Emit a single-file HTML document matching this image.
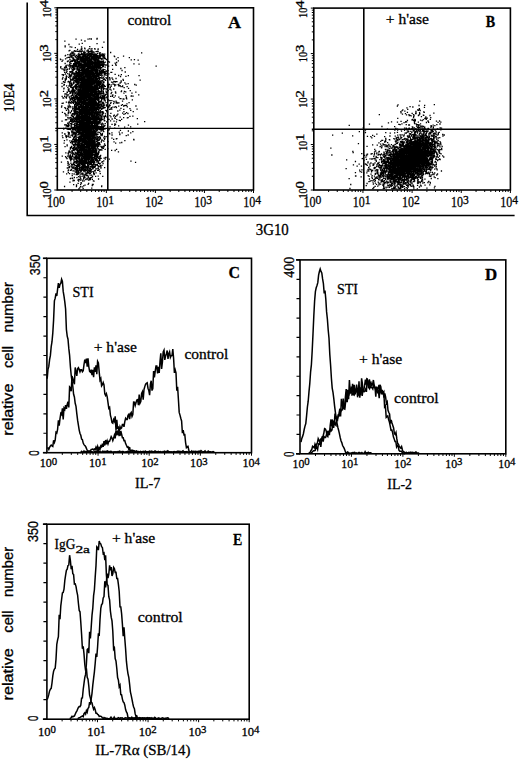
<!DOCTYPE html>
<html><head><meta charset="utf-8"><style>html,body{margin:0;padding:0;background:#fff;}svg{display:block;}</style></head>
<body><svg width="520" height="759" viewBox="0 0 520 759">
<rect width="520" height="759" fill="#fff"/>
<path d="M27.2 2.5V215.5H514.6" fill="none" stroke="#000" stroke-width="1.6"/>
<text transform="translate(13.80,112.20) rotate(-90)" font-size="15" font-family='"Liberation Serif", serif' textLength="28.7" lengthAdjust="spacingAndGlyphs" stroke="#000" stroke-width="0.3">10E4</text>
<text x="255.80" y="235.20" font-size="16" font-family='"Liberation Serif", serif' textLength="33.0" lengthAdjust="spacingAndGlyphs" stroke="#000" stroke-width="0.3">3G10</text>
<rect x="57.30" y="7.80" width="196.20" height="182.20" fill="none" stroke="#000" stroke-width="1.6"/>
<line x1="107.80" y1="7.80" x2="107.80" y2="190.00" stroke="#000" stroke-width="1.6"/>
<line x1="55.30" y1="128.40" x2="253.50" y2="128.40" stroke="#000" stroke-width="1.4"/>
<path d="M72.07 190.00v2.0M80.70 190.00v2.0M86.83 190.00v2.0M91.58 190.00v2.0M95.47 190.00v2.0M98.75 190.00v2.0M101.60 190.00v2.0M104.11 190.00v2.0M106.35 190.00v3.0M121.12 190.00v2.0M129.75 190.00v2.0M135.88 190.00v2.0M140.63 190.00v2.0M144.52 190.00v2.0M147.80 190.00v2.0M150.65 190.00v2.0M153.16 190.00v2.0M155.40 190.00v3.0M170.17 190.00v2.0M178.80 190.00v2.0M184.93 190.00v2.0M189.68 190.00v2.0M193.57 190.00v2.0M196.85 190.00v2.0M199.70 190.00v2.0M202.21 190.00v2.0M204.45 190.00v3.0M219.22 190.00v2.0M227.85 190.00v2.0M233.98 190.00v2.0M238.73 190.00v2.0M242.62 190.00v2.0M245.90 190.00v2.0M248.75 190.00v2.0M251.26 190.00v2.0M253.50 190.00v3.0" stroke="#000" stroke-width="1.0" fill="none"/>
<path d="M57.30 190.00h-3.0M57.30 176.29h-2.0M57.30 168.27h-2.0M57.30 162.58h-2.0M57.30 158.16h-2.0M57.30 154.56h-2.0M57.30 151.51h-2.0M57.30 148.86h-2.0M57.30 146.53h-2.0M57.30 144.45h-3.0M57.30 130.74h-2.0M57.30 122.72h-2.0M57.30 117.03h-2.0M57.30 112.61h-2.0M57.30 109.01h-2.0M57.30 105.96h-2.0M57.30 103.31h-2.0M57.30 100.98h-2.0M57.30 98.90h-3.0M57.30 85.19h-2.0M57.30 77.17h-2.0M57.30 71.48h-2.0M57.30 67.06h-2.0M57.30 63.46h-2.0M57.30 60.41h-2.0M57.30 57.76h-2.0M57.30 55.43h-2.0M57.30 53.35h-3.0M57.30 39.64h-2.0M57.30 31.62h-2.0M57.30 25.93h-2.0M57.30 21.51h-2.0M57.30 17.91h-2.0M57.30 14.86h-2.0M57.30 12.21h-2.0M57.30 9.88h-2.0M57.30 7.80h-3.0" stroke="#000" stroke-width="1.0" fill="none"/>
<text x="47.10" y="206.70" font-size="14.6" font-family='"Liberation Serif", serif' textLength="12.0" lengthAdjust="spacingAndGlyphs" stroke="#000" stroke-width="0.3">10</text>
<text x="59.10" y="203.50" font-size="12.0" font-family='"Liberation Serif", serif' textLength="5.8" lengthAdjust="spacingAndGlyphs" stroke="#000" stroke-width="0.3">0</text>
<text x="96.15" y="206.70" font-size="14.6" font-family='"Liberation Serif", serif' textLength="12.0" lengthAdjust="spacingAndGlyphs" stroke="#000" stroke-width="0.3">10</text>
<text x="108.15" y="203.50" font-size="12.0" font-family='"Liberation Serif", serif' textLength="5.8" lengthAdjust="spacingAndGlyphs" stroke="#000" stroke-width="0.3">1</text>
<text x="145.20" y="206.70" font-size="14.6" font-family='"Liberation Serif", serif' textLength="12.0" lengthAdjust="spacingAndGlyphs" stroke="#000" stroke-width="0.3">10</text>
<text x="157.20" y="203.50" font-size="12.0" font-family='"Liberation Serif", serif' textLength="5.8" lengthAdjust="spacingAndGlyphs" stroke="#000" stroke-width="0.3">2</text>
<text x="194.25" y="206.70" font-size="14.6" font-family='"Liberation Serif", serif' textLength="12.0" lengthAdjust="spacingAndGlyphs" stroke="#000" stroke-width="0.3">10</text>
<text x="206.25" y="203.50" font-size="12.0" font-family='"Liberation Serif", serif' textLength="5.8" lengthAdjust="spacingAndGlyphs" stroke="#000" stroke-width="0.3">3</text>
<text x="243.30" y="206.70" font-size="14.6" font-family='"Liberation Serif", serif' textLength="12.0" lengthAdjust="spacingAndGlyphs" stroke="#000" stroke-width="0.3">10</text>
<text x="255.30" y="203.50" font-size="12.0" font-family='"Liberation Serif", serif' textLength="5.8" lengthAdjust="spacingAndGlyphs" stroke="#000" stroke-width="0.3">4</text>
<text transform="translate(51.20,198.60) rotate(-90)" font-size="13.5" font-family='"Liberation Serif", serif' textLength="10.2" lengthAdjust="spacingAndGlyphs" stroke="#000" stroke-width="0.3">10</text>
<text transform="translate(48.20,188.40) rotate(-90)" font-size="11.5" font-family='"Liberation Serif", serif' textLength="7.4" lengthAdjust="spacingAndGlyphs" stroke="#000" stroke-width="0.3">0</text>
<text transform="translate(51.20,153.05) rotate(-90)" font-size="13.5" font-family='"Liberation Serif", serif' textLength="10.2" lengthAdjust="spacingAndGlyphs" stroke="#000" stroke-width="0.3">10</text>
<text transform="translate(48.20,142.85) rotate(-90)" font-size="11.5" font-family='"Liberation Serif", serif' textLength="7.4" lengthAdjust="spacingAndGlyphs" stroke="#000" stroke-width="0.3">1</text>
<text transform="translate(51.20,107.50) rotate(-90)" font-size="13.5" font-family='"Liberation Serif", serif' textLength="10.2" lengthAdjust="spacingAndGlyphs" stroke="#000" stroke-width="0.3">10</text>
<text transform="translate(48.20,97.30) rotate(-90)" font-size="11.5" font-family='"Liberation Serif", serif' textLength="7.4" lengthAdjust="spacingAndGlyphs" stroke="#000" stroke-width="0.3">2</text>
<text transform="translate(51.20,61.95) rotate(-90)" font-size="13.5" font-family='"Liberation Serif", serif' textLength="10.2" lengthAdjust="spacingAndGlyphs" stroke="#000" stroke-width="0.3">10</text>
<text transform="translate(48.20,51.75) rotate(-90)" font-size="11.5" font-family='"Liberation Serif", serif' textLength="7.4" lengthAdjust="spacingAndGlyphs" stroke="#000" stroke-width="0.3">3</text>
<text transform="translate(51.20,17.40) rotate(-90)" font-size="13.5" font-family='"Liberation Serif", serif' textLength="10.2" lengthAdjust="spacingAndGlyphs" stroke="#000" stroke-width="0.3">10</text>
<text transform="translate(48.20,7.20) rotate(-90)" font-size="11.5" font-family='"Liberation Serif", serif' textLength="7.4" lengthAdjust="spacingAndGlyphs" stroke="#000" stroke-width="0.3">4</text>
<text x="127.50" y="24.80" font-size="15" font-family='"Liberation Serif", serif' textLength="43.8" lengthAdjust="spacingAndGlyphs" stroke="#000" stroke-width="0.3">control</text>
<text x="228.10" y="27.60" font-size="17.5" font-family='"Liberation Serif", serif' font-weight="bold" textLength="13.0" lengthAdjust="spacingAndGlyphs" stroke="#000" stroke-width="0.3">A</text>
<rect x="313.80" y="8.10" width="196.60" height="181.90" fill="none" stroke="#000" stroke-width="1.6"/>
<line x1="363.80" y1="8.10" x2="363.80" y2="190.00" stroke="#000" stroke-width="1.6"/>
<line x1="311.80" y1="129.20" x2="510.40" y2="129.20" stroke="#000" stroke-width="1.4"/>
<path d="M328.60 190.00v2.0M337.25 190.00v2.0M343.39 190.00v2.0M348.15 190.00v2.0M352.05 190.00v2.0M355.34 190.00v2.0M358.19 190.00v2.0M360.70 190.00v2.0M362.95 190.00v3.0M377.75 190.00v2.0M386.40 190.00v2.0M392.54 190.00v2.0M397.30 190.00v2.0M401.20 190.00v2.0M404.49 190.00v2.0M407.34 190.00v2.0M409.85 190.00v2.0M412.10 190.00v3.0M426.90 190.00v2.0M435.55 190.00v2.0M441.69 190.00v2.0M446.45 190.00v2.0M450.35 190.00v2.0M453.64 190.00v2.0M456.49 190.00v2.0M459.00 190.00v2.0M461.25 190.00v3.0M476.05 190.00v2.0M484.70 190.00v2.0M490.84 190.00v2.0M495.60 190.00v2.0M499.50 190.00v2.0M502.79 190.00v2.0M505.64 190.00v2.0M508.15 190.00v2.0M510.40 190.00v3.0" stroke="#000" stroke-width="1.0" fill="none"/>
<path d="M313.80 190.00h-3.0M313.80 176.31h-2.0M313.80 168.30h-2.0M313.80 162.62h-2.0M313.80 158.21h-2.0M313.80 154.61h-2.0M313.80 151.57h-2.0M313.80 148.93h-2.0M313.80 146.61h-2.0M313.80 144.53h-3.0M313.80 130.84h-2.0M313.80 122.83h-2.0M313.80 117.15h-2.0M313.80 112.74h-2.0M313.80 109.14h-2.0M313.80 106.09h-2.0M313.80 103.46h-2.0M313.80 101.13h-2.0M313.80 99.05h-3.0M313.80 85.36h-2.0M313.80 77.35h-2.0M313.80 71.67h-2.0M313.80 67.26h-2.0M313.80 63.66h-2.0M313.80 60.62h-2.0M313.80 57.98h-2.0M313.80 55.66h-2.0M313.80 53.57h-3.0M313.80 39.89h-2.0M313.80 31.88h-2.0M313.80 26.20h-2.0M313.80 21.79h-2.0M313.80 18.19h-2.0M313.80 15.14h-2.0M313.80 12.51h-2.0M313.80 10.18h-2.0M313.80 8.10h-3.0" stroke="#000" stroke-width="1.0" fill="none"/>
<text x="303.60" y="206.70" font-size="14.6" font-family='"Liberation Serif", serif' textLength="12.0" lengthAdjust="spacingAndGlyphs" stroke="#000" stroke-width="0.3">10</text>
<text x="315.60" y="203.50" font-size="12.0" font-family='"Liberation Serif", serif' textLength="5.8" lengthAdjust="spacingAndGlyphs" stroke="#000" stroke-width="0.3">0</text>
<text x="352.75" y="206.70" font-size="14.6" font-family='"Liberation Serif", serif' textLength="12.0" lengthAdjust="spacingAndGlyphs" stroke="#000" stroke-width="0.3">10</text>
<text x="364.75" y="203.50" font-size="12.0" font-family='"Liberation Serif", serif' textLength="5.8" lengthAdjust="spacingAndGlyphs" stroke="#000" stroke-width="0.3">1</text>
<text x="401.90" y="206.70" font-size="14.6" font-family='"Liberation Serif", serif' textLength="12.0" lengthAdjust="spacingAndGlyphs" stroke="#000" stroke-width="0.3">10</text>
<text x="413.90" y="203.50" font-size="12.0" font-family='"Liberation Serif", serif' textLength="5.8" lengthAdjust="spacingAndGlyphs" stroke="#000" stroke-width="0.3">2</text>
<text x="451.05" y="206.70" font-size="14.6" font-family='"Liberation Serif", serif' textLength="12.0" lengthAdjust="spacingAndGlyphs" stroke="#000" stroke-width="0.3">10</text>
<text x="463.05" y="203.50" font-size="12.0" font-family='"Liberation Serif", serif' textLength="5.8" lengthAdjust="spacingAndGlyphs" stroke="#000" stroke-width="0.3">3</text>
<text x="500.20" y="206.70" font-size="14.6" font-family='"Liberation Serif", serif' textLength="12.0" lengthAdjust="spacingAndGlyphs" stroke="#000" stroke-width="0.3">10</text>
<text x="512.20" y="203.50" font-size="12.0" font-family='"Liberation Serif", serif' textLength="5.8" lengthAdjust="spacingAndGlyphs" stroke="#000" stroke-width="0.3">4</text>
<text transform="translate(306.60,198.60) rotate(-90)" font-size="13.5" font-family='"Liberation Serif", serif' textLength="10.2" lengthAdjust="spacingAndGlyphs" stroke="#000" stroke-width="0.3">10</text>
<text transform="translate(303.60,188.40) rotate(-90)" font-size="11.5" font-family='"Liberation Serif", serif' textLength="7.4" lengthAdjust="spacingAndGlyphs" stroke="#000" stroke-width="0.3">0</text>
<text transform="translate(306.60,151.12) rotate(-90)" font-size="13.5" font-family='"Liberation Serif", serif' textLength="10.2" lengthAdjust="spacingAndGlyphs" stroke="#000" stroke-width="0.3">10</text>
<text transform="translate(303.60,140.93) rotate(-90)" font-size="11.5" font-family='"Liberation Serif", serif' textLength="7.4" lengthAdjust="spacingAndGlyphs" stroke="#000" stroke-width="0.3">1</text>
<text transform="translate(306.60,107.65) rotate(-90)" font-size="13.5" font-family='"Liberation Serif", serif' textLength="10.2" lengthAdjust="spacingAndGlyphs" stroke="#000" stroke-width="0.3">10</text>
<text transform="translate(303.60,97.45) rotate(-90)" font-size="11.5" font-family='"Liberation Serif", serif' textLength="7.4" lengthAdjust="spacingAndGlyphs" stroke="#000" stroke-width="0.3">2</text>
<text transform="translate(306.60,62.17) rotate(-90)" font-size="13.5" font-family='"Liberation Serif", serif' textLength="10.2" lengthAdjust="spacingAndGlyphs" stroke="#000" stroke-width="0.3">10</text>
<text transform="translate(303.60,51.97) rotate(-90)" font-size="11.5" font-family='"Liberation Serif", serif' textLength="7.4" lengthAdjust="spacingAndGlyphs" stroke="#000" stroke-width="0.3">3</text>
<text transform="translate(306.60,17.90) rotate(-90)" font-size="13.5" font-family='"Liberation Serif", serif' textLength="10.2" lengthAdjust="spacingAndGlyphs" stroke="#000" stroke-width="0.3">10</text>
<text transform="translate(303.60,7.70) rotate(-90)" font-size="11.5" font-family='"Liberation Serif", serif' textLength="7.4" lengthAdjust="spacingAndGlyphs" stroke="#000" stroke-width="0.3">4</text>
<text x="385.80" y="23.60" font-size="15" font-family='"Liberation Serif", serif' textLength="43.2" lengthAdjust="spacingAndGlyphs" stroke="#000" stroke-width="0.3">+ h'ase</text>
<text x="485.80" y="27.00" font-size="16.5" font-family='"Liberation Serif", serif' font-weight="bold" textLength="9.4" lengthAdjust="spacingAndGlyphs" stroke="#000" stroke-width="0.3">B</text>
<path d="M69.6 100.2h1.3M81.2 84.1h1.3M87.8 96.9h1.3M83.4 53.4h1.3M78.0 74.3h1.3M78.1 70.5h1.3M91.8 94.1h1.3M72.4 52.2h1.3M88.3 137.8h1.3M89.7 86.6h1.3M78.6 56.7h1.3M97.3 99.8h1.3M78.7 159.4h1.3M81.3 169.8h1.3M85.8 103.2h1.3M84.1 156.6h1.3M78.1 159.2h1.3M82.7 99.5h1.3M81.8 160.3h1.3M97.0 53.4h1.3M90.1 134.1h1.3M89.4 150.4h1.3M89.1 170.4h1.3M69.6 149.2h1.3M99.5 121.0h1.3M98.1 66.3h1.3M94.1 97.9h1.3M75.0 168.9h1.3M91.2 87.9h1.3M96.4 123.8h1.3M98.4 78.8h1.3M85.8 117.6h1.3M83.4 148.7h1.3M82.6 159.0h1.3M69.7 93.0h1.3M93.4 135.1h1.3M86.4 144.8h1.3M91.0 51.8h1.3M88.5 57.7h1.3M100.7 111.8h1.3M94.4 158.7h1.3M90.0 75.7h1.3M77.0 134.8h1.3M82.2 97.7h1.3M84.9 115.4h1.3M86.9 112.0h1.3M88.7 61.0h1.3M96.5 98.5h1.3M92.0 73.4h1.3M80.6 105.0h1.3M95.4 59.9h1.3M88.6 136.0h1.3M89.2 72.4h1.3M84.0 58.6h1.3M96.8 63.4h1.3M83.1 146.1h1.3M85.9 110.3h1.3M91.2 128.9h1.3M80.5 60.9h1.3M80.2 67.3h1.3M88.9 62.8h1.3M73.9 132.8h1.3M90.2 62.1h1.3M102.3 112.0h1.3M79.7 153.1h1.3M87.6 99.2h1.3M73.0 68.1h1.3M91.3 73.8h1.3M103.9 71.7h1.3M90.3 57.1h1.3M100.7 80.8h1.3M69.5 83.5h1.3M75.8 155.5h1.3M80.0 184.4h1.3M103.3 86.4h1.3M84.7 86.0h1.3M80.9 160.7h1.3M91.8 156.9h1.3M88.2 54.1h1.3M87.4 131.4h1.3M97.3 111.6h1.3M93.0 138.2h1.3M86.6 69.0h1.3M83.9 113.0h1.3M81.0 98.2h1.3M81.1 93.1h1.3M96.7 81.6h1.3M84.5 158.1h1.3M81.7 131.9h1.3M85.5 101.8h1.3M89.8 141.8h1.3M96.6 66.6h1.3M79.4 55.7h1.3M84.2 69.8h1.3M83.8 135.7h1.3M84.3 90.6h1.3M95.2 81.4h1.3M96.5 56.7h1.3M88.2 148.9h1.3M79.4 110.3h1.3M98.9 54.2h1.3M87.0 118.1h1.3M80.4 133.6h1.3M100.8 78.0h1.3M80.8 91.7h1.3M89.8 158.0h1.3M100.0 56.7h1.3M84.7 82.0h1.3M91.9 134.2h1.3M88.2 133.6h1.3M95.7 113.8h1.3M92.0 146.6h1.3M94.6 107.3h1.3M96.7 115.5h1.3M92.3 77.9h1.3M87.3 145.9h1.3M78.3 58.6h1.3M100.0 126.7h1.3M86.4 131.3h1.3M83.8 123.6h1.3M84.8 155.6h1.3M94.4 98.9h1.3M84.9 93.5h1.3M82.4 60.0h1.3M98.3 100.2h1.3M89.6 139.6h1.3M74.3 68.6h1.3M88.3 63.8h1.3M76.1 171.4h1.3M101.6 80.6h1.3M77.7 99.3h1.3M96.0 129.5h1.3M80.2 66.8h1.3M102.8 69.5h1.3M88.9 59.4h1.3M91.2 100.8h1.3M80.5 127.1h1.3M91.9 125.1h1.3M92.7 158.0h1.3M93.8 112.9h1.3M88.1 108.0h1.3M80.5 49.1h1.3M80.7 140.6h1.3M87.9 102.4h1.3M82.9 94.1h1.3M84.9 156.8h1.3M73.7 164.4h1.3M99.5 69.4h1.3M88.4 138.0h1.3M82.5 161.6h1.3M73.1 90.3h1.3M70.8 68.2h1.3M84.3 63.5h1.3M72.6 144.5h1.3M83.0 78.2h1.3M82.3 123.5h1.3M96.7 64.8h1.3M81.0 144.2h1.3M95.6 121.7h1.3M87.2 104.0h1.3M82.4 84.2h1.3M90.9 70.8h1.3M83.3 85.5h1.3M79.8 82.8h1.3M82.4 109.8h1.3M99.8 68.7h1.3M92.7 69.4h1.3M90.2 55.3h1.3M90.3 122.2h1.3M66.4 158.5h1.3M88.5 127.6h1.3M82.9 78.2h1.3M81.1 54.8h1.3M88.1 158.7h1.3M75.8 174.6h1.3M85.2 130.0h1.3M76.8 174.6h1.3M76.2 137.3h1.3M72.9 134.0h1.3M89.8 81.3h1.3M78.0 121.8h1.3M79.5 149.2h1.3M81.7 67.4h1.3M74.2 144.1h1.3M70.0 87.2h1.3M91.7 56.4h1.3M101.5 127.4h1.3M62.2 97.8h1.3M82.0 99.1h1.3M81.1 66.3h1.3M73.1 147.4h1.3M77.8 152.4h1.3M84.7 58.9h1.3M91.2 52.4h1.3M73.9 148.1h1.3M84.9 101.1h1.3M78.6 91.0h1.3M76.7 144.0h1.3M83.5 118.8h1.3M101.5 126.5h1.3M93.5 113.7h1.3M89.4 74.6h1.3M100.5 55.0h1.3M93.6 68.6h1.3M93.8 134.1h1.3M96.2 123.2h1.3M86.7 55.7h1.3M100.4 82.0h1.3M92.0 133.1h1.3M77.2 160.6h1.3M94.6 69.3h1.3M103.6 116.5h1.3M91.0 159.9h1.3M74.7 93.7h1.3M91.3 66.6h1.3M96.4 119.5h1.3M85.5 63.0h1.3M80.2 102.3h1.3M98.2 93.0h1.3M95.5 136.9h1.3M105.1 94.4h1.3M106.8 99.3h1.3M76.6 125.3h1.3M83.9 126.5h1.3M86.4 115.4h1.3M80.3 111.6h1.3M84.0 154.5h1.3M92.3 72.2h1.3M72.8 59.2h1.3M81.1 49.3h1.3M78.7 144.5h1.3M90.9 166.8h1.3M85.2 56.8h1.3M83.6 60.3h1.3M85.4 143.4h1.3M92.1 96.2h1.3M103.0 125.9h1.3M84.0 118.8h1.3M71.4 120.3h1.3M92.8 147.8h1.3M94.2 106.4h1.3M79.0 57.1h1.3M67.6 129.3h1.3M94.8 94.8h1.3M96.2 161.1h1.3M92.2 106.2h1.3M87.6 81.0h1.3M86.9 138.6h1.3M101.1 126.1h1.3M90.6 91.0h1.3M79.0 160.5h1.3M96.6 66.0h1.3M81.3 69.3h1.3M92.2 71.7h1.3M76.9 116.6h1.3M87.8 146.6h1.3M93.8 166.5h1.3M89.5 70.6h1.3M79.6 124.1h1.3M87.4 113.4h1.3M91.6 129.0h1.3M76.5 62.1h1.3M90.6 117.2h1.3M87.7 170.2h1.3M88.5 97.6h1.3M85.6 83.0h1.3M85.4 134.3h1.3M90.0 146.2h1.3M87.9 166.2h1.3M81.3 83.4h1.3M81.1 116.1h1.3M75.9 171.9h1.3M93.8 56.2h1.3M77.7 108.5h1.3M75.6 60.1h1.3M81.8 107.7h1.3M74.7 47.6h1.3M90.2 54.9h1.3M83.1 52.4h1.3M75.6 140.7h1.3M100.0 93.6h1.3M91.9 117.2h1.3M79.6 154.8h1.3M102.4 63.4h1.3M79.5 121.3h1.3M94.9 88.9h1.3M87.2 138.9h1.3M93.8 96.8h1.3M85.0 160.3h1.3M78.0 103.4h1.3M86.5 130.3h1.3M93.9 96.1h1.3M95.8 83.7h1.3M103.7 98.3h1.3M89.7 51.4h1.3M79.9 79.4h1.3M97.6 94.9h1.3M83.9 145.6h1.3M87.0 151.6h1.3M102.1 84.0h1.3M86.6 76.6h1.3M91.7 58.6h1.3M94.3 84.8h1.3M75.6 160.0h1.3M78.4 116.8h1.3M100.9 85.7h1.3M80.7 143.4h1.3M88.2 67.5h1.3M97.4 98.2h1.3M70.6 101.3h1.3M94.5 77.9h1.3M96.0 66.6h1.3M80.8 94.2h1.3M81.0 117.9h1.3M80.0 97.7h1.3M87.7 103.0h1.3M83.1 94.6h1.3M83.5 168.3h1.3M78.3 62.7h1.3M98.6 142.7h1.3M75.3 165.6h1.3M82.9 113.5h1.3M96.0 108.4h1.3M70.8 127.1h1.3M86.3 141.9h1.3M78.5 76.9h1.3M70.9 159.3h1.3M90.9 162.0h1.3M102.5 88.3h1.3M96.7 145.1h1.3M94.4 118.7h1.3M72.7 127.4h1.3M85.6 131.0h1.3M71.7 143.8h1.3M78.6 122.7h1.3M80.9 129.3h1.3M94.9 78.0h1.3M89.6 63.8h1.3M84.1 76.1h1.3M90.5 72.5h1.3M85.8 154.2h1.3M86.6 54.8h1.3M75.8 103.3h1.3M101.2 67.7h1.3M89.3 54.7h1.3M84.4 66.3h1.3M96.7 124.8h1.3M95.6 60.2h1.3M94.7 113.9h1.3M100.9 89.9h1.3M88.6 152.2h1.3M83.5 62.5h1.3M65.3 115.9h1.3M97.5 118.8h1.3M92.7 133.7h1.3M85.6 91.3h1.3M76.2 129.1h1.3M86.7 109.3h1.3M72.3 168.5h1.3M83.4 113.5h1.3M93.2 102.8h1.3M75.7 80.8h1.3M91.7 165.6h1.3M82.5 160.6h1.3M75.4 71.9h1.3M93.4 52.9h1.3M79.9 122.8h1.3M74.8 87.7h1.3M95.0 127.5h1.3M83.3 96.1h1.3M69.1 106.1h1.3M86.4 129.4h1.3M89.2 83.8h1.3M85.8 58.3h1.3M87.9 134.5h1.3M85.5 69.2h1.3M80.3 153.5h1.3M88.8 94.4h1.3M83.4 91.5h1.3M102.0 66.7h1.3M81.2 85.3h1.3M78.6 164.1h1.3M97.0 112.1h1.3M106.2 73.4h1.3M81.1 50.9h1.3M97.3 157.0h1.3M94.0 96.8h1.3M84.7 113.2h1.3M85.4 152.5h1.3M82.6 130.6h1.3M97.0 96.5h1.3M92.2 80.4h1.3M82.0 133.1h1.3M103.4 76.1h1.3M74.4 78.5h1.3M76.8 103.6h1.3M81.1 109.0h1.3M82.4 69.8h1.3M80.6 128.8h1.3M85.3 146.7h1.3M81.6 130.9h1.3M82.8 127.6h1.3M93.4 53.0h1.3M79.3 73.7h1.3M92.2 154.0h1.3M78.6 69.7h1.3M91.6 135.8h1.3M87.7 83.2h1.3M96.0 82.6h1.3M85.3 66.7h1.3M92.0 91.6h1.3M88.3 94.0h1.3M87.7 136.0h1.3M80.3 126.1h1.3M88.9 72.8h1.3M69.3 98.2h1.3M96.9 72.7h1.3M85.4 75.8h1.3M95.0 134.3h1.3M90.2 87.3h1.3M92.7 98.6h1.3M90.8 111.9h1.3M76.2 93.9h1.3M83.6 64.9h1.3M92.5 58.6h1.3M95.8 97.9h1.3M88.9 90.0h1.3M71.1 101.9h1.3M69.4 59.5h1.3M70.9 91.6h1.3M102.1 102.5h1.3M90.6 110.2h1.3M83.5 130.3h1.3M75.7 57.8h1.3M97.5 176.2h1.3M70.2 156.4h1.3M94.3 153.9h1.3M76.6 86.5h1.3M75.8 133.1h1.3M94.0 135.1h1.3M80.8 79.7h1.3M73.1 59.7h1.3M83.3 154.5h1.3M67.0 123.1h1.3M103.9 58.4h1.3M99.5 137.1h1.3M86.7 84.9h1.3M78.3 63.5h1.3M94.6 105.8h1.3M78.7 139.0h1.3M100.2 105.2h1.3M79.8 97.9h1.3M92.0 89.1h1.3M95.7 151.6h1.3M81.8 64.2h1.3M87.1 154.2h1.3M90.3 98.8h1.3M81.7 119.7h1.3M79.4 152.9h1.3M90.2 97.3h1.3M84.6 109.6h1.3M91.2 151.9h1.3M84.4 97.3h1.3M83.3 137.9h1.3M84.0 60.8h1.3M93.9 74.7h1.3M92.8 140.4h1.3M86.4 147.7h1.3M70.5 135.4h1.3M91.5 147.6h1.3M90.2 77.8h1.3M87.9 142.4h1.3M87.5 68.5h1.3M92.0 109.0h1.3M79.9 95.8h1.3M85.2 133.0h1.3M88.6 153.5h1.3M71.2 98.4h1.3M85.5 158.5h1.3M79.7 139.4h1.3M84.4 140.0h1.3M92.3 139.1h1.3M76.8 62.3h1.3M100.0 65.7h1.3M86.9 125.8h1.3M65.6 135.8h1.3M81.1 160.9h1.3M97.3 94.0h1.3M84.8 134.5h1.3M100.5 106.7h1.3M92.5 113.2h1.3M80.1 99.5h1.3M82.0 56.2h1.3M87.7 78.2h1.3M101.0 186.7h1.3M80.5 64.3h1.3M91.4 107.7h1.3M86.5 124.4h1.3M84.8 81.7h1.3M77.1 77.8h1.3M84.6 158.9h1.3M88.3 62.1h1.3M95.5 155.8h1.3M87.8 180.1h1.3M83.3 80.5h1.3M64.4 146.7h1.3M86.8 67.8h1.3M83.8 119.6h1.3M89.2 71.8h1.3M98.3 64.3h1.3M85.7 94.5h1.3M86.1 64.0h1.3M74.8 108.7h1.3M71.7 151.2h1.3M65.5 119.6h1.3M74.6 113.4h1.3M84.8 61.8h1.3M79.8 113.8h1.3M84.4 94.6h1.3M103.2 71.7h1.3M87.9 129.9h1.3M85.4 70.2h1.3M89.8 171.8h1.3M95.5 61.4h1.3M74.8 119.4h1.3M89.6 86.5h1.3M83.6 97.3h1.3M76.9 146.0h1.3M71.0 74.9h1.3M87.6 69.1h1.3M90.8 64.0h1.3M76.4 128.6h1.3M81.0 122.5h1.3M80.7 79.8h1.3M80.1 127.0h1.3M95.9 136.8h1.3M89.0 82.4h1.3M95.2 83.1h1.3M87.8 158.1h1.3M76.3 108.5h1.3M106.1 106.0h1.3M92.0 62.2h1.3M71.8 95.3h1.3M98.5 169.6h1.3M89.7 123.5h1.3M100.3 146.3h1.3M87.6 137.9h1.3M90.0 51.1h1.3M81.8 107.3h1.3M90.8 98.9h1.3M97.1 146.8h1.3M84.1 114.4h1.3M69.6 61.1h1.3M92.3 126.8h1.3M100.3 105.0h1.3M97.8 98.8h1.3M88.5 58.9h1.3M82.6 67.4h1.3M89.7 73.8h1.3M102.0 98.2h1.3M87.8 90.8h1.3M95.4 152.6h1.3M85.3 108.2h1.3M91.1 88.3h1.3M68.1 102.5h1.3M98.8 74.5h1.3M105.0 80.1h1.3M94.5 122.7h1.3M84.3 120.3h1.3M94.5 144.0h1.3M105.0 116.4h1.3M87.9 154.0h1.3M88.2 65.9h1.3M80.5 87.8h1.3M72.0 71.7h1.3M67.8 109.9h1.3M79.7 155.0h1.3M102.9 129.0h1.3M93.1 54.6h1.3M93.7 131.3h1.3M95.1 57.2h1.3M86.8 88.9h1.3M78.9 72.5h1.3M75.7 106.1h1.3M88.3 58.3h1.3M75.8 150.2h1.3M95.7 87.5h1.3M97.7 93.9h1.3M84.2 77.6h1.3M97.9 83.3h1.3M75.6 71.9h1.3M86.6 54.0h1.3M82.3 86.5h1.3M71.6 70.1h1.3M82.7 113.9h1.3M80.2 101.7h1.3M81.2 63.9h1.3M102.0 147.9h1.3M96.0 125.3h1.3M89.2 150.6h1.3M73.1 117.4h1.3M88.6 155.3h1.3M80.1 163.2h1.3M94.4 73.5h1.3M86.3 82.3h1.3M98.6 121.1h1.3M98.4 136.9h1.3M82.2 165.5h1.3M83.7 91.4h1.3M76.6 75.1h1.3M77.2 154.5h1.3M95.4 89.3h1.3M82.3 140.0h1.3M69.2 55.0h1.3M88.8 56.7h1.3M76.8 101.8h1.3M99.0 108.5h1.3M93.4 67.2h1.3M78.6 114.9h1.3M85.0 113.2h1.3M96.5 115.2h1.3M74.8 97.3h1.3M79.4 119.0h1.3M97.8 97.4h1.3M90.2 96.8h1.3M70.9 84.8h1.3M92.2 164.7h1.3M64.8 119.9h1.3M91.6 85.1h1.3M86.9 120.0h1.3M79.1 129.1h1.3M76.5 126.4h1.3M104.1 57.1h1.3M92.1 103.5h1.3M85.8 152.0h1.3M84.6 87.7h1.3M94.3 73.8h1.3M90.8 84.2h1.3M74.4 101.2h1.3M80.3 134.3h1.3M74.5 119.7h1.3M79.3 147.1h1.3M93.1 134.2h1.3M92.5 82.3h1.3M71.9 128.7h1.3M91.8 139.8h1.3M79.4 162.6h1.3M73.8 112.4h1.3M90.0 152.8h1.3M88.7 148.5h1.3M90.2 160.1h1.3M73.7 66.9h1.3M94.0 112.6h1.3M90.7 102.0h1.3M84.8 86.9h1.3M76.8 56.4h1.3M86.9 102.6h1.3M81.2 166.6h1.3M86.7 142.3h1.3M92.6 66.0h1.3M104.2 69.7h1.3M94.0 120.7h1.3M80.4 146.4h1.3M105.4 157.5h1.3M98.4 117.0h1.3M92.8 119.8h1.3M79.6 65.2h1.3M80.6 99.0h1.3M96.5 120.8h1.3M93.3 79.1h1.3M93.0 126.8h1.3M83.0 101.2h1.3M89.4 111.9h1.3M71.7 99.5h1.3M91.7 179.4h1.3M84.2 128.7h1.3M85.3 139.4h1.3M94.6 70.0h1.3M79.6 76.5h1.3M79.7 141.8h1.3M90.7 64.0h1.3M102.8 92.7h1.3M99.0 118.1h1.3M79.9 100.4h1.3M84.0 96.1h1.3M79.5 56.2h1.3M88.5 149.0h1.3M88.8 155.8h1.3M93.6 152.3h1.3M83.2 100.3h1.3M101.9 71.2h1.3M89.1 119.2h1.3M85.1 60.0h1.3M88.5 79.6h1.3M83.3 131.8h1.3M80.6 87.3h1.3M86.5 137.3h1.3M78.2 98.5h1.3M79.5 158.8h1.3M82.1 138.5h1.3M86.6 88.4h1.3M101.2 74.8h1.3M81.5 107.7h1.3M84.3 174.8h1.3M84.3 91.6h1.3M80.9 110.6h1.3M83.8 157.7h1.3M87.6 102.8h1.3M79.9 98.7h1.3M85.1 143.5h1.3M76.6 152.9h1.3M91.8 100.2h1.3M72.4 117.1h1.3M66.2 96.3h1.3M99.6 173.7h1.3M95.3 93.5h1.3M65.7 78.0h1.3M84.9 93.0h1.3M86.8 69.2h1.3M71.0 153.2h1.3M97.5 157.4h1.3M66.5 145.8h1.3M86.3 92.3h1.3M82.9 133.8h1.3M82.0 150.1h1.3M81.7 98.1h1.3M94.9 63.0h1.3M82.0 164.4h1.3M90.0 91.3h1.3M81.4 81.1h1.3M96.2 63.9h1.3M70.5 61.7h1.3M90.0 120.9h1.3M94.3 92.2h1.3M75.3 136.7h1.3M71.6 175.7h1.3M73.8 114.5h1.3M78.6 169.2h1.3M81.7 83.3h1.3M81.6 109.6h1.3M78.8 156.7h1.3M65.5 93.8h1.3M84.6 98.8h1.3M97.4 108.1h1.3M80.1 111.8h1.3M87.6 141.6h1.3M86.4 158.5h1.3M92.1 131.1h1.3M77.9 151.6h1.3M72.0 79.1h1.3M80.3 95.9h1.3M98.8 136.7h1.3M94.4 86.8h1.3M87.1 91.1h1.3M86.6 125.0h1.3M82.0 141.5h1.3M96.5 57.1h1.3M79.0 117.2h1.3M80.4 96.0h1.3M89.4 56.5h1.3M82.6 166.9h1.3M92.1 162.6h1.3M84.7 78.8h1.3M91.6 185.7h1.3M100.9 70.7h1.3M78.8 157.5h1.3M87.8 148.6h1.3M80.3 122.5h1.3M79.1 140.2h1.3M82.3 62.0h1.3M81.8 94.2h1.3M83.7 91.3h1.3M95.8 124.5h1.3M87.2 63.6h1.3M80.8 168.1h1.3M86.3 135.6h1.3M94.3 139.3h1.3M76.3 126.1h1.3M76.8 97.1h1.3M99.3 58.9h1.3M87.6 73.0h1.3M83.3 70.3h1.3M67.7 172.7h1.3M102.8 61.0h1.3M76.2 74.5h1.3M70.0 91.9h1.3M82.6 141.7h1.3M89.3 86.3h1.3M71.8 57.8h1.3M91.4 56.6h1.3M89.1 163.2h1.3M75.3 57.3h1.3M73.7 91.4h1.3M86.4 137.1h1.3M94.4 136.9h1.3M86.4 87.6h1.3M80.2 75.7h1.3M92.6 78.5h1.3M67.8 106.9h1.3M83.1 165.4h1.3M85.6 90.3h1.3M85.3 173.1h1.3M89.4 145.7h1.3M84.3 115.9h1.3M77.7 164.5h1.3M94.6 151.2h1.3M88.9 142.7h1.3M76.2 161.2h1.3M74.6 134.8h1.3M92.4 118.8h1.3M80.1 99.8h1.3M86.8 115.0h1.3M88.2 114.3h1.3M91.4 95.7h1.3M86.3 178.9h1.3M88.8 161.4h1.3M76.4 156.5h1.3M82.7 80.8h1.3M83.6 167.1h1.3M77.5 93.1h1.3M84.5 112.0h1.3M96.2 73.3h1.3M76.1 88.2h1.3M92.0 118.8h1.3M91.0 68.2h1.3M99.5 97.4h1.3M86.2 115.4h1.3M87.2 121.6h1.3M94.3 123.6h1.3M85.9 66.8h1.3M78.7 95.2h1.3M96.5 98.5h1.3M95.9 57.9h1.3M91.2 99.0h1.3M82.9 109.4h1.3M73.0 83.8h1.3M86.1 112.9h1.3M86.6 135.6h1.3M85.3 107.3h1.3M81.9 88.1h1.3M82.1 98.7h1.3M70.0 157.1h1.3M93.2 90.7h1.3M81.8 51.0h1.3M94.1 124.2h1.3M78.9 108.3h1.3M91.5 91.0h1.3M83.1 127.6h1.3M66.1 136.2h1.3M98.1 95.3h1.3M94.1 75.2h1.3M73.8 147.9h1.3M99.5 122.6h1.3M87.2 73.8h1.3M69.3 151.5h1.3M91.4 70.6h1.3M97.9 94.0h1.3M88.8 173.7h1.3M93.1 91.2h1.3M84.6 154.5h1.3M84.0 72.8h1.3M72.6 76.4h1.3M101.0 86.3h1.3M70.8 141.9h1.3M76.0 117.5h1.3M80.1 178.4h1.3M80.2 80.6h1.3M72.7 77.9h1.3M74.6 156.4h1.3M97.4 113.1h1.3M83.0 130.5h1.3M76.3 60.8h1.3M88.7 100.7h1.3M99.7 81.3h1.3M83.7 98.0h1.3M95.4 92.3h1.3M75.8 141.9h1.3M83.9 138.7h1.3M82.3 153.2h1.3M84.0 72.9h1.3M100.9 65.3h1.3M83.0 86.2h1.3M72.1 139.5h1.3M87.5 128.6h1.3M83.1 146.4h1.3M84.0 152.1h1.3M96.2 146.0h1.3M88.5 107.5h1.3M77.5 61.5h1.3M91.4 71.0h1.3M84.5 163.2h1.3M90.3 69.9h1.3M74.3 133.3h1.3M74.7 167.6h1.3M85.9 146.1h1.3M98.9 118.7h1.3M75.1 96.2h1.3M88.2 101.9h1.3M97.6 154.3h1.3M96.0 133.8h1.3M98.6 91.3h1.3M82.3 120.0h1.3M99.5 115.2h1.3M80.9 111.3h1.3M93.0 79.6h1.3M92.8 108.1h1.3M78.7 64.7h1.3M89.7 120.9h1.3M83.5 146.6h1.3M84.6 139.5h1.3M95.9 62.3h1.3M78.2 133.3h1.3M95.6 150.8h1.3M87.7 177.2h1.3M83.9 107.4h1.3M83.6 169.5h1.3M90.6 111.2h1.3M73.8 124.1h1.3M82.6 147.1h1.3M97.8 90.9h1.3M80.9 157.4h1.3M79.1 152.2h1.3M90.0 100.6h1.3M79.1 130.6h1.3M91.0 166.7h1.3M95.5 115.8h1.3M80.3 104.7h1.3M89.9 108.0h1.3M84.7 138.2h1.3M102.2 56.4h1.3M100.0 113.1h1.3M82.2 131.3h1.3M100.2 92.8h1.3M86.7 123.6h1.3M77.3 127.9h1.3M84.5 82.3h1.3M79.5 67.6h1.3M93.0 79.8h1.3M83.0 179.0h1.3M83.2 71.6h1.3M95.4 54.0h1.3M68.1 103.2h1.3M85.8 129.7h1.3M80.0 148.1h1.3M82.2 129.5h1.3M85.8 75.4h1.3M85.1 112.9h1.3M77.5 147.9h1.3M96.9 117.5h1.3M93.9 152.3h1.3M86.9 63.5h1.3M79.7 85.6h1.3M78.3 163.4h1.3M95.5 73.8h1.3M72.6 92.1h1.3M96.2 124.6h1.3M84.8 120.5h1.3M97.8 168.1h1.3M74.9 76.5h1.3M86.0 117.7h1.3M76.5 94.6h1.3M77.9 127.0h1.3M96.7 89.5h1.3M87.6 116.5h1.3M78.0 102.3h1.3M92.9 81.7h1.3M94.2 155.1h1.3M100.6 124.3h1.3M84.7 87.8h1.3M94.2 131.9h1.3M77.9 109.7h1.3M83.1 54.8h1.3M87.9 123.0h1.3M79.2 85.2h1.3M82.6 132.4h1.3M95.4 134.4h1.3M77.8 131.6h1.3M74.6 92.9h1.3M88.6 54.2h1.3M86.7 72.3h1.3M88.3 93.4h1.3M97.4 123.4h1.3M78.5 116.8h1.3M85.4 134.2h1.3M95.9 159.5h1.3M102.8 84.5h1.3M99.6 83.3h1.3M95.3 96.4h1.3M90.2 163.9h1.3M81.6 82.1h1.3M82.8 127.3h1.3M95.8 139.1h1.3M72.4 124.6h1.3M86.8 73.8h1.3M87.9 58.1h1.3M89.7 148.3h1.3M82.2 99.4h1.3M88.0 150.2h1.3M91.2 101.6h1.3M87.2 140.5h1.3M85.1 63.8h1.3M101.5 75.5h1.3M93.5 80.2h1.3M93.8 170.9h1.3M79.8 65.4h1.3M77.2 102.8h1.3M83.4 160.7h1.3M84.4 86.7h1.3M90.6 154.8h1.3M85.4 89.6h1.3M70.0 121.4h1.3M70.9 71.7h1.3M82.7 147.0h1.3M78.4 147.4h1.3M79.7 129.1h1.3M95.3 98.5h1.3M76.0 87.9h1.3M76.2 115.2h1.3M84.7 86.1h1.3M104.1 120.6h1.3M84.0 111.7h1.3M97.3 146.1h1.3M90.0 76.6h1.3M97.8 62.9h1.3M86.9 106.7h1.3M81.2 106.0h1.3M83.4 73.4h1.3M89.6 117.9h1.3M91.7 145.0h1.3M96.0 103.7h1.3M102.2 104.0h1.3M74.6 152.5h1.3M93.8 99.3h1.3M93.0 87.3h1.3M67.6 162.9h1.3M83.7 143.3h1.3M80.3 112.8h1.3M89.3 59.7h1.3M88.2 133.6h1.3M72.6 90.4h1.3M82.4 65.9h1.3M91.8 82.2h1.3M87.9 92.3h1.3M89.4 113.4h1.3M90.3 93.2h1.3M98.5 101.6h1.3M89.0 118.3h1.3M88.8 138.8h1.3M103.7 96.5h1.3M85.4 132.8h1.3M85.8 112.5h1.3M98.8 88.3h1.3M93.1 87.3h1.3M101.1 162.2h1.3M97.3 86.5h1.3M77.6 165.5h1.3M92.8 59.5h1.3M79.8 51.7h1.3M84.4 91.4h1.3M91.0 158.4h1.3M81.7 115.5h1.3M79.2 163.7h1.3M84.6 58.5h1.3M77.8 102.1h1.3M102.3 84.0h1.3M78.3 66.5h1.3M97.4 56.9h1.3M96.1 62.5h1.3M85.8 73.9h1.3M98.4 79.0h1.3M79.6 80.7h1.3M78.8 126.6h1.3M87.5 87.3h1.3M90.6 132.2h1.3M88.3 83.5h1.3M84.2 126.6h1.3M73.5 120.1h1.3M93.6 134.9h1.3M78.1 73.6h1.3M66.7 69.4h1.3M90.1 132.1h1.3M99.8 158.5h1.3M102.6 127.9h1.3M91.8 92.8h1.3M70.0 117.6h1.3M96.3 124.8h1.3M77.0 111.3h1.3M88.9 84.0h1.3M83.7 144.8h1.3M93.8 157.1h1.3M84.5 58.2h1.3M78.6 141.4h1.3M93.5 64.9h1.3M81.6 133.3h1.3M73.2 98.8h1.3M83.9 131.2h1.3M100.3 94.7h1.3M100.2 135.2h1.3M91.9 128.7h1.3M71.9 178.7h1.3M91.6 84.3h1.3M81.6 163.8h1.3M87.2 165.9h1.3M93.6 152.7h1.3M88.8 113.5h1.3M93.1 159.6h1.3M86.2 148.0h1.3M84.2 93.1h1.3M79.6 63.3h1.3M92.9 79.7h1.3M88.4 141.8h1.3M90.3 103.6h1.3M80.0 143.9h1.3M98.6 158.4h1.3M60.2 66.7h1.3M71.5 134.0h1.3M101.0 127.0h1.3M95.3 93.6h1.3M92.5 59.5h1.3M74.5 101.8h1.3M75.2 149.3h1.3M98.3 82.0h1.3M78.5 137.8h1.3M84.7 74.2h1.3M74.3 64.1h1.3M93.2 63.9h1.3M83.2 71.2h1.3M101.2 106.9h1.3M97.9 96.4h1.3M79.7 133.5h1.3M93.5 86.7h1.3M90.3 133.9h1.3M64.8 80.2h1.3M74.6 135.8h1.3M79.0 114.0h1.3M87.2 136.1h1.3M81.0 85.8h1.3M77.5 68.7h1.3M89.3 130.1h1.3M102.6 66.1h1.3M75.2 71.6h1.3M76.7 83.2h1.3M93.7 161.4h1.3M95.7 96.7h1.3M76.3 168.1h1.3M73.8 140.5h1.3M81.5 69.5h1.3M79.8 132.9h1.3M84.6 131.1h1.3M89.7 95.9h1.3M80.1 83.0h1.3M69.2 71.7h1.3M88.6 179.3h1.3M95.9 144.2h1.3M89.2 114.5h1.3M90.6 105.4h1.3M66.3 57.9h1.3M99.0 61.0h1.3M81.0 136.3h1.3M101.6 71.5h1.3M74.9 82.0h1.3M83.2 123.0h1.3M82.7 96.8h1.3M80.7 127.3h1.3M78.7 81.0h1.3M99.1 91.5h1.3M83.4 143.9h1.3M85.9 128.5h1.3M97.6 56.0h1.3M88.6 51.7h1.3M68.6 102.8h1.3M91.2 115.7h1.3M89.5 99.1h1.3M80.5 97.8h1.3M100.7 105.3h1.3M72.8 101.0h1.3M81.2 162.9h1.3M86.9 55.7h1.3M83.1 125.8h1.3M91.3 73.2h1.3M95.0 134.0h1.3M70.1 121.3h1.3M79.3 124.7h1.3M77.8 117.3h1.3M75.3 161.6h1.3M75.1 113.9h1.3M75.1 87.6h1.3M91.4 81.2h1.3M82.5 133.6h1.3M91.5 149.8h1.3M89.5 145.9h1.3M85.1 92.8h1.3M78.1 140.9h1.3M100.7 127.8h1.3M85.5 170.4h1.3M95.3 151.9h1.3M93.2 166.6h1.3M81.5 66.2h1.3M85.3 154.4h1.3M76.4 166.4h1.3M70.4 99.2h1.3M81.9 86.5h1.3M89.0 140.7h1.3M84.4 107.0h1.3M90.7 77.6h1.3M89.7 136.2h1.3M96.2 107.6h1.3M67.4 106.1h1.3M86.5 123.3h1.3M88.3 103.8h1.3M102.8 66.7h1.3M86.0 69.5h1.3M92.6 63.6h1.3M79.3 72.9h1.3M89.3 164.3h1.3M82.4 169.1h1.3M86.1 63.7h1.3M74.9 88.4h1.3M93.0 115.0h1.3M89.7 123.8h1.3M93.1 69.0h1.3M91.0 106.6h1.3M84.7 69.9h1.3M100.6 134.4h1.3M81.1 82.0h1.3M90.5 127.0h1.3M99.2 160.3h1.3M80.7 115.2h1.3M78.0 132.5h1.3M74.1 86.0h1.3M83.0 158.3h1.3M83.9 154.7h1.3M95.1 61.1h1.3M85.2 113.8h1.3M93.4 181.2h1.3M91.5 137.2h1.3M75.8 117.2h1.3M88.4 79.0h1.3M61.8 79.0h1.3M80.3 88.7h1.3M78.2 112.6h1.3M73.2 64.2h1.3M95.3 59.2h1.3M77.3 98.6h1.3M95.9 110.3h1.3M82.2 140.2h1.3M82.3 139.2h1.3M83.4 130.0h1.3M76.0 126.4h1.3M89.9 127.8h1.3M91.3 165.0h1.3M81.5 148.5h1.3M68.4 122.9h1.3M83.3 85.5h1.3M89.3 144.4h1.3M84.7 158.1h1.3M88.5 85.6h1.3M91.0 53.7h1.3M79.8 141.4h1.3M74.9 140.2h1.3M79.3 99.3h1.3M82.1 154.6h1.3M88.0 83.8h1.3M83.9 139.1h1.3M85.4 146.7h1.3M88.8 58.5h1.3M92.1 94.7h1.3M82.4 127.8h1.3M81.6 173.2h1.3M83.1 177.5h1.3M87.1 99.3h1.3M79.4 84.7h1.3M91.5 98.0h1.3M71.5 121.7h1.3M94.5 170.4h1.3M81.0 86.0h1.3M86.2 124.5h1.3M97.4 57.5h1.3M96.7 155.9h1.3M99.1 121.8h1.3M93.1 81.2h1.3M95.7 145.7h1.3M80.3 63.7h1.3M90.3 74.1h1.3M86.5 84.5h1.3M79.8 120.9h1.3M82.5 126.6h1.3M90.5 105.5h1.3M87.9 101.6h1.3M93.0 130.3h1.3M87.8 51.1h1.3M84.0 124.6h1.3M92.1 100.4h1.3M84.5 70.0h1.3M90.9 92.0h1.3M89.6 75.4h1.3M74.8 149.7h1.3M85.0 98.2h1.3M94.9 57.4h1.3M88.3 66.7h1.3M84.2 67.6h1.3M75.3 74.1h1.3M90.0 121.9h1.3M76.3 84.4h1.3M102.3 146.6h1.3M92.9 107.0h1.3M71.2 56.2h1.3M71.4 69.9h1.3M75.9 148.1h1.3M79.0 162.1h1.3M89.8 54.9h1.3M93.1 75.2h1.3M86.6 62.1h1.3M87.2 57.6h1.3M77.7 65.3h1.3M93.3 125.6h1.3M75.8 84.8h1.3M71.9 148.7h1.3M73.7 136.7h1.3M95.4 72.8h1.3M70.6 125.3h1.3M82.0 59.2h1.3M92.3 150.5h1.3M101.1 140.6h1.3M82.5 126.6h1.3M80.8 78.4h1.3M101.3 62.2h1.3M96.0 128.5h1.3M96.7 73.3h1.3M90.5 60.1h1.3M84.1 72.5h1.3M90.8 106.7h1.3M98.1 61.0h1.3M97.2 78.6h1.3M91.0 85.4h1.3M85.2 95.8h1.3M96.5 87.7h1.3M85.9 161.8h1.3M77.1 90.8h1.3M93.5 116.8h1.3M98.0 103.9h1.3M83.7 114.0h1.3M75.5 134.3h1.3M76.1 144.3h1.3M83.2 115.3h1.3M94.6 117.5h1.3M90.6 117.1h1.3M84.7 147.3h1.3M95.7 80.8h1.3M84.6 142.7h1.3M84.0 114.2h1.3M68.8 137.2h1.3M86.4 80.4h1.3M85.4 99.6h1.3M82.4 112.5h1.3M90.5 76.9h1.3M78.3 65.9h1.3M86.9 73.1h1.3M83.6 63.8h1.3M77.8 164.3h1.3M97.3 153.9h1.3M87.9 52.7h1.3M82.1 103.8h1.3M90.9 136.4h1.3M72.3 72.3h1.3M90.9 124.6h1.3M98.5 116.5h1.3M82.6 103.1h1.3M68.5 150.9h1.3M84.9 106.2h1.3M88.7 153.7h1.3M85.0 132.4h1.3M75.7 127.0h1.3M96.0 88.3h1.3M82.0 100.8h1.3M104.5 107.6h1.3M84.5 91.8h1.3M78.9 167.6h1.3M87.6 58.4h1.3M93.4 86.0h1.3M84.5 104.7h1.3M83.6 54.2h1.3M94.5 165.5h1.3M90.5 93.8h1.3M83.4 124.2h1.3M82.6 72.6h1.3M87.1 82.4h1.3M81.5 160.3h1.3M83.4 59.4h1.3M101.7 78.1h1.3M73.7 111.9h1.3M85.1 73.4h1.3M97.3 58.7h1.3M92.8 58.9h1.3M69.9 142.6h1.3M68.5 166.6h1.3M89.5 95.3h1.3M103.8 98.1h1.3M86.7 99.3h1.3M83.5 98.8h1.3M91.1 132.8h1.3M78.7 134.1h1.3M98.0 64.5h1.3M87.2 140.9h1.3M81.8 60.9h1.3M95.0 119.7h1.3M101.7 119.3h1.3M91.5 62.0h1.3M79.4 50.4h1.3M91.5 118.6h1.3M90.4 160.2h1.3M82.9 168.7h1.3M86.5 113.3h1.3M67.5 163.4h1.3M82.6 144.7h1.3M77.8 158.5h1.3M82.8 104.5h1.3M87.8 157.1h1.3M93.7 74.5h1.3M86.1 143.7h1.3M76.7 100.1h1.3M98.9 57.4h1.3M86.6 148.0h1.3M92.1 82.5h1.3M87.8 158.9h1.3M91.9 80.0h1.3M93.4 60.9h1.3M83.2 110.7h1.3M84.2 116.3h1.3M75.7 88.8h1.3M79.0 149.7h1.3M89.6 168.9h1.3M67.5 153.1h1.3M90.6 116.6h1.3M92.1 147.9h1.3M96.3 57.8h1.3M92.0 52.0h1.3M83.1 147.6h1.3M72.3 131.3h1.3M96.0 85.3h1.3M87.2 141.6h1.3M92.1 112.8h1.3M94.8 103.2h1.3M85.8 122.9h1.3M81.6 164.8h1.3M82.0 167.4h1.3M82.7 127.8h1.3M100.3 103.9h1.3M82.3 161.1h1.3M84.8 65.5h1.3M84.0 81.9h1.3M102.7 89.4h1.3M81.1 148.6h1.3M92.5 184.5h1.3M87.6 71.0h1.3M76.4 103.9h1.3M97.9 113.0h1.3M89.8 149.0h1.3M88.1 113.8h1.3M82.4 140.1h1.3M83.8 125.6h1.3M88.9 96.9h1.3M89.7 130.4h1.3M96.0 65.1h1.3M83.1 162.7h1.3M84.2 161.3h1.3M82.7 117.9h1.3M93.0 68.5h1.3M94.8 126.8h1.3M84.2 86.0h1.3M77.4 109.5h1.3M100.1 104.8h1.3M83.0 166.6h1.3M75.1 84.4h1.3M88.6 83.2h1.3M89.3 170.3h1.3M88.0 183.3h1.3M84.5 90.5h1.3M76.8 174.0h1.3M99.1 67.2h1.3M91.8 113.5h1.3M70.3 71.8h1.3M72.9 57.9h1.3M81.4 70.0h1.3M94.7 69.1h1.3M88.6 99.7h1.3M87.9 167.8h1.3M78.3 119.1h1.3M84.9 136.6h1.3M89.1 154.2h1.3M98.5 68.2h1.3M71.9 116.4h1.3M92.7 101.7h1.3M79.1 96.0h1.3M88.2 53.7h1.3M90.2 76.2h1.3M93.3 120.0h1.3M95.9 64.3h1.3M86.3 123.9h1.3M91.5 81.0h1.3M92.5 99.4h1.3M80.7 63.9h1.3M98.4 140.3h1.3M87.9 136.4h1.3M75.3 126.0h1.3M84.0 106.9h1.3M95.7 82.3h1.3M79.0 136.9h1.3M96.3 56.9h1.3M66.3 158.7h1.3M76.3 82.3h1.3M91.7 100.5h1.3M86.8 57.8h1.3M86.3 60.8h1.3M95.2 73.1h1.3M100.1 81.2h1.3M76.0 105.3h1.3M82.4 115.3h1.3M106.2 111.8h1.3M84.7 126.4h1.3M94.7 166.8h1.3M94.1 145.9h1.3M91.2 158.7h1.3M96.6 55.6h1.3M87.2 59.3h1.3M95.5 71.3h1.3M89.5 109.2h1.3M82.3 128.3h1.3M93.2 86.3h1.3M78.4 165.1h1.3M89.5 161.7h1.3M99.4 54.5h1.3M81.3 90.9h1.3M84.7 128.3h1.3M84.7 122.2h1.3M77.1 166.5h1.3M101.6 93.4h1.3M75.7 120.1h1.3M74.2 127.8h1.3M93.7 152.2h1.3M90.4 133.3h1.3M78.3 86.2h1.3M75.6 88.8h1.3M93.4 88.1h1.3M79.0 154.3h1.3M78.4 129.1h1.3M69.2 75.2h1.3M83.5 73.5h1.3M95.3 81.9h1.3M81.2 73.1h1.3M79.0 90.5h1.3M92.3 74.0h1.3M80.9 96.9h1.3M83.4 177.8h1.3M83.9 139.1h1.3M90.4 119.4h1.3M94.8 73.6h1.3M80.2 66.2h1.3M89.0 168.9h1.3M87.6 97.2h1.3M86.1 154.3h1.3M64.5 63.5h1.3M66.0 85.9h1.3M71.9 80.0h1.3M95.3 105.1h1.3M93.0 148.9h1.3M71.7 84.9h1.3M100.5 158.3h1.3M78.5 127.3h1.3M79.9 76.7h1.3M98.7 80.1h1.3M89.8 142.6h1.3M85.5 99.9h1.3M95.0 109.5h1.3M83.4 122.3h1.3M80.2 171.7h1.3M86.6 105.8h1.3M84.4 157.1h1.3M90.8 92.4h1.3M93.8 150.3h1.3M91.5 159.3h1.3M87.1 60.5h1.3M97.0 78.8h1.3M76.5 123.5h1.3M82.4 158.6h1.3M84.9 118.5h1.3M103.1 62.5h1.3M83.1 148.9h1.3M65.3 114.6h1.3M88.7 62.4h1.3M103.5 95.6h1.3M82.2 124.8h1.3M90.3 100.3h1.3M101.5 140.2h1.3M87.9 137.0h1.3M79.5 137.8h1.3M89.0 143.6h1.3M87.3 111.3h1.3M90.7 163.7h1.3M88.8 135.4h1.3M98.8 101.8h1.3M75.1 104.7h1.3M89.2 97.6h1.3M93.8 65.6h1.3M82.6 126.4h1.3M103.2 93.3h1.3M79.2 161.4h1.3M89.6 109.4h1.3M73.0 132.4h1.3M73.8 134.2h1.3M100.6 67.6h1.3M89.9 121.0h1.3M89.3 163.6h1.3M76.5 63.9h1.3M100.6 74.1h1.3M98.6 91.2h1.3M80.9 94.7h1.3M102.2 66.2h1.3M92.4 128.5h1.3M83.3 103.1h1.3M91.0 72.8h1.3M103.0 58.9h1.3M98.4 62.0h1.3M79.9 99.4h1.3M85.8 152.2h1.3M82.7 67.2h1.3M88.0 68.3h1.3M84.2 83.0h1.3M76.6 165.4h1.3M93.2 161.1h1.3M83.0 121.3h1.3M89.0 86.6h1.3M69.4 112.7h1.3M94.6 55.5h1.3M78.0 102.5h1.3M73.5 91.9h1.3M84.1 157.9h1.3M90.9 118.8h1.3M78.1 51.3h1.3M84.7 69.4h1.3M83.5 135.7h1.3M83.0 133.8h1.3M92.3 125.8h1.3M71.9 109.0h1.3M92.9 59.3h1.3M83.8 107.3h1.3M92.8 163.5h1.3M89.9 55.4h1.3M62.9 91.3h1.3M80.5 146.5h1.3M78.1 82.8h1.3M83.6 147.0h1.3M95.1 130.2h1.3M88.3 77.1h1.3M75.7 123.1h1.3M86.3 105.1h1.3M75.5 63.4h1.3M98.9 58.2h1.3M86.1 122.8h1.3M89.4 89.6h1.3M83.6 79.9h1.3M99.7 56.0h1.3M93.3 62.1h1.3M79.0 56.5h1.3M80.3 90.9h1.3M84.6 82.2h1.3M80.6 64.0h1.3M70.9 83.2h1.3M88.7 110.6h1.3M76.0 108.8h1.3M75.1 142.7h1.3M74.8 51.3h1.3M101.1 126.2h1.3M95.8 153.3h1.3M78.8 89.7h1.3M83.7 167.0h1.3M106.9 136.3h1.3M87.0 70.6h1.3M96.1 72.9h1.3M82.1 135.2h1.3M90.0 96.0h1.3M92.3 75.9h1.3M99.2 139.3h1.3M90.3 101.4h1.3M81.1 59.4h1.3M98.7 97.4h1.3M83.8 140.6h1.3M77.6 137.2h1.3M77.0 132.2h1.3M95.4 72.3h1.3M90.5 103.9h1.3M88.0 54.4h1.3M71.7 99.8h1.3M83.0 61.6h1.3M95.9 92.5h1.3M80.0 116.3h1.3M90.2 83.6h1.3M84.1 77.8h1.3M76.1 95.2h1.3M86.0 88.0h1.3M76.6 139.8h1.3M99.5 97.1h1.3M74.1 98.8h1.3M85.8 141.1h1.3M88.8 159.5h1.3M87.1 163.8h1.3M96.0 86.5h1.3M82.5 90.6h1.3M82.6 150.3h1.3M77.5 67.9h1.3M71.1 98.1h1.3M98.1 73.2h1.3M76.9 67.1h1.3M83.3 74.5h1.3M82.3 136.2h1.3M78.1 163.0h1.3M95.9 61.9h1.3M102.7 148.4h1.3M92.9 135.2h1.3M85.8 98.7h1.3M88.7 114.1h1.3M102.1 176.4h1.3M101.1 118.4h1.3M84.6 64.2h1.3M64.9 156.7h1.3M93.7 97.8h1.3M89.1 138.5h1.3M91.0 70.0h1.3M76.8 72.5h1.3M90.2 111.9h1.3M96.1 154.9h1.3M81.9 117.9h1.3M84.1 72.2h1.3M92.0 96.0h1.3M82.1 161.6h1.3M93.8 97.0h1.3M71.4 91.5h1.3M84.8 102.5h1.3M81.2 136.1h1.3M82.6 81.0h1.3M86.5 91.4h1.3M97.4 106.9h1.3M70.8 80.0h1.3M97.5 58.2h1.3M81.6 64.5h1.3M103.3 82.7h1.3M88.5 141.5h1.3M80.0 116.9h1.3M77.8 71.4h1.3M87.5 151.3h1.3M71.1 119.9h1.3M95.3 132.3h1.3M85.4 70.6h1.3M93.3 128.7h1.3M88.4 99.5h1.3M67.6 113.3h1.3M76.9 100.1h1.3M76.7 151.5h1.3M88.2 141.1h1.3M79.4 101.4h1.3M60.0 67.9h1.3M93.4 154.8h1.3M92.3 166.6h1.3M93.7 120.8h1.3M89.4 110.1h1.3M86.6 95.4h1.3M88.3 146.9h1.3M101.4 61.5h1.3M103.8 136.3h1.3M90.8 79.9h1.3M78.7 129.9h1.3M100.3 102.3h1.3M79.7 74.4h1.3M81.8 57.1h1.3M82.7 103.8h1.3M92.9 69.1h1.3M87.0 74.6h1.3M88.4 68.5h1.3M88.9 159.6h1.3M92.2 116.3h1.3M75.7 97.5h1.3M73.7 64.7h1.3M82.3 91.8h1.3M86.7 58.3h1.3M84.6 165.5h1.3M62.2 60.2h1.3M83.2 164.9h1.3M79.4 60.2h1.3M93.0 100.7h1.3M89.6 91.1h1.3M75.3 153.5h1.3M84.3 78.2h1.3M90.3 72.3h1.3M87.4 149.8h1.3M84.3 135.3h1.3M89.5 56.9h1.3M80.8 111.4h1.3M76.6 113.0h1.3M98.9 132.3h1.3M94.8 59.9h1.3M89.3 78.7h1.3M84.2 106.7h1.3M80.0 57.9h1.3M89.5 104.2h1.3M72.2 58.0h1.3M68.6 156.9h1.3M81.9 155.0h1.3M83.5 86.0h1.3M92.4 68.9h1.3M83.2 156.4h1.3M85.9 147.7h1.3M76.9 109.6h1.3M81.8 88.6h1.3M88.4 115.3h1.3M75.7 170.4h1.3M81.8 75.4h1.3M84.0 159.4h1.3M79.2 130.1h1.3M76.6 166.2h1.3M95.7 104.7h1.3M95.0 82.5h1.3M76.0 87.9h1.3M88.0 91.8h1.3M87.8 120.8h1.3M78.8 113.3h1.3M83.9 118.7h1.3M81.2 117.7h1.3M83.6 102.8h1.3M68.4 50.8h1.3M95.7 116.1h1.3M77.4 111.7h1.3M94.3 89.7h1.3M76.3 153.1h1.3M86.7 65.0h1.3M78.0 99.8h1.3M82.9 127.1h1.3M92.5 82.6h1.3M90.8 74.0h1.3M83.3 161.5h1.3M86.8 65.8h1.3M90.0 143.9h1.3M90.4 82.2h1.3M77.6 95.6h1.3M83.8 152.1h1.3M82.8 149.3h1.3M86.5 82.8h1.3M90.0 87.5h1.3M87.4 129.5h1.3M84.6 157.4h1.3M92.5 88.6h1.3M95.1 107.4h1.3M87.8 113.7h1.3M83.7 91.0h1.3M87.4 61.6h1.3M88.7 87.0h1.3M86.6 95.7h1.3M92.8 149.9h1.3M83.1 161.3h1.3M88.6 63.9h1.3M88.6 113.3h1.3M81.8 111.1h1.3M97.3 65.0h1.3M89.2 152.3h1.3M84.8 89.8h1.3M82.6 90.8h1.3M82.2 129.2h1.3M81.5 103.6h1.3M76.7 82.9h1.3M89.6 60.2h1.3M97.9 101.5h1.3M89.7 113.1h1.3M96.9 76.7h1.3M88.4 161.6h1.3M90.6 115.6h1.3M83.9 112.6h1.3M87.4 59.8h1.3M87.9 93.0h1.3M83.9 161.2h1.3M76.6 104.9h1.3M73.5 97.1h1.3M93.0 131.3h1.3M98.6 163.3h1.3M80.0 99.0h1.3M84.3 80.8h1.3M80.8 155.6h1.3M77.2 58.4h1.3M81.5 143.1h1.3M80.2 138.8h1.3M101.4 124.5h1.3M93.0 172.0h1.3M77.3 119.4h1.3M80.5 95.8h1.3M100.4 87.7h1.3M81.0 111.1h1.3M80.0 138.8h1.3M81.6 116.9h1.3M98.2 97.1h1.3M82.0 167.9h1.3M76.8 128.1h1.3M72.7 87.8h1.3M92.6 90.2h1.3M93.9 139.6h1.3M74.2 123.4h1.3M99.7 165.4h1.3M91.6 152.7h1.3M77.9 94.5h1.3M86.6 74.0h1.3M100.2 116.2h1.3M83.8 96.1h1.3M78.1 86.8h1.3M91.7 139.5h1.3M89.5 98.4h1.3M82.0 139.5h1.3M90.8 147.4h1.3M89.8 60.0h1.3M73.7 77.3h1.3M88.9 102.4h1.3M87.2 84.7h1.3M89.4 90.5h1.3M89.2 91.9h1.3M82.5 110.1h1.3M74.2 108.5h1.3M87.1 130.0h1.3M72.4 119.0h1.3M70.8 115.2h1.3M81.0 65.9h1.3M91.4 102.2h1.3M76.4 122.0h1.3M79.5 177.3h1.3M81.3 87.0h1.3M73.5 65.4h1.3M82.6 56.3h1.3M75.7 115.8h1.3M71.0 61.4h1.3M73.4 157.5h1.3M84.0 61.3h1.3M89.5 83.7h1.3M103.3 64.5h1.3M91.0 108.1h1.3M76.0 157.6h1.3M73.6 162.1h1.3M84.2 155.3h1.3M92.6 74.9h1.3M79.9 162.6h1.3M86.9 56.7h1.3M96.6 136.3h1.3M80.6 171.1h1.3M83.9 144.1h1.3M81.2 147.2h1.3M101.1 119.8h1.3M74.1 76.0h1.3M94.2 156.6h1.3M89.4 73.3h1.3M87.8 110.8h1.3M91.6 56.5h1.3M89.3 131.0h1.3M87.2 72.4h1.3M95.1 87.5h1.3M85.3 111.7h1.3M95.4 111.5h1.3M101.8 70.4h1.3M91.8 74.4h1.3M75.8 79.1h1.3M84.7 55.4h1.3M74.7 95.3h1.3M77.3 130.7h1.3M87.3 104.6h1.3M71.7 67.2h1.3M94.7 137.2h1.3M82.8 102.2h1.3M84.2 145.2h1.3M89.5 149.4h1.3M80.0 82.4h1.3M85.2 143.8h1.3M85.4 109.8h1.3M89.6 97.6h1.3M82.8 129.0h1.3M101.4 127.2h1.3M83.4 141.7h1.3M82.2 84.9h1.3M96.5 145.8h1.3M71.8 129.1h1.3M81.7 86.8h1.3M88.1 95.7h1.3M79.9 186.5h1.3M96.8 140.7h1.3M84.7 154.0h1.3M88.3 83.4h1.3M73.6 69.7h1.3M82.1 53.9h1.3M99.7 75.3h1.3M96.0 136.9h1.3M75.0 86.3h1.3M96.7 122.3h1.3M77.9 137.5h1.3M84.3 157.3h1.3M100.8 90.5h1.3M73.3 86.7h1.3M82.2 109.4h1.3M81.4 100.8h1.3M86.2 81.1h1.3M83.2 124.6h1.3M83.7 130.6h1.3M69.4 66.6h1.3M89.7 143.2h1.3M64.1 96.3h1.3M97.0 98.6h1.3M82.8 157.7h1.3M89.8 122.5h1.3M68.7 157.2h1.3M93.1 89.3h1.3M88.8 86.5h1.3M81.2 114.5h1.3M87.9 154.9h1.3M97.5 94.8h1.3M101.1 185.8h1.3M83.9 101.0h1.3M92.0 107.5h1.3M77.8 93.6h1.3M93.9 82.8h1.3M91.4 155.2h1.3M91.7 144.3h1.3M84.9 152.2h1.3M77.5 153.4h1.3M85.3 130.2h1.3M83.7 124.7h1.3M92.8 90.9h1.3M85.5 90.8h1.3M81.1 125.0h1.3M86.8 163.0h1.3M89.1 57.2h1.3M74.0 120.3h1.3M85.8 98.8h1.3M73.0 163.1h1.3M87.2 116.8h1.3M81.1 157.2h1.3M90.5 76.7h1.3M75.5 112.6h1.3M74.8 141.6h1.3M101.0 87.6h1.3M81.3 97.3h1.3M89.2 88.4h1.3M79.3 148.8h1.3M96.4 153.5h1.3M85.9 110.7h1.3M83.9 161.5h1.3M91.8 116.8h1.3M98.1 104.6h1.3M92.7 106.5h1.3M86.7 129.2h1.3M97.2 66.1h1.3M73.8 107.9h1.3M90.2 93.7h1.3M70.8 115.6h1.3M72.8 153.5h1.3M82.9 51.8h1.3M74.7 104.2h1.3M82.8 122.4h1.3M96.6 59.4h1.3M83.7 157.8h1.3M88.2 71.6h1.3M102.7 79.5h1.3M86.5 73.5h1.3M94.7 89.4h1.3M72.9 164.0h1.3M72.0 92.6h1.3M86.3 75.0h1.3M80.1 68.1h1.3M86.7 109.2h1.3M98.2 99.2h1.3M79.0 97.1h1.3M81.8 102.6h1.3M75.4 106.1h1.3M88.1 55.7h1.3M73.4 154.7h1.3M98.0 137.4h1.3M82.6 74.1h1.3M90.6 59.9h1.3M89.6 106.9h1.3M64.5 134.2h1.3M78.4 82.6h1.3M87.1 130.8h1.3M84.9 95.4h1.3M91.7 121.4h1.3M87.9 92.4h1.3M85.3 93.4h1.3M83.9 130.6h1.3M93.0 105.8h1.3M100.8 62.5h1.3M93.7 94.9h1.3M91.9 168.0h1.3M90.1 121.8h1.3M84.7 97.1h1.3M94.2 140.4h1.3M90.8 125.3h1.3M91.1 108.5h1.3M81.5 160.0h1.3M73.1 110.8h1.3M99.0 129.5h1.3M82.7 129.3h1.3M79.8 136.8h1.3M91.7 159.3h1.3M85.0 138.4h1.3M77.6 150.3h1.3M83.0 88.9h1.3M75.2 127.6h1.3M84.8 124.0h1.3M96.1 76.5h1.3M97.2 104.1h1.3M87.0 103.3h1.3M76.1 108.2h1.3M100.4 108.9h1.3M86.5 155.7h1.3M98.4 88.1h1.3M97.1 93.6h1.3M93.7 87.9h1.3M88.6 82.2h1.3M97.0 146.8h1.3M70.3 66.1h1.3M69.5 92.9h1.3M97.8 153.8h1.3M79.3 101.5h1.3M91.1 142.1h1.3M81.8 139.8h1.3M69.8 123.6h1.3M83.2 133.1h1.3M85.2 150.5h1.3M68.2 129.4h1.3M73.1 159.8h1.3M96.3 129.2h1.3M84.3 115.1h1.3M78.9 132.2h1.3M81.8 149.5h1.3M69.3 78.1h1.3M93.2 68.1h1.3M82.4 93.8h1.3M74.8 106.4h1.3M82.9 59.1h1.3M90.8 67.2h1.3M90.1 86.6h1.3M94.6 78.0h1.3M74.3 159.1h1.3M91.3 72.5h1.3M79.9 58.9h1.3M86.4 63.2h1.3M69.9 148.7h1.3M78.3 90.2h1.3M75.5 117.5h1.3M71.9 129.9h1.3M68.7 117.8h1.3M81.1 129.3h1.3M87.1 139.9h1.3M70.2 160.8h1.3M98.0 105.5h1.3M80.9 64.7h1.3M87.0 133.4h1.3M74.6 78.6h1.3M77.1 99.2h1.3M81.1 58.6h1.3M86.8 79.1h1.3M81.1 86.7h1.3M97.7 137.3h1.3M86.8 151.9h1.3M96.2 106.1h1.3M102.4 87.6h1.3M76.6 154.4h1.3M83.3 148.3h1.3M95.2 116.9h1.3M92.4 142.5h1.3M93.5 102.7h1.3M97.6 63.1h1.3M93.4 92.3h1.3M92.5 90.6h1.3M82.7 120.8h1.3M96.6 148.2h1.3M96.8 129.5h1.3M95.6 55.2h1.3M80.0 119.0h1.3M90.5 125.9h1.3M95.7 80.6h1.3M96.1 103.3h1.3M74.7 112.6h1.3M86.3 51.0h1.3M86.3 130.1h1.3M83.8 128.7h1.3M87.0 133.1h1.3M88.7 146.6h1.3M91.6 97.7h1.3M84.4 95.5h1.3M85.2 98.6h1.3M75.3 140.8h1.3M93.5 151.7h1.3M74.0 141.5h1.3M90.0 97.7h1.3M87.8 126.5h1.3M85.9 84.2h1.3M96.5 106.4h1.3M86.4 86.4h1.3M77.0 158.3h1.3M83.9 95.2h1.3M81.8 150.6h1.3M92.9 80.5h1.3M82.1 131.1h1.3M77.6 82.2h1.3M91.9 176.5h1.3M67.9 125.1h1.3M93.8 93.7h1.3M85.5 99.2h1.3M83.3 120.1h1.3M98.4 113.9h1.3M69.4 75.5h1.3M80.4 161.4h1.3M72.1 135.3h1.3M74.6 61.1h1.3M90.2 115.1h1.3M82.1 122.9h1.3M87.8 167.7h1.3M86.0 142.6h1.3M86.6 150.7h1.3M83.3 68.2h1.3M72.5 150.4h1.3M99.8 67.7h1.3M84.3 76.2h1.3M69.4 156.6h1.3M67.2 117.3h1.3M71.8 60.6h1.3M86.0 99.0h1.3M85.4 138.1h1.3M91.4 108.2h1.3M88.2 74.1h1.3M90.2 82.9h1.3M74.7 97.9h1.3M78.9 54.6h1.3M84.9 71.4h1.3M95.3 145.1h1.3M75.3 63.4h1.3M86.4 156.8h1.3M84.4 85.6h1.3M83.2 62.8h1.3M91.7 113.8h1.3M66.7 92.5h1.3M67.6 135.2h1.3M101.2 55.5h1.3M91.6 72.6h1.3M86.8 113.2h1.3M77.6 103.0h1.3M93.2 123.4h1.3M74.0 125.7h1.3M75.0 157.8h1.3M98.9 65.6h1.3M85.7 68.6h1.3M82.7 107.8h1.3M78.8 129.2h1.3M82.7 112.2h1.3M82.0 78.5h1.3M91.2 99.5h1.3M99.3 81.9h1.3M93.5 91.7h1.3M87.9 88.5h1.3M91.7 80.7h1.3M80.9 99.6h1.3M95.2 85.2h1.3M87.4 117.5h1.3M89.0 157.1h1.3M85.1 107.7h1.3M87.2 136.8h1.3M68.3 86.0h1.3M95.8 66.5h1.3M90.6 150.6h1.3M97.0 106.5h1.3M76.1 75.6h1.3M94.0 97.4h1.3M73.5 147.5h1.3M75.7 85.7h1.3M73.1 60.6h1.3M86.4 128.3h1.3M80.6 117.8h1.3M97.5 108.3h1.3M86.1 166.4h1.3M95.8 145.1h1.3M82.9 77.7h1.3M85.3 81.8h1.3M88.5 121.5h1.3M97.8 170.4h1.3M84.8 95.9h1.3M91.7 61.6h1.3M72.9 97.3h1.3M88.3 119.8h1.3M85.8 56.1h1.3M81.5 85.6h1.3M88.1 114.1h1.3M85.6 152.9h1.3M71.6 107.0h1.3M85.7 63.0h1.3M98.1 58.2h1.3M102.0 58.9h1.3M97.2 67.7h1.3M84.3 110.2h1.3M93.7 63.3h1.3M95.4 87.9h1.3M89.1 150.1h1.3M96.8 67.3h1.3M79.6 95.6h1.3M73.4 106.8h1.3M84.8 160.7h1.3M87.4 114.4h1.3M93.5 94.5h1.3M84.1 128.6h1.3M96.8 97.6h1.3M84.0 100.0h1.3M85.0 151.0h1.3M87.9 142.7h1.3M94.7 150.0h1.3M91.0 67.9h1.3M83.4 109.3h1.3M69.5 72.4h1.3M98.4 94.5h1.3M87.3 104.3h1.3M93.8 66.9h1.3M85.5 174.3h1.3M100.7 93.4h1.3M76.1 139.3h1.3M96.9 118.6h1.3M98.0 140.0h1.3M94.0 116.2h1.3M98.9 86.4h1.3M100.5 101.1h1.3M84.4 113.0h1.3M83.9 85.9h1.3M89.4 82.9h1.3M88.1 158.9h1.3M82.0 118.2h1.3M92.3 58.8h1.3M88.7 108.2h1.3M70.7 124.0h1.3M88.4 123.5h1.3M90.5 76.4h1.3M100.0 98.0h1.3M87.0 99.7h1.3M94.0 68.2h1.3M81.4 97.2h1.3M96.4 139.5h1.3M95.0 66.3h1.3M93.3 154.7h1.3M99.8 101.4h1.3M72.2 156.7h1.3M72.0 94.2h1.3M99.1 97.3h1.3M82.6 94.3h1.3M103.2 71.8h1.3M83.4 85.6h1.3M97.9 127.3h1.3M74.9 62.7h1.3M86.9 143.7h1.3M88.9 98.8h1.3M63.2 88.9h1.3M92.5 119.0h1.3M90.3 61.3h1.3M93.1 159.9h1.3M71.1 85.4h1.3M73.6 100.2h1.3M77.7 73.3h1.3M79.3 155.1h1.3M83.5 163.2h1.3M82.5 133.1h1.3M89.8 59.9h1.3M95.3 95.2h1.3M84.8 139.7h1.3M74.5 145.0h1.3M86.1 93.7h1.3M85.4 93.2h1.3M86.9 86.4h1.3M84.9 130.0h1.3M89.3 109.9h1.3M88.9 61.7h1.3M71.6 67.6h1.3M91.7 96.0h1.3M85.4 79.2h1.3M87.8 101.4h1.3M87.7 169.8h1.3M80.7 73.0h1.3M87.1 75.1h1.3M72.9 63.6h1.3M82.7 145.2h1.3M88.4 112.1h1.3M98.2 95.0h1.3M88.7 88.8h1.3M91.8 92.1h1.3M91.1 143.9h1.3M83.4 153.0h1.3M72.4 70.3h1.3M65.7 102.1h1.3M93.3 83.2h1.3M95.9 129.0h1.3M78.3 69.9h1.3M99.0 74.4h1.3M87.1 68.3h1.3M90.2 125.8h1.3M84.9 167.0h1.3M85.0 101.0h1.3M82.5 108.7h1.3M87.2 101.1h1.3M86.9 153.2h1.3M87.4 71.9h1.3M73.4 97.5h1.3M79.1 68.7h1.3M91.8 100.1h1.3M90.4 91.4h1.3M79.4 92.6h1.3M79.7 57.9h1.3M74.5 118.7h1.3M88.8 84.6h1.3M71.4 87.6h1.3M94.5 164.4h1.3M76.3 69.6h1.3M94.3 124.9h1.3M83.9 77.5h1.3M100.2 94.1h1.3M73.4 170.8h1.3M77.0 146.9h1.3M87.8 119.7h1.3M93.3 70.5h1.3M87.4 120.6h1.3M91.4 147.3h1.3M75.7 141.1h1.3M101.9 70.0h1.3M86.0 81.2h1.3M97.6 67.4h1.3M82.9 68.9h1.3M68.3 111.2h1.3M88.2 151.9h1.3M83.0 145.2h1.3M92.3 116.7h1.3M75.9 109.6h1.3M81.8 126.0h1.3M65.2 128.1h1.3M91.9 125.7h1.3M70.0 159.9h1.3M100.8 146.9h1.3M85.0 122.8h1.3M84.2 159.0h1.3M89.0 119.1h1.3M84.3 115.2h1.3M85.2 117.3h1.3M80.9 157.8h1.3M84.0 48.2h1.3M74.8 139.0h1.3M91.7 107.8h1.3M97.5 161.2h1.3M86.4 86.5h1.3M72.2 139.7h1.3M96.6 123.4h1.3M77.3 93.9h1.3M89.9 65.7h1.3M94.4 111.8h1.3M79.5 102.8h1.3M96.9 82.0h1.3M83.7 65.5h1.3M77.9 151.7h1.3M92.6 96.6h1.3M105.4 91.2h1.3M88.3 103.2h1.3M95.4 123.0h1.3M98.1 107.6h1.3M86.7 120.0h1.3M92.1 137.2h1.3M94.1 126.1h1.3M79.5 70.8h1.3M84.4 117.7h1.3M99.2 119.6h1.3M84.7 66.6h1.3M86.0 130.6h1.3M85.3 119.8h1.3M103.4 99.5h1.3M82.9 137.3h1.3M98.3 112.1h1.3M93.7 117.0h1.3M91.1 141.3h1.3M71.8 102.6h1.3M81.7 73.2h1.3M81.9 81.0h1.3M90.5 162.1h1.3M69.0 82.4h1.3M91.0 70.3h1.3M86.9 65.9h1.3M98.9 119.9h1.3M99.4 112.3h1.3M84.1 175.9h1.3M69.9 65.5h1.3M88.5 129.9h1.3M97.9 62.8h1.3M79.4 57.3h1.3M81.7 169.9h1.3M80.7 121.9h1.3M85.8 145.3h1.3M78.0 69.3h1.3M88.0 122.1h1.3M66.8 108.8h1.3M87.6 69.9h1.3M87.2 103.5h1.3M79.0 154.9h1.3M89.3 136.8h1.3M80.5 144.1h1.3M90.2 58.9h1.3M86.5 132.7h1.3M80.5 98.4h1.3M90.9 57.9h1.3M99.7 104.7h1.3M80.1 82.2h1.3M93.8 137.5h1.3M91.8 167.5h1.3M78.7 55.2h1.3M74.7 102.5h1.3M92.9 101.9h1.3M88.6 76.7h1.3M97.9 121.6h1.3M71.2 66.0h1.3M81.8 142.1h1.3M85.0 57.7h1.3M79.7 123.1h1.3M75.7 123.8h1.3M91.9 114.9h1.3M66.2 94.9h1.3M94.2 70.4h1.3M82.8 152.8h1.3M81.6 149.2h1.3M69.4 67.7h1.3M89.6 66.9h1.3M90.7 54.1h1.3M95.2 62.8h1.3M85.6 91.6h1.3M75.0 101.1h1.3M78.6 131.9h1.3M86.1 130.5h1.3M93.8 167.3h1.3M78.2 86.0h1.3M71.1 95.5h1.3M96.4 130.2h1.3M92.3 109.7h1.3M103.9 139.3h1.3M89.4 127.1h1.3M95.8 151.0h1.3M87.0 59.9h1.3M67.5 136.7h1.3M83.1 57.9h1.3M89.8 129.0h1.3M93.2 62.8h1.3M87.5 155.1h1.3M82.6 95.1h1.3M93.3 133.9h1.3M71.7 129.1h1.3M64.0 72.4h1.3M88.2 116.4h1.3M91.3 104.4h1.3M82.1 84.6h1.3M81.8 94.9h1.3M90.8 132.1h1.3M97.5 106.7h1.3M82.7 111.3h1.3M78.1 74.5h1.3M88.8 113.5h1.3M76.6 61.7h1.3M81.5 130.7h1.3M82.6 88.3h1.3M87.3 154.0h1.3M93.6 112.1h1.3M82.8 85.3h1.3M76.8 76.3h1.3M87.8 72.8h1.3M93.4 55.2h1.3M82.4 121.6h1.3M85.7 127.2h1.3M72.5 139.8h1.3M89.2 137.2h1.3M104.7 58.7h1.3M83.2 151.3h1.3M69.8 155.0h1.3M75.3 163.0h1.3M83.3 57.4h1.3M78.7 98.9h1.3M73.0 66.4h1.3M92.4 119.2h1.3M95.0 81.9h1.3M81.1 159.0h1.3M97.5 62.0h1.3M88.4 74.2h1.3M100.8 116.7h1.3M84.7 118.7h1.3M81.8 87.9h1.3M83.6 139.7h1.3M91.2 127.0h1.3M87.1 90.7h1.3M65.6 157.7h1.3M82.9 97.5h1.3M83.5 148.4h1.3M80.7 77.8h1.3M86.8 120.2h1.3M91.2 95.2h1.3M87.8 164.8h1.3M81.8 164.2h1.3M93.9 157.2h1.3M94.1 161.9h1.3M94.0 75.1h1.3M74.7 109.6h1.3M85.1 116.4h1.3M86.2 130.7h1.3M84.9 92.8h1.3M92.2 135.9h1.3M95.3 78.7h1.3M92.2 152.2h1.3M95.0 67.1h1.3M74.9 133.6h1.3M73.1 148.8h1.3M83.8 71.3h1.3M81.8 159.9h1.3M93.4 67.0h1.3M91.0 127.7h1.3M77.3 113.4h1.3M87.5 50.8h1.3M74.1 50.7h1.3M78.5 70.1h1.3M67.5 170.8h1.3M85.4 81.3h1.3M96.9 112.8h1.3M71.6 114.3h1.3M81.1 166.3h1.3M77.7 157.7h1.3M87.7 111.6h1.3M95.8 69.5h1.3M71.8 142.3h1.3M93.0 99.4h1.3M90.6 127.8h1.3M85.5 121.1h1.3M92.9 162.6h1.3M96.1 113.4h1.3M92.6 56.9h1.3M99.3 81.7h1.3M95.4 96.3h1.3M99.6 127.9h1.3M96.2 79.3h1.3M71.4 167.7h1.3M94.1 141.5h1.3M95.0 93.6h1.3M79.5 109.8h1.3M86.7 162.5h1.3M97.3 70.1h1.3M82.0 61.6h1.3M90.7 112.6h1.3M68.0 77.4h1.3M96.2 98.5h1.3M94.2 92.5h1.3M100.1 70.1h1.3M82.1 59.5h1.3M86.6 155.3h1.3M88.3 142.8h1.3M88.5 144.6h1.3M88.6 56.8h1.3M85.7 94.9h1.3M90.2 82.0h1.3M85.5 128.1h1.3M70.2 121.3h1.3M91.3 54.6h1.3M97.2 106.0h1.3M90.3 136.5h1.3M78.9 123.0h1.3M87.9 143.2h1.3M78.0 97.3h1.3M93.2 67.0h1.3M80.8 90.1h1.3M94.1 108.8h1.3M78.5 75.3h1.3M92.7 90.5h1.3M97.8 93.3h1.3M94.2 69.2h1.3M77.5 157.6h1.3M88.2 133.4h1.3M97.0 119.5h1.3M98.7 64.1h1.3M94.0 145.5h1.3M79.2 162.2h1.3M79.5 163.5h1.3M79.5 141.6h1.3M82.5 147.4h1.3M100.3 120.9h1.3M72.1 158.9h1.3M84.1 66.6h1.3M94.7 94.1h1.3M77.9 139.7h1.3M94.9 145.5h1.3M96.2 119.3h1.3M83.9 76.2h1.3M94.5 90.9h1.3M83.4 158.1h1.3M65.2 66.0h1.3M83.7 162.0h1.3M75.3 136.0h1.3M92.1 132.2h1.3M94.5 126.4h1.3M91.7 105.4h1.3M80.1 94.9h1.3M80.3 115.2h1.3M86.7 93.1h1.3M92.2 67.9h1.3M98.1 60.9h1.3M75.1 81.8h1.3M81.3 150.8h1.3M84.4 149.0h1.3M85.2 137.1h1.3M92.1 157.7h1.3M104.1 72.5h1.3M95.3 105.3h1.3M79.0 148.0h1.3M84.4 148.5h1.3M93.2 55.4h1.3M91.7 64.1h1.3M73.6 112.7h1.3M74.0 113.8h1.3M92.5 103.4h1.3M87.6 155.7h1.3M85.6 134.4h1.3M94.4 60.4h1.3M95.6 102.3h1.3M86.6 112.4h1.3M88.1 81.3h1.3M80.3 167.3h1.3M102.7 55.6h1.3M81.5 82.1h1.3M96.1 92.9h1.3M91.8 117.7h1.3M69.8 154.8h1.3M93.0 137.1h1.3M77.5 121.8h1.3M82.9 94.1h1.3M85.9 117.7h1.3M96.5 160.5h1.3M86.7 59.4h1.3M81.3 154.3h1.3M76.2 59.4h1.3M87.6 61.1h1.3M82.7 139.6h1.3M95.4 111.4h1.3M91.1 84.1h1.3M93.1 142.9h1.3M99.4 58.5h1.3M98.1 93.3h1.3M82.6 75.4h1.3M81.1 59.7h1.3M96.5 159.7h1.3M88.6 64.2h1.3M88.5 163.1h1.3M75.5 89.9h1.3M78.6 172.9h1.3M99.8 110.7h1.3M97.3 72.2h1.3M84.4 185.1h1.3M84.6 152.2h1.3M98.8 72.8h1.3M84.7 59.7h1.3M92.2 161.4h1.3M94.7 96.6h1.3M77.2 59.2h1.3M74.4 56.1h1.3M96.1 120.7h1.3M98.6 160.7h1.3M85.9 102.6h1.3M80.8 109.3h1.3M94.6 63.3h1.3M86.8 89.4h1.3M82.6 96.2h1.3M102.7 65.5h1.3M82.5 54.6h1.3M84.0 56.3h1.3M89.2 158.2h1.3M78.3 158.1h1.3M90.1 83.7h1.3M94.4 157.5h1.3M98.8 156.3h1.3M89.7 105.0h1.3M84.1 148.8h1.3M91.6 128.2h1.3M71.0 146.4h1.3M70.1 147.7h1.3M92.8 116.8h1.3M82.1 67.0h1.3M97.0 96.6h1.3M95.1 54.2h1.3M80.1 97.2h1.3M97.3 134.3h1.3M75.2 87.4h1.3M104.3 138.1h1.3M87.5 57.5h1.3M83.6 90.8h1.3M91.0 55.1h1.3M84.8 150.9h1.3M88.1 95.5h1.3M92.8 94.7h1.3M78.1 119.7h1.3M73.0 113.7h1.3M90.7 132.0h1.3M61.4 121.2h1.3M85.5 154.1h1.3M76.6 97.3h1.3M85.0 71.0h1.3M84.0 95.3h1.3M91.2 151.7h1.3M88.5 140.5h1.3M95.7 97.8h1.3M80.9 127.7h1.3M90.5 110.3h1.3M92.0 76.2h1.3M80.2 88.4h1.3M76.8 132.7h1.3M84.9 110.2h1.3M71.9 136.0h1.3M87.2 71.4h1.3M95.2 56.2h1.3M91.8 140.7h1.3M73.5 147.1h1.3M82.1 61.9h1.3M97.3 153.4h1.3M78.2 53.3h1.3M78.1 154.5h1.3M93.8 60.3h1.3M83.7 141.9h1.3M96.4 95.9h1.3M101.0 71.5h1.3M80.0 105.8h1.3M82.1 173.9h1.3M73.5 150.5h1.3M82.3 131.0h1.3M93.3 105.9h1.3M73.3 144.7h1.3M80.1 92.5h1.3M79.6 123.3h1.3M87.6 105.6h1.3M83.5 65.7h1.3M82.3 173.2h1.3M78.4 121.0h1.3M104.0 73.6h1.3M98.6 102.4h1.3M85.5 101.2h1.3M84.9 60.5h1.3M79.1 124.1h1.3M75.5 116.3h1.3M87.3 134.4h1.3M92.5 120.6h1.3M85.7 56.9h1.3M85.7 118.6h1.3M95.8 67.4h1.3M96.4 91.6h1.3M69.3 158.8h1.3M78.5 66.3h1.3M84.6 152.5h1.3M100.6 73.6h1.3M86.9 57.0h1.3M78.5 128.1h1.3M93.6 55.1h1.3M90.4 107.9h1.3M74.8 117.9h1.3M90.1 130.7h1.3M84.2 114.9h1.3M104.5 95.5h1.3M96.7 75.6h1.3M90.0 143.5h1.3M75.8 76.5h1.3M92.6 88.2h1.3M70.7 86.1h1.3M91.7 94.8h1.3M101.0 129.6h1.3M92.4 133.0h1.3M95.8 67.7h1.3M91.1 157.0h1.3M101.2 150.0h1.3M61.4 83.3h1.3M94.5 156.5h1.3M89.3 142.4h1.3M102.9 57.0h1.3M79.7 141.0h1.3M87.8 101.7h1.3M89.5 102.4h1.3M64.6 67.1h1.3M89.5 93.8h1.3M93.1 110.4h1.3M74.1 154.2h1.3M83.6 160.9h1.3M97.8 65.8h1.3M96.5 59.4h1.3M89.9 153.6h1.3M86.8 59.9h1.3M97.2 94.5h1.3M85.0 115.7h1.3M82.3 119.5h1.3M76.3 113.2h1.3M84.3 114.0h1.3M99.6 150.2h1.3M89.9 63.3h1.3M82.6 163.8h1.3M84.6 138.8h1.3M81.1 71.0h1.3M82.2 56.8h1.3M90.0 63.5h1.3M64.0 96.1h1.3M76.8 152.8h1.3M84.4 75.6h1.3M79.3 167.4h1.3M85.9 86.3h1.3M83.6 146.3h1.3M82.9 71.8h1.3M83.5 98.6h1.3M85.3 163.4h1.3M85.7 148.2h1.3M92.3 57.6h1.3M95.4 85.2h1.3M88.7 134.3h1.3M78.8 106.4h1.3M90.1 85.8h1.3M84.9 158.8h1.3M87.6 150.2h1.3M69.8 56.8h1.3M76.5 69.5h1.3M95.7 105.3h1.3M87.6 74.7h1.3M97.7 83.6h1.3M81.2 162.1h1.3M69.5 71.7h1.3M90.0 70.9h1.3M78.3 158.2h1.3M92.0 81.5h1.3M86.9 93.5h1.3M78.3 80.6h1.3M89.0 133.5h1.3M82.1 133.9h1.3M83.5 64.3h1.3M93.0 92.4h1.3M95.7 153.7h1.3M84.1 150.2h1.3M90.2 99.5h1.3M84.7 87.1h1.3M86.9 66.9h1.3M91.9 155.3h1.3M84.6 137.7h1.3M99.0 157.9h1.3M79.2 120.4h1.3M94.5 128.1h1.3M84.3 123.5h1.3M87.3 109.6h1.3M85.9 57.7h1.3M73.6 168.1h1.3M96.6 109.0h1.3M83.0 66.8h1.3M92.6 121.6h1.3M88.2 105.5h1.3M84.6 139.8h1.3M84.1 86.6h1.3M84.8 88.0h1.3M84.1 163.6h1.3M81.1 76.3h1.3M91.6 69.7h1.3M88.2 65.2h1.3M83.2 108.7h1.3M100.0 96.5h1.3M92.8 84.1h1.3M89.5 170.9h1.3M96.8 94.0h1.3M81.6 92.2h1.3M88.1 54.8h1.3M87.2 86.2h1.3M80.4 128.4h1.3M88.6 158.6h1.3M83.1 176.9h1.3M86.6 145.0h1.3M74.3 121.5h1.3M93.1 127.3h1.3M76.3 152.8h1.3M72.6 59.4h1.3M80.9 102.7h1.3M96.3 105.2h1.3M85.3 63.5h1.3M97.0 144.6h1.3M88.7 60.3h1.3M88.4 152.8h1.3M86.7 116.9h1.3M80.6 152.7h1.3M75.2 60.1h1.3M76.9 153.8h1.3M79.1 90.0h1.3M102.1 55.1h1.3M85.9 76.9h1.3M91.9 113.8h1.3M76.9 81.9h1.3M103.1 160.8h1.3M95.9 102.7h1.3M97.2 87.0h1.3M103.8 55.6h1.3M81.3 155.5h1.3M98.5 58.0h1.3M83.8 85.3h1.3M84.7 140.9h1.3M82.3 124.6h1.3M92.6 110.2h1.3M86.0 126.8h1.3M101.0 88.2h1.3M68.8 76.4h1.3M80.9 119.1h1.3M74.8 78.3h1.3M99.3 111.6h1.3M93.3 55.4h1.3M86.3 78.5h1.3M89.6 152.0h1.3M88.0 156.1h1.3M103.0 113.1h1.3M83.1 91.3h1.3M67.7 129.2h1.3M80.7 93.5h1.3M88.7 113.3h1.3M83.5 135.6h1.3M79.5 160.9h1.3M103.7 85.9h1.3M83.5 121.7h1.3M82.4 126.4h1.3M76.8 62.5h1.3M76.0 86.8h1.3M77.1 126.5h1.3M95.7 168.8h1.3M88.9 90.4h1.3M65.2 152.9h1.3M88.2 167.5h1.3M91.2 78.4h1.3M85.4 113.4h1.3M97.7 96.3h1.3M102.5 62.6h1.3M64.9 74.0h1.3M76.1 125.9h1.3M75.2 148.7h1.3M84.7 76.6h1.3M70.9 131.2h1.3M90.6 115.0h1.3M87.5 69.7h1.3M80.0 75.1h1.3M86.3 159.0h1.3M89.2 135.0h1.3M88.4 132.0h1.3M61.5 96.4h1.3M85.6 57.9h1.3M86.6 158.1h1.3M80.8 85.1h1.3M91.3 130.9h1.3M93.2 77.9h1.3M76.4 126.0h1.3M91.1 70.9h1.3M84.3 109.2h1.3M78.8 61.5h1.3M94.4 124.4h1.3M75.8 51.2h1.3M95.4 51.6h1.3M89.9 132.7h1.3M97.8 162.4h1.3M82.3 69.4h1.3M82.6 78.9h1.3M92.4 147.6h1.3M91.6 137.6h1.3M69.9 178.4h1.3M87.2 152.7h1.3M95.2 158.6h1.3M72.4 102.6h1.3M90.6 84.3h1.3M82.4 131.1h1.3M84.8 63.0h1.3M103.8 99.0h1.3M76.5 153.1h1.3M102.4 130.7h1.3M86.8 146.8h1.3M75.6 144.5h1.3M81.7 102.2h1.3M87.1 75.0h1.3M94.0 104.6h1.3M92.7 146.1h1.3M77.2 89.2h1.3M72.7 98.6h1.3M70.3 119.6h1.3M79.3 64.7h1.3M84.2 125.3h1.3M87.9 69.7h1.3M92.9 72.6h1.3M92.8 144.9h1.3M90.7 126.8h1.3M71.5 151.5h1.3M85.1 75.1h1.3M97.3 122.7h1.3M65.8 76.0h1.3M85.1 144.0h1.3M82.2 140.8h1.3M98.5 113.7h1.3M87.3 123.4h1.3M97.1 155.0h1.3M80.8 74.9h1.3M91.5 111.2h1.3M92.1 124.0h1.3M91.7 102.7h1.3M88.5 117.8h1.3M87.8 153.8h1.3M98.5 105.0h1.3M88.7 133.1h1.3M83.8 70.2h1.3M73.5 149.7h1.3M83.0 88.9h1.3M87.0 73.2h1.3M93.9 95.6h1.3M88.0 124.4h1.3M87.1 83.9h1.3M84.2 150.3h1.3M82.4 151.5h1.3M97.9 74.2h1.3M97.5 168.3h1.3M100.3 115.3h1.3M93.3 104.2h1.3M75.7 109.4h1.3M93.4 62.6h1.3M88.3 66.7h1.3M82.1 127.0h1.3M97.5 139.8h1.3M97.1 103.1h1.3M80.1 59.9h1.3M77.4 122.8h1.3M73.5 161.2h1.3M81.0 167.8h1.3M89.7 150.0h1.3M90.0 90.6h1.3M91.3 106.7h1.3M80.8 134.8h1.3M96.1 126.9h1.3M94.2 128.2h1.3M96.1 141.5h1.3M87.9 109.9h1.3M93.7 111.9h1.3M82.2 96.1h1.3M99.8 107.1h1.3M94.1 63.6h1.3M88.1 91.1h1.3M87.6 81.1h1.3M86.6 121.7h1.3M78.0 172.9h1.3M83.2 118.7h1.3M94.8 133.5h1.3M74.2 132.2h1.3M83.7 103.4h1.3M93.0 74.1h1.3M96.5 75.6h1.3M80.2 103.1h1.3M84.2 148.3h1.3M90.1 140.4h1.3M77.7 148.9h1.3M91.5 135.9h1.3M77.4 104.8h1.3M81.6 57.8h1.3M76.2 86.9h1.3M95.6 90.6h1.3M82.9 130.0h1.3M88.1 133.6h1.3M80.1 123.0h1.3M82.0 77.8h1.3M71.6 90.0h1.3M79.4 146.2h1.3M92.7 94.4h1.3M69.9 137.2h1.3M84.0 52.6h1.3M90.7 82.0h1.3M83.7 117.8h1.3M94.4 123.9h1.3M91.0 107.7h1.3M81.2 127.5h1.3M83.3 155.8h1.3M74.1 128.8h1.3M84.5 165.6h1.3M88.9 121.9h1.3M77.6 78.0h1.3M79.7 132.2h1.3M88.0 77.0h1.3M80.5 168.0h1.3M90.0 67.4h1.3M82.1 147.5h1.3M83.9 110.0h1.3M94.5 110.4h1.3M93.4 56.0h1.3M83.4 140.6h1.3M74.7 110.8h1.3M91.3 119.0h1.3M85.1 102.8h1.3M92.1 159.5h1.3M84.2 69.6h1.3M102.7 70.8h1.3M81.3 111.9h1.3M76.3 116.1h1.3M80.7 84.6h1.3M87.4 92.6h1.3M75.3 155.8h1.3M82.4 92.5h1.3M85.1 114.1h1.3M72.6 90.8h1.3M92.5 57.2h1.3M79.2 155.5h1.3M83.3 86.2h1.3M66.3 139.8h1.3M82.2 147.8h1.3M91.1 155.6h1.3M91.7 72.0h1.3M85.5 117.4h1.3M67.3 163.5h1.3M84.8 126.0h1.3M91.6 121.2h1.3M92.3 72.5h1.3M69.6 152.9h1.3M91.5 105.4h1.3M66.8 69.1h1.3M75.3 117.6h1.3M84.0 69.5h1.3M92.8 57.5h1.3M84.3 156.4h1.3M71.7 141.9h1.3M82.7 170.6h1.3M101.4 64.0h1.3M84.1 90.7h1.3M94.8 79.3h1.3M67.9 81.5h1.3M85.0 70.2h1.3M88.5 112.5h1.3M83.3 147.1h1.3M99.6 81.3h1.3M96.0 93.5h1.3M81.7 150.1h1.3M88.9 145.0h1.3M86.4 79.5h1.3M68.9 57.7h1.3M80.8 140.3h1.3M103.3 103.8h1.3M63.6 82.3h1.3M75.9 98.5h1.3M70.1 76.8h1.3M98.6 85.1h1.3M79.5 150.7h1.3M80.0 87.2h1.3M78.0 82.6h1.3M76.1 118.3h1.3M82.0 103.8h1.3M94.7 75.3h1.3M78.9 72.1h1.3M71.9 79.4h1.3M76.0 79.3h1.3M75.8 92.0h1.3M84.5 143.5h1.3M77.9 74.6h1.3M87.8 89.7h1.3M79.3 100.9h1.3M70.8 170.2h1.3M91.8 150.9h1.3M92.6 87.3h1.3M92.2 92.4h1.3M82.4 88.8h1.3M75.7 107.0h1.3M97.8 67.2h1.3M83.8 110.0h1.3M87.2 154.2h1.3M77.7 94.3h1.3M77.2 66.3h1.3M71.7 132.1h1.3M78.6 117.9h1.3M80.4 102.7h1.3M82.0 132.5h1.3M88.0 119.6h1.3M76.3 154.8h1.3M84.2 157.3h1.3M88.6 63.2h1.3M65.9 70.2h1.3M92.6 63.6h1.3M96.5 59.9h1.3M90.2 121.0h1.3M68.5 74.9h1.3M69.9 129.6h1.3M75.7 170.1h1.3M80.3 112.3h1.3M87.5 138.3h1.3M91.5 154.6h1.3M95.0 146.0h1.3M74.1 107.0h1.3M75.5 65.9h1.3M93.0 138.1h1.3M84.9 150.0h1.3M93.6 114.7h1.3M86.2 54.9h1.3M89.2 115.0h1.3M86.8 86.1h1.3M91.2 139.8h1.3M76.8 60.5h1.3M79.4 114.4h1.3M90.0 104.0h1.3M75.6 153.7h1.3M91.9 93.8h1.3M86.1 66.1h1.3M94.8 75.9h1.3M73.2 78.0h1.3M82.3 92.5h1.3M90.1 54.8h1.3M82.0 92.8h1.3M87.5 95.5h1.3M95.9 158.8h1.3M84.9 106.5h1.3M79.4 114.0h1.3M65.8 98.0h1.3M86.7 82.8h1.3M90.7 59.0h1.3M72.4 100.6h1.3M79.4 145.6h1.3M88.0 156.4h1.3M78.9 156.1h1.3M82.4 119.4h1.3M84.7 83.7h1.3M76.1 116.4h1.3M79.7 78.8h1.3M85.1 167.3h1.3M99.0 57.1h1.3M82.2 81.2h1.3M87.1 155.0h1.3M86.6 168.0h1.3M88.5 65.5h1.3M86.8 58.6h1.3M83.5 124.5h1.3M85.2 102.4h1.3M100.5 72.5h1.3M83.9 95.8h1.3M83.2 111.8h1.3M78.3 81.5h1.3M90.4 119.2h1.3M86.6 171.5h1.3M88.4 63.6h1.3M83.2 167.0h1.3M89.8 72.4h1.3M79.9 154.6h1.3M89.1 102.2h1.3M67.8 57.3h1.3M98.8 121.4h1.3M81.3 174.0h1.3M77.7 102.2h1.3M62.3 77.5h1.3M93.6 119.1h1.3M87.9 103.9h1.3M83.3 150.7h1.3M90.6 91.9h1.3M88.2 121.9h1.3M93.2 90.6h1.3M98.5 116.2h1.3M86.3 112.0h1.3M91.8 94.4h1.3M87.8 172.6h1.3M100.3 88.9h1.3M99.8 107.3h1.3M77.6 115.5h1.3M74.5 108.6h1.3M91.4 57.2h1.3M86.8 71.7h1.3M85.5 63.1h1.3M88.8 144.2h1.3M81.4 129.4h1.3M91.8 65.6h1.3M81.7 71.2h1.3M62.8 81.6h1.3M96.4 126.2h1.3M91.1 78.2h1.3M78.5 130.2h1.3M83.3 137.3h1.3M79.0 147.8h1.3M92.2 96.8h1.3M86.1 92.8h1.3M83.4 156.0h1.3M91.0 155.1h1.3M92.3 150.3h1.3M79.0 67.1h1.3M85.5 59.4h1.3M87.6 99.3h1.3M94.9 61.1h1.3M81.5 157.9h1.3M86.0 131.6h1.3M77.0 69.9h1.3M82.0 149.5h1.3M75.1 85.4h1.3M86.6 71.5h1.3M95.1 93.5h1.3M78.2 81.5h1.3M91.2 105.3h1.3M85.6 83.8h1.3M83.1 161.2h1.3M85.3 80.1h1.3M98.9 112.8h1.3M86.2 89.5h1.3M83.9 155.7h1.3M83.8 118.1h1.3M83.5 116.4h1.3M81.1 125.9h1.3M93.1 69.8h1.3M78.6 78.5h1.3M101.1 97.6h1.3M89.0 128.0h1.3M94.3 99.7h1.3M87.7 52.1h1.3M75.7 158.0h1.3M87.5 140.5h1.3M88.6 156.1h1.3M74.0 61.5h1.3M88.8 132.5h1.3M74.2 91.2h1.3M88.4 134.4h1.3M89.5 175.2h1.3M92.9 109.9h1.3M86.5 95.7h1.3M87.4 168.3h1.3M89.1 86.3h1.3M85.9 97.1h1.3M86.9 72.7h1.3M86.8 162.0h1.3M88.2 107.6h1.3M61.5 103.4h1.3M94.6 120.1h1.3M91.3 70.0h1.3M83.3 116.4h1.3M79.3 99.6h1.3M93.5 122.2h1.3M88.5 110.1h1.3M84.3 104.7h1.3M85.0 156.4h1.3M90.8 64.8h1.3M79.7 180.0h1.3M77.0 130.9h1.3M102.9 124.1h1.3M69.7 106.3h1.3M77.4 59.5h1.3M105.0 97.8h1.3M88.6 136.1h1.3M86.7 55.3h1.3M80.7 138.8h1.3M70.8 75.0h1.3M91.3 111.8h1.3M89.7 95.8h1.3M94.1 56.6h1.3M89.8 161.0h1.3M92.9 159.8h1.3M93.1 100.8h1.3M88.9 147.6h1.3M85.9 124.3h1.3M84.7 132.1h1.3M84.6 112.3h1.3M80.4 98.8h1.3M89.8 135.3h1.3M85.1 100.8h1.3M93.0 62.4h1.3M81.2 96.8h1.3M96.1 145.6h1.3M92.9 71.2h1.3M84.1 79.8h1.3M80.4 169.2h1.3M77.1 93.2h1.3M86.0 121.7h1.3M85.2 94.7h1.3M85.0 82.9h1.3M87.1 175.3h1.3M86.0 121.3h1.3M84.6 117.4h1.3M97.6 95.2h1.3M87.2 79.2h1.3M95.0 79.5h1.3M96.5 85.3h1.3M89.5 92.0h1.3M78.9 109.6h1.3M90.3 79.0h1.3M91.6 78.5h1.3M82.2 121.6h1.3M79.4 79.1h1.3M98.1 84.5h1.3M85.3 91.8h1.3M80.2 173.9h1.3M85.4 140.6h1.3M68.2 135.2h1.3M82.6 164.4h1.3M86.6 73.2h1.3M78.8 164.2h1.3M94.1 164.3h1.3M98.2 113.5h1.3M76.6 74.7h1.3M81.2 78.5h1.3M72.0 116.1h1.3M84.0 65.4h1.3M68.7 121.9h1.3M83.1 152.1h1.3M92.9 116.3h1.3M81.0 148.0h1.3M77.5 72.3h1.3M77.7 121.2h1.3M73.5 108.0h1.3M78.5 74.7h1.3M86.2 87.7h1.3M89.2 113.6h1.3M73.4 137.3h1.3M82.6 68.9h1.3M74.3 118.2h1.3M88.1 69.0h1.3M74.9 125.5h1.3M82.3 91.7h1.3M71.2 83.5h1.3M78.4 122.5h1.3M76.3 120.4h1.3M71.4 93.0h1.3M82.7 90.7h1.3M83.0 158.4h1.3M85.8 167.9h1.3M73.9 60.8h1.3M84.9 103.6h1.3M82.0 145.7h1.3M81.5 141.5h1.3M82.2 122.9h1.3M95.5 99.5h1.3M91.0 71.3h1.3M86.9 67.3h1.3M91.1 177.5h1.3M95.6 68.6h1.3M69.4 152.4h1.3M67.6 153.4h1.3M92.0 87.4h1.3M97.5 85.1h1.3M93.8 66.9h1.3M76.9 169.8h1.3M76.2 153.9h1.3M93.4 122.4h1.3M83.2 70.4h1.3M91.3 61.0h1.3M92.7 78.7h1.3M90.5 69.8h1.3M71.6 55.8h1.3M81.4 163.9h1.3M90.4 170.9h1.3M84.8 69.6h1.3M88.8 136.7h1.3M87.1 138.3h1.3M84.7 141.2h1.3M95.1 75.5h1.3M83.2 130.8h1.3M91.4 143.3h1.3M86.1 75.4h1.3M94.1 124.9h1.3M81.4 94.4h1.3M89.4 56.1h1.3M94.5 94.7h1.3M63.1 74.6h1.3M81.8 59.8h1.3M101.5 54.0h1.3M78.6 91.8h1.3M98.8 57.4h1.3M78.9 103.7h1.3M91.4 51.7h1.3M85.7 96.7h1.3M83.1 136.3h1.3M87.8 97.2h1.3M66.8 61.5h1.3M80.4 146.8h1.3M95.1 58.5h1.3M93.7 113.2h1.3M78.6 119.2h1.3M89.1 141.1h1.3M90.0 67.8h1.3M93.0 79.9h1.3M91.4 119.0h1.3M89.3 109.0h1.3M102.3 113.9h1.3M97.4 84.9h1.3M92.9 78.8h1.3M75.7 125.2h1.3M90.1 168.1h1.3M92.7 128.6h1.3M77.2 76.4h1.3M97.3 76.3h1.3M90.7 147.1h1.3M84.1 135.1h1.3M71.9 87.4h1.3M82.3 123.9h1.3M102.2 127.9h1.3M82.8 86.5h1.3M87.8 148.8h1.3M79.6 75.2h1.3M93.4 145.0h1.3M82.8 154.7h1.3M87.8 135.8h1.3M74.3 87.1h1.3M85.0 155.7h1.3M97.5 68.8h1.3M82.7 125.2h1.3M84.2 128.1h1.3M85.9 144.5h1.3M83.5 153.1h1.3M99.2 66.5h1.3M99.8 115.0h1.3M86.2 73.4h1.3M89.5 125.6h1.3M91.0 150.4h1.3M96.1 150.6h1.3M82.0 75.4h1.3M86.5 81.5h1.3M85.3 77.0h1.3M75.8 102.4h1.3M89.4 53.1h1.3M97.4 119.4h1.3M81.6 94.9h1.3M85.4 147.0h1.3M85.4 160.2h1.3M77.8 64.5h1.3M93.1 119.3h1.3M78.0 181.2h1.3M82.4 70.6h1.3M84.9 108.3h1.3M70.8 126.8h1.3M86.4 110.4h1.3M85.3 56.4h1.3M85.2 122.2h1.3M88.9 120.8h1.3M102.2 61.5h1.3M91.4 75.3h1.3M86.7 129.1h1.3M79.8 150.2h1.3M81.4 163.4h1.3M85.0 131.5h1.3M75.3 155.9h1.3M99.1 118.7h1.3M85.6 73.5h1.3M90.8 86.3h1.3M87.9 162.0h1.3M88.4 61.9h1.3M79.8 89.2h1.3M82.1 96.2h1.3M83.4 163.8h1.3M89.9 114.0h1.3M88.6 84.8h1.3M84.3 154.3h1.3M78.1 156.4h1.3M75.0 66.8h1.3M78.3 150.4h1.3M84.1 51.2h1.3M78.2 109.2h1.3M92.7 142.7h1.3M91.3 59.1h1.3M91.7 64.9h1.3M80.5 112.1h1.3M90.5 112.7h1.3M78.9 111.9h1.3M90.4 49.0h1.3M69.8 157.7h1.3M82.8 64.5h1.3M75.3 132.8h1.3M80.6 164.3h1.3M101.7 98.8h1.3M94.3 125.9h1.3M93.1 58.7h1.3M96.9 118.9h1.3M91.8 113.6h1.3M82.8 124.8h1.3M84.1 90.9h1.3M84.8 138.0h1.3M84.1 120.6h1.3M95.0 109.7h1.3M95.4 98.5h1.3M84.1 163.0h1.3M84.9 54.3h1.3M89.9 132.8h1.3M79.9 147.2h1.3M96.0 83.8h1.3M91.7 133.3h1.3M95.7 101.8h1.3M79.0 104.9h1.3M85.4 151.8h1.3M90.1 144.0h1.3M83.5 136.0h1.3M91.2 81.7h1.3M82.3 121.1h1.3M91.8 58.4h1.3M93.2 173.5h1.3M84.4 74.2h1.3M76.9 124.4h1.3M79.1 72.0h1.3M77.0 144.8h1.3M79.8 54.3h1.3M71.5 90.1h1.3M72.7 167.8h1.3M88.0 139.4h1.3M83.6 151.1h1.3M68.9 74.8h1.3M99.4 68.6h1.3M68.7 69.0h1.3M89.9 59.3h1.3M81.2 179.9h1.3M84.0 157.6h1.3M87.9 111.0h1.3M92.2 109.9h1.3M61.8 112.4h1.3M101.4 135.6h1.3M91.3 116.6h1.3M66.0 128.4h1.3M98.2 109.7h1.3M75.7 111.4h1.3M80.1 147.6h1.3M81.0 109.7h1.3M84.9 75.8h1.3M90.4 80.7h1.3M78.0 99.9h1.3M69.4 107.6h1.3M80.6 80.3h1.3M100.0 55.7h1.3M84.2 167.6h1.3M92.3 62.8h1.3M85.3 136.9h1.3M94.3 77.0h1.3M93.0 81.5h1.3M92.2 108.0h1.3M86.5 178.3h1.3M84.6 115.4h1.3M77.4 179.8h1.3M86.7 133.6h1.3M83.7 108.8h1.3M75.4 62.5h1.3M68.6 133.9h1.3M69.9 79.2h1.3M95.9 86.2h1.3M82.3 66.7h1.3M86.2 150.8h1.3M76.7 57.8h1.3M86.6 99.7h1.3M89.3 94.5h1.3M83.9 89.1h1.3M79.6 140.0h1.3M79.2 157.0h1.3M77.1 64.0h1.3M80.7 111.0h1.3M95.6 107.2h1.3M81.7 108.3h1.3M85.2 105.6h1.3M88.5 110.2h1.3M81.4 176.3h1.3M91.0 96.0h1.3M99.1 62.7h1.3M90.6 58.9h1.3M102.4 146.5h1.3M90.9 114.3h1.3M95.3 122.4h1.3M86.3 108.3h1.3M71.7 132.1h1.3M78.4 173.1h1.3M80.7 103.0h1.3M81.0 147.9h1.3M70.9 85.5h1.3M86.7 94.4h1.3M92.3 76.6h1.3M72.6 79.5h1.3M77.2 115.0h1.3M90.4 67.4h1.3M88.4 172.0h1.3M79.9 90.7h1.3M104.5 149.3h1.3M87.2 66.8h1.3M98.5 82.8h1.3M92.7 141.0h1.3M90.5 105.0h1.3M85.6 87.9h1.3M105.6 59.3h1.3M79.1 187.8h1.3M92.1 112.2h1.3M91.3 136.0h1.3M79.7 128.5h1.3M72.8 116.9h1.3M81.3 155.9h1.3M78.5 157.3h1.3M82.0 64.6h1.3M73.6 139.1h1.3M86.6 138.4h1.3M91.5 139.2h1.3M82.6 168.9h1.3M86.1 117.0h1.3M81.2 56.8h1.3M93.1 118.1h1.3M95.7 141.1h1.3M83.8 83.4h1.3M76.6 58.3h1.3M98.0 106.4h1.3M94.7 103.6h1.3M75.4 77.3h1.3M86.1 120.8h1.3M83.9 55.5h1.3M90.2 143.9h1.3M93.8 126.8h1.3M85.0 154.0h1.3M66.5 65.2h1.3M71.9 122.2h1.3M85.9 131.4h1.3M85.2 142.2h1.3M96.3 106.4h1.3M63.9 67.3h1.3M88.3 62.3h1.3M73.8 140.3h1.3M83.3 53.4h1.3M90.6 153.0h1.3M104.7 74.9h1.3M89.0 113.4h1.3M84.4 128.6h1.3M73.5 142.3h1.3M94.1 106.2h1.3M80.8 151.4h1.3M83.5 84.1h1.3M92.6 127.0h1.3M65.5 125.2h1.3M88.8 130.4h1.3M92.0 102.1h1.3M78.2 107.9h1.3M68.0 94.9h1.3M92.6 78.1h1.3M85.0 70.9h1.3M82.6 152.9h1.3M91.8 184.3h1.3M80.2 139.4h1.3M78.6 86.7h1.3M94.7 159.7h1.3M78.3 161.4h1.3M90.7 104.0h1.3M79.4 148.1h1.3M90.3 69.7h1.3M82.5 75.6h1.3M79.4 160.3h1.3M90.4 68.1h1.3M90.7 83.8h1.3M82.5 74.0h1.3M73.2 102.2h1.3M77.2 104.8h1.3M83.7 90.8h1.3M81.9 74.8h1.3M97.6 74.8h1.3M76.5 159.2h1.3M65.5 77.2h1.3M86.0 86.0h1.3M85.9 81.4h1.3M94.3 116.6h1.3M97.4 49.4h1.3M92.6 131.0h1.3M84.1 61.0h1.3M79.5 80.6h1.3M98.9 159.4h1.3M95.3 67.1h1.3M97.6 119.3h1.3M80.5 159.8h1.3M82.6 80.9h1.3M82.3 102.5h1.3M92.7 180.9h1.3M91.9 113.9h1.3M99.0 163.9h1.3M77.3 168.9h1.3M74.3 69.1h1.3M98.3 84.4h1.3M92.4 94.5h1.3M87.5 154.1h1.3M95.5 137.0h1.3M94.2 75.6h1.3M81.0 60.9h1.3M93.6 58.9h1.3M81.9 144.9h1.3M78.7 103.5h1.3M77.1 166.3h1.3M83.6 145.2h1.3M67.4 81.8h1.3M87.7 124.2h1.3M67.7 124.3h1.3M86.0 136.9h1.3M83.5 80.4h1.3M97.3 132.5h1.3M89.3 143.8h1.3M82.6 103.0h1.3M85.8 123.7h1.3M99.1 112.5h1.3M93.6 73.4h1.3M80.8 82.4h1.3M75.1 73.1h1.3M89.0 126.0h1.3M94.2 75.0h1.3M67.1 108.7h1.3M96.0 135.0h1.3M87.2 119.5h1.3M93.7 99.9h1.3M83.0 87.7h1.3M77.6 143.2h1.3M78.7 106.3h1.3M77.6 56.9h1.3M100.0 58.3h1.3M93.0 120.9h1.3M88.2 104.7h1.3M77.3 128.6h1.3M61.4 61.3h1.3M88.9 128.6h1.3M95.5 117.2h1.3M98.2 151.7h1.3M73.5 110.8h1.3M91.5 161.2h1.3M89.9 54.3h1.3M94.5 164.4h1.3M93.1 97.8h1.3M84.5 113.8h1.3M84.6 106.6h1.3M99.2 132.4h1.3M80.8 100.7h1.3M81.1 108.7h1.3M101.2 82.8h1.3M86.2 154.0h1.3M89.2 127.9h1.3M93.6 82.2h1.3M98.8 79.7h1.3M91.2 80.8h1.3M93.7 109.3h1.3M88.3 112.7h1.3M90.1 120.0h1.3M81.4 146.7h1.3M94.5 142.2h1.3M96.1 123.3h1.3M89.8 120.4h1.3M79.3 132.6h1.3M70.4 103.4h1.3M61.4 86.5h1.3M94.6 84.8h1.3M73.2 91.0h1.3M83.3 88.9h1.3M95.4 94.1h1.3M78.7 86.6h1.3M100.3 64.2h1.3M68.2 90.1h1.3M84.8 123.5h1.3M103.7 85.5h1.3M82.2 108.6h1.3M84.5 101.2h1.3M70.3 126.1h1.3M88.3 122.4h1.3M80.3 95.2h1.3M74.5 80.6h1.3M83.6 125.5h1.3M76.5 74.6h1.3M78.7 108.4h1.3M95.3 156.9h1.3M80.3 76.9h1.3M98.9 53.0h1.3M84.3 77.8h1.3M85.9 98.8h1.3M95.9 111.9h1.3M85.7 144.6h1.3M91.9 59.1h1.3M82.8 76.8h1.3M90.3 118.0h1.3M86.6 134.3h1.3M98.4 57.8h1.3M85.4 60.6h1.3M106.4 117.2h1.3M96.2 141.7h1.3M79.7 125.1h1.3M74.3 64.2h1.3M89.8 97.2h1.3M85.8 63.5h1.3M87.3 69.1h1.3M102.2 84.6h1.3M94.8 121.9h1.3M74.2 125.1h1.3M78.4 133.8h1.3M89.3 171.1h1.3M100.3 94.1h1.3M76.6 79.5h1.3M95.4 113.2h1.3M100.4 135.2h1.3M92.8 94.5h1.3M88.7 179.9h1.3M103.5 96.5h1.3M72.4 150.1h1.3M97.6 127.8h1.3M89.0 145.9h1.3M76.6 117.6h1.3M84.7 79.5h1.3M83.8 129.8h1.3M94.3 63.1h1.3M100.8 126.6h1.3M86.3 74.8h1.3M87.8 122.4h1.3M83.9 150.8h1.3M80.2 105.5h1.3M84.1 113.7h1.3M77.4 114.6h1.3M84.9 91.2h1.3M91.6 153.0h1.3M91.9 89.9h1.3M81.0 69.7h1.3M86.0 125.4h1.3M78.7 61.5h1.3M85.6 104.7h1.3M84.5 127.6h1.3M84.5 82.8h1.3M90.8 160.8h1.3M81.2 48.4h1.3M84.8 133.5h1.3M92.3 128.5h1.3M98.9 127.2h1.3M86.6 121.1h1.3M86.7 67.8h1.3M98.8 84.7h1.3M91.6 68.4h1.3M73.4 118.5h1.3M98.4 74.2h1.3M97.8 148.9h1.3M82.7 83.2h1.3M76.6 119.6h1.3M71.2 73.6h1.3M76.6 70.0h1.3M85.1 58.5h1.3M71.3 72.7h1.3M80.8 183.2h1.3M85.6 170.3h1.3M104.5 65.0h1.3M76.2 117.0h1.3M88.8 119.0h1.3M82.6 99.4h1.3M96.8 106.7h1.3M90.7 125.7h1.3M94.9 63.1h1.3M70.7 123.1h1.3M88.2 90.3h1.3M84.9 57.1h1.3M86.6 70.4h1.3M91.2 134.9h1.3M87.3 155.3h1.3M98.9 80.2h1.3M95.0 164.5h1.3M74.1 100.5h1.3M67.5 124.1h1.3M89.3 162.8h1.3M96.8 156.3h1.3M66.2 76.6h1.3M87.2 107.2h1.3M85.2 95.7h1.3M88.4 73.5h1.3M74.1 133.5h1.3M99.2 171.5h1.3M81.9 99.3h1.3M88.5 103.0h1.3M86.8 105.0h1.3M86.2 97.4h1.3M93.7 113.6h1.3M76.7 119.6h1.3M82.6 160.6h1.3M78.9 74.5h1.3M95.2 120.9h1.3M88.1 95.8h1.3M83.8 139.0h1.3M70.7 111.5h1.3M94.5 70.9h1.3M84.1 116.4h1.3M92.9 93.9h1.3M89.5 136.3h1.3M98.6 138.9h1.3M97.5 51.7h1.3M89.4 98.9h1.3M94.5 113.1h1.3M93.0 172.9h1.3M81.9 161.4h1.3M79.8 141.3h1.3M83.1 66.6h1.3M74.5 65.6h1.3M86.2 126.4h1.3M87.9 92.1h1.3M80.2 140.4h1.3M86.3 115.2h1.3M81.3 81.2h1.3M89.1 107.3h1.3M85.2 168.9h1.3M92.0 151.4h1.3M98.8 97.7h1.3M79.2 150.4h1.3M84.1 165.4h1.3M96.9 73.8h1.3M74.8 76.6h1.3M74.7 62.0h1.3M74.1 129.5h1.3M67.8 167.8h1.3M87.1 125.8h1.3M99.4 77.6h1.3M89.6 113.8h1.3M85.1 129.0h1.3M76.8 78.2h1.3M88.4 159.0h1.3M95.3 71.2h1.3M77.6 95.1h1.3M84.7 113.5h1.3M89.3 152.7h1.3M75.7 128.5h1.3M81.6 125.7h1.3M86.5 122.0h1.3M93.5 136.5h1.3M78.0 159.1h1.3M92.1 115.1h1.3M79.9 133.7h1.3M83.5 127.4h1.3M98.4 121.6h1.3M96.4 114.5h1.3M71.7 178.2h1.3M92.9 77.3h1.3M82.2 123.3h1.3M98.7 55.6h1.3M75.4 107.0h1.3M88.7 102.7h1.3M91.7 106.8h1.3M72.2 73.6h1.3M86.9 100.8h1.3M83.9 70.7h1.3M87.5 77.7h1.3M79.3 108.0h1.3M91.3 110.3h1.3M94.4 56.6h1.3M90.5 59.1h1.3M107.9 61.7h1.3M92.0 78.0h1.3M82.2 83.3h1.3M89.7 91.2h1.3M68.5 101.5h1.3M77.4 164.7h1.3M88.7 74.7h1.3M99.8 133.6h1.3M83.6 170.8h1.3M89.8 99.3h1.3M98.4 76.3h1.3M101.1 76.1h1.3M90.2 177.7h1.3M84.4 107.1h1.3M87.6 127.8h1.3M92.9 161.5h1.3M93.1 138.5h1.3M78.4 98.7h1.3M97.7 80.7h1.3M82.2 70.8h1.3M90.6 84.4h1.3M95.6 138.8h1.3M91.8 102.0h1.3M70.5 55.5h1.3M78.4 144.8h1.3M84.3 84.2h1.3M79.6 72.6h1.3M84.2 167.5h1.3M91.3 138.7h1.3M90.0 79.1h1.3M78.4 120.9h1.3M82.1 97.9h1.3M78.9 168.6h1.3M92.2 161.1h1.3M82.6 60.7h1.3M83.6 138.3h1.3M82.8 156.7h1.3M83.1 111.6h1.3M74.7 103.6h1.3M92.8 115.5h1.3M72.1 69.8h1.3M83.1 113.0h1.3M78.5 83.0h1.3M96.0 128.9h1.3M92.4 133.1h1.3M71.5 93.0h1.3M82.1 140.2h1.3M74.4 79.0h1.3M80.7 92.0h1.3M79.4 165.4h1.3M91.8 83.3h1.3M80.6 161.0h1.3M99.6 71.7h1.3M88.3 129.9h1.3M97.4 66.4h1.3M88.3 69.1h1.3M91.8 103.2h1.3M78.4 108.7h1.3M82.7 106.8h1.3M75.8 84.3h1.3M84.9 170.7h1.3M71.8 52.2h1.3M86.3 139.8h1.3M96.1 149.7h1.3M100.3 168.1h1.3M80.8 132.6h1.3M77.0 122.5h1.3M93.4 174.6h1.3M86.9 114.9h1.3M92.4 78.5h1.3M79.7 92.7h1.3M91.6 166.9h1.3M94.4 88.4h1.3M96.4 55.2h1.3M93.3 107.3h1.3M86.5 155.2h1.3M87.3 70.0h1.3M65.8 110.4h1.3M73.9 104.6h1.3M79.7 80.6h1.3M91.0 85.6h1.3M90.5 72.5h1.3M71.7 73.7h1.3M93.0 112.4h1.3M79.5 74.9h1.3M85.4 80.0h1.3M86.7 106.2h1.3M77.5 144.2h1.3M86.8 56.7h1.3M82.4 67.9h1.3M100.1 149.6h1.3M98.0 83.3h1.3M90.6 79.3h1.3M93.6 143.2h1.3M90.2 59.4h1.3M84.7 90.8h1.3M88.8 96.6h1.3M87.6 106.5h1.3M75.8 55.5h1.3M83.4 144.0h1.3M89.8 135.2h1.3M88.4 151.8h1.3M71.5 164.9h1.3M89.0 124.5h1.3M76.7 73.5h1.3M79.4 132.0h1.3M103.7 62.8h1.3M77.2 51.4h1.3M82.8 111.6h1.3M75.5 73.5h1.3M94.9 64.4h1.3M95.1 73.0h1.3M84.5 89.0h1.3M99.9 68.3h1.3M95.2 132.7h1.3M78.9 98.8h1.3M102.1 81.1h1.3M79.5 99.1h1.3M74.9 66.7h1.3M89.5 66.6h1.3M79.2 75.9h1.3M82.6 117.4h1.3M78.4 139.6h1.3M92.6 147.6h1.3M72.1 139.5h1.3M81.5 86.0h1.3M96.6 139.6h1.3M87.8 85.6h1.3M73.1 96.0h1.3M96.4 69.8h1.3M83.8 111.0h1.3M81.3 60.6h1.3M81.1 169.2h1.3M78.9 122.0h1.3M80.8 93.7h1.3M92.6 89.4h1.3M96.5 72.4h1.3M100.4 61.9h1.3M68.6 157.7h1.3M87.2 126.2h1.3M98.6 126.5h1.3M86.2 113.9h1.3M86.9 166.6h1.3M101.2 139.8h1.3M77.4 171.0h1.3M81.1 106.9h1.3M85.2 162.1h1.3M78.7 136.6h1.3M96.9 55.5h1.3M82.7 145.9h1.3M89.5 87.2h1.3M88.2 149.2h1.3M74.7 137.1h1.3M84.2 74.1h1.3M78.2 125.8h1.3M79.7 126.8h1.3M81.5 150.0h1.3M99.6 82.4h1.3M78.1 55.6h1.3M76.2 92.0h1.3M70.0 81.8h1.3M77.5 116.2h1.3M91.6 83.5h1.3M84.4 61.5h1.3M77.9 94.4h1.3M100.0 155.5h1.3M84.6 88.8h1.3M80.5 149.5h1.3M76.9 51.1h1.3M83.9 68.7h1.3M97.8 107.9h1.3M71.1 166.5h1.3M90.3 66.0h1.3M89.8 151.9h1.3M100.1 115.6h1.3M89.7 157.0h1.3M90.1 161.1h1.3M84.4 83.6h1.3M99.3 63.4h1.3M99.0 106.9h1.3M88.0 96.1h1.3M84.5 92.6h1.3M86.2 142.0h1.3M74.8 96.0h1.3M91.0 112.5h1.3M86.2 95.2h1.3M97.0 124.0h1.3M95.0 176.4h1.3M71.1 151.0h1.3M82.0 96.1h1.3M93.1 110.2h1.3M89.9 78.2h1.3M86.3 53.3h1.3M87.7 86.8h1.3M86.6 99.4h1.3M87.7 166.2h1.3M91.9 132.8h1.3M89.5 119.2h1.3M88.1 172.6h1.3M87.6 71.5h1.3M85.1 140.4h1.3M83.4 120.0h1.3M93.0 167.5h1.3M78.7 118.9h1.3M87.6 68.4h1.3M82.5 104.9h1.3M82.1 132.8h1.3M81.6 75.3h1.3M76.8 150.1h1.3M89.1 146.7h1.3M94.1 152.5h1.3M81.9 146.8h1.3M77.0 127.8h1.3M89.8 128.4h1.3M97.4 127.8h1.3M80.3 150.3h1.3M96.1 153.1h1.3M86.6 155.7h1.3M80.6 113.1h1.3M98.5 150.7h1.3M86.2 159.4h1.3M87.0 155.0h1.3M72.1 65.3h1.3M101.3 165.4h1.3M104.9 71.9h1.3M79.8 159.9h1.3M69.6 119.1h1.3M80.2 155.3h1.3M75.0 110.6h1.3M95.2 160.2h1.3M83.8 54.0h1.3M75.7 64.5h1.3M97.0 71.9h1.3M89.8 92.3h1.3M91.0 99.9h1.3M92.1 137.8h1.3M76.6 157.0h1.3M84.3 144.5h1.3M97.4 117.6h1.3M81.0 106.1h1.3M91.0 150.7h1.3M88.8 84.2h1.3M89.8 102.5h1.3M99.3 68.3h1.3M85.5 103.5h1.3M92.6 151.1h1.3M101.7 112.9h1.3M90.6 140.7h1.3M72.3 98.4h1.3M95.5 107.5h1.3M75.6 87.7h1.3M94.8 75.4h1.3M85.8 149.7h1.3M95.6 154.2h1.3M96.9 81.3h1.3M80.3 91.0h1.3M87.5 118.7h1.3M79.0 129.8h1.3M92.5 87.1h1.3M93.4 162.6h1.3M97.6 75.0h1.3M82.6 175.1h1.3M72.9 137.8h1.3M84.8 159.2h1.3M77.3 172.8h1.3M94.3 76.3h1.3M88.6 153.6h1.3M79.6 122.8h1.3M92.2 138.4h1.3M91.0 137.0h1.3M87.1 83.4h1.3M78.9 111.4h1.3M84.6 147.0h1.3M98.8 143.4h1.3M96.6 121.8h1.3M87.3 122.7h1.3M76.8 100.6h1.3M82.2 112.0h1.3M90.8 114.4h1.3M94.8 129.4h1.3M90.7 172.2h1.3M89.5 79.9h1.3M87.4 131.0h1.3M86.2 61.2h1.3M74.4 90.5h1.3M78.6 142.8h1.3M84.4 125.2h1.3M88.2 137.2h1.3M88.8 80.5h1.3M85.7 137.9h1.3M97.7 67.3h1.3M89.7 72.4h1.3M91.8 123.9h1.3M86.1 131.9h1.3M82.3 61.2h1.3M82.0 114.6h1.3M78.0 91.3h1.3M81.6 66.9h1.3M98.1 83.1h1.3M86.9 128.1h1.3M96.3 80.2h1.3M98.8 64.0h1.3M85.1 82.8h1.3M82.5 128.4h1.3M72.9 64.9h1.3M83.3 100.4h1.3M82.4 144.9h1.3M97.1 83.8h1.3M92.1 152.6h1.3M90.8 77.8h1.3M70.6 127.9h1.3M81.9 144.8h1.3M78.2 93.0h1.3M90.7 132.6h1.3M77.9 91.3h1.3M81.9 75.1h1.3M79.6 156.1h1.3M87.6 70.7h1.3M83.2 167.3h1.3M81.2 142.1h1.3M85.5 148.2h1.3M75.3 168.0h1.3M87.2 103.7h1.3M89.6 59.5h1.3M89.7 72.9h1.3M82.2 144.3h1.3M69.8 170.3h1.3M92.4 135.3h1.3M75.6 153.1h1.3M101.0 109.3h1.3M95.6 92.1h1.3M82.2 71.3h1.3M86.8 131.3h1.3M78.6 106.8h1.3M97.4 88.0h1.3M89.4 119.0h1.3M74.9 96.3h1.3M68.9 173.7h1.3M98.5 149.7h1.3M83.2 74.5h1.3M98.0 152.0h1.3M96.9 160.4h1.3M86.0 91.5h1.3M96.1 88.3h1.3M79.7 93.9h1.3M86.6 172.5h1.3M93.5 85.7h1.3M87.3 125.4h1.3M91.2 68.9h1.3M76.4 170.0h1.3M80.3 148.6h1.3M91.0 129.7h1.3M81.3 94.8h1.3M84.1 126.9h1.3M91.8 103.0h1.3M87.7 95.3h1.3M86.1 72.6h1.3M92.1 101.4h1.3M80.4 82.7h1.3M87.7 85.5h1.3M85.0 110.5h1.3M94.6 134.7h1.3M84.1 97.8h1.3M94.9 81.6h1.3M78.7 144.4h1.3M89.6 138.1h1.3M76.9 140.7h1.3M96.9 62.5h1.3M98.9 61.3h1.3M81.0 123.6h1.3M69.2 63.0h1.3M90.6 115.7h1.3M94.1 140.4h1.3M76.5 96.6h1.3M91.4 88.3h1.3M82.8 164.4h1.3M90.1 108.2h1.3M71.2 57.3h1.3M94.8 160.3h1.3M96.4 96.0h1.3M91.5 127.2h1.3M87.8 90.9h1.3M102.0 105.8h1.3M75.1 118.5h1.3M83.1 62.9h1.3M89.7 162.8h1.3M64.0 124.8h1.3M84.0 159.9h1.3M82.6 133.9h1.3M83.1 64.7h1.3M90.4 111.0h1.3M86.0 133.2h1.3M75.9 172.3h1.3M86.2 163.1h1.3M88.2 127.1h1.3M98.2 124.1h1.3M84.4 48.8h1.3M81.9 60.5h1.3M96.5 128.0h1.3M89.9 118.2h1.3M72.9 63.8h1.3M91.0 73.2h1.3M97.4 119.6h1.3M88.0 116.7h1.3M97.3 106.9h1.3M91.7 142.7h1.3M74.1 128.5h1.3M85.8 79.3h1.3M83.3 165.1h1.3M102.1 108.4h1.3M83.9 86.8h1.3M81.5 156.3h1.3M82.7 73.4h1.3M80.6 139.0h1.3M88.3 62.6h1.3M95.9 88.5h1.3M71.2 123.5h1.3M86.7 104.3h1.3M81.9 127.6h1.3M84.5 144.3h1.3M92.8 126.7h1.3M82.7 152.9h1.3M95.2 134.3h1.3M90.3 160.4h1.3M82.5 62.0h1.3M82.1 94.5h1.3M91.3 107.8h1.3M91.1 161.2h1.3M74.4 59.9h1.3M94.9 101.1h1.3M84.4 135.6h1.3M74.2 129.8h1.3M95.1 73.2h1.3M94.3 66.6h1.3M72.0 61.3h1.3M75.4 168.8h1.3M99.0 112.1h1.3M101.7 133.8h1.3M90.1 113.3h1.3M80.9 124.0h1.3M79.5 93.6h1.3M102.4 71.6h1.3M67.2 95.0h1.3M71.3 97.5h1.3M83.4 146.1h1.3M81.9 131.7h1.3M69.4 155.4h1.3M88.7 149.0h1.3M81.2 79.4h1.3M85.5 85.4h1.3M81.3 57.9h1.3M71.5 61.2h1.3M93.2 111.9h1.3M102.9 97.6h1.3M97.7 106.2h1.3M92.1 103.4h1.3M101.5 73.0h1.3M99.4 107.0h1.3M82.2 162.4h1.3M77.5 130.6h1.3M80.1 60.1h1.3M94.3 146.0h1.3M74.1 133.1h1.3M92.2 171.6h1.3M94.4 126.9h1.3M92.7 152.7h1.3M91.5 158.5h1.3M72.9 82.5h1.3M75.5 138.6h1.3M78.0 58.0h1.3M93.0 120.7h1.3M87.5 123.1h1.3M76.4 119.6h1.3M83.7 135.0h1.3M91.1 148.3h1.3M82.2 130.0h1.3M89.6 166.5h1.3M69.7 112.8h1.3M90.0 80.1h1.3M74.9 93.0h1.3M97.3 157.6h1.3M76.5 74.1h1.3M85.3 143.2h1.3M97.6 105.5h1.3M79.3 175.2h1.3M104.1 79.4h1.3M103.0 97.6h1.3M100.0 67.2h1.3M85.6 128.7h1.3M89.0 131.1h1.3M88.8 75.2h1.3M83.1 111.8h1.3M90.0 99.7h1.3M102.2 65.0h1.3M86.1 146.9h1.3M88.5 75.7h1.3M93.7 109.3h1.3M93.0 173.6h1.3M98.3 152.6h1.3M89.0 120.1h1.3M96.0 57.0h1.3M95.7 54.6h1.3M80.9 104.3h1.3M92.4 151.6h1.3M77.8 82.5h1.3M73.2 114.5h1.3M83.7 63.3h1.3M96.4 75.0h1.3M86.6 97.7h1.3M89.3 86.1h1.3M80.6 51.9h1.3M78.5 94.0h1.3M74.3 123.1h1.3M82.9 70.9h1.3M94.8 154.6h1.3M79.7 76.3h1.3M78.5 71.3h1.3M89.7 91.3h1.3M73.5 82.8h1.3M86.7 76.1h1.3M90.9 85.1h1.3M90.6 121.6h1.3M69.5 98.8h1.3M98.2 90.7h1.3M88.7 70.6h1.3M91.9 73.7h1.3M79.9 122.1h1.3M86.3 94.2h1.3M91.8 106.6h1.3M77.1 98.1h1.3M89.7 74.6h1.3M88.8 116.2h1.3M77.7 59.0h1.3M71.1 52.2h1.3M69.2 50.4h1.3M88.8 119.8h1.3M83.0 105.2h1.3M99.9 58.2h1.3M81.4 64.3h1.3M83.5 95.5h1.3M80.8 94.2h1.3M102.1 61.5h1.3M81.4 112.8h1.3M83.9 161.4h1.3M79.9 91.1h1.3M95.7 114.8h1.3M92.0 90.0h1.3M90.0 117.1h1.3M87.0 154.2h1.3M93.3 83.0h1.3M85.2 160.6h1.3M81.4 170.1h1.3M97.5 90.0h1.3M81.1 130.9h1.3M83.1 111.3h1.3M88.0 107.8h1.3M90.5 94.5h1.3M100.6 98.6h1.3M86.7 75.1h1.3M91.4 73.5h1.3M69.1 57.1h1.3M98.4 103.9h1.3M92.4 66.5h1.3M104.1 57.8h1.3M85.2 71.4h1.3M83.9 161.3h1.3M85.7 159.3h1.3M78.4 168.3h1.3M77.0 116.1h1.3M90.7 132.9h1.3M79.4 145.7h1.3M89.5 114.1h1.3M97.1 94.6h1.3M81.7 134.1h1.3M83.2 123.1h1.3M85.9 121.6h1.3M80.5 144.9h1.3M78.6 121.0h1.3M85.0 89.2h1.3M77.6 55.3h1.3M94.9 147.0h1.3M69.9 120.8h1.3M76.9 105.8h1.3M98.7 93.9h1.3M83.6 135.7h1.3M96.7 79.7h1.3M90.2 117.8h1.3M85.3 141.3h1.3M81.5 114.8h1.3M87.3 165.1h1.3M75.7 162.6h1.3M81.6 90.9h1.3M79.7 107.7h1.3M86.6 159.2h1.3M83.6 170.3h1.3M67.4 165.3h1.3M87.8 128.7h1.3M91.8 132.0h1.3M76.3 126.9h1.3M71.2 147.5h1.3M94.4 119.4h1.3M92.5 81.0h1.3M93.7 155.7h1.3M86.9 99.9h1.3M94.9 82.1h1.3M80.8 150.3h1.3M69.9 81.5h1.3M105.4 136.7h1.3M90.8 92.1h1.3M100.8 82.8h1.3M71.7 113.7h1.3M77.6 79.4h1.3M93.3 121.8h1.3M88.0 75.2h1.3M84.7 52.8h1.3M85.3 158.4h1.3M85.5 126.2h1.3M92.6 157.5h1.3M78.9 169.0h1.3M82.0 145.9h1.3M87.0 171.2h1.3M79.4 67.0h1.3M81.8 97.6h1.3M83.2 70.1h1.3M68.6 125.2h1.3M81.1 122.8h1.3M81.4 77.0h1.3M69.3 59.3h1.3M86.7 144.4h1.3M87.7 121.7h1.3M83.5 104.1h1.3M86.5 86.8h1.3M99.5 98.0h1.3M84.5 89.6h1.3M79.5 151.2h1.3M83.4 106.7h1.3M97.9 88.6h1.3M87.3 165.8h1.3M77.2 100.2h1.3M82.4 174.4h1.3M84.0 96.1h1.3M72.1 87.5h1.3M87.8 161.0h1.3M91.2 139.2h1.3M92.8 106.4h1.3M90.7 162.6h1.3M79.3 77.9h1.3M90.4 104.0h1.3M87.5 167.3h1.3M88.4 112.1h1.3M90.8 144.8h1.3M96.0 88.7h1.3M87.1 65.0h1.3M91.8 116.0h1.3M80.8 75.2h1.3M96.2 158.1h1.3M85.9 133.4h1.3M74.3 157.3h1.3M78.3 145.5h1.3M66.5 144.8h1.3M84.5 139.1h1.3M92.4 74.9h1.3M99.9 71.8h1.3M81.0 118.6h1.3M102.5 130.8h1.3M87.0 57.6h1.3M103.3 81.9h1.3M80.5 63.7h1.3M81.3 98.5h1.3M91.5 161.3h1.3M72.4 92.6h1.3M67.2 161.6h1.3M84.7 123.2h1.3M75.6 119.0h1.3M69.2 65.0h1.3M86.4 123.5h1.3M89.2 74.2h1.3M87.7 91.1h1.3M87.0 150.9h1.3M81.0 104.3h1.3M86.8 171.6h1.3M109.3 79.0h1.3M96.3 106.4h1.3M88.7 158.1h1.3M91.1 70.2h1.3M72.2 89.2h1.3M77.8 166.4h1.3M83.2 72.7h1.3M79.6 92.8h1.3M84.4 93.0h1.3M96.7 164.7h1.3M80.4 129.7h1.3M82.1 158.1h1.3M90.7 81.4h1.3M85.9 65.3h1.3M84.5 82.2h1.3M91.5 157.9h1.3M81.6 139.5h1.3M95.6 94.3h1.3M88.2 162.0h1.3M79.5 125.8h1.3M84.5 64.2h1.3M88.4 121.3h1.3M91.6 103.1h1.3M83.8 176.4h1.3M71.2 60.4h1.3M86.6 96.1h1.3M95.1 57.9h1.3M74.8 56.3h1.3M86.6 86.6h1.3M78.7 108.2h1.3M89.0 124.2h1.3M85.3 84.5h1.3M88.2 125.4h1.3M83.6 166.5h1.3M103.0 87.9h1.3M94.1 80.7h1.3M90.0 88.8h1.3M80.9 129.3h1.3M91.1 112.4h1.3M72.6 73.9h1.3M81.0 148.9h1.3M86.7 151.7h1.3M71.9 98.1h1.3M90.2 109.1h1.3M87.3 128.4h1.3M93.7 132.5h1.3M97.1 127.8h1.3M89.8 173.3h1.3M71.9 66.0h1.3M84.5 130.7h1.3M86.0 115.7h1.3M90.4 142.3h1.3M84.3 97.3h1.3M77.9 100.7h1.3M81.7 71.7h1.3M91.9 79.9h1.3M87.5 184.4h1.3M93.7 112.4h1.3M93.0 106.9h1.3M96.1 78.2h1.3M102.1 96.7h1.3M91.6 68.0h1.3M68.2 89.7h1.3M84.7 94.7h1.3M94.6 71.0h1.3M96.6 51.4h1.3M75.3 121.5h1.3M83.9 70.1h1.3M91.3 119.3h1.3M92.5 105.9h1.3M77.5 54.4h1.3M94.2 102.9h1.3M91.5 129.3h1.3M82.5 188.3h1.3M93.2 86.3h1.3M77.6 122.1h1.3M85.4 141.9h1.3M85.7 111.6h1.3M80.1 160.7h1.3M84.3 55.8h1.3M76.4 66.0h1.3M90.8 82.6h1.3M82.2 105.7h1.3M78.0 70.6h1.3M87.2 94.8h1.3M84.6 58.2h1.3M79.3 129.4h1.3M77.3 162.5h1.3M93.9 148.3h1.3M78.1 150.9h1.3M100.8 104.2h1.3M94.2 156.3h1.3M71.4 115.2h1.3M83.3 55.5h1.3M92.6 107.0h1.3M91.6 94.5h1.3M96.0 75.0h1.3M89.8 107.4h1.3M82.0 78.0h1.3M84.0 90.0h1.3M87.0 82.9h1.3M79.3 62.2h1.3M78.4 88.0h1.3M88.8 114.8h1.3M72.4 152.9h1.3M92.7 76.4h1.3M86.4 120.1h1.3M85.6 111.5h1.3M83.6 113.8h1.3M89.2 151.8h1.3M102.8 55.0h1.3M83.1 134.4h1.3M90.9 147.3h1.3M68.7 64.6h1.3M91.6 156.8h1.3M87.3 65.9h1.3M91.2 103.1h1.3M75.4 62.2h1.3M80.3 140.7h1.3M78.5 152.6h1.3M73.3 77.5h1.3M78.0 109.7h1.3M86.7 126.1h1.3M91.0 57.7h1.3M85.3 73.8h1.3M91.0 70.0h1.3M97.1 112.7h1.3M71.1 140.8h1.3M97.9 166.4h1.3M84.6 140.4h1.3M64.1 113.3h1.3M77.3 142.7h1.3M87.2 95.2h1.3M84.6 154.9h1.3M84.5 141.0h1.3M80.3 136.3h1.3M69.8 85.9h1.3M91.2 127.4h1.3M87.0 138.2h1.3M94.3 59.6h1.3M93.2 142.0h1.3M78.2 121.1h1.3M94.9 150.7h1.3M95.7 119.1h1.3M101.9 129.8h1.3M96.4 69.2h1.3M82.2 101.6h1.3M94.3 54.1h1.3M78.5 59.2h1.3M73.0 145.3h1.3M89.8 107.0h1.3M95.4 137.8h1.3M91.6 76.3h1.3M75.0 157.6h1.3M81.4 77.2h1.3M74.9 77.3h1.3M82.8 122.8h1.3M60.9 107.2h1.3M89.6 117.5h1.3M83.2 82.9h1.3M88.3 157.5h1.3M84.0 94.3h1.3M92.9 144.9h1.3M84.3 78.3h1.3M92.7 104.1h1.3M89.6 53.5h1.3M78.9 111.5h1.3M86.3 55.3h1.3M88.7 150.6h1.3M89.6 152.1h1.3M89.7 88.0h1.3M89.1 104.4h1.3M76.7 73.6h1.3M90.4 66.4h1.3M79.7 117.6h1.3M75.4 157.2h1.3M68.1 65.9h1.3M95.6 98.8h1.3M86.9 57.5h1.3M79.7 87.5h1.3M79.5 97.5h1.3M74.6 62.4h1.3M82.4 102.5h1.3M82.5 167.2h1.3M78.9 98.7h1.3M102.8 94.8h1.3M82.1 122.2h1.3M97.3 165.6h1.3M75.9 78.0h1.3M84.4 141.8h1.3M90.3 131.9h1.3M82.6 97.4h1.3M82.9 58.2h1.3M79.1 145.7h1.3M68.8 82.0h1.3M93.4 126.9h1.3M99.2 85.3h1.3M87.7 145.0h1.3M96.0 154.9h1.3M90.7 145.2h1.3M87.3 71.5h1.3M80.5 152.8h1.3M64.9 55.4h1.3M73.0 73.8h1.3M79.0 86.0h1.3M75.7 109.1h1.3M94.9 66.7h1.3M97.9 81.6h1.3M85.1 105.5h1.3M77.3 148.7h1.3M83.7 152.5h1.3M68.9 97.0h1.3M77.7 157.1h1.3M90.6 51.8h1.3M87.6 79.9h1.3M81.8 154.2h1.3M93.1 131.7h1.3M88.4 150.2h1.3M88.7 143.6h1.3M96.3 157.0h1.3M80.0 160.1h1.3M95.4 129.1h1.3M93.1 100.5h1.3M99.5 128.5h1.3M76.9 49.3h1.3M102.5 97.7h1.3M62.7 75.3h1.3M95.7 77.0h1.3M96.5 141.9h1.3M85.4 73.2h1.3M94.7 85.8h1.3M84.8 156.5h1.3M90.6 118.6h1.3M88.4 120.7h1.3M85.6 132.8h1.3M66.4 92.1h1.3M85.9 148.0h1.3M93.1 59.2h1.3M69.7 99.9h1.3M94.6 81.0h1.3M85.3 155.4h1.3M74.6 161.8h1.3M100.4 91.4h1.3M82.3 60.1h1.3M84.1 158.4h1.3M83.6 63.9h1.3M71.9 152.6h1.3M86.3 122.4h1.3M96.7 98.6h1.3M85.3 137.5h1.3M84.1 118.0h1.3M91.5 146.4h1.3M83.2 112.1h1.3M76.1 142.1h1.3M87.6 151.4h1.3M79.4 109.7h1.3M90.1 144.0h1.3M72.6 60.6h1.3M98.7 70.6h1.3M98.1 114.9h1.3M90.5 91.2h1.3M95.7 64.2h1.3M97.0 65.8h1.3M97.6 59.7h1.3M83.1 161.7h1.3M75.3 125.5h1.3M82.6 113.1h1.3M80.7 148.7h1.3M82.5 105.2h1.3M83.4 139.2h1.3M85.4 126.2h1.3M89.9 150.7h1.3M87.3 110.6h1.3M100.9 147.5h1.3M78.9 119.6h1.3M83.0 99.2h1.3M102.4 57.3h1.3M89.3 101.6h1.3M83.5 109.6h1.3M96.8 76.3h1.3M75.6 130.9h1.3M89.1 152.0h1.3M87.1 139.0h1.3M101.9 65.0h1.3M62.6 103.2h1.3M76.1 158.9h1.3M92.1 54.0h1.3M71.6 65.7h1.3M87.7 55.1h1.3M86.5 110.3h1.3M92.5 68.4h1.3M86.1 163.4h1.3M95.2 127.5h1.3M78.8 71.2h1.3M72.6 116.7h1.3M84.2 86.8h1.3M89.9 92.0h1.3M86.0 83.7h1.3M96.8 112.0h1.3M85.1 125.3h1.3M83.4 129.2h1.3M91.6 141.6h1.3M95.9 77.0h1.3M81.9 116.0h1.3M86.1 83.6h1.3M88.7 56.3h1.3M100.8 64.4h1.3M82.5 82.5h1.3M95.2 148.6h1.3M90.7 145.3h1.3M89.0 105.1h1.3M96.9 165.6h1.3M87.4 107.8h1.3M94.8 87.9h1.3M89.6 133.3h1.3M76.2 169.7h1.3M85.6 81.6h1.3M86.9 60.2h1.3M67.1 73.7h1.3M87.9 99.2h1.3M94.9 127.8h1.3M92.7 55.5h1.3M102.2 95.2h1.3M73.6 165.2h1.3M91.4 158.0h1.3M91.1 69.8h1.3M98.5 66.7h1.3M78.0 77.6h1.3M89.1 63.4h1.3M77.5 157.4h1.3M93.7 141.9h1.3M94.4 49.2h1.3M94.2 81.1h1.3M85.8 106.1h1.3M96.3 79.0h1.3M88.7 86.6h1.3M89.4 77.0h1.3M86.2 150.8h1.3M78.6 132.3h1.3M73.5 118.4h1.3M88.3 147.0h1.3M80.6 61.5h1.3M85.5 137.8h1.3M82.2 91.7h1.3M97.1 73.1h1.3M92.4 72.9h1.3M95.8 115.1h1.3M96.4 155.6h1.3M77.4 78.7h1.3M94.3 71.4h1.3M80.2 86.5h1.3M99.1 86.2h1.3M89.6 157.1h1.3M85.9 126.2h1.3M92.0 131.1h1.3M93.9 127.2h1.3M72.1 127.4h1.3M94.7 121.8h1.3M86.5 108.9h1.3M83.6 83.4h1.3M80.2 161.1h1.3M74.0 73.8h1.3M73.0 67.5h1.3M76.3 177.6h1.3M92.4 70.4h1.3M89.6 93.2h1.3M77.0 116.1h1.3M83.0 65.8h1.3M92.7 59.9h1.3M86.2 126.5h1.3M85.2 101.1h1.3M96.4 71.8h1.3M92.4 136.8h1.3M75.3 97.4h1.3M103.5 99.3h1.3M79.8 67.9h1.3M97.9 179.0h1.3M93.2 131.2h1.3M72.3 60.5h1.3M78.0 138.6h1.3M77.1 147.1h1.3M81.6 106.0h1.3M96.0 77.2h1.3M70.7 158.2h1.3M87.5 126.0h1.3M75.4 80.1h1.3M95.1 156.5h1.3M85.2 109.9h1.3M93.8 117.9h1.3M79.0 179.4h1.3M93.1 78.5h1.3M84.4 132.2h1.3M98.1 57.9h1.3M81.8 150.1h1.3M81.6 149.4h1.3M90.8 122.1h1.3M88.1 151.4h1.3M76.3 132.1h1.3M82.5 131.8h1.3M93.6 143.5h1.3M93.0 90.1h1.3M78.6 76.6h1.3M80.2 83.4h1.3M74.7 56.5h1.3M94.8 136.9h1.3M85.3 73.5h1.3M90.2 65.5h1.3M99.8 52.9h1.3M89.5 179.5h1.3M69.5 54.5h1.3M80.2 118.0h1.3M85.6 72.4h1.3M94.4 147.4h1.3M86.2 158.9h1.3M89.1 132.5h1.3M86.8 136.0h1.3M93.2 82.0h1.3M82.3 91.0h1.3M80.2 127.8h1.3M86.5 85.6h1.3M81.6 87.1h1.3M93.7 101.3h1.3M96.4 127.3h1.3M76.1 166.2h1.3M91.9 86.8h1.3M76.1 124.4h1.3M76.5 109.2h1.3M87.1 87.0h1.3M84.5 130.2h1.3M101.0 99.8h1.3M90.2 69.2h1.3M96.9 130.2h1.3M95.5 111.3h1.3M89.6 82.4h1.3M74.4 154.7h1.3M94.7 112.3h1.3M89.3 68.2h1.3M94.0 69.2h1.3M89.0 136.4h1.3M88.8 123.5h1.3M76.0 131.4h1.3M78.1 124.6h1.3M91.7 74.5h1.3M81.1 133.7h1.3M85.9 163.1h1.3M78.3 138.9h1.3M77.3 90.4h1.3M96.3 93.9h1.3M89.8 80.1h1.3M77.7 106.2h1.3M81.7 110.8h1.3M100.4 166.9h1.3M88.9 107.7h1.3M80.0 170.4h1.3M86.5 88.2h1.3M90.3 55.1h1.3M81.6 93.0h1.3M91.5 158.4h1.3M79.5 176.6h1.3M86.6 160.1h1.3M88.9 94.6h1.3M91.7 111.0h1.3M86.4 60.8h1.3M86.1 100.3h1.3M95.5 130.7h1.3M95.6 91.2h1.3M88.5 66.2h1.3M101.6 64.5h1.3M83.3 88.7h1.3M97.3 126.5h1.3M88.2 173.1h1.3M76.3 163.5h1.3M81.1 60.5h1.3M74.8 143.8h1.3M84.1 151.5h1.3M82.7 74.4h1.3M79.7 132.6h1.3M82.9 111.0h1.3M103.1 116.1h1.3M73.9 126.9h1.3M72.5 67.0h1.3M75.9 98.9h1.3M83.1 92.4h1.3M83.2 77.2h1.3M87.1 58.4h1.3M78.1 134.3h1.3M81.2 145.0h1.3M78.8 136.2h1.3M85.1 62.4h1.3M93.8 94.7h1.3M81.2 62.3h1.3M97.4 112.6h1.3M85.4 91.4h1.3M69.2 140.9h1.3M103.6 105.4h1.3M83.8 61.1h1.3M85.5 154.8h1.3M83.3 136.1h1.3M85.4 162.8h1.3M84.7 129.3h1.3M81.0 84.6h1.3M95.9 108.3h1.3M89.7 95.6h1.3M93.5 128.1h1.3M90.7 68.6h1.3M77.2 112.4h1.3M92.2 67.3h1.3M95.2 54.2h1.3M73.4 91.7h1.3M88.2 77.5h1.3M88.9 150.4h1.3M93.6 55.3h1.3M92.9 67.7h1.3M72.0 71.7h1.3M103.5 146.0h1.3M99.7 137.6h1.3M84.7 106.0h1.3M84.1 102.3h1.3M77.8 63.2h1.3M83.2 79.8h1.3M84.4 171.9h1.3M71.9 88.9h1.3M70.4 76.4h1.3M80.1 87.8h1.3M87.9 108.2h1.3M77.0 165.4h1.3M102.1 70.5h1.3M88.4 111.9h1.3M75.6 71.4h1.3M85.8 116.9h1.3M69.8 75.2h1.3M84.4 112.7h1.3M101.4 70.1h1.3M80.3 111.1h1.3M63.1 128.4h1.3M90.1 68.5h1.3M84.6 73.4h1.3M90.9 123.4h1.3M91.4 139.2h1.3M95.7 144.9h1.3M79.0 100.3h1.3M71.5 143.3h1.3M92.2 95.8h1.3M78.1 62.0h1.3M90.4 114.4h1.3M91.1 89.3h1.3M93.8 69.7h1.3M93.4 104.6h1.3M74.4 135.6h1.3M85.5 118.5h1.3M81.2 61.0h1.3M81.8 162.8h1.3M79.5 79.0h1.3M81.0 136.5h1.3M85.6 120.9h1.3M83.8 101.6h1.3M104.8 157.5h1.3M82.2 57.8h1.3M93.6 144.9h1.3M81.9 130.8h1.3M73.7 99.1h1.3M79.4 60.7h1.3M80.7 128.3h1.3M89.4 82.3h1.3M92.5 148.9h1.3M89.1 76.5h1.3M85.6 155.8h1.3M89.8 154.2h1.3M79.2 143.4h1.3M83.2 99.8h1.3M84.5 71.8h1.3M89.0 178.1h1.3M100.7 88.7h1.3M73.1 121.3h1.3M94.0 103.3h1.3M95.1 132.0h1.3M88.4 170.6h1.3M89.6 170.3h1.3M78.5 79.9h1.3M90.8 50.8h1.3M93.5 152.2h1.3M80.6 56.8h1.3M79.6 132.9h1.3M81.6 141.5h1.3M83.1 85.4h1.3M94.6 73.0h1.3M76.8 93.0h1.3M92.6 102.9h1.3M72.8 55.3h1.3M70.4 63.7h1.3M80.8 158.1h1.3M97.9 140.6h1.3M77.6 166.4h1.3M87.9 119.1h1.3M84.4 135.9h1.3M91.5 89.0h1.3M82.9 77.1h1.3M72.8 132.9h1.3M71.5 152.6h1.3M82.1 74.4h1.3M79.9 122.1h1.3M74.1 78.7h1.3M86.6 53.3h1.3M82.0 95.6h1.3M82.4 116.8h1.3M75.7 72.0h1.3M100.9 86.4h1.3M69.8 147.5h1.3M81.4 131.6h1.3M94.2 145.0h1.3M90.9 111.1h1.3M77.2 162.3h1.3M78.4 79.5h1.3M87.2 143.2h1.3M84.2 151.5h1.3M96.0 97.0h1.3M83.2 160.7h1.3M87.2 107.2h1.3M87.0 141.6h1.3M76.8 66.8h1.3M86.4 62.9h1.3M86.7 113.2h1.3M86.8 77.2h1.3M92.7 122.9h1.3M98.8 88.1h1.3M94.6 54.6h1.3M87.8 73.5h1.3M78.0 92.2h1.3M93.8 96.0h1.3M96.3 85.2h1.3M98.7 106.8h1.3M95.5 57.6h1.3M97.9 158.3h1.3M84.9 128.5h1.3M89.0 147.5h1.3M104.0 96.0h1.3M94.1 152.2h1.3M76.9 169.7h1.3M80.7 107.9h1.3M83.0 171.2h1.3M86.9 138.1h1.3M82.3 108.8h1.3M96.3 57.1h1.3M88.3 178.1h1.3M81.8 67.8h1.3M72.7 122.2h1.3M87.1 169.5h1.3M92.8 83.8h1.3M79.3 153.3h1.3M75.7 140.3h1.3M86.4 116.1h1.3M74.1 63.1h1.3M73.0 147.9h1.3M82.0 133.4h1.3M94.7 64.0h1.3M76.4 172.1h1.3M103.0 93.4h1.3M90.2 72.0h1.3M84.0 139.1h1.3M94.4 66.6h1.3M83.8 69.2h1.3M93.7 122.5h1.3M88.9 120.6h1.3M63.4 84.4h1.3M72.6 129.0h1.3M81.5 166.5h1.3M87.2 65.1h1.3M73.8 107.9h1.3M84.9 129.6h1.3M77.5 130.0h1.3M84.9 119.2h1.3M85.9 88.0h1.3M82.5 86.3h1.3M78.5 129.8h1.3M76.1 88.6h1.3M82.9 91.1h1.3M87.5 129.6h1.3M101.8 86.9h1.3M98.0 91.6h1.3M84.4 132.4h1.3M97.2 62.5h1.3M95.2 76.7h1.3M81.9 126.5h1.3M82.9 119.1h1.3M91.2 102.2h1.3M99.3 70.0h1.3M80.4 129.2h1.3M70.0 119.6h1.3M78.5 129.6h1.3M88.3 143.9h1.3M73.7 97.2h1.3M85.4 83.7h1.3M93.2 51.8h1.3M76.5 156.3h1.3M95.2 93.9h1.3M84.7 60.5h1.3M87.4 102.9h1.3M101.2 125.4h1.3M68.7 85.8h1.3M68.9 167.5h1.3M82.9 95.9h1.3M97.5 48.9h1.3M76.1 118.7h1.3M83.3 57.9h1.3M102.9 103.0h1.3M85.0 111.8h1.3M80.3 125.0h1.3M84.5 139.4h1.3M87.8 147.6h1.3M84.8 158.0h1.3M80.9 134.0h1.3M84.6 84.2h1.3M76.6 83.6h1.3M87.3 58.5h1.3M91.8 117.9h1.3M80.3 85.0h1.3M92.7 82.8h1.3M89.0 109.2h1.3M86.0 170.1h1.3M80.0 106.4h1.3M103.6 100.2h1.3M77.6 81.2h1.3M106.2 94.0h1.3M84.4 151.6h1.3M94.5 135.3h1.3M85.8 83.6h1.3M94.8 76.1h1.3M91.5 162.3h1.3M73.9 144.5h1.3M86.8 158.7h1.3M92.5 120.1h1.3M75.0 107.8h1.3M69.4 62.4h1.3M90.6 151.5h1.3M99.5 65.5h1.3M81.5 72.2h1.3M72.0 141.7h1.3M76.7 157.3h1.3M86.2 57.7h1.3M96.7 70.3h1.3M90.4 95.1h1.3M80.8 139.9h1.3M82.1 85.5h1.3M68.6 132.7h1.3M89.2 77.5h1.3M74.9 149.4h1.3M86.2 89.4h1.3M79.7 141.3h1.3M84.8 169.4h1.3M75.4 111.1h1.3M85.6 120.3h1.3M94.8 82.6h1.3M73.2 162.9h1.3M78.5 109.7h1.3M84.4 164.3h1.3M97.9 146.3h1.3M91.9 107.4h1.3M97.0 56.1h1.3M68.6 129.4h1.3M98.9 83.7h1.3M90.5 90.2h1.3M89.6 150.1h1.3M83.1 134.5h1.3M95.4 108.8h1.3M83.6 55.4h1.3M95.0 67.6h1.3M86.2 145.4h1.3M79.8 130.7h1.3M93.0 59.8h1.3M69.3 84.5h1.3M86.8 63.2h1.3M85.9 154.9h1.3M83.6 180.8h1.3M93.7 166.6h1.3M70.0 119.7h1.3M84.8 59.6h1.3M97.2 100.6h1.3M88.3 111.0h1.3M97.8 61.4h1.3M68.0 126.7h1.3M94.6 58.7h1.3M102.4 163.5h1.3M89.6 55.9h1.3M86.8 172.0h1.3M92.2 68.8h1.3M94.5 97.7h1.3M90.4 139.4h1.3M73.7 137.4h1.3M90.0 83.2h1.3M72.7 127.7h1.3M98.2 146.1h1.3M78.8 94.6h1.3M91.6 86.1h1.3M90.4 154.9h1.3M78.9 94.1h1.3M78.0 179.5h1.3M104.8 62.2h1.3M78.8 115.9h1.3M99.2 72.4h1.3M80.4 110.5h1.3M83.0 151.4h1.3M97.4 127.7h1.3M90.3 136.8h1.3M94.2 86.3h1.3M93.5 107.4h1.3M96.0 110.1h1.3M106.1 110.7h1.3M91.0 115.9h1.3M97.4 114.7h1.3M89.3 171.2h1.3M75.2 114.2h1.3M82.9 106.2h1.3M81.4 136.6h1.3M83.0 99.0h1.3M82.8 124.1h1.3M86.9 88.3h1.3M86.4 89.7h1.3M92.8 108.2h1.3M90.9 80.1h1.3M85.9 126.9h1.3M70.3 163.2h1.3M101.8 95.9h1.3M83.6 71.0h1.3M81.5 66.4h1.3M74.8 147.2h1.3M95.9 60.2h1.3M97.6 167.9h1.3M86.6 179.2h1.3M85.7 158.5h1.3M84.4 86.1h1.3M83.8 66.9h1.3M96.4 67.5h1.3M83.6 73.9h1.3M87.6 86.5h1.3M90.7 148.8h1.3M70.8 53.9h1.3M84.7 98.3h1.3M87.1 156.6h1.3M85.6 80.2h1.3M81.8 110.4h1.3M64.6 113.8h1.3M94.6 57.7h1.3M77.1 161.6h1.3M91.7 76.2h1.3M85.9 91.4h1.3M91.5 67.9h1.3M82.0 112.9h1.3M83.7 78.9h1.3M82.3 78.1h1.3M81.0 53.7h1.3M87.3 64.9h1.3M100.2 77.6h1.3M93.2 148.6h1.3M83.3 153.5h1.3M72.7 144.7h1.3M70.3 96.1h1.3M82.3 136.5h1.3M75.5 96.2h1.3M93.3 98.6h1.3M82.4 60.7h1.3M80.6 132.4h1.3M92.6 144.8h1.3M88.8 58.5h1.3M84.6 156.6h1.3M83.3 126.5h1.3M91.2 130.7h1.3M96.9 87.5h1.3M103.3 119.5h1.3M91.2 161.6h1.3M96.7 70.8h1.3M79.3 110.4h1.3M70.2 53.4h1.3M98.2 77.5h1.3M90.6 129.0h1.3M68.9 83.9h1.3M63.7 84.3h1.3M69.3 93.3h1.3M92.8 55.3h1.3M91.7 104.8h1.3M83.9 91.9h1.3M97.1 116.6h1.3M94.1 158.9h1.3M90.5 118.7h1.3M92.4 142.9h1.3M83.7 87.2h1.3M92.4 58.1h1.3M90.7 94.2h1.3M83.0 92.3h1.3M86.2 104.7h1.3M92.4 69.4h1.3M69.9 98.8h1.3M65.7 137.5h1.3M93.2 114.9h1.3M85.0 80.5h1.3M90.2 157.5h1.3M69.5 93.1h1.3M77.4 103.0h1.3M73.3 67.4h1.3M77.4 84.1h1.3M81.2 68.0h1.3M90.9 55.6h1.3M96.6 142.2h1.3M96.5 87.6h1.3M95.9 127.9h1.3M85.1 167.8h1.3M92.5 168.1h1.3M74.5 133.1h1.3M84.3 116.9h1.3M90.0 82.9h1.3M86.0 81.6h1.3M103.1 131.7h1.3M83.5 168.6h1.3M67.7 154.1h1.3M102.1 71.4h1.3M82.8 151.9h1.3M96.3 152.3h1.3M85.8 143.6h1.3M95.2 102.2h1.3M84.0 101.4h1.3M87.8 76.1h1.3M74.4 157.9h1.3M83.6 74.1h1.3M92.6 100.1h1.3M80.6 153.5h1.3M97.5 132.2h1.3M101.9 161.6h1.3M93.0 88.8h1.3M97.6 126.2h1.3M86.3 113.5h1.3M91.0 107.5h1.3M96.5 64.7h1.3M97.6 143.7h1.3M86.7 129.0h1.3M82.6 164.0h1.3M79.4 136.2h1.3M83.7 157.1h1.3M91.4 53.2h1.3M85.6 155.0h1.3M77.8 98.9h1.3M97.5 90.3h1.3M79.7 144.2h1.3M81.2 65.5h1.3M76.9 63.4h1.3M93.3 102.8h1.3M64.3 68.5h1.3M89.1 59.9h1.3M85.4 77.2h1.3M76.6 149.4h1.3M89.6 178.8h1.3M88.2 139.4h1.3M82.0 66.0h1.3M87.9 119.1h1.3M75.4 66.4h1.3M92.8 54.8h1.3M85.3 107.8h1.3M91.1 188.1h1.3M77.7 97.3h1.3M103.9 144.0h1.3M93.9 79.8h1.3M73.9 109.7h1.3M79.0 170.1h1.3M87.6 64.3h1.3M79.4 99.1h1.3M88.7 143.1h1.3M83.8 67.8h1.3M80.1 153.6h1.3M72.4 69.6h1.3M97.2 66.2h1.3M95.3 67.7h1.3M81.8 126.7h1.3M76.6 62.8h1.3M88.3 170.1h1.3M77.1 98.2h1.3M85.0 107.7h1.3M96.7 138.9h1.3M105.4 102.6h1.3M95.9 99.8h1.3M79.1 99.0h1.3M83.5 126.9h1.3M95.5 131.2h1.3M95.7 70.9h1.3M99.0 87.0h1.3M96.7 114.2h1.3M92.0 64.5h1.3M71.1 110.7h1.3M90.0 119.0h1.3M78.0 107.4h1.3M75.3 141.4h1.3M93.3 85.4h1.3M75.3 129.7h1.3M99.9 62.6h1.3M102.6 96.8h1.3M82.2 134.6h1.3M78.4 142.6h1.3M79.6 122.7h1.3M72.7 73.8h1.3M88.2 161.9h1.3M89.6 127.8h1.3M81.8 127.8h1.3M67.3 115.1h1.3M68.9 91.4h1.3M97.7 94.2h1.3M90.9 123.4h1.3M75.7 64.0h1.3M87.3 123.3h1.3M87.5 89.1h1.3M91.7 107.2h1.3M92.4 76.7h1.3M92.4 95.9h1.3M74.1 125.6h1.3M78.3 144.4h1.3M86.8 135.1h1.3M101.2 58.7h1.3M98.8 105.4h1.3M102.7 127.0h1.3M84.8 61.1h1.3M86.3 111.8h1.3M96.6 123.1h1.3M90.3 135.4h1.3M101.8 85.3h1.3M90.5 93.1h1.3M88.9 118.4h1.3M88.3 60.3h1.3M78.3 98.8h1.3M89.9 53.9h1.3M87.7 90.8h1.3M74.2 92.7h1.3M77.6 59.4h1.3M79.3 77.1h1.3M65.4 124.7h1.3M85.6 141.3h1.3M89.3 58.9h1.3M68.5 96.9h1.3M91.7 84.1h1.3M83.0 105.0h1.3M80.1 152.9h1.3M76.9 164.3h1.3M86.5 136.3h1.3M86.1 112.1h1.3M75.6 158.3h1.3M86.3 85.3h1.3M98.0 117.1h1.3M90.9 115.2h1.3M87.7 75.7h1.3M87.9 73.5h1.3M95.8 155.1h1.3M94.9 104.6h1.3M102.6 129.6h1.3M85.6 118.3h1.3M80.5 86.8h1.3M82.7 103.9h1.3M95.2 125.5h1.3M74.0 106.0h1.3M97.3 142.3h1.3M84.8 153.9h1.3M73.4 80.6h1.3M95.2 71.5h1.3M87.7 91.6h1.3M90.6 76.1h1.3M85.1 54.3h1.3M93.3 93.9h1.3M96.8 109.5h1.3M63.5 70.5h1.3M82.8 164.1h1.3M85.3 63.3h1.3M103.0 72.9h1.3M93.9 127.7h1.3M105.7 105.3h1.3M97.5 65.5h1.3M76.1 81.2h1.3M81.6 186.8h1.3M91.0 54.3h1.3M77.0 87.0h1.3M84.2 174.3h1.3M87.7 130.3h1.3M84.3 156.0h1.3M87.6 87.6h1.3M93.8 70.8h1.3M95.4 109.5h1.3M80.2 110.6h1.3M104.3 129.1h1.3M74.4 132.1h1.3M84.3 134.6h1.3M65.7 72.3h1.3M90.2 132.4h1.3M70.7 90.9h1.3M77.8 69.5h1.3M81.2 68.5h1.3M89.8 73.0h1.3M97.1 61.6h1.3M90.3 102.7h1.3M88.4 113.0h1.3M82.0 89.5h1.3M89.9 106.7h1.3M76.7 144.4h1.3M93.9 124.6h1.3M93.3 116.4h1.3M90.6 55.0h1.3M64.2 70.0h1.3M83.1 150.1h1.3M83.4 92.7h1.3M88.4 61.2h1.3M73.1 150.0h1.3M85.8 89.1h1.3M95.3 60.8h1.3M78.1 103.5h1.3M92.4 118.0h1.3M93.4 114.0h1.3M83.2 125.9h1.3M80.8 100.9h1.3M82.8 98.0h1.3M86.2 77.8h1.3M92.6 111.5h1.3M89.1 98.9h1.3M78.8 79.1h1.3M83.6 54.0h1.3M93.0 151.6h1.3M89.5 145.1h1.3M72.4 129.8h1.3M83.7 107.6h1.3M93.6 57.7h1.3M96.4 72.4h1.3M97.2 64.7h1.3M76.0 76.4h1.3M86.7 61.3h1.3M86.3 125.2h1.3M78.4 87.6h1.3M85.1 153.9h1.3M83.5 95.2h1.3M83.6 126.5h1.3M75.8 82.0h1.3M79.5 64.5h1.3M84.7 101.4h1.3M80.6 95.4h1.3M72.4 54.7h1.3M79.2 100.5h1.3M76.8 127.4h1.3M85.3 137.2h1.3M85.7 151.7h1.3M96.1 60.1h1.3M89.8 107.0h1.3M70.9 83.8h1.3M77.8 97.7h1.3M92.2 166.0h1.3M102.6 90.8h1.3M100.3 84.0h1.3M86.0 131.2h1.3M89.5 61.3h1.3M76.8 80.9h1.3M80.5 57.4h1.3M76.2 79.9h1.3M94.1 147.2h1.3M84.9 89.7h1.3M89.4 82.8h1.3M80.1 72.6h1.3M87.5 176.5h1.3M82.2 129.5h1.3M87.4 71.1h1.3M86.7 76.8h1.3M95.6 131.0h1.3M75.2 144.2h1.3M77.6 153.5h1.3M79.8 74.4h1.3M102.8 54.2h1.3M97.3 51.1h1.3M81.1 120.2h1.3M81.0 159.4h1.3M67.6 60.8h1.3M88.1 134.1h1.3M76.1 77.9h1.3M84.3 126.9h1.3M83.8 71.1h1.3M76.4 121.0h1.3M104.1 54.1h1.3M70.1 80.0h1.3M85.0 103.2h1.3M70.9 164.6h1.3M74.8 165.4h1.3M96.2 162.0h1.3M92.0 80.5h1.3M80.4 89.6h1.3M95.7 59.2h1.3M76.1 65.9h1.3M85.2 117.5h1.3M83.0 118.7h1.3M87.8 111.4h1.3M82.7 138.5h1.3M103.6 117.8h1.3M85.4 57.4h1.3M74.8 56.3h1.3M77.7 117.8h1.3M69.6 61.5h1.3M89.0 80.2h1.3M75.8 140.2h1.3M87.3 62.7h1.3M78.8 161.0h1.3M85.9 124.4h1.3M87.6 142.0h1.3M99.1 57.0h1.3M101.0 127.0h1.3M88.3 69.3h1.3M90.7 133.2h1.3M73.5 109.9h1.3M104.6 159.1h1.3M97.3 89.8h1.3M98.0 140.1h1.3M90.7 111.5h1.3M77.1 92.8h1.3M86.1 113.3h1.3M81.3 54.6h1.3M91.5 150.4h1.3M81.8 86.9h1.3M87.2 61.0h1.3M96.4 120.3h1.3M76.3 61.5h1.3M92.2 119.7h1.3M84.5 134.2h1.3M98.1 110.6h1.3M88.4 60.7h1.3M84.1 56.6h1.3M80.3 90.6h1.3M68.1 152.1h1.3M85.9 89.8h1.3M102.7 127.4h1.3M76.9 121.3h1.3M87.3 150.0h1.3M80.4 148.6h1.3M91.0 102.2h1.3M92.3 153.7h1.3M89.7 152.2h1.3M86.1 147.9h1.3M72.0 156.3h1.3M95.6 94.5h1.3M94.5 89.5h1.3M86.9 132.3h1.3M85.8 107.4h1.3M100.3 61.5h1.3M90.6 122.4h1.3M82.3 62.2h1.3M98.9 123.0h1.3M80.1 154.7h1.3M91.0 63.2h1.3M90.6 64.7h1.3M94.5 101.0h1.3M85.5 100.4h1.3M80.1 124.2h1.3M95.8 83.5h1.3M82.6 115.9h1.3M82.3 111.4h1.3M85.7 110.3h1.3M92.4 144.8h1.3M90.4 145.0h1.3M84.1 68.1h1.3M86.5 173.5h1.3M79.8 120.6h1.3M96.1 139.4h1.3M86.2 97.5h1.3M86.3 148.9h1.3M81.8 87.4h1.3M98.5 122.8h1.3M72.2 164.7h1.3M84.9 75.4h1.3M77.2 128.0h1.3M100.2 86.7h1.3M80.9 99.7h1.3M77.7 75.6h1.3M70.8 87.7h1.3M93.5 62.6h1.3M93.1 120.2h1.3M84.7 159.8h1.3M90.9 69.1h1.3M74.7 65.0h1.3M65.8 76.7h1.3M93.0 95.0h1.3M84.2 56.1h1.3M98.0 102.8h1.3M90.3 123.6h1.3M85.0 124.2h1.3M85.6 80.0h1.3M91.1 56.9h1.3M94.3 96.7h1.3M92.5 130.8h1.3M88.8 144.5h1.3M102.8 82.3h1.3M87.6 98.3h1.3M72.8 68.8h1.3M89.0 98.2h1.3M81.0 53.5h1.3M90.1 164.4h1.3M98.3 99.4h1.3M87.5 105.9h1.3M92.7 121.8h1.3M88.3 89.9h1.3M86.4 163.7h1.3M77.7 147.2h1.3M77.1 57.9h1.3M84.5 154.0h1.3M77.3 118.2h1.3M72.7 70.2h1.3M93.0 74.8h1.3M85.6 76.2h1.3M73.7 162.3h1.3M90.8 161.7h1.3M76.5 121.3h1.3M95.7 117.8h1.3M99.0 73.1h1.3M80.6 154.1h1.3M78.5 156.9h1.3M91.9 122.6h1.3M89.1 58.6h1.3M88.1 99.8h1.3M97.4 78.3h1.3M77.7 98.3h1.3M69.5 106.3h1.3M79.3 128.0h1.3M84.7 143.2h1.3M95.0 54.8h1.3M72.0 120.5h1.3M90.7 157.3h1.3M98.8 73.4h1.3M97.2 168.5h1.3M88.3 79.2h1.3M90.2 114.5h1.3M90.8 90.2h1.3M99.2 108.4h1.3M80.3 146.2h1.3M97.7 98.4h1.3M96.4 91.9h1.3M77.4 78.8h1.3M73.6 115.1h1.3M90.9 57.6h1.3M67.7 112.4h1.3M89.7 119.9h1.3M83.7 150.8h1.3M83.8 106.8h1.3M73.6 68.3h1.3M76.8 167.8h1.3M92.9 78.9h1.3M87.0 77.4h1.3M77.7 155.3h1.3M91.6 87.9h1.3M81.8 165.8h1.3M92.8 108.1h1.3M72.6 88.8h1.3M78.2 89.3h1.3M95.1 118.0h1.3M86.3 92.9h1.3M87.7 141.7h1.3M87.1 160.0h1.3M83.9 136.9h1.3M86.9 152.8h1.3M86.8 131.7h1.3M90.1 139.1h1.3M97.1 60.3h1.3M80.6 105.1h1.3M89.1 84.6h1.3M81.7 164.6h1.3M77.6 85.2h1.3M77.0 130.1h1.3M72.4 97.7h1.3M95.1 103.1h1.3M88.6 82.6h1.3M73.9 146.4h1.3M90.4 139.2h1.3M92.7 90.8h1.3M85.8 66.7h1.3M86.4 78.5h1.3M96.6 92.2h1.3M81.8 79.8h1.3M96.0 112.7h1.3M91.7 79.3h1.3M79.4 128.5h1.3M76.3 173.3h1.3M96.8 122.4h1.3M84.7 127.3h1.3M82.4 123.8h1.3M82.8 159.2h1.3M82.4 137.1h1.3M94.4 131.6h1.3M98.4 119.8h1.3M68.4 88.8h1.3M82.0 166.3h1.3M72.6 68.3h1.3M91.0 175.2h1.3M75.8 162.2h1.3M81.6 85.5h1.3M90.2 87.0h1.3M95.7 63.9h1.3M86.1 145.2h1.3M83.6 128.2h1.3M80.9 129.9h1.3M88.7 97.7h1.3M68.5 164.3h1.3M102.0 108.7h1.3M88.4 63.3h1.3M67.2 87.7h1.3M87.9 136.3h1.3M99.3 67.6h1.3M86.6 122.6h1.3M91.4 50.6h1.3M130.9 96.0h1.3M112.2 95.0h1.3M108.7 84.5h1.3M123.3 114.3h1.3M107.1 148.7h1.3M103.5 126.4h1.3M118.1 106.1h1.3M111.3 132.9h1.3M121.8 104.6h1.3M109.4 89.0h1.3M107.0 101.2h1.3M107.9 99.8h1.3M117.8 151.8h1.3M124.1 105.7h1.3M114.0 85.8h1.3M119.2 134.6h1.3M109.9 103.4h1.3M110.9 82.2h1.3M109.0 104.8h1.3M114.8 91.9h1.3M112.3 82.3h1.3M121.1 142.5h1.3M110.0 96.4h1.3M107.8 86.0h1.3M112.2 79.3h1.3M107.5 70.7h1.3M125.3 76.4h1.3M102.5 112.2h1.3M105.5 71.0h1.3M114.9 116.3h1.3M103.1 57.0h1.3M116.4 115.1h1.3M127.7 75.7h1.3M100.5 131.0h1.3M104.0 167.7h1.3M109.9 120.9h1.3M118.0 125.8h1.3M125.9 112.7h1.3M127.5 83.7h1.3M109.0 77.7h1.3M123.5 87.6h1.3M103.8 118.2h1.3M138.1 94.8h1.3M111.1 92.4h1.3M103.1 107.1h1.3M120.7 74.7h1.3M117.2 111.0h1.3M114.5 74.3h1.3M119.7 120.7h1.3M110.3 116.9h1.3M111.7 96.4h1.3M102.4 128.7h1.3M127.7 131.0h1.3M130.0 126.8h1.3M100.2 116.8h1.3M105.9 88.9h1.3M115.5 65.3h1.3M120.9 90.8h1.3M124.2 67.6h1.3M114.2 124.0h1.3M123.0 117.7h1.3M105.7 104.9h1.3M107.0 161.0h1.3M100.6 118.1h1.3M108.5 106.1h1.3M124.2 82.8h1.3M113.0 103.7h1.3M110.4 102.7h1.3M109.3 115.7h1.3M111.8 95.7h1.3M114.5 82.1h1.3M125.8 97.2h1.3M116.1 102.4h1.3M109.6 100.6h1.3M123.8 91.4h1.3M115.1 64.5h1.3M103.9 116.9h1.3M109.3 79.8h1.3M101.6 123.1h1.3M101.1 91.8h1.3M115.8 107.7h1.3M110.5 93.5h1.3M105.4 77.7h1.3M125.6 135.7h1.3M120.2 68.5h1.3M102.9 140.9h1.3M107.8 106.5h1.3M105.2 110.4h1.3M121.5 132.9h1.3M133.3 139.8h1.3M132.2 116.1h1.3M127.5 135.0h1.3M124.6 72.0h1.3M119.2 110.2h1.3M114.9 124.3h1.3M134.9 162.3h1.3M119.5 83.0h1.3M104.7 86.3h1.3M107.3 83.2h1.3M111.4 124.4h1.3M104.8 73.3h1.3M107.8 119.3h1.3M103.3 88.5h1.3M109.1 133.8h1.3M114.5 81.7h1.3M123.0 106.0h1.3M141.0 52.9h1.3M109.3 89.4h1.3M117.7 60.8h1.3M119.1 134.0h1.3M122.5 99.1h1.3M123.3 111.7h1.3M132.6 111.7h1.3M129.3 116.4h1.3M111.4 135.0h1.3M102.0 64.5h1.3M125.7 98.4h1.3M100.3 119.5h1.3M100.4 83.1h1.3M101.6 116.8h1.3M127.5 117.7h1.3M115.7 138.9h1.3M135.3 106.0h1.3M139.5 80.1h1.3M122.0 113.2h1.3M101.8 133.5h1.3M115.4 101.2h1.3M104.5 88.8h1.3M102.3 85.1h1.3M106.8 85.0h1.3M113.9 107.2h1.3M118.1 84.5h1.3M129.6 90.6h1.3M118.2 97.2h1.3M137.5 60.1h1.3M122.9 56.2h1.3M114.9 91.9h1.3M128.4 102.6h1.3M110.5 90.2h1.3M110.5 84.9h1.3M109.2 100.6h1.3M135.2 92.2h1.3M107.0 87.4h1.3M126.3 103.8h1.3M102.9 105.6h1.3M105.0 113.8h1.3M119.8 130.3h1.3M107.5 90.7h1.3M104.3 125.6h1.3M101.5 114.3h1.3M111.1 72.3h1.3M138.4 75.6h1.3M127.3 113.5h1.3M111.2 109.1h1.3M121.0 119.3h1.3M117.5 84.6h1.3M110.7 107.7h1.3M106.2 78.4h1.3M126.5 86.7h1.3M113.4 121.2h1.3M102.1 85.9h1.3M103.4 78.5h1.3M110.0 52.5h1.3M110.3 109.0h1.3M108.0 87.0h1.3M118.3 102.8h1.3M104.5 100.2h1.3M111.5 119.0h1.3M120.3 108.3h1.3M119.3 142.9h1.3M104.2 94.8h1.3M116.3 81.7h1.3M119.1 85.9h1.3M105.9 121.9h1.3M113.3 97.3h1.3M132.4 96.1h1.3M104.9 80.3h1.3M102.3 90.9h1.3M112.0 69.4h1.3M101.5 108.5h1.3M112.2 107.1h1.3M122.7 80.3h1.3M111.3 138.2h1.3M106.5 71.5h1.3M120.4 86.7h1.3M119.9 76.5h1.3M111.0 150.4h1.3M115.1 93.0h1.3M113.5 102.0h1.3M108.8 62.1h1.3M124.7 113.6h1.3M121.9 86.6h1.3M130.5 96.1h1.3M115.8 121.8h1.3M122.0 86.0h1.3M114.1 125.4h1.3M133.3 63.8h1.3M115.9 149.3h1.3M108.6 159.2h1.3M120.5 80.9h1.3M118.7 120.3h1.3M124.6 105.3h1.3M111.8 65.3h1.3M126.7 117.9h1.3M102.6 92.8h1.3M125.9 105.7h1.3M100.1 62.5h1.3M114.1 117.9h1.3M133.1 139.5h1.3M108.1 107.3h1.3M123.1 109.3h1.3M113.8 84.4h1.3M124.2 140.7h1.3M118.6 132.2h1.3M121.9 101.2h1.3M116.1 119.7h1.3M111.4 78.0h1.3M108.0 66.2h1.3M127.8 125.2h1.3M103.2 108.0h1.3M113.0 116.0h1.3M113.0 139.3h1.3M114.3 85.2h1.3M135.6 85.2h1.3M112.4 84.0h1.3M108.6 133.5h1.3M133.8 59.6h1.3M114.5 150.5h1.3M115.1 81.7h1.3M125.2 95.6h1.3M107.9 84.7h1.3M119.5 85.7h1.3M101.1 126.2h1.3M136.4 109.2h1.3M114.5 118.3h1.3M155.5 66.2h1.3M113.7 115.2h1.3M137.1 124.1h1.3M101.5 97.2h1.3M117.4 57.6h1.3M125.1 91.9h1.3M113.2 101.4h1.3M114.5 63.1h1.3M116.0 62.5h1.3M108.4 119.3h1.3M115.0 143.2h1.3M127.9 88.3h1.3M117.0 103.0h1.3M129.3 108.7h1.3M103.3 146.9h1.3M100.4 95.2h1.3M102.3 102.1h1.3M116.2 138.6h1.3M107.3 141.6h1.3M125.3 84.1h1.3M130.3 161.2h1.3M128.7 57.6h1.3M126.7 106.8h1.3M109.0 109.3h1.3M102.7 91.5h1.3M103.7 120.9h1.3M134.1 84.5h1.3M110.2 113.4h1.3M109.7 87.4h1.3M131.3 93.2h1.3M126.1 98.9h1.3M123.3 99.1h1.3M120.5 82.0h1.3M109.4 105.7h1.3M120.8 105.3h1.3M122.4 79.4h1.3M113.1 89.0h1.3M121.4 70.5h1.3M110.5 86.4h1.3M103.7 74.5h1.3M101.9 102.8h1.3M117.2 114.2h1.3M113.4 141.8h1.3M114.7 95.9h1.3M115.4 78.5h1.3M118.1 85.9h1.3M124.0 127.1h1.3M100.5 118.1h1.3M104.9 115.7h1.3M123.3 93.1h1.3M132.2 131.6h1.3M115.1 84.9h1.3M106.5 64.8h1.3M130.6 59.9h1.3M131.7 99.8h1.3M120.6 91.7h1.3M104.6 101.1h1.3M106.4 59.9h1.3M130.1 132.8h1.3M111.2 100.7h1.3M136.7 118.7h1.3M130.1 110.4h1.3M110.3 72.3h1.3M102.2 61.7h1.3M126.8 128.4h1.3M113.2 81.3h1.3M120.3 98.7h1.3M109.4 126.8h1.3M138.4 64.2h1.3M102.3 72.4h1.3M118.0 75.5h1.3M100.7 101.0h1.3M108.0 130.1h1.3M119.5 117.2h1.3M108.5 129.5h1.3M101.8 111.7h1.3M107.1 96.2h1.3M106.4 96.3h1.3M122.6 99.0h1.3M116.2 115.7h1.3M114.1 128.1h1.3M103.6 96.9h1.3M119.4 98.6h1.3M108.2 73.8h1.3M114.0 56.6h1.3M144.0 121.7h1.3M113.6 56.2h1.3M115.7 59.2h1.3M115.2 106.6h1.3M105.9 89.0h1.3M115.6 103.1h1.3M106.7 96.5h1.3M115.5 102.1h1.3M105.6 75.1h1.3M106.3 97.7h1.3M86.8 104.1h1.3M88.9 96.6h1.3M92.1 147.4h1.3M90.2 95.6h1.3M87.8 134.0h1.3M88.3 90.7h1.3M99.1 107.4h1.3M89.5 78.8h1.3M87.8 89.7h1.3M90.1 56.6h1.3M96.3 117.7h1.3M100.4 124.1h1.3M94.1 80.2h1.3M89.4 154.8h1.3M93.6 130.2h1.3M82.5 87.2h1.3M97.6 57.8h1.3M87.0 79.4h1.3M85.8 154.6h1.3M84.0 120.2h1.3M86.8 169.2h1.3M88.0 130.5h1.3M88.9 126.1h1.3M97.6 103.9h1.3M89.9 148.9h1.3M86.1 126.4h1.3M100.7 80.9h1.3M80.9 91.7h1.3M89.6 153.7h1.3M98.3 66.3h1.3M94.0 83.7h1.3M74.6 113.3h1.3M91.4 93.5h1.3M83.0 78.0h1.3M86.4 120.9h1.3M96.4 106.1h1.3M95.9 120.8h1.3M84.0 141.7h1.3M94.7 170.8h1.3M101.1 59.7h1.3M90.8 78.0h1.3M98.6 71.0h1.3M97.6 59.3h1.3M79.2 107.0h1.3M87.0 135.3h1.3M82.3 130.7h1.3M90.9 89.9h1.3M89.2 105.0h1.3M89.1 135.5h1.3M95.5 58.4h1.3M95.6 86.0h1.3M95.7 123.3h1.3M83.9 149.2h1.3M88.5 64.0h1.3M90.2 71.6h1.3M83.7 158.2h1.3M99.1 72.1h1.3M94.3 91.5h1.3M95.6 62.7h1.3M89.9 168.2h1.3M88.7 113.5h1.3M86.5 70.4h1.3M79.2 95.3h1.3M94.9 86.6h1.3M85.4 148.1h1.3M88.4 76.9h1.3M84.6 95.0h1.3M81.5 112.5h1.3M82.3 134.3h1.3M90.8 154.2h1.3M94.1 76.3h1.3M96.3 143.7h1.3M97.8 91.8h1.3M76.4 66.4h1.3M88.2 123.9h1.3M71.8 155.0h1.3M91.3 58.5h1.3M93.8 143.8h1.3M89.8 141.2h1.3M91.9 161.0h1.3M85.9 57.4h1.3M85.0 97.5h1.3M82.2 113.2h1.3M87.4 117.9h1.3M80.4 104.8h1.3M70.4 79.4h1.3M96.1 146.2h1.3M92.3 71.1h1.3M81.5 97.7h1.3M84.9 158.9h1.3M86.5 150.2h1.3M85.0 135.5h1.3M85.4 84.9h1.3M78.4 102.0h1.3M79.7 129.1h1.3M97.5 163.4h1.3M89.3 61.6h1.3M91.4 111.7h1.3M96.7 147.1h1.3M90.1 156.0h1.3M90.5 63.6h1.3M89.3 103.1h1.3M85.4 65.4h1.3M83.0 91.4h1.3M82.9 149.4h1.3M86.0 88.8h1.3M97.0 67.7h1.3M89.1 88.6h1.3M96.4 67.0h1.3M93.6 138.7h1.3M87.8 67.3h1.3M87.0 81.7h1.3M85.1 179.5h1.3M89.4 70.5h1.3M104.2 107.3h1.3M94.2 149.8h1.3M91.6 162.1h1.3M84.2 142.6h1.3M85.7 109.5h1.3M85.4 106.0h1.3M97.0 155.8h1.3M85.7 66.9h1.3M90.1 123.6h1.3M101.2 108.6h1.3M80.9 129.1h1.3M91.8 110.5h1.3M82.6 137.7h1.3M95.7 67.3h1.3M82.2 118.9h1.3M86.2 71.6h1.3M94.1 127.3h1.3M91.3 116.0h1.3M93.6 97.4h1.3M87.3 132.1h1.3M92.0 149.0h1.3M91.7 83.4h1.3M83.3 100.3h1.3M84.1 110.3h1.3M86.6 61.3h1.3M90.6 162.4h1.3M105.4 65.1h1.3M94.4 109.5h1.3M93.8 131.6h1.3M88.4 126.2h1.3M86.2 127.6h1.3M86.6 76.7h1.3M89.3 72.0h1.3M77.9 77.0h1.3M85.8 175.6h1.3M79.1 146.7h1.3M104.5 67.1h1.3M95.9 122.3h1.3M92.6 117.9h1.3M82.9 88.7h1.3M91.6 71.0h1.3M83.4 143.4h1.3M91.1 86.7h1.3M87.2 148.0h1.3M87.3 111.8h1.3M90.9 169.6h1.3M90.7 87.6h1.3M99.4 144.5h1.3M96.3 138.8h1.3M86.8 99.4h1.3M87.9 66.4h1.3M103.4 158.1h1.3M95.8 125.1h1.3M90.6 128.0h1.3M82.2 71.4h1.3M88.9 110.7h1.3M101.7 134.7h1.3M104.6 123.7h1.3M90.2 136.7h1.3M91.6 63.0h1.3M89.0 100.3h1.3M79.4 163.5h1.3M87.3 63.4h1.3M101.7 115.1h1.3M86.9 127.4h1.3M90.1 130.7h1.3M90.1 137.9h1.3M83.8 131.0h1.3M83.6 76.7h1.3M92.0 161.5h1.3M89.3 100.4h1.3M92.4 143.8h1.3M91.9 149.0h1.3M94.3 134.4h1.3M83.8 111.9h1.3M82.8 98.2h1.3M90.4 158.8h1.3M94.2 151.2h1.3M84.2 123.9h1.3M95.2 69.8h1.3M86.6 125.0h1.3M95.0 72.3h1.3M77.0 142.1h1.3M95.1 138.5h1.3M103.1 137.9h1.3M102.6 77.7h1.3M80.9 146.5h1.3M83.7 136.0h1.3M88.6 146.5h1.3M92.3 73.2h1.3M86.1 123.2h1.3M102.5 62.2h1.3M88.4 120.8h1.3M94.8 148.7h1.3M82.4 148.0h1.3M94.5 154.3h1.3M78.1 102.5h1.3M89.4 137.1h1.3M87.9 70.0h1.3M86.1 79.8h1.3M87.4 116.1h1.3M83.1 109.1h1.3M89.0 79.4h1.3M88.1 67.2h1.3M88.1 169.9h1.3M96.9 170.4h1.3M94.7 80.8h1.3M94.1 157.0h1.3M82.1 115.7h1.3M91.4 126.3h1.3M88.3 67.7h1.3M86.3 157.7h1.3M90.3 124.1h1.3M80.9 101.1h1.3M83.9 116.7h1.3M85.2 149.6h1.3M89.5 109.3h1.3M86.0 121.0h1.3M99.3 104.2h1.3M95.5 126.4h1.3M87.8 78.8h1.3M91.7 125.9h1.3M96.1 88.2h1.3M79.9 98.7h1.3M83.8 122.2h1.3M83.3 57.7h1.3M88.9 90.7h1.3M83.9 64.3h1.3M98.8 119.3h1.3M89.3 83.6h1.3M84.4 136.0h1.3M89.3 119.7h1.3M87.1 123.5h1.3M89.2 73.2h1.3M90.6 113.0h1.3M92.4 129.0h1.3M84.9 101.2h1.3M92.7 89.3h1.3M91.8 158.4h1.3M77.7 104.3h1.3M99.0 72.6h1.3M88.5 80.7h1.3M90.1 161.6h1.3M82.7 115.7h1.3M87.0 164.9h1.3M84.9 138.1h1.3M83.4 81.9h1.3M89.0 105.6h1.3M93.4 81.1h1.3M92.3 77.4h1.3M89.4 119.3h1.3M88.7 125.4h1.3M91.5 149.0h1.3M83.6 152.9h1.3M84.7 61.5h1.3M87.3 137.6h1.3M99.3 166.6h1.3M81.3 129.4h1.3M92.3 112.8h1.3M92.3 168.9h1.3M88.8 94.9h1.3M96.6 65.7h1.3M88.0 128.8h1.3M84.5 144.7h1.3M91.7 82.2h1.3M89.7 179.5h1.3M77.7 141.1h1.3M95.1 151.3h1.3M81.1 146.9h1.3M91.2 122.2h1.3M90.8 146.1h1.3M91.0 109.6h1.3M83.5 90.4h1.3M97.4 157.3h1.3M83.8 128.7h1.3M90.8 124.9h1.3M101.1 67.9h1.3M94.4 117.1h1.3M83.1 150.5h1.3M86.2 153.8h1.3M77.3 79.0h1.3M78.0 83.7h1.3M89.8 118.4h1.3M86.7 84.1h1.3M82.1 121.1h1.3M81.7 95.7h1.3M89.0 126.7h1.3M89.7 65.4h1.3M94.6 76.4h1.3M97.2 140.2h1.3M98.4 85.3h1.3M88.6 96.4h1.3M88.5 82.3h1.3M84.1 148.8h1.3M85.5 100.0h1.3M75.3 144.5h1.3M80.8 167.9h1.3M91.1 162.2h1.3M96.0 104.1h1.3M93.4 137.8h1.3M90.0 84.3h1.3M86.0 153.7h1.3M84.6 69.4h1.3M84.9 75.3h1.3M87.8 156.8h1.3M88.3 138.1h1.3M93.0 73.3h1.3M87.7 133.3h1.3M79.2 140.0h1.3M80.5 70.6h1.3M97.7 107.5h1.3M94.2 120.2h1.3M103.4 104.6h1.3M88.4 81.8h1.3M72.5 91.4h1.3M91.7 124.4h1.3M83.5 79.7h1.3M85.6 167.3h1.3M89.4 117.7h1.3M87.5 72.0h1.3M90.1 152.5h1.3M91.1 136.5h1.3M94.3 128.6h1.3M88.1 143.7h1.3M81.9 121.9h1.3M78.9 121.3h1.3M82.8 65.0h1.3M90.4 73.2h1.3M87.7 89.5h1.3M94.5 91.6h1.3M89.4 100.9h1.3M100.1 84.7h1.3M79.2 134.0h1.3M80.4 129.0h1.3M89.0 122.9h1.3M83.3 56.5h1.3M91.0 74.0h1.3M80.9 73.5h1.3M87.7 75.9h1.3M87.8 122.7h1.3M101.5 123.3h1.3M92.9 79.8h1.3M76.9 96.6h1.3M100.6 142.0h1.3M96.3 134.4h1.3M93.9 67.3h1.3M91.3 166.3h1.3M94.5 62.0h1.3M95.6 98.1h1.3M86.2 148.8h1.3M96.7 103.7h1.3M101.5 148.2h1.3M83.5 144.1h1.3M93.2 147.9h1.3M93.1 154.9h1.3M82.1 129.0h1.3M99.5 163.3h1.3M80.6 121.3h1.3M87.3 143.3h1.3M88.3 119.8h1.3M90.9 122.3h1.3M86.1 99.2h1.3M88.5 111.7h1.3M88.1 80.1h1.3M96.1 157.4h1.3M99.6 156.8h1.3M83.3 111.3h1.3M90.4 98.3h1.3M80.9 79.8h1.3M99.7 64.4h1.3M85.0 158.1h1.3M88.4 104.1h1.3M71.5 91.5h1.3M82.7 100.2h1.3M88.6 68.3h1.3M98.5 105.4h1.3M95.0 126.3h1.3M82.5 85.8h1.3M76.1 82.5h1.3M85.9 97.7h1.3M89.1 81.5h1.3M80.7 138.0h1.3M96.0 134.1h1.3M77.9 176.6h1.3M93.4 158.0h1.3M81.7 106.3h1.3M89.1 68.7h1.3M78.7 132.2h1.3M94.4 110.9h1.3M80.2 140.8h1.3M81.6 71.0h1.3M84.7 67.2h1.3M79.3 69.8h1.3M95.8 128.1h1.3M72.4 167.8h1.3M89.4 117.4h1.3M84.1 78.1h1.3M89.9 81.4h1.3M86.0 90.3h1.3M85.1 69.6h1.3M89.6 80.4h1.3M86.1 124.8h1.3M80.9 114.1h1.3M88.9 161.6h1.3M95.0 87.0h1.3M89.2 147.8h1.3M77.5 126.6h1.3M73.9 59.4h1.3M86.3 147.8h1.3M86.9 139.4h1.3M77.7 75.5h1.3M95.1 64.7h1.3M92.4 115.6h1.3M94.4 81.6h1.3M90.2 131.3h1.3M79.7 95.4h1.3M84.9 141.6h1.3M87.2 155.0h1.3M88.0 84.2h1.3M103.3 141.2h1.3M96.3 85.3h1.3M95.6 91.4h1.3M85.1 117.3h1.3M86.1 64.6h1.3M92.5 141.2h1.3M90.2 123.1h1.3M75.8 159.8h1.3M85.5 134.3h1.3M101.7 84.9h1.3M90.4 74.3h1.3M88.6 139.3h1.3M101.3 73.3h1.3M91.8 112.6h1.3M80.5 89.7h1.3M80.3 167.8h1.3M91.7 102.8h1.3M103.8 79.6h1.3M91.1 79.8h1.3M97.0 138.0h1.3M79.9 126.6h1.3M85.1 133.7h1.3M103.5 99.7h1.3M91.6 79.9h1.3M73.4 64.0h1.3M84.1 147.5h1.3M105.7 92.4h1.3M89.6 81.4h1.3M89.0 103.3h1.3M89.6 77.9h1.3M93.6 103.6h1.3M88.2 72.7h1.3M91.8 70.7h1.3M97.0 157.3h1.3M94.2 114.9h1.3M88.2 159.9h1.3M81.6 125.2h1.3M77.5 69.8h1.3M74.9 111.9h1.3M87.5 79.2h1.3M84.8 127.9h1.3M88.9 91.6h1.3M89.3 83.0h1.3M97.0 98.0h1.3M97.2 115.1h1.3M78.1 134.6h1.3M83.2 170.4h1.3M73.0 138.3h1.3M96.0 72.4h1.3M91.9 94.1h1.3M85.0 142.4h1.3M85.3 141.6h1.3M85.8 160.3h1.3M95.1 168.9h1.3M86.7 118.5h1.3M87.1 74.7h1.3M102.3 103.7h1.3M90.9 166.3h1.3M90.7 88.0h1.3M95.0 97.7h1.3M87.5 137.2h1.3M82.4 120.6h1.3M80.4 140.6h1.3M85.9 107.6h1.3M87.4 140.6h1.3M87.3 154.7h1.3M93.0 147.5h1.3M87.8 147.9h1.3M93.8 95.6h1.3M91.7 95.5h1.3M99.0 79.0h1.3M86.4 103.9h1.3M95.3 164.5h1.3M92.5 110.5h1.3M87.7 85.9h1.3M88.0 154.3h1.3M85.6 86.7h1.3M88.1 119.8h1.3M89.5 119.5h1.3M72.3 108.6h1.3M90.9 100.3h1.3M91.0 162.2h1.3M87.3 129.3h1.3M79.3 86.8h1.3M98.7 120.4h1.3M93.5 95.7h1.3M88.4 118.9h1.3M89.1 95.6h1.3M86.8 103.2h1.3M97.6 73.4h1.3M94.6 103.1h1.3M86.6 122.5h1.3M89.8 64.8h1.3M95.9 127.7h1.3M93.3 146.2h1.3M89.4 137.9h1.3M97.1 85.5h1.3M89.9 114.2h1.3M81.5 77.1h1.3M80.3 92.1h1.3M80.4 144.1h1.3M83.3 120.1h1.3M94.1 108.6h1.3M89.2 67.2h1.3M81.1 69.7h1.3M93.5 91.9h1.3M97.5 103.5h1.3M83.7 65.2h1.3M91.1 106.2h1.3M89.6 168.3h1.3M83.7 146.0h1.3M82.0 71.5h1.3M91.9 58.9h1.3M76.6 82.2h1.3M84.4 85.2h1.3M102.4 98.6h1.3M84.9 57.4h1.3M79.6 112.8h1.3M98.8 144.5h1.3M80.9 119.6h1.3M80.7 77.4h1.3M89.4 156.9h1.3M94.4 164.5h1.3M91.2 89.2h1.3M81.0 66.9h1.3M98.2 145.0h1.3M85.5 143.0h1.3M83.9 101.8h1.3M83.1 93.0h1.3M89.0 79.2h1.3M90.3 169.7h1.3M87.6 87.9h1.3M95.4 172.8h1.3M95.9 113.3h1.3M90.4 101.9h1.3M92.8 129.0h1.3M88.8 157.0h1.3M76.6 104.0h1.3M97.3 115.1h1.3M94.0 131.9h1.3M99.8 129.5h1.3M94.2 72.9h1.3M84.4 113.9h1.3M85.2 143.5h1.3M87.6 118.8h1.3M94.3 101.8h1.3M76.5 97.9h1.3M91.2 89.4h1.3M80.3 86.1h1.3M99.3 92.6h1.3M80.6 170.0h1.3M82.2 137.4h1.3M91.7 93.0h1.3M82.9 79.4h1.3M95.5 117.3h1.3M94.0 166.9h1.3M87.3 93.8h1.3M80.1 147.1h1.3M72.0 73.2h1.3M96.3 130.7h1.3M98.3 129.4h1.3M76.6 114.1h1.3M89.5 84.9h1.3M88.5 117.0h1.3M96.5 88.0h1.3M104.7 145.4h1.3M82.9 89.8h1.3M81.6 143.7h1.3M90.9 92.9h1.3M85.2 87.4h1.3M86.4 116.1h1.3M97.9 60.2h1.3M91.4 113.2h1.3M98.2 75.9h1.3M97.1 109.0h1.3M99.5 73.5h1.3M77.3 113.9h1.3M82.4 82.4h1.3M96.6 99.6h1.3M98.8 65.8h1.3M77.5 116.9h1.3M89.9 151.2h1.3M95.8 79.2h1.3M85.8 143.2h1.3M88.2 108.5h1.3M88.3 87.4h1.3M88.6 130.2h1.3M87.3 86.7h1.3M75.0 99.3h1.3M89.5 105.7h1.3M92.4 89.8h1.3M97.7 109.7h1.3M93.7 174.0h1.3M89.2 70.6h1.3M90.6 112.5h1.3M89.5 122.9h1.3M84.8 102.2h1.3M90.7 134.1h1.3M94.8 65.3h1.3M95.7 86.4h1.3M85.1 109.2h1.3M102.4 106.8h1.3M94.2 87.6h1.3M83.1 142.3h1.3M75.6 126.5h1.3M83.1 87.6h1.3M86.9 67.5h1.3M94.1 143.8h1.3M79.2 68.2h1.3M97.7 118.1h1.3M82.8 149.7h1.3M81.4 64.7h1.3M90.7 122.5h1.3M94.6 142.8h1.3M85.7 98.6h1.3M98.5 140.1h1.3M85.3 157.1h1.3M98.9 149.7h1.3M89.2 142.0h1.3M94.0 76.4h1.3M92.7 121.2h1.3M97.9 137.9h1.3M86.9 82.0h1.3M94.1 162.4h1.3M82.2 130.9h1.3M87.4 97.2h1.3M85.9 95.3h1.3M72.7 119.0h1.3M91.4 99.1h1.3M88.6 127.1h1.3M95.6 122.8h1.3M93.2 116.4h1.3M94.4 64.0h1.3M93.8 130.2h1.3M86.2 134.5h1.3M92.5 133.8h1.3M85.6 141.7h1.3M74.0 121.3h1.3M83.8 127.6h1.3M82.5 161.2h1.3M81.9 120.8h1.3M87.4 101.8h1.3M80.1 89.5h1.3M86.9 84.7h1.3M99.9 138.4h1.3M92.1 140.7h1.3M96.0 74.0h1.3M82.7 122.1h1.3M87.9 146.2h1.3M88.9 107.1h1.3M94.7 116.4h1.3M89.6 143.4h1.3M77.0 81.3h1.3M82.3 122.9h1.3M91.9 91.0h1.3M98.5 114.9h1.3M97.4 99.2h1.3M87.4 145.1h1.3M86.9 88.3h1.3M81.7 119.6h1.3M84.7 139.3h1.3M83.4 69.4h1.3M92.8 108.3h1.3M96.9 82.9h1.3M88.6 126.3h1.3M91.0 86.6h1.3M93.2 151.2h1.3M81.5 149.1h1.3M90.2 86.2h1.3M67.5 132.1h1.3M91.8 128.3h1.3M65.9 119.9h1.3M64.3 82.4h1.3M65.9 67.5h1.3M71.8 167.5h1.3M63.9 186.5h1.3M84.4 170.0h1.3M77.4 111.9h1.3M83.5 81.6h1.3M69.7 178.7h1.3M65.6 126.2h1.3M66.8 125.6h1.3M78.0 92.5h1.3M67.9 155.9h1.3M74.9 169.9h1.3M61.6 74.7h1.3M87.7 71.9h1.3M76.6 116.7h1.3M88.9 151.4h1.3M73.2 53.1h1.3M76.0 172.6h1.3M66.5 129.0h1.3M65.3 97.4h1.3M75.2 153.7h1.3M73.2 78.8h1.3M73.7 127.4h1.3M75.5 125.1h1.3M70.3 163.3h1.3M74.4 75.2h1.3M90.0 101.0h1.3M73.4 74.7h1.3M67.8 91.0h1.3M65.6 77.5h1.3M80.0 152.6h1.3M77.7 145.9h1.3M85.6 160.9h1.3M78.0 171.9h1.3M85.9 147.4h1.3M90.3 154.0h1.3M77.4 142.3h1.3M64.2 69.7h1.3M92.1 139.7h1.3M65.2 135.7h1.3M62.8 171.9h1.3M75.5 133.2h1.3M83.9 141.3h1.3M74.1 54.1h1.3M79.3 113.1h1.3M75.9 96.2h1.3M79.8 155.4h1.3M90.6 163.2h1.3M77.6 131.6h1.3M82.0 116.8h1.3M78.5 110.3h1.3M70.5 56.5h1.3M69.1 62.5h1.3M74.3 169.0h1.3M64.9 108.5h1.3M80.7 101.8h1.3M78.2 189.0h1.3M94.2 133.7h1.3M84.0 144.9h1.3M67.2 54.6h1.3M67.6 57.4h1.3M83.3 133.5h1.3M86.6 127.4h1.3M63.3 85.4h1.3M78.8 51.7h1.3M66.9 156.2h1.3M71.1 97.3h1.3M77.2 97.9h1.3M65.7 97.6h1.3M69.5 158.8h1.3M84.6 135.8h1.3M64.9 58.8h1.3M67.8 170.0h1.3M76.0 116.9h1.3M72.6 163.3h1.3M80.4 182.6h1.3M95.5 165.1h1.3M80.4 168.9h1.3M70.7 169.3h1.3M87.8 163.3h1.3M68.2 88.9h1.3M82.6 142.5h1.3M72.3 153.5h1.3M73.2 180.2h1.3M80.4 94.5h1.3M67.1 126.6h1.3M82.2 113.5h1.3M79.3 64.2h1.3M82.8 167.5h1.3M85.2 132.6h1.3M73.9 74.9h1.3M81.7 156.2h1.3M80.9 122.4h1.3M78.4 90.7h1.3M74.7 172.0h1.3M75.1 75.9h1.3M76.9 119.7h1.3M63.8 140.6h1.3M80.4 171.6h1.3M88.7 124.7h1.3M77.4 103.4h1.3M74.6 168.7h1.3M67.8 102.3h1.3M64.5 78.9h1.3M64.6 55.9h1.3M83.3 74.0h1.3M80.4 121.6h1.3M81.6 96.1h1.3M86.3 148.5h1.3M75.8 186.5h1.3M64.5 80.8h1.3M82.4 79.4h1.3M77.7 174.2h1.3M80.6 146.2h1.3M81.5 128.0h1.3M78.3 62.5h1.3M81.2 88.2h1.3M66.7 168.0h1.3M79.3 69.4h1.3M84.2 87.5h1.3M63.1 98.0h1.3M86.4 152.2h1.3M73.3 81.9h1.3M77.4 153.2h1.3M67.6 61.1h1.3M73.7 73.1h1.3M78.5 170.6h1.3M72.2 77.9h1.3M61.6 156.1h1.3M61.8 135.8h1.3M71.2 141.2h1.3M70.4 117.4h1.3M89.4 110.4h1.3M68.5 104.9h1.3M77.2 94.0h1.3M66.9 126.0h1.3M88.7 150.5h1.3M77.5 180.4h1.3M64.0 133.9h1.3M77.4 79.5h1.3M77.5 107.6h1.3M80.2 135.7h1.3M77.4 104.4h1.3M67.9 133.5h1.3M72.3 180.9h1.3M64.3 107.6h1.3M79.0 169.8h1.3M79.2 124.9h1.3M64.3 94.0h1.3M88.6 74.8h1.3M89.9 139.7h1.3M79.9 172.2h1.3M85.1 136.8h1.3M66.0 173.9h1.3M76.4 67.9h1.3M78.3 104.0h1.3M81.7 78.4h1.3M96.1 121.0h1.3M71.6 173.8h1.3M74.5 109.6h1.3M88.4 144.9h1.3M98.0 93.7h1.3M68.6 132.8h1.3M87.3 130.9h1.3M63.5 143.1h1.3M85.6 138.3h1.3M61.3 68.8h1.3M65.4 65.9h1.3M76.3 75.1h1.3M71.6 178.2h1.3M81.0 152.8h1.3M75.6 174.5h1.3M81.3 138.6h1.3M61.2 105.9h1.3M74.0 133.6h1.3M88.8 164.7h1.3M75.4 135.1h1.3M75.7 166.5h1.3M66.3 69.8h1.3M79.7 170.1h1.3M74.6 152.4h1.3M71.9 69.7h1.3M71.1 118.7h1.3M82.6 93.4h1.3M76.0 153.5h1.3M80.2 74.5h1.3M76.8 81.6h1.3M71.3 166.1h1.3M87.9 112.3h1.3M69.3 182.2h1.3M82.1 181.0h1.3M63.1 129.2h1.3M72.2 93.2h1.3M92.4 69.4h1.3M83.0 185.8h1.3M76.2 147.1h1.3M60.8 162.2h1.3M67.4 118.8h1.3M72.8 103.3h1.3M65.3 136.3h1.3M79.1 117.1h1.3M67.7 89.7h1.3M60.2 59.6h1.3M78.1 131.5h1.3M82.7 156.4h1.3M79.0 141.1h1.3M73.5 55.2h1.3M68.9 74.0h1.3M92.2 104.6h1.3M76.9 96.9h1.3M73.7 177.5h1.3M72.9 64.4h1.3M88.0 135.0h1.3M75.6 145.2h1.3M71.0 157.0h1.3M75.6 155.7h1.3M73.6 180.7h1.3M62.2 137.7h1.3M92.7 164.9h1.3M79.1 166.2h1.3M72.4 87.4h1.3M79.8 78.9h1.3M73.0 141.6h1.3M75.6 93.9h1.3M65.6 66.0h1.3M67.6 107.6h1.3M65.7 79.2h1.3M80.9 149.0h1.3M63.4 88.1h1.3M78.8 71.8h1.3M75.9 185.0h1.3M78.4 65.6h1.3M75.1 130.1h1.3M77.5 183.4h1.3M69.8 102.7h1.3M87.6 77.0h1.3M73.4 157.8h1.3M85.9 133.0h1.3M78.0 72.4h1.3M66.3 71.6h1.3M78.7 165.2h1.3M73.5 51.2h1.3M76.2 68.3h1.3M72.4 170.9h1.3M87.2 73.8h1.3M59.8 59.2h1.3M89.2 153.7h1.3M92.7 72.7h1.3M73.5 174.0h1.3M74.0 114.4h1.3M80.5 116.3h1.3M86.4 124.4h1.3M89.9 87.8h1.3M75.5 135.8h1.3M73.2 129.9h1.3M73.4 90.0h1.3M73.5 94.1h1.3M81.1 117.3h1.3M78.6 74.4h1.3M64.2 107.7h1.3M61.6 132.8h1.3M72.9 55.6h1.3M75.1 130.4h1.3M76.2 140.6h1.3M89.7 178.8h1.3M76.4 97.7h1.3M75.0 161.7h1.3M73.9 141.7h1.3M84.3 177.7h1.3M83.8 130.0h1.3M71.7 102.3h1.3M87.2 113.5h1.3M75.8 130.9h1.3M85.0 118.8h1.3M73.0 184.6h1.3M88.6 179.4h1.3M69.9 128.9h1.3M77.6 142.5h1.3M73.3 166.7h1.3M69.3 166.2h1.3M67.8 125.9h1.3M83.0 133.8h1.3M72.1 53.4h1.3M71.2 132.4h1.3M82.4 64.5h1.3M76.1 168.3h1.3M62.6 69.2h1.3M69.3 129.4h1.3M82.7 117.3h1.3M81.1 115.7h1.3M75.3 87.3h1.3M84.3 54.6h1.3M71.8 178.3h1.3M93.7 162.9h1.3M96.5 38.5h1.3M94.1 48.6h1.3M88.6 48.7h1.3M87.4 49.9h1.3M84.3 41.0h1.3M71.1 47.2h1.3M90.7 39.0h1.3M64.2 41.2h1.3M89.1 46.6h1.3M96.4 43.6h1.3M75.4 39.1h1.3M80.9 46.9h1.3M91.4 48.8h1.3M103.3 42.1h1.3M89.1 38.8h1.3M87.4 39.2h1.3M96.3 39.0h1.3M68.3 44.5h1.3M80.8 40.1h1.3M78.6 44.1h1.3M69.5 46.8h1.3M101.8 47.4h1.3M64.5 46.8h1.3M64.5 46.0h1.3M81.6 43.4h1.3" stroke="#000" stroke-width="1.3" fill="none"/>
<path d="M402.8 179.5h1.3M410.5 146.9h1.3M405.7 133.0h1.3M419.9 152.2h1.3M395.2 168.1h1.3M424.9 160.6h1.3M398.8 161.6h1.3M428.2 165.2h1.3M413.4 161.1h1.3M381.9 179.3h1.3M403.9 130.3h1.3M420.0 162.9h1.3M395.9 163.8h1.3M400.2 175.7h1.3M433.8 135.2h1.3M410.5 171.8h1.3M398.2 158.8h1.3M418.8 167.2h1.3M409.1 147.9h1.3M415.2 159.1h1.3M416.1 148.3h1.3M412.9 148.8h1.3M413.1 168.3h1.3M427.4 147.7h1.3M408.7 162.0h1.3M392.2 166.2h1.3M389.5 167.9h1.3M411.1 171.6h1.3M411.2 148.1h1.3M409.0 170.4h1.3M416.2 177.6h1.3M426.6 172.9h1.3M411.0 159.8h1.3M384.9 176.9h1.3M421.9 176.1h1.3M390.4 186.3h1.3M417.5 150.1h1.3M411.5 148.8h1.3M415.1 153.3h1.3M412.6 141.6h1.3M423.1 133.4h1.3M417.8 166.7h1.3M402.1 172.0h1.3M423.6 165.0h1.3M415.7 144.3h1.3M406.9 161.4h1.3M405.7 155.5h1.3M406.7 169.1h1.3M397.9 148.5h1.3M414.2 144.5h1.3M430.1 117.7h1.3M423.5 146.6h1.3M419.9 148.4h1.3M389.6 163.8h1.3M389.3 181.0h1.3M422.6 160.0h1.3M405.3 162.8h1.3M432.7 157.4h1.3M412.3 168.8h1.3M401.8 150.7h1.3M403.6 183.6h1.3M424.2 163.1h1.3M424.0 161.2h1.3M398.4 164.8h1.3M411.8 149.0h1.3M418.1 139.9h1.3M396.3 151.1h1.3M403.0 162.4h1.3M386.6 161.4h1.3M405.0 162.7h1.3M428.8 154.1h1.3M397.1 165.2h1.3M410.8 157.4h1.3M411.4 145.2h1.3M407.2 152.6h1.3M383.0 178.3h1.3M416.8 148.5h1.3M402.8 182.6h1.3M410.5 170.5h1.3M426.7 161.6h1.3M397.3 179.0h1.3M380.9 181.1h1.3M418.4 171.1h1.3M402.0 152.4h1.3M427.6 144.3h1.3M400.9 171.7h1.3M426.7 145.6h1.3M417.5 169.5h1.3M401.1 154.0h1.3M423.7 169.3h1.3M406.6 138.9h1.3M425.9 161.4h1.3M419.6 156.0h1.3M425.0 152.8h1.3M390.0 173.1h1.3M410.3 157.9h1.3M402.0 145.5h1.3M400.7 166.0h1.3M396.2 161.6h1.3M419.8 156.5h1.3M402.4 160.9h1.3M409.3 161.0h1.3M427.8 149.0h1.3M386.8 178.6h1.3M400.3 156.0h1.3M424.6 151.5h1.3M414.9 145.3h1.3M415.7 147.7h1.3M419.6 141.6h1.3M417.3 166.2h1.3M397.1 162.2h1.3M394.5 177.0h1.3M408.8 149.8h1.3M416.9 150.1h1.3M405.2 140.4h1.3M427.6 137.8h1.3M401.5 157.3h1.3M406.7 181.8h1.3M398.0 155.1h1.3M400.1 147.4h1.3M385.6 153.5h1.3M424.6 156.9h1.3M408.3 128.3h1.3M427.9 163.9h1.3M406.9 173.3h1.3M394.2 176.4h1.3M394.2 167.0h1.3M442.1 134.5h1.3M419.5 150.2h1.3M425.4 165.7h1.3M421.2 126.6h1.3M417.1 158.2h1.3M421.7 159.3h1.3M429.7 150.1h1.3M421.1 157.2h1.3M399.2 168.5h1.3M438.4 144.6h1.3M430.8 167.2h1.3M423.4 161.1h1.3M390.4 158.6h1.3M397.7 167.1h1.3M399.6 163.4h1.3M425.0 160.0h1.3M408.3 166.2h1.3M417.8 156.1h1.3M406.9 149.5h1.3M412.9 173.4h1.3M413.1 159.9h1.3M400.6 185.1h1.3M411.5 148.9h1.3M413.0 160.9h1.3M412.2 153.6h1.3M417.5 175.7h1.3M400.2 145.2h1.3M425.2 160.9h1.3M398.4 168.6h1.3M405.8 162.7h1.3M411.7 150.0h1.3M396.1 171.8h1.3M410.9 142.2h1.3M387.1 152.2h1.3M410.6 183.2h1.3M398.4 152.3h1.3M385.5 172.0h1.3M424.5 135.4h1.3M409.3 170.9h1.3M402.2 157.7h1.3M403.9 170.6h1.3M419.7 161.3h1.3M410.1 157.9h1.3M413.9 133.0h1.3M426.1 157.7h1.3M402.1 168.2h1.3M413.7 162.8h1.3M420.9 158.0h1.3M429.7 144.8h1.3M392.6 172.0h1.3M400.2 164.7h1.3M397.1 171.3h1.3M406.1 158.2h1.3M401.6 160.1h1.3M423.0 157.2h1.3M394.4 172.5h1.3M419.2 146.1h1.3M426.4 137.4h1.3M391.1 171.9h1.3M414.1 151.7h1.3M425.4 147.2h1.3M409.7 177.4h1.3M431.7 172.4h1.3M382.6 181.2h1.3M406.1 158.1h1.3M401.6 172.9h1.3M402.5 158.7h1.3M434.0 141.8h1.3M419.9 147.9h1.3M395.6 138.0h1.3M397.1 147.8h1.3M430.4 175.8h1.3M415.9 146.7h1.3M389.4 180.0h1.3M414.8 155.1h1.3M408.7 174.8h1.3M412.7 157.0h1.3M413.3 165.1h1.3M399.7 166.9h1.3M409.1 172.0h1.3M403.3 141.9h1.3M423.8 154.0h1.3M433.0 137.4h1.3M422.9 164.4h1.3M431.1 140.6h1.3M418.1 170.0h1.3M410.8 168.0h1.3M386.0 167.2h1.3M387.8 174.4h1.3M400.9 169.5h1.3M418.9 140.7h1.3M418.2 161.2h1.3M423.5 154.0h1.3M410.4 165.2h1.3M411.2 155.8h1.3M417.9 156.8h1.3M413.4 156.5h1.3M426.8 144.0h1.3M430.1 143.4h1.3M438.5 149.6h1.3M398.3 162.4h1.3M397.1 173.6h1.3M405.2 168.0h1.3M402.1 158.5h1.3M391.3 170.9h1.3M390.2 170.5h1.3M419.6 157.7h1.3M398.3 172.5h1.3M396.9 154.1h1.3M413.5 169.3h1.3M411.0 150.7h1.3M424.1 144.8h1.3M407.9 169.9h1.3M421.2 133.9h1.3M415.8 155.2h1.3M422.6 149.2h1.3M404.8 171.2h1.3M425.0 143.2h1.3M388.6 171.0h1.3M389.7 160.5h1.3M417.8 145.9h1.3M410.8 153.9h1.3M429.5 132.7h1.3M397.1 140.6h1.3M390.2 168.5h1.3M425.0 152.9h1.3M395.3 176.8h1.3M414.2 144.9h1.3M378.5 176.9h1.3M424.0 171.2h1.3M408.2 156.7h1.3M398.2 163.9h1.3M400.8 162.9h1.3M422.9 126.5h1.3M416.2 149.1h1.3M397.9 165.4h1.3M405.6 168.9h1.3M402.4 146.7h1.3M416.1 142.2h1.3M399.5 153.0h1.3M393.8 163.5h1.3M401.9 151.4h1.3M423.1 164.2h1.3M420.0 160.6h1.3M415.6 148.0h1.3M425.0 147.6h1.3M393.1 162.5h1.3M373.3 164.1h1.3M402.7 153.1h1.3M420.9 137.9h1.3M433.6 147.0h1.3M417.3 145.8h1.3M409.3 166.8h1.3M409.7 181.4h1.3M407.2 153.1h1.3M398.0 163.7h1.3M416.3 174.6h1.3M394.3 162.0h1.3M414.2 153.1h1.3M401.0 163.4h1.3M404.8 138.9h1.3M407.6 163.0h1.3M392.3 164.7h1.3M399.4 134.9h1.3M412.1 158.7h1.3M417.7 164.0h1.3M431.5 132.2h1.3M427.0 140.6h1.3M381.9 165.6h1.3M414.7 148.9h1.3M382.9 181.3h1.3M412.9 162.2h1.3M393.8 178.9h1.3M404.4 169.1h1.3M421.5 163.9h1.3M384.2 156.4h1.3M410.8 161.1h1.3M406.0 149.9h1.3M416.2 152.1h1.3M406.2 155.1h1.3M398.0 158.3h1.3M419.5 146.9h1.3M394.5 166.4h1.3M410.4 160.3h1.3M385.8 181.2h1.3M414.0 157.1h1.3M419.7 153.9h1.3M392.7 154.1h1.3M393.0 162.5h1.3M388.6 162.9h1.3M422.4 144.0h1.3M424.6 138.6h1.3M393.5 146.6h1.3M386.1 158.0h1.3M424.1 160.4h1.3M405.9 165.4h1.3M419.9 169.0h1.3M427.2 165.7h1.3M409.3 136.9h1.3M383.4 156.2h1.3M419.9 182.2h1.3M394.5 156.2h1.3M427.1 136.6h1.3M397.5 163.3h1.3M402.0 157.5h1.3M397.6 173.1h1.3M410.1 161.5h1.3M427.1 151.5h1.3M412.5 137.5h1.3M402.8 165.9h1.3M398.7 169.9h1.3M393.9 187.9h1.3M406.2 154.5h1.3M412.8 166.2h1.3M426.3 165.6h1.3M402.7 179.9h1.3M427.2 142.6h1.3M412.0 164.1h1.3M397.9 163.9h1.3M419.1 145.4h1.3M423.9 144.2h1.3M404.4 151.0h1.3M418.2 163.6h1.3M409.0 158.4h1.3M398.4 160.1h1.3M403.1 143.3h1.3M411.0 159.7h1.3M420.4 149.4h1.3M407.1 136.6h1.3M389.9 166.5h1.3M405.0 166.8h1.3M424.9 160.0h1.3M376.6 172.4h1.3M430.9 158.2h1.3M409.1 163.1h1.3M402.7 174.0h1.3M410.3 154.0h1.3M408.0 131.8h1.3M395.0 163.4h1.3M403.1 151.8h1.3M405.2 160.2h1.3M388.5 148.6h1.3M418.8 156.8h1.3M404.6 174.9h1.3M421.0 159.5h1.3M400.9 163.0h1.3M408.4 170.0h1.3M402.6 164.0h1.3M385.4 155.5h1.3M387.5 175.7h1.3M383.0 178.3h1.3M403.8 186.7h1.3M425.7 160.4h1.3M412.6 172.2h1.3M412.5 153.8h1.3M400.9 164.9h1.3M404.6 151.5h1.3M422.8 148.3h1.3M433.8 138.1h1.3M414.3 148.8h1.3M410.0 162.0h1.3M411.0 156.5h1.3M387.5 153.1h1.3M409.3 174.9h1.3M393.6 156.3h1.3M392.4 146.5h1.3M416.5 157.6h1.3M387.2 179.5h1.3M401.9 162.4h1.3M396.5 169.0h1.3M405.2 169.7h1.3M421.2 162.0h1.3M400.7 178.8h1.3M393.6 157.3h1.3M419.9 149.4h1.3M417.2 166.6h1.3M379.7 165.5h1.3M418.2 150.8h1.3M418.7 156.0h1.3M390.4 164.1h1.3M395.1 147.6h1.3M426.3 188.1h1.3M414.6 162.2h1.3M399.3 144.3h1.3M420.9 153.7h1.3M409.6 162.9h1.3M388.7 139.7h1.3M413.1 138.4h1.3M435.2 158.6h1.3M392.3 151.7h1.3M415.7 159.0h1.3M397.1 178.6h1.3M383.0 163.2h1.3M422.2 148.3h1.3M421.7 161.3h1.3M405.3 149.1h1.3M411.6 161.8h1.3M383.2 156.8h1.3M424.1 156.2h1.3M418.8 145.0h1.3M406.7 153.0h1.3M409.6 137.6h1.3M380.7 173.3h1.3M422.5 155.9h1.3M376.6 176.8h1.3M403.6 172.3h1.3M397.0 162.4h1.3M401.4 158.9h1.3M409.1 148.9h1.3M412.3 158.8h1.3M406.4 179.4h1.3M434.2 141.2h1.3M417.7 152.0h1.3M415.9 156.6h1.3M414.8 138.7h1.3M430.5 157.1h1.3M425.8 139.7h1.3M388.5 167.4h1.3M395.6 177.3h1.3M434.2 125.7h1.3M411.6 160.3h1.3M401.5 152.9h1.3M406.1 146.8h1.3M427.3 162.2h1.3M387.3 160.0h1.3M411.1 142.9h1.3M430.2 153.4h1.3M420.4 154.9h1.3M402.7 166.3h1.3M402.7 153.7h1.3M428.3 134.4h1.3M416.6 153.1h1.3M410.9 140.7h1.3M423.6 159.4h1.3M423.9 143.6h1.3M400.0 159.3h1.3M393.1 160.4h1.3M431.4 154.3h1.3M426.5 157.1h1.3M424.1 157.4h1.3M433.9 155.7h1.3M431.9 149.6h1.3M426.4 159.1h1.3M408.1 159.8h1.3M418.1 161.1h1.3M378.2 167.1h1.3M414.1 153.2h1.3M410.7 160.1h1.3M427.1 160.5h1.3M422.5 145.9h1.3M393.2 157.8h1.3M417.0 152.6h1.3M394.8 169.5h1.3M410.5 148.2h1.3M424.5 140.0h1.3M379.6 174.7h1.3M437.4 122.4h1.3M413.5 149.9h1.3M408.6 146.6h1.3M403.7 174.9h1.3M414.8 160.3h1.3M400.5 171.8h1.3M381.7 165.5h1.3M401.3 165.5h1.3M414.4 146.0h1.3M411.2 151.1h1.3M414.3 135.4h1.3M399.7 154.7h1.3M414.8 168.4h1.3M395.9 157.5h1.3M399.8 165.3h1.3M401.0 164.6h1.3M397.1 146.9h1.3M413.4 146.5h1.3M383.1 176.9h1.3M403.0 156.1h1.3M414.6 169.2h1.3M431.7 152.9h1.3M425.8 157.2h1.3M413.5 171.2h1.3M429.3 167.5h1.3M412.5 167.0h1.3M411.0 175.3h1.3M386.3 175.7h1.3M399.9 173.4h1.3M398.6 162.7h1.3M422.5 167.5h1.3M406.0 154.3h1.3M398.0 165.6h1.3M416.3 151.5h1.3M433.0 144.8h1.3M415.3 157.6h1.3M396.4 152.7h1.3M406.0 180.1h1.3M402.1 143.6h1.3M407.6 161.5h1.3M417.0 138.2h1.3M406.6 145.0h1.3M425.1 146.4h1.3M425.1 163.5h1.3M395.5 179.7h1.3M428.2 152.3h1.3M424.5 167.0h1.3M407.3 167.3h1.3M393.5 159.3h1.3M392.3 165.9h1.3M437.3 143.3h1.3M404.1 168.2h1.3M407.5 176.6h1.3M417.1 170.9h1.3M408.8 156.3h1.3M396.8 132.3h1.3M416.7 162.1h1.3M388.0 169.1h1.3M396.7 158.6h1.3M421.5 173.0h1.3M398.3 159.6h1.3M402.1 163.7h1.3M402.2 163.2h1.3M407.6 145.8h1.3M392.3 188.8h1.3M383.1 174.5h1.3M386.9 145.9h1.3M414.4 158.7h1.3M401.8 151.2h1.3M374.6 174.4h1.3M413.6 160.7h1.3M414.9 159.9h1.3M427.4 131.0h1.3M419.6 157.5h1.3M432.5 136.0h1.3M406.9 161.9h1.3M418.4 165.7h1.3M426.4 142.0h1.3M401.0 182.6h1.3M416.0 158.6h1.3M417.8 143.4h1.3M423.7 160.7h1.3M415.3 173.0h1.3M413.9 145.9h1.3M415.2 164.6h1.3M427.3 141.9h1.3M396.1 169.8h1.3M404.9 169.4h1.3M411.1 162.1h1.3M409.0 159.8h1.3M382.9 171.4h1.3M403.5 157.8h1.3M393.7 172.9h1.3M377.2 157.6h1.3M432.4 151.1h1.3M391.4 163.7h1.3M380.9 161.3h1.3M431.4 152.9h1.3M414.5 140.0h1.3M419.9 141.7h1.3M417.4 153.3h1.3M376.1 153.9h1.3M418.0 170.0h1.3M397.7 154.2h1.3M411.7 148.0h1.3M409.1 152.0h1.3M397.8 178.6h1.3M394.7 176.0h1.3M406.7 188.6h1.3M413.6 171.0h1.3M381.8 181.6h1.3M402.4 160.8h1.3M402.2 143.3h1.3M401.7 153.2h1.3M429.7 145.2h1.3M397.5 166.4h1.3M375.9 184.3h1.3M418.1 182.0h1.3M425.8 155.1h1.3M412.7 142.1h1.3M411.4 156.0h1.3M422.2 166.2h1.3M419.6 155.4h1.3M423.1 151.2h1.3M411.1 153.7h1.3M401.6 177.5h1.3M418.5 148.9h1.3M396.8 162.1h1.3M405.1 157.9h1.3M393.8 171.7h1.3M410.1 167.0h1.3M395.1 160.5h1.3M413.8 155.7h1.3M426.2 145.5h1.3M409.9 185.9h1.3M403.2 157.4h1.3M423.3 145.3h1.3M439.4 123.8h1.3M423.8 157.8h1.3M399.7 164.5h1.3M393.7 180.9h1.3M420.4 138.2h1.3M434.0 152.1h1.3M395.3 164.7h1.3M410.1 163.6h1.3M401.4 162.1h1.3M429.0 158.5h1.3M391.4 161.6h1.3M419.7 130.0h1.3M419.4 159.3h1.3M415.8 145.0h1.3M429.9 142.7h1.3M412.7 154.6h1.3M412.2 167.5h1.3M429.7 167.8h1.3M413.1 164.3h1.3M407.6 160.2h1.3M418.7 150.9h1.3M424.9 167.7h1.3M392.6 180.7h1.3M406.7 142.8h1.3M423.5 155.4h1.3M412.8 167.5h1.3M410.7 167.4h1.3M406.1 166.6h1.3M421.5 167.1h1.3M401.2 142.3h1.3M424.1 149.7h1.3M386.7 181.8h1.3M437.2 178.6h1.3M406.1 168.3h1.3M416.7 175.2h1.3M424.9 155.4h1.3M418.0 156.8h1.3M419.6 145.5h1.3M393.2 164.3h1.3M429.3 158.6h1.3M417.3 140.2h1.3M417.2 168.2h1.3M413.9 149.1h1.3M426.7 144.9h1.3M406.4 182.9h1.3M424.6 162.7h1.3M402.3 167.4h1.3M406.9 167.2h1.3M419.9 185.1h1.3M410.6 163.1h1.3M381.1 173.9h1.3M387.5 175.4h1.3M393.1 166.2h1.3M426.7 131.6h1.3M392.9 166.4h1.3M426.8 151.3h1.3M398.4 162.0h1.3M380.8 165.5h1.3M398.6 180.5h1.3M395.3 150.7h1.3M419.8 154.1h1.3M411.5 175.7h1.3M423.8 146.3h1.3M412.0 152.1h1.3M403.4 167.0h1.3M427.3 120.8h1.3M414.1 167.8h1.3M414.6 160.5h1.3M384.8 163.7h1.3M438.2 145.4h1.3M412.6 181.7h1.3M392.5 172.7h1.3M404.9 161.2h1.3M430.1 166.8h1.3M372.9 187.9h1.3M398.4 171.0h1.3M405.8 160.7h1.3M399.9 155.8h1.3M403.7 152.7h1.3M417.3 153.4h1.3M394.0 154.7h1.3M404.7 149.5h1.3M403.8 160.3h1.3M403.2 167.6h1.3M365.6 185.7h1.3M415.3 160.4h1.3M420.7 162.0h1.3M385.9 168.0h1.3M418.8 187.0h1.3M398.4 174.4h1.3M398.7 188.8h1.3M440.2 144.8h1.3M408.7 154.8h1.3M410.0 158.8h1.3M394.8 173.6h1.3M413.6 170.8h1.3M424.8 145.7h1.3M400.0 187.5h1.3M410.7 152.9h1.3M401.1 153.9h1.3M397.7 182.8h1.3M430.0 170.4h1.3M398.8 147.3h1.3M424.0 127.4h1.3M386.9 185.2h1.3M403.1 168.3h1.3M394.3 151.6h1.3M427.1 141.7h1.3M402.6 186.8h1.3M425.8 154.4h1.3M371.2 180.6h1.3M416.9 173.4h1.3M416.6 144.9h1.3M404.8 169.8h1.3M414.8 148.2h1.3M405.4 163.3h1.3M404.0 168.8h1.3M396.6 143.4h1.3M393.6 159.5h1.3M410.1 185.0h1.3M412.1 166.2h1.3M435.6 136.3h1.3M407.0 157.4h1.3M422.1 138.3h1.3M411.1 169.9h1.3M407.1 147.0h1.3M413.7 135.7h1.3M406.9 161.2h1.3M377.9 166.2h1.3M400.7 163.9h1.3M405.9 150.1h1.3M408.2 161.2h1.3M418.8 162.3h1.3M423.4 160.6h1.3M406.4 174.0h1.3M415.2 156.7h1.3M403.2 157.1h1.3M403.2 156.2h1.3M393.0 177.1h1.3M403.8 157.1h1.3M392.1 149.8h1.3M390.0 171.6h1.3M419.4 159.9h1.3M408.4 166.7h1.3M412.2 157.6h1.3M407.5 152.4h1.3M417.1 155.2h1.3M400.1 147.6h1.3M422.9 161.6h1.3M401.8 150.7h1.3M409.5 148.9h1.3M411.0 158.2h1.3M394.8 147.5h1.3M390.7 176.6h1.3M389.3 175.8h1.3M434.1 156.8h1.3M385.9 164.2h1.3M398.7 153.5h1.3M402.0 169.7h1.3M411.0 161.7h1.3M406.9 153.2h1.3M412.9 163.9h1.3M416.5 157.5h1.3M380.0 154.6h1.3M403.7 165.0h1.3M404.6 146.7h1.3M409.2 158.5h1.3M430.0 152.6h1.3M422.5 151.1h1.3M411.7 161.3h1.3M402.5 152.9h1.3M417.7 143.7h1.3M433.7 151.1h1.3M410.0 163.3h1.3M415.2 178.2h1.3M401.8 186.9h1.3M429.1 163.9h1.3M427.7 146.2h1.3M404.3 169.0h1.3M379.8 167.3h1.3M406.0 171.0h1.3M405.9 157.5h1.3M418.6 159.4h1.3M412.3 160.8h1.3M420.3 157.8h1.3M396.9 167.6h1.3M416.8 144.7h1.3M396.8 122.2h1.3M406.5 173.8h1.3M402.7 169.7h1.3M391.5 147.5h1.3M412.1 175.5h1.3M410.5 150.3h1.3M404.0 155.3h1.3M423.0 169.7h1.3M418.2 168.9h1.3M416.2 159.6h1.3M413.4 181.6h1.3M420.4 140.2h1.3M415.9 163.2h1.3M381.1 177.2h1.3M394.8 158.3h1.3M409.8 152.4h1.3M396.3 147.2h1.3M389.5 169.4h1.3M392.6 163.8h1.3M405.9 163.7h1.3M420.2 170.4h1.3M416.2 137.8h1.3M409.2 163.8h1.3M400.3 180.3h1.3M418.5 145.9h1.3M404.7 163.6h1.3M397.9 171.8h1.3M421.6 141.7h1.3M411.3 163.2h1.3M422.4 144.2h1.3M391.7 175.1h1.3M393.4 182.1h1.3M413.3 159.5h1.3M399.4 165.7h1.3M405.8 159.8h1.3M366.3 154.4h1.3M428.3 153.0h1.3M425.8 155.4h1.3M410.0 171.9h1.3M396.3 171.8h1.3M407.9 148.6h1.3M391.3 183.5h1.3M410.8 152.2h1.3M419.5 160.6h1.3M418.4 134.9h1.3M430.7 162.2h1.3M422.6 161.0h1.3M394.5 157.8h1.3M397.9 175.2h1.3M393.1 179.5h1.3M370.9 171.9h1.3M415.5 162.9h1.3M396.9 164.6h1.3M420.9 171.5h1.3M400.7 151.2h1.3M406.7 163.9h1.3M402.3 177.0h1.3M395.2 180.4h1.3M433.4 156.9h1.3M423.1 167.5h1.3M412.2 178.2h1.3M403.4 164.0h1.3M408.1 158.9h1.3M412.7 150.5h1.3M428.9 139.2h1.3M407.4 162.5h1.3M402.7 174.4h1.3M397.1 140.6h1.3M418.5 147.1h1.3M415.0 156.5h1.3M412.3 165.6h1.3M397.8 153.9h1.3M413.9 157.1h1.3M406.9 167.4h1.3M396.8 172.5h1.3M402.8 165.8h1.3M426.1 151.0h1.3M400.9 161.0h1.3M424.6 159.5h1.3M411.8 158.2h1.3M412.6 165.2h1.3M416.8 148.0h1.3M410.1 152.1h1.3M403.7 162.3h1.3M422.6 145.7h1.3M389.1 139.9h1.3M422.4 172.1h1.3M414.0 160.3h1.3M404.9 167.6h1.3M424.6 134.8h1.3M396.1 161.6h1.3M390.4 153.5h1.3M405.3 163.0h1.3M375.5 160.2h1.3M409.4 173.5h1.3M390.3 176.6h1.3M430.7 154.6h1.3M423.6 150.7h1.3M422.6 166.0h1.3M405.0 133.2h1.3M422.9 136.1h1.3M396.1 138.6h1.3M395.3 140.8h1.3M414.3 159.9h1.3M421.6 126.2h1.3M406.1 175.9h1.3M384.2 183.6h1.3M415.1 149.6h1.3M390.3 159.6h1.3M377.6 182.2h1.3M409.4 163.7h1.3M415.3 157.7h1.3M426.0 172.3h1.3M426.2 154.9h1.3M391.0 186.2h1.3M431.4 162.4h1.3M407.7 152.2h1.3M414.9 157.4h1.3M396.9 174.7h1.3M377.1 170.1h1.3M418.2 148.5h1.3M410.9 154.0h1.3M403.6 152.2h1.3M382.8 144.7h1.3M416.8 127.5h1.3M408.6 174.4h1.3M425.1 148.7h1.3M393.0 155.8h1.3M408.2 165.8h1.3M416.1 147.2h1.3M418.3 162.9h1.3M395.2 169.8h1.3M407.1 165.1h1.3M404.3 146.7h1.3M417.2 154.6h1.3M396.6 177.4h1.3M426.2 161.0h1.3M402.1 142.5h1.3M423.3 128.5h1.3M427.4 143.8h1.3M409.7 160.7h1.3M438.6 159.4h1.3M411.2 158.9h1.3M407.5 177.8h1.3M414.0 137.7h1.3M400.1 171.8h1.3M369.6 181.0h1.3M426.7 167.6h1.3M420.9 159.0h1.3M403.8 153.8h1.3M409.7 166.1h1.3M418.2 147.7h1.3M390.3 167.3h1.3M426.7 151.0h1.3M430.8 140.5h1.3M403.6 142.0h1.3M380.0 144.2h1.3M428.1 181.3h1.3M399.5 173.5h1.3M420.3 163.4h1.3M431.9 160.1h1.3M406.0 159.1h1.3M420.4 158.3h1.3M394.2 168.2h1.3M394.0 158.8h1.3M416.8 151.5h1.3M405.1 158.3h1.3M395.5 172.7h1.3M413.6 120.4h1.3M398.9 159.4h1.3M392.3 145.7h1.3M417.5 140.6h1.3M391.5 154.7h1.3M404.5 153.8h1.3M423.5 158.9h1.3M398.5 170.6h1.3M377.1 163.2h1.3M396.6 167.1h1.3M414.5 155.0h1.3M394.3 156.4h1.3M426.6 118.2h1.3M424.3 155.2h1.3M415.2 136.8h1.3M406.1 159.8h1.3M401.8 165.7h1.3M399.4 169.9h1.3M384.4 178.6h1.3M418.5 165.8h1.3M401.2 164.3h1.3M431.8 145.3h1.3M430.8 163.0h1.3M388.2 144.3h1.3M435.4 142.8h1.3M434.3 165.0h1.3M431.5 159.9h1.3M429.9 172.2h1.3M420.2 139.4h1.3M433.7 144.7h1.3M428.2 164.8h1.3M395.0 159.4h1.3M413.8 166.0h1.3M416.1 130.4h1.3M433.5 133.1h1.3M415.8 159.4h1.3M430.8 155.5h1.3M418.1 148.5h1.3M397.6 163.8h1.3M399.2 170.6h1.3M422.8 167.4h1.3M392.4 164.0h1.3M402.8 153.3h1.3M420.8 163.2h1.3M400.4 148.9h1.3M414.7 152.0h1.3M412.4 161.5h1.3M418.9 142.3h1.3M430.9 149.9h1.3M403.5 157.5h1.3M397.5 172.3h1.3M422.3 139.6h1.3M403.3 166.2h1.3M415.5 138.1h1.3M422.0 161.4h1.3M391.2 179.7h1.3M408.6 168.4h1.3M390.8 176.1h1.3M392.0 172.5h1.3M408.7 163.4h1.3M417.2 137.7h1.3M421.6 137.2h1.3M421.4 166.5h1.3M420.8 116.6h1.3M419.4 135.4h1.3M381.7 173.4h1.3M396.3 174.5h1.3M415.2 164.9h1.3M397.2 172.0h1.3M413.0 149.0h1.3M418.3 142.7h1.3M396.2 163.2h1.3M393.0 175.9h1.3M416.9 162.0h1.3M411.0 155.0h1.3M389.3 185.6h1.3M400.0 160.6h1.3M423.7 146.0h1.3M421.3 134.8h1.3M441.0 148.9h1.3M392.7 145.9h1.3M430.7 144.7h1.3M413.6 141.3h1.3M434.0 142.8h1.3M408.4 137.1h1.3M417.3 142.7h1.3M413.9 146.4h1.3M419.5 144.9h1.3M422.6 163.8h1.3M425.8 133.5h1.3M392.3 177.4h1.3M427.2 155.9h1.3M399.5 172.7h1.3M402.6 144.3h1.3M384.6 172.8h1.3M420.3 139.4h1.3M414.2 171.2h1.3M405.3 164.3h1.3M413.9 172.1h1.3M366.1 155.6h1.3M431.3 164.9h1.3M412.0 167.9h1.3M421.7 166.8h1.3M399.1 145.0h1.3M399.6 154.7h1.3M412.5 146.9h1.3M394.5 169.9h1.3M407.3 160.9h1.3M412.5 156.0h1.3M419.2 163.2h1.3M411.4 149.4h1.3M407.0 149.5h1.3M408.6 172.0h1.3M403.1 160.3h1.3M395.4 146.3h1.3M377.1 186.2h1.3M403.3 152.7h1.3M399.8 171.0h1.3M406.3 151.8h1.3M428.2 145.4h1.3M408.5 157.5h1.3M407.0 156.9h1.3M424.1 144.0h1.3M391.3 177.8h1.3M431.2 148.1h1.3M415.3 171.9h1.3M413.7 146.2h1.3M399.6 184.2h1.3M421.3 153.3h1.3M418.8 148.6h1.3M400.9 155.5h1.3M380.4 180.0h1.3M424.7 166.1h1.3M401.7 150.9h1.3M393.5 188.3h1.3M407.7 163.5h1.3M400.2 158.8h1.3M435.5 152.6h1.3M431.3 149.2h1.3M401.9 171.4h1.3M409.9 157.4h1.3M411.7 146.5h1.3M414.4 165.5h1.3M415.9 141.5h1.3M385.6 145.2h1.3M418.2 142.5h1.3M422.6 154.4h1.3M397.3 178.0h1.3M410.6 153.7h1.3M406.0 160.5h1.3M396.2 179.5h1.3M409.3 148.8h1.3M417.9 168.9h1.3M427.0 150.5h1.3M397.1 163.5h1.3M432.8 149.3h1.3M420.3 131.8h1.3M393.4 157.3h1.3M413.8 142.3h1.3M428.4 173.5h1.3M413.7 146.6h1.3M415.4 161.3h1.3M392.1 168.0h1.3M402.8 161.5h1.3M395.3 181.9h1.3M390.2 172.9h1.3M410.6 153.8h1.3M393.2 153.6h1.3M405.1 160.4h1.3M438.3 150.5h1.3M410.4 152.4h1.3M432.5 154.8h1.3M401.8 177.2h1.3M398.9 155.1h1.3M426.0 169.8h1.3M403.7 154.6h1.3M411.6 179.0h1.3M426.9 137.1h1.3M428.3 133.4h1.3M401.4 180.9h1.3M399.8 154.0h1.3M392.2 155.6h1.3M419.0 150.7h1.3M407.7 159.0h1.3M399.8 158.0h1.3M394.1 178.4h1.3M392.7 153.6h1.3M414.9 156.3h1.3M397.2 140.7h1.3M435.8 157.0h1.3M397.4 157.4h1.3M399.0 182.6h1.3M404.0 164.2h1.3M401.5 154.4h1.3M432.2 141.0h1.3M432.5 125.1h1.3M414.1 157.8h1.3M416.7 163.4h1.3M397.2 161.7h1.3M422.0 152.2h1.3M401.5 145.6h1.3M402.0 162.2h1.3M435.4 131.3h1.3M432.6 129.0h1.3M383.5 172.2h1.3M376.0 166.7h1.3M389.5 154.8h1.3M428.6 145.6h1.3M404.2 180.4h1.3M419.9 145.8h1.3M421.5 162.7h1.3M398.2 153.6h1.3M417.0 139.1h1.3M415.3 135.1h1.3M410.8 149.0h1.3M405.2 144.6h1.3M410.6 169.0h1.3M390.2 172.5h1.3M402.3 168.2h1.3M411.9 156.1h1.3M406.4 143.0h1.3M392.2 159.5h1.3M402.8 165.0h1.3M411.3 163.7h1.3M424.5 151.4h1.3M403.7 147.5h1.3M417.1 147.2h1.3M403.5 175.1h1.3M398.4 165.7h1.3M401.5 150.1h1.3M430.5 150.1h1.3M432.1 158.3h1.3M416.3 166.6h1.3M388.4 154.9h1.3M416.1 172.4h1.3M404.0 147.5h1.3M417.4 166.8h1.3M426.7 151.0h1.3M406.4 176.0h1.3M406.8 158.1h1.3M434.5 146.2h1.3M388.7 172.0h1.3M416.9 158.1h1.3M418.9 167.6h1.3M409.0 171.5h1.3M396.0 165.8h1.3M410.5 153.6h1.3M397.7 157.3h1.3M409.9 172.2h1.3M400.1 188.4h1.3M402.9 167.8h1.3M412.3 160.5h1.3M411.2 165.8h1.3M405.7 178.8h1.3M416.0 156.1h1.3M416.0 159.3h1.3M406.1 161.2h1.3M399.9 163.3h1.3M409.4 166.1h1.3M425.2 137.3h1.3M399.0 155.1h1.3M427.1 146.2h1.3M412.8 154.4h1.3M417.2 145.7h1.3M443.6 135.0h1.3M405.0 163.3h1.3M395.5 171.5h1.3M418.7 145.6h1.3M417.8 157.5h1.3M401.5 163.9h1.3M391.6 176.0h1.3M430.3 127.3h1.3M427.6 163.2h1.3M413.0 148.7h1.3M403.4 170.6h1.3M399.4 175.2h1.3M416.6 163.7h1.3M393.5 184.7h1.3M410.0 155.9h1.3M415.2 162.1h1.3M407.6 141.1h1.3M402.7 183.2h1.3M397.0 169.2h1.3M424.1 142.8h1.3M415.8 146.7h1.3M387.7 161.5h1.3M409.1 177.1h1.3M409.7 174.2h1.3M421.6 165.2h1.3M407.7 185.0h1.3M431.6 160.8h1.3M397.9 166.9h1.3M398.0 159.8h1.3M408.9 155.5h1.3M383.7 170.8h1.3M425.4 162.4h1.3M397.7 156.4h1.3M394.2 178.0h1.3M388.9 163.4h1.3M395.6 149.7h1.3M430.9 149.4h1.3M417.2 136.2h1.3M414.0 140.8h1.3M398.1 167.4h1.3M406.2 184.9h1.3M402.4 160.9h1.3M414.3 154.5h1.3M420.1 146.9h1.3M414.8 159.7h1.3M423.3 152.2h1.3M421.2 179.0h1.3M417.3 151.7h1.3M417.3 152.3h1.3M397.1 163.9h1.3M405.0 163.2h1.3M394.9 171.5h1.3M367.5 175.7h1.3M395.6 168.2h1.3M388.3 177.1h1.3M412.1 134.7h1.3M412.8 155.6h1.3M421.6 159.5h1.3M437.6 157.4h1.3M428.8 169.5h1.3M386.4 149.4h1.3M368.8 169.2h1.3M407.9 144.9h1.3M423.3 149.3h1.3M423.7 157.3h1.3M404.4 159.3h1.3M396.2 155.5h1.3M416.8 165.5h1.3M403.2 163.0h1.3M407.4 164.7h1.3M389.1 174.7h1.3M420.1 143.5h1.3M409.3 171.0h1.3M382.6 174.5h1.3M415.9 148.0h1.3M410.8 166.5h1.3M401.3 178.4h1.3M412.7 152.4h1.3M400.6 182.7h1.3M410.3 154.2h1.3M383.0 161.7h1.3M405.1 129.3h1.3M399.1 170.2h1.3M412.9 130.5h1.3M406.5 159.2h1.3M401.0 153.3h1.3M413.9 145.8h1.3M396.4 157.6h1.3M412.4 155.5h1.3M414.6 152.6h1.3M418.9 147.8h1.3M409.0 150.2h1.3M396.3 156.2h1.3M433.4 140.0h1.3M430.4 131.2h1.3M402.8 179.5h1.3M405.2 166.8h1.3M412.5 170.3h1.3M406.8 161.8h1.3M425.1 134.7h1.3M420.7 149.0h1.3M421.6 143.9h1.3M428.4 159.9h1.3M406.7 166.3h1.3M428.2 160.9h1.3M406.5 185.3h1.3M409.4 156.6h1.3M383.1 168.0h1.3M410.5 167.3h1.3M404.5 166.8h1.3M419.6 145.9h1.3M413.3 159.6h1.3M406.2 178.0h1.3M372.2 188.6h1.3M397.2 159.6h1.3M426.4 152.7h1.3M405.9 160.2h1.3M403.8 169.4h1.3M406.1 167.3h1.3M390.4 178.8h1.3M404.4 168.6h1.3M399.7 168.6h1.3M404.2 164.3h1.3M413.2 134.8h1.3M414.2 137.0h1.3M421.4 163.3h1.3M372.7 184.0h1.3M396.8 157.2h1.3M406.3 159.2h1.3M408.2 159.1h1.3M436.2 141.5h1.3M421.1 136.7h1.3M399.3 159.4h1.3M393.5 162.1h1.3M410.2 150.0h1.3M421.3 159.8h1.3M430.8 152.3h1.3M419.6 171.1h1.3M424.0 152.4h1.3M387.4 181.8h1.3M418.2 159.8h1.3M428.5 160.2h1.3M393.6 165.3h1.3M404.6 161.1h1.3M414.1 155.3h1.3M437.9 151.0h1.3M407.6 152.4h1.3M423.9 152.4h1.3M414.9 164.2h1.3M430.3 161.6h1.3M424.0 154.7h1.3M425.0 135.0h1.3M408.9 164.4h1.3M402.6 153.2h1.3M412.2 168.1h1.3M418.8 163.9h1.3M413.1 174.1h1.3M412.3 177.6h1.3M413.8 167.2h1.3M429.6 149.2h1.3M413.6 149.1h1.3M419.3 164.0h1.3M423.1 144.2h1.3M416.8 159.4h1.3M437.6 138.0h1.3M424.9 155.7h1.3M416.8 163.6h1.3M413.8 150.8h1.3M434.7 147.4h1.3M411.3 151.0h1.3M401.6 173.2h1.3M413.8 161.3h1.3M429.1 143.7h1.3M393.4 171.1h1.3M411.5 144.5h1.3M423.1 140.6h1.3M389.6 150.9h1.3M393.7 147.2h1.3M418.1 153.2h1.3M383.0 182.1h1.3M424.0 150.8h1.3M400.0 163.0h1.3M400.6 186.7h1.3M389.6 167.4h1.3M424.9 142.8h1.3M400.1 152.3h1.3M384.5 159.0h1.3M414.6 165.4h1.3M409.6 159.9h1.3M403.8 157.6h1.3M424.3 150.3h1.3M420.8 164.3h1.3M438.5 152.7h1.3M394.7 167.3h1.3M391.9 175.2h1.3M431.8 162.0h1.3M402.5 176.7h1.3M420.9 151.7h1.3M404.8 169.6h1.3M403.2 170.8h1.3M397.0 161.5h1.3M427.2 153.3h1.3M421.9 147.8h1.3M424.0 148.6h1.3M425.5 164.3h1.3M421.3 170.0h1.3M404.6 160.0h1.3M426.2 141.7h1.3M414.8 158.6h1.3M382.7 144.4h1.3M416.0 148.4h1.3M406.9 157.6h1.3M394.2 185.7h1.3M400.4 180.6h1.3M409.2 154.5h1.3M423.1 155.8h1.3M429.8 143.1h1.3M395.0 154.2h1.3M412.8 136.4h1.3M412.6 178.0h1.3M419.7 143.8h1.3M385.4 187.1h1.3M408.5 167.5h1.3M400.1 185.0h1.3M423.8 147.1h1.3M389.1 155.6h1.3M422.4 164.7h1.3M403.9 153.0h1.3M421.0 160.6h1.3M428.9 142.9h1.3M419.5 130.9h1.3M424.1 161.3h1.3M416.4 155.4h1.3M380.7 166.4h1.3M401.5 168.8h1.3M390.5 175.7h1.3M390.0 181.9h1.3M422.3 163.0h1.3M409.0 156.2h1.3M395.7 154.8h1.3M429.2 147.5h1.3M432.2 144.9h1.3M388.8 169.8h1.3M430.5 161.1h1.3M415.9 172.5h1.3M410.6 176.8h1.3M417.3 158.8h1.3M423.6 154.2h1.3M398.4 180.9h1.3M421.8 150.2h1.3M416.8 148.1h1.3M406.0 156.8h1.3M402.4 161.7h1.3M409.9 153.0h1.3M388.4 155.4h1.3M389.1 154.2h1.3M410.5 165.5h1.3M411.6 128.7h1.3M391.2 181.8h1.3M417.3 170.2h1.3M415.5 142.1h1.3M418.1 165.6h1.3M388.7 152.1h1.3M387.6 178.2h1.3M402.6 156.3h1.3M398.9 182.8h1.3M416.6 138.3h1.3M406.7 167.1h1.3M399.1 143.8h1.3M426.3 155.2h1.3M385.5 187.8h1.3M412.4 170.2h1.3M405.0 163.0h1.3M422.7 140.4h1.3M423.6 136.1h1.3M414.6 156.1h1.3M407.8 155.7h1.3M426.5 162.4h1.3M408.2 173.2h1.3M420.1 154.2h1.3M406.9 179.0h1.3M431.3 141.4h1.3M436.0 154.2h1.3M433.6 154.0h1.3M415.8 166.0h1.3M407.1 167.9h1.3M432.8 164.3h1.3M408.5 151.9h1.3M420.4 159.2h1.3M408.9 162.1h1.3M401.8 139.9h1.3M404.1 162.1h1.3M429.9 164.6h1.3M390.6 151.8h1.3M410.4 160.1h1.3M405.3 140.6h1.3M419.9 156.0h1.3M414.1 165.4h1.3M403.9 175.2h1.3M414.7 159.5h1.3M409.9 159.8h1.3M408.4 178.0h1.3M410.3 159.4h1.3M418.9 155.8h1.3M407.7 168.1h1.3M412.1 163.2h1.3M398.6 179.0h1.3M395.3 151.8h1.3M409.6 159.9h1.3M412.7 158.0h1.3M404.4 175.8h1.3M421.0 143.3h1.3M397.2 170.5h1.3M411.1 151.9h1.3M413.6 157.4h1.3M423.4 160.8h1.3M421.3 163.0h1.3M395.5 160.9h1.3M404.3 159.0h1.3M400.8 159.2h1.3M404.6 162.5h1.3M408.8 157.1h1.3M409.0 156.1h1.3M406.7 147.3h1.3M416.2 150.5h1.3M402.2 158.1h1.3M383.4 166.0h1.3M397.1 155.7h1.3M401.7 146.2h1.3M417.1 157.4h1.3M403.2 148.5h1.3M411.6 147.7h1.3M400.1 170.4h1.3M410.1 147.4h1.3M399.1 169.9h1.3M412.4 138.3h1.3M413.6 163.8h1.3M397.9 169.3h1.3M424.6 156.9h1.3M397.4 167.5h1.3M408.3 161.1h1.3M397.1 165.7h1.3M403.5 161.8h1.3M390.7 179.8h1.3M420.5 147.1h1.3M380.3 158.1h1.3M424.1 169.0h1.3M422.2 138.0h1.3M388.1 166.4h1.3M423.2 144.6h1.3M415.2 141.7h1.3M425.5 159.1h1.3M412.3 152.1h1.3M406.9 144.6h1.3M391.0 164.3h1.3M419.0 154.1h1.3M419.4 138.2h1.3M424.7 151.8h1.3M379.8 173.0h1.3M400.1 161.8h1.3M413.8 164.6h1.3M408.8 160.8h1.3M411.6 163.3h1.3M408.2 158.7h1.3M390.9 173.7h1.3M401.7 158.7h1.3M395.4 149.8h1.3M396.9 157.5h1.3M426.8 154.3h1.3M400.5 172.7h1.3M439.5 127.9h1.3M404.5 150.6h1.3M389.4 164.9h1.3M394.7 167.3h1.3M423.4 133.3h1.3M425.8 168.9h1.3M392.1 150.7h1.3M407.0 161.3h1.3M431.4 163.0h1.3M421.0 170.7h1.3M408.4 165.0h1.3M420.6 159.8h1.3M414.9 159.1h1.3M416.9 183.0h1.3M404.9 182.6h1.3M411.9 152.2h1.3M417.8 152.8h1.3M395.6 172.6h1.3M406.1 163.0h1.3M421.8 166.5h1.3M402.5 168.8h1.3M419.0 158.3h1.3M382.9 185.9h1.3M418.7 175.2h1.3M378.0 166.0h1.3M406.8 149.9h1.3M407.0 171.4h1.3M408.1 159.4h1.3M391.0 156.3h1.3M419.8 162.3h1.3M413.2 187.0h1.3M403.8 163.1h1.3M431.5 167.0h1.3M390.3 159.8h1.3M427.6 121.4h1.3M388.3 163.3h1.3M400.2 155.0h1.3M373.6 167.6h1.3M407.8 168.1h1.3M405.4 157.3h1.3M413.8 145.7h1.3M417.6 165.1h1.3M396.4 156.2h1.3M382.0 176.1h1.3M401.9 166.6h1.3M383.1 185.5h1.3M414.0 146.1h1.3M415.7 176.5h1.3M420.2 152.8h1.3M420.8 181.4h1.3M398.8 154.6h1.3M425.9 151.7h1.3M406.8 159.6h1.3M395.6 170.9h1.3M407.0 174.8h1.3M406.7 132.1h1.3M415.2 168.0h1.3M400.8 180.7h1.3M404.3 165.9h1.3M426.9 147.9h1.3M397.3 148.1h1.3M420.1 158.4h1.3M413.2 168.8h1.3M415.7 158.1h1.3M426.8 159.9h1.3M406.2 164.5h1.3M436.8 145.5h1.3M416.8 148.1h1.3M401.6 151.5h1.3M429.5 143.5h1.3M402.3 157.2h1.3M421.0 146.6h1.3M415.1 147.3h1.3M423.1 154.5h1.3M389.7 175.0h1.3M390.1 169.9h1.3M404.2 165.2h1.3M419.4 167.0h1.3M389.6 180.5h1.3M394.8 163.9h1.3M410.8 148.4h1.3M404.0 176.2h1.3M415.2 147.2h1.3M377.6 163.4h1.3M402.6 156.7h1.3M430.1 146.2h1.3M409.5 133.7h1.3M418.4 163.4h1.3M423.7 152.7h1.3M395.3 168.4h1.3M414.6 132.8h1.3M405.0 163.7h1.3M402.8 144.3h1.3M422.9 139.2h1.3M403.6 149.0h1.3M395.5 180.6h1.3M419.5 159.1h1.3M410.8 144.8h1.3M408.1 180.4h1.3M413.9 163.4h1.3M413.7 168.9h1.3M417.0 139.8h1.3M423.0 171.3h1.3M404.3 145.6h1.3M397.2 158.8h1.3M404.0 176.8h1.3M392.3 163.0h1.3M412.0 176.1h1.3M398.5 181.9h1.3M417.9 157.8h1.3M411.7 152.0h1.3M415.7 142.8h1.3M412.2 154.6h1.3M411.4 145.9h1.3M412.9 178.3h1.3M410.3 166.6h1.3M399.2 153.6h1.3M403.3 160.2h1.3M425.1 139.1h1.3M403.5 134.9h1.3M424.3 146.6h1.3M418.1 143.0h1.3M405.9 142.2h1.3M433.9 146.0h1.3M431.4 146.9h1.3M411.1 168.8h1.3M383.4 181.2h1.3M427.0 164.0h1.3M417.7 147.5h1.3M432.5 153.4h1.3M438.4 145.8h1.3M391.7 170.4h1.3M416.4 147.1h1.3M395.7 174.2h1.3M391.7 154.5h1.3M426.0 139.1h1.3M389.9 161.3h1.3M397.1 154.8h1.3M409.2 143.6h1.3M395.2 128.5h1.3M419.4 157.5h1.3M398.5 169.4h1.3M406.3 162.5h1.3M410.5 144.4h1.3M411.7 171.8h1.3M394.2 170.3h1.3M405.0 171.2h1.3M403.7 158.2h1.3M420.1 140.5h1.3M402.4 163.6h1.3M406.7 182.6h1.3M415.6 144.0h1.3M421.2 140.1h1.3M418.6 149.7h1.3M401.8 169.0h1.3M410.6 152.5h1.3M398.8 176.5h1.3M414.5 148.3h1.3M411.3 147.8h1.3M396.3 153.3h1.3M425.7 161.4h1.3M411.0 172.2h1.3M409.3 159.4h1.3M407.4 160.7h1.3M389.4 176.7h1.3M410.2 139.9h1.3M410.4 150.1h1.3M423.1 159.7h1.3M407.6 176.8h1.3M407.4 167.0h1.3M429.8 151.0h1.3M427.5 160.9h1.3M418.8 151.3h1.3M416.0 158.8h1.3M403.2 164.3h1.3M416.6 169.0h1.3M371.2 177.1h1.3M408.1 161.7h1.3M409.9 155.0h1.3M419.8 169.1h1.3M413.7 167.9h1.3M405.0 152.5h1.3M409.1 158.5h1.3M398.9 172.6h1.3M430.7 157.6h1.3M399.2 182.1h1.3M411.7 156.5h1.3M416.7 188.8h1.3M393.0 172.5h1.3M409.9 147.4h1.3M411.7 167.3h1.3M411.4 164.7h1.3M424.6 143.8h1.3M421.4 152.1h1.3M387.8 185.3h1.3M413.6 159.7h1.3M426.1 132.1h1.3M400.4 175.2h1.3M416.9 133.0h1.3M424.1 152.8h1.3M401.6 164.1h1.3M414.2 148.8h1.3M421.6 141.0h1.3M389.8 168.2h1.3M402.4 155.6h1.3M390.1 165.2h1.3M422.2 137.1h1.3M419.1 162.1h1.3M393.1 163.3h1.3M387.9 182.7h1.3M412.4 161.8h1.3M389.7 175.4h1.3M395.4 149.3h1.3M419.7 129.2h1.3M413.1 166.9h1.3M411.3 174.9h1.3M414.0 146.1h1.3M425.1 163.4h1.3M401.8 153.0h1.3M407.8 168.2h1.3M416.4 159.5h1.3M428.7 136.7h1.3M428.9 169.7h1.3M420.6 156.3h1.3M406.7 160.7h1.3M408.3 169.2h1.3M425.8 140.8h1.3M413.8 179.9h1.3M400.4 162.4h1.3M428.0 143.0h1.3M398.0 170.7h1.3M403.6 160.8h1.3M402.7 164.3h1.3M410.3 150.7h1.3M411.1 132.3h1.3M406.6 148.6h1.3M371.2 170.1h1.3M403.5 173.0h1.3M408.3 166.5h1.3M413.7 147.8h1.3M404.8 153.4h1.3M431.3 139.5h1.3M399.0 167.8h1.3M404.2 170.0h1.3M412.5 149.0h1.3M413.2 161.3h1.3M418.4 161.9h1.3M427.8 139.4h1.3M403.0 177.0h1.3M407.2 159.8h1.3M401.4 167.4h1.3M417.3 167.5h1.3M406.0 159.1h1.3M403.6 172.0h1.3M435.5 151.8h1.3M382.9 168.0h1.3M412.0 154.1h1.3M387.4 178.4h1.3M411.9 167.5h1.3M407.0 140.5h1.3M405.6 145.8h1.3M392.0 158.8h1.3M422.8 140.4h1.3M397.8 179.7h1.3M412.8 139.1h1.3M392.6 152.2h1.3M419.3 150.3h1.3M394.6 151.1h1.3M425.0 149.1h1.3M408.1 160.9h1.3M387.0 178.3h1.3M431.5 131.5h1.3M403.8 161.1h1.3M428.2 142.1h1.3M396.6 164.9h1.3M391.3 182.7h1.3M409.2 155.8h1.3M373.1 156.5h1.3M389.5 163.2h1.3M416.9 180.8h1.3M425.8 139.2h1.3M416.0 143.6h1.3M423.8 149.4h1.3M411.1 162.5h1.3M418.0 146.3h1.3M409.8 152.3h1.3M423.7 151.0h1.3M426.2 137.1h1.3M409.9 144.1h1.3M406.2 171.6h1.3M408.1 154.8h1.3M405.7 178.3h1.3M412.9 179.7h1.3M430.3 169.5h1.3M403.9 160.6h1.3M408.0 150.1h1.3M401.8 152.7h1.3M420.7 144.6h1.3M412.8 142.3h1.3M432.3 167.3h1.3M397.4 154.5h1.3M412.6 176.9h1.3M430.2 158.6h1.3M406.3 149.6h1.3M409.7 174.8h1.3M421.1 144.3h1.3M398.3 168.7h1.3M424.2 134.8h1.3M398.2 164.6h1.3M386.5 177.0h1.3M396.5 155.7h1.3M405.5 169.8h1.3M430.3 163.3h1.3M397.6 156.0h1.3M426.7 152.5h1.3M403.6 155.3h1.3M418.6 147.2h1.3M411.7 149.0h1.3M414.0 156.1h1.3M416.7 157.8h1.3M390.9 183.6h1.3M404.5 174.8h1.3M407.4 159.4h1.3M372.9 179.8h1.3M396.1 159.6h1.3M389.4 171.6h1.3M410.6 154.2h1.3M411.9 159.6h1.3M411.2 155.1h1.3M415.0 166.9h1.3M416.2 155.8h1.3M417.9 129.4h1.3M380.3 182.1h1.3M413.3 165.4h1.3M405.5 143.0h1.3M399.8 188.2h1.3M424.6 153.4h1.3M409.5 158.2h1.3M393.1 169.0h1.3M407.0 186.8h1.3M401.9 161.8h1.3M407.1 162.5h1.3M407.6 173.9h1.3M429.2 132.3h1.3M403.4 150.6h1.3M399.9 156.4h1.3M414.2 147.8h1.3M385.7 162.5h1.3M405.0 167.6h1.3M429.7 152.3h1.3M400.7 168.4h1.3M399.1 145.5h1.3M394.9 163.3h1.3M387.2 174.6h1.3M422.8 130.6h1.3M409.8 151.5h1.3M411.0 174.9h1.3M401.7 169.0h1.3M414.6 150.5h1.3M415.4 164.8h1.3M408.6 140.4h1.3M405.5 157.1h1.3M415.8 145.3h1.3M417.0 160.8h1.3M412.5 165.6h1.3M396.5 170.2h1.3M408.9 161.9h1.3M409.9 160.4h1.3M404.6 168.8h1.3M383.8 157.3h1.3M421.0 143.8h1.3M424.9 161.5h1.3M408.2 153.6h1.3M408.1 160.7h1.3M430.8 139.0h1.3M408.8 165.9h1.3M394.8 171.5h1.3M384.1 183.5h1.3M401.7 170.9h1.3M428.1 161.0h1.3M414.3 160.8h1.3M394.6 150.5h1.3M403.3 154.5h1.3M410.5 173.6h1.3M413.5 134.6h1.3M407.3 161.7h1.3M422.4 157.9h1.3M414.6 146.8h1.3M378.3 183.2h1.3M408.5 171.6h1.3M430.6 139.0h1.3M429.6 138.6h1.3M407.4 147.6h1.3M423.9 147.0h1.3M374.5 177.9h1.3M424.8 147.7h1.3M396.5 158.0h1.3M395.1 168.4h1.3M427.7 151.4h1.3M406.3 157.4h1.3M415.4 171.0h1.3M422.1 140.4h1.3M397.9 184.1h1.3M415.0 154.2h1.3M406.3 152.8h1.3M435.5 134.6h1.3M406.5 181.4h1.3M363.1 172.9h1.3M408.0 140.9h1.3M416.2 166.7h1.3M408.1 149.1h1.3M417.5 183.4h1.3M411.3 156.1h1.3M424.6 150.4h1.3M400.4 171.3h1.3M412.0 161.7h1.3M414.0 148.4h1.3M411.8 146.7h1.3M427.8 166.0h1.3M421.3 158.2h1.3M418.2 159.6h1.3M395.1 173.2h1.3M409.1 153.7h1.3M397.8 159.7h1.3M432.4 148.8h1.3M388.5 150.6h1.3M409.9 148.3h1.3M413.6 157.3h1.3M381.4 146.0h1.3M404.2 138.3h1.3M406.2 161.1h1.3M409.0 170.3h1.3M413.9 146.2h1.3M408.7 156.1h1.3M391.2 167.3h1.3M422.0 160.3h1.3M426.7 151.3h1.3M426.6 131.1h1.3M415.7 148.8h1.3M424.1 127.2h1.3M432.7 146.6h1.3M417.6 150.6h1.3M390.0 156.0h1.3M422.6 173.0h1.3M408.2 164.1h1.3M414.9 173.4h1.3M423.1 163.8h1.3M414.7 167.7h1.3M397.7 157.2h1.3M410.8 136.2h1.3M385.0 162.8h1.3M410.9 159.4h1.3M376.4 171.0h1.3M399.9 165.8h1.3M419.4 144.7h1.3M428.0 151.2h1.3M409.1 157.1h1.3M441.5 146.5h1.3M434.7 151.6h1.3M407.5 160.8h1.3M400.4 174.4h1.3M393.0 164.6h1.3M398.2 170.9h1.3M415.8 155.0h1.3M396.5 171.2h1.3M399.2 169.1h1.3M393.9 155.8h1.3M425.4 172.8h1.3M428.8 163.9h1.3M402.9 148.9h1.3M414.7 154.8h1.3M410.4 143.7h1.3M426.1 153.0h1.3M407.3 164.6h1.3M416.3 140.3h1.3M397.6 170.2h1.3M398.2 138.3h1.3M386.0 167.8h1.3M417.5 155.3h1.3M425.7 169.1h1.3M373.8 179.4h1.3M414.8 145.6h1.3M403.2 171.0h1.3M408.2 167.9h1.3M400.0 171.5h1.3M415.1 149.0h1.3M384.3 175.6h1.3M402.4 163.0h1.3M436.6 129.2h1.3M412.5 171.2h1.3M409.7 153.6h1.3M406.3 141.6h1.3M380.9 158.6h1.3M417.9 140.7h1.3M420.6 169.4h1.3M420.2 161.9h1.3M406.8 149.3h1.3M376.8 178.3h1.3M417.3 180.5h1.3M414.5 148.0h1.3M422.9 146.2h1.3M428.0 162.9h1.3M411.2 152.4h1.3M422.4 141.1h1.3M380.1 170.2h1.3M409.1 170.4h1.3M400.5 154.0h1.3M409.3 167.2h1.3M409.2 170.9h1.3M401.3 161.4h1.3M421.4 128.0h1.3M426.3 165.1h1.3M393.5 171.5h1.3M435.7 159.3h1.3M396.2 188.8h1.3M430.5 150.6h1.3M408.3 163.9h1.3M421.4 165.4h1.3M402.3 151.9h1.3M402.7 162.9h1.3M413.8 140.8h1.3M416.5 163.3h1.3M419.7 152.5h1.3M410.9 177.6h1.3M388.8 154.8h1.3M407.6 137.3h1.3M378.8 167.7h1.3M410.2 182.3h1.3M388.4 172.7h1.3M410.8 140.4h1.3M407.4 179.1h1.3M393.1 154.0h1.3M412.5 147.9h1.3M415.8 151.6h1.3M414.3 168.8h1.3M394.4 169.7h1.3M417.9 160.6h1.3M386.6 167.0h1.3M394.3 168.8h1.3M405.8 139.5h1.3M426.1 156.9h1.3M401.6 174.0h1.3M401.3 170.9h1.3M416.4 139.0h1.3M430.6 136.1h1.3M428.6 133.8h1.3M405.8 176.1h1.3M430.5 130.5h1.3M420.4 172.5h1.3M424.2 169.7h1.3M412.5 155.9h1.3M419.1 153.2h1.3M400.4 157.1h1.3M397.4 170.5h1.3M416.5 155.3h1.3M404.1 153.1h1.3M420.0 152.6h1.3M400.3 146.7h1.3M399.4 150.2h1.3M431.3 151.7h1.3M411.5 164.6h1.3M406.8 136.0h1.3M423.9 138.0h1.3M397.7 164.7h1.3M424.9 150.8h1.3M430.3 156.2h1.3M423.4 153.1h1.3M408.9 157.9h1.3M409.2 159.0h1.3M428.9 162.9h1.3M422.9 151.6h1.3M419.9 174.2h1.3M418.0 173.4h1.3M436.5 156.7h1.3M392.3 165.9h1.3M418.2 144.5h1.3M424.7 151.6h1.3M414.6 152.7h1.3M418.8 169.3h1.3M429.2 142.8h1.3M404.0 168.0h1.3M409.4 156.8h1.3M412.8 158.4h1.3M398.9 155.9h1.3M412.4 163.1h1.3M410.0 155.1h1.3M413.8 159.1h1.3M428.1 172.1h1.3M402.5 141.9h1.3M405.0 157.5h1.3M396.2 172.2h1.3M397.6 162.2h1.3M404.9 171.5h1.3M401.1 151.4h1.3M407.1 179.1h1.3M400.1 168.5h1.3M382.3 155.0h1.3M425.2 151.5h1.3M394.1 171.0h1.3M394.2 177.6h1.3M416.5 152.1h1.3M415.6 156.8h1.3M390.3 170.6h1.3M411.2 161.0h1.3M435.2 159.3h1.3M392.6 174.3h1.3M411.5 158.4h1.3M407.1 152.8h1.3M412.5 176.4h1.3M406.7 172.4h1.3M407.1 180.8h1.3M414.5 143.3h1.3M422.0 144.2h1.3M391.8 177.3h1.3M430.4 126.0h1.3M394.1 165.0h1.3M388.1 162.1h1.3M427.5 144.5h1.3M398.7 184.8h1.3M417.3 156.1h1.3M397.8 162.1h1.3M398.7 170.8h1.3M426.6 146.6h1.3M411.8 158.0h1.3M405.1 167.9h1.3M416.2 146.4h1.3M376.3 173.5h1.3M416.1 141.3h1.3M406.9 158.4h1.3M430.8 130.8h1.3M415.4 149.7h1.3M424.4 159.9h1.3M426.4 146.9h1.3M392.7 180.7h1.3M436.2 124.7h1.3M417.5 155.6h1.3M432.3 141.9h1.3M420.0 153.8h1.3M384.0 162.6h1.3M432.7 150.2h1.3M393.2 166.2h1.3M396.2 150.2h1.3M414.4 154.9h1.3M439.4 146.9h1.3M423.6 159.4h1.3M420.5 141.6h1.3M422.6 135.2h1.3M383.0 159.7h1.3M424.8 142.5h1.3M401.2 167.0h1.3M413.2 158.7h1.3M392.9 177.3h1.3M429.0 152.6h1.3M402.4 171.4h1.3M408.3 158.8h1.3M415.2 143.1h1.3M410.7 157.7h1.3M432.6 155.5h1.3M396.7 172.8h1.3M404.2 155.4h1.3M392.7 153.1h1.3M407.2 174.7h1.3M398.0 163.1h1.3M397.4 182.9h1.3M431.0 146.6h1.3M374.4 158.3h1.3M400.9 171.6h1.3M414.8 171.2h1.3M423.4 157.3h1.3M395.5 166.1h1.3M419.5 146.4h1.3M412.2 159.5h1.3M421.8 155.9h1.3M423.9 165.0h1.3M421.5 142.1h1.3M419.9 156.5h1.3M411.4 156.4h1.3M418.6 148.3h1.3M432.7 138.7h1.3M357.8 143.7h1.3M399.1 149.2h1.3M413.9 145.0h1.3M394.7 154.6h1.3M416.6 161.7h1.3M369.9 169.5h1.3M405.2 162.7h1.3M411.3 139.7h1.3M425.0 128.8h1.3M399.2 150.4h1.3M439.2 153.4h1.3M391.2 169.1h1.3M396.3 185.8h1.3M408.7 150.8h1.3M418.4 142.6h1.3M430.5 146.4h1.3M414.6 150.8h1.3M400.7 163.1h1.3M425.9 157.8h1.3M419.3 161.9h1.3M426.5 148.5h1.3M415.1 167.9h1.3M400.9 160.6h1.3M426.0 143.0h1.3M409.7 155.6h1.3M415.8 146.1h1.3M386.5 177.7h1.3M434.5 177.6h1.3M436.6 154.2h1.3M409.5 161.7h1.3M419.3 147.3h1.3M407.7 176.1h1.3M396.0 153.0h1.3M410.0 154.5h1.3M412.7 169.0h1.3M412.8 177.2h1.3M394.5 161.0h1.3M410.1 149.0h1.3M415.1 173.0h1.3M424.7 158.5h1.3M407.8 159.8h1.3M438.6 149.5h1.3M399.6 156.5h1.3M400.6 163.3h1.3M405.7 150.2h1.3M421.7 163.2h1.3M394.6 144.4h1.3M419.0 133.5h1.3M421.1 156.5h1.3M386.3 159.6h1.3M417.6 164.7h1.3M399.0 170.4h1.3M425.2 160.8h1.3M393.8 156.1h1.3M423.7 158.0h1.3M389.4 170.9h1.3M409.1 156.7h1.3M416.7 155.7h1.3M393.0 157.5h1.3M426.4 141.5h1.3M391.4 163.5h1.3M412.8 141.8h1.3M420.8 153.0h1.3M416.6 157.9h1.3M394.7 153.7h1.3M392.7 181.5h1.3M412.3 174.1h1.3M412.7 166.8h1.3M436.2 154.0h1.3M387.5 158.6h1.3M401.7 171.6h1.3M408.9 153.2h1.3M406.9 172.9h1.3M412.3 166.4h1.3M394.4 163.3h1.3M402.3 156.0h1.3M421.3 164.5h1.3M412.5 176.7h1.3M432.6 131.4h1.3M407.5 169.5h1.3M424.5 141.5h1.3M394.1 164.2h1.3M412.7 168.2h1.3M416.7 158.1h1.3M413.8 139.2h1.3M385.4 153.5h1.3M390.2 173.4h1.3M396.1 165.6h1.3M419.4 164.6h1.3M406.5 172.8h1.3M405.3 172.7h1.3M401.6 160.7h1.3M398.5 157.2h1.3M424.2 135.2h1.3M397.5 139.7h1.3M407.6 169.8h1.3M412.2 144.3h1.3M406.4 165.2h1.3M427.3 150.3h1.3M434.9 161.6h1.3M422.9 164.5h1.3M409.1 177.6h1.3M437.6 134.4h1.3M426.3 156.5h1.3M390.0 165.7h1.3M418.4 153.7h1.3M410.5 154.0h1.3M399.5 165.6h1.3M400.9 148.8h1.3M435.4 148.5h1.3M384.8 149.3h1.3M402.2 161.6h1.3M413.4 167.0h1.3M400.2 167.5h1.3M396.1 147.4h1.3M389.6 182.4h1.3M426.9 141.0h1.3M419.5 155.6h1.3M429.8 148.2h1.3M428.3 155.2h1.3M413.8 167.2h1.3M409.7 160.3h1.3M428.0 142.0h1.3M397.5 160.1h1.3M398.3 188.6h1.3M421.9 139.6h1.3M410.2 174.5h1.3M407.4 160.5h1.3M411.8 164.9h1.3M411.2 144.6h1.3M401.1 182.1h1.3M423.9 170.6h1.3M413.8 152.3h1.3M416.2 154.0h1.3M403.5 150.6h1.3M401.9 164.5h1.3M381.4 158.8h1.3M409.2 164.9h1.3M405.1 171.2h1.3M398.6 175.6h1.3M403.9 148.9h1.3M404.1 155.6h1.3M403.7 157.4h1.3M414.6 176.3h1.3M415.1 159.0h1.3M408.4 163.5h1.3M418.3 162.4h1.3M398.6 168.6h1.3M401.6 158.0h1.3M397.6 164.7h1.3M410.8 156.0h1.3M400.0 167.0h1.3M408.4 135.6h1.3M388.2 169.9h1.3M426.3 151.3h1.3M398.8 164.8h1.3M424.2 156.6h1.3M420.7 146.0h1.3M419.9 149.1h1.3M409.1 167.6h1.3M416.2 143.4h1.3M409.1 175.1h1.3M411.1 165.1h1.3M403.8 182.0h1.3M397.6 163.5h1.3M404.2 166.0h1.3M428.1 141.6h1.3M414.9 155.1h1.3M413.7 152.9h1.3M410.7 151.1h1.3M416.8 148.9h1.3M414.4 149.1h1.3M429.8 158.5h1.3M415.3 149.4h1.3M394.0 176.5h1.3M421.4 147.1h1.3M431.6 153.3h1.3M411.2 150.5h1.3M433.9 150.0h1.3M421.0 151.6h1.3M425.5 139.0h1.3M411.2 160.3h1.3M434.8 161.5h1.3M429.0 144.4h1.3M410.2 161.1h1.3M408.9 129.1h1.3M414.3 169.6h1.3M404.7 171.5h1.3M424.9 137.5h1.3M419.1 143.3h1.3M403.7 159.7h1.3M434.2 150.8h1.3M414.5 159.9h1.3M426.8 164.9h1.3M407.7 148.5h1.3M404.5 170.9h1.3M394.9 153.5h1.3M410.8 146.7h1.3M428.6 168.2h1.3M392.7 154.5h1.3M428.9 159.8h1.3M421.3 152.7h1.3M400.7 174.0h1.3M425.3 147.4h1.3M413.9 144.4h1.3M427.0 173.5h1.3M425.8 122.5h1.3M411.2 148.7h1.3M396.8 161.9h1.3M409.4 162.2h1.3M400.3 161.5h1.3M393.7 167.0h1.3M406.3 152.5h1.3M403.3 148.3h1.3M413.0 145.3h1.3M395.3 156.2h1.3M391.7 176.2h1.3M410.5 161.3h1.3M394.3 157.4h1.3M400.7 178.5h1.3M403.8 152.6h1.3M399.7 174.2h1.3M412.8 151.9h1.3M417.9 162.9h1.3M403.0 163.5h1.3M410.7 147.0h1.3M390.2 185.7h1.3M426.6 131.6h1.3M416.1 145.0h1.3M406.9 162.8h1.3M425.5 143.6h1.3M415.1 141.1h1.3M394.2 154.5h1.3M402.0 160.7h1.3M419.1 168.7h1.3M411.8 156.0h1.3M418.4 139.6h1.3M422.6 164.1h1.3M371.8 158.8h1.3M406.5 150.9h1.3M368.8 179.0h1.3M403.4 167.7h1.3M373.6 154.8h1.3M406.9 153.1h1.3M407.7 140.8h1.3M395.8 155.7h1.3M416.5 149.9h1.3M414.2 158.2h1.3M410.3 150.6h1.3M408.2 174.0h1.3M420.7 163.7h1.3M404.3 152.9h1.3M422.9 162.7h1.3M396.0 159.3h1.3M411.9 169.0h1.3M390.9 168.9h1.3M413.7 151.0h1.3M383.3 187.1h1.3M416.8 147.9h1.3M417.9 155.2h1.3M409.4 160.1h1.3M393.0 161.0h1.3M418.8 171.9h1.3M405.0 149.3h1.3M382.3 143.8h1.3M420.9 169.0h1.3M404.2 175.8h1.3M422.4 136.7h1.3M404.4 176.1h1.3M420.3 148.8h1.3M409.6 156.9h1.3M411.7 139.3h1.3M420.3 154.1h1.3M396.0 170.6h1.3M414.5 171.5h1.3M405.3 168.0h1.3M374.6 170.9h1.3M392.8 167.8h1.3M409.0 151.2h1.3M392.9 149.7h1.3M397.5 165.8h1.3M391.6 173.7h1.3M381.3 175.6h1.3M436.6 155.7h1.3M411.2 177.4h1.3M406.7 171.9h1.3M416.1 154.3h1.3M408.0 152.1h1.3M408.4 161.5h1.3M397.4 160.7h1.3M409.7 145.6h1.3M405.8 162.0h1.3M384.8 155.6h1.3M396.6 157.2h1.3M383.3 160.8h1.3M401.5 143.1h1.3M397.5 169.6h1.3M400.3 150.9h1.3M419.7 140.3h1.3M408.9 147.8h1.3M400.5 151.1h1.3M416.8 169.8h1.3M382.7 188.6h1.3M414.6 156.8h1.3M407.4 155.5h1.3M434.3 143.5h1.3M402.5 167.0h1.3M427.9 153.7h1.3M388.0 150.2h1.3M394.9 162.2h1.3M421.6 145.5h1.3M423.9 141.1h1.3M396.4 171.1h1.3M391.1 168.8h1.3M397.6 181.9h1.3M413.2 188.9h1.3M411.2 179.6h1.3M410.8 154.0h1.3M426.8 156.0h1.3M402.8 174.1h1.3M394.2 178.0h1.3M403.0 154.4h1.3M412.7 141.9h1.3M414.1 164.7h1.3M411.8 144.6h1.3M405.9 150.5h1.3M401.0 145.6h1.3M419.5 146.1h1.3M432.6 136.3h1.3M404.1 161.0h1.3M423.4 154.2h1.3M395.4 174.7h1.3M403.9 169.8h1.3M402.8 170.4h1.3M381.1 174.7h1.3M420.8 146.0h1.3M413.7 172.1h1.3M400.3 146.6h1.3M389.8 163.5h1.3M425.3 161.1h1.3M404.0 170.2h1.3M402.9 166.2h1.3M417.9 177.0h1.3M442.0 155.8h1.3M396.6 164.3h1.3M379.6 168.9h1.3M410.0 149.8h1.3M400.5 167.6h1.3M412.4 155.2h1.3M394.8 168.1h1.3M411.6 152.9h1.3M414.8 162.8h1.3M422.4 153.3h1.3M383.1 168.5h1.3M424.2 151.5h1.3M400.7 169.7h1.3M395.2 165.1h1.3M398.0 155.4h1.3M422.1 166.5h1.3M397.0 160.2h1.3M407.1 167.6h1.3M393.1 166.3h1.3M425.5 147.5h1.3M413.9 138.9h1.3M400.3 172.1h1.3M389.2 164.2h1.3M419.3 163.1h1.3M406.9 159.8h1.3M395.8 143.6h1.3M408.3 158.1h1.3M402.8 159.7h1.3M411.7 143.2h1.3M391.5 162.2h1.3M417.2 167.8h1.3M404.5 159.6h1.3M408.7 135.9h1.3M391.6 154.2h1.3M392.2 170.1h1.3M404.7 155.6h1.3M423.8 150.2h1.3M390.5 166.1h1.3M403.4 163.5h1.3M429.1 155.6h1.3M397.6 169.7h1.3M416.9 180.9h1.3M392.5 178.7h1.3M409.8 184.4h1.3M413.3 159.5h1.3M406.6 169.8h1.3M395.4 178.8h1.3M399.6 168.8h1.3M404.6 148.2h1.3M403.9 152.8h1.3M417.4 147.8h1.3M424.3 142.6h1.3M420.6 170.5h1.3M403.9 128.1h1.3M384.7 164.1h1.3M410.8 165.8h1.3M387.4 164.4h1.3M407.4 167.5h1.3M406.1 153.1h1.3M423.1 158.8h1.3M407.5 185.0h1.3M411.6 145.5h1.3M388.6 155.6h1.3M426.2 154.7h1.3M422.8 161.5h1.3M422.9 154.4h1.3M396.1 168.4h1.3M430.6 151.8h1.3M406.9 162.6h1.3M388.9 165.6h1.3M403.3 155.4h1.3M430.6 130.2h1.3M414.4 144.5h1.3M406.2 157.1h1.3M404.5 163.9h1.3M415.8 173.2h1.3M410.5 171.0h1.3M402.1 172.5h1.3M393.5 161.8h1.3M425.2 155.3h1.3M436.1 139.4h1.3M399.1 151.4h1.3M394.3 147.2h1.3M398.5 156.5h1.3M403.6 165.4h1.3M440.2 122.2h1.3M408.4 155.7h1.3M390.6 170.7h1.3M396.2 161.2h1.3M398.1 167.6h1.3M411.3 163.4h1.3M396.2 139.5h1.3M407.1 158.4h1.3M391.5 166.0h1.3M390.2 161.8h1.3M436.9 160.5h1.3M405.6 157.7h1.3M385.7 170.5h1.3M402.0 163.2h1.3M424.3 149.7h1.3M410.5 147.4h1.3M407.3 175.1h1.3M407.3 146.2h1.3M404.5 148.1h1.3M382.9 173.3h1.3M405.0 161.3h1.3M407.4 178.4h1.3M410.9 139.6h1.3M437.6 140.5h1.3M431.8 159.3h1.3M391.1 184.3h1.3M385.7 166.0h1.3M413.1 160.9h1.3M427.3 155.5h1.3M407.6 158.8h1.3M407.1 161.3h1.3M420.8 162.5h1.3M400.3 172.7h1.3M404.7 162.2h1.3M408.9 153.4h1.3M406.0 178.4h1.3M417.5 148.5h1.3M404.3 176.5h1.3M393.9 156.7h1.3M431.4 145.2h1.3M406.5 158.4h1.3M421.6 165.7h1.3M388.7 163.2h1.3M397.1 176.5h1.3M376.9 171.8h1.3M419.5 143.0h1.3M406.6 173.7h1.3M421.7 141.3h1.3M426.3 167.0h1.3M420.2 172.2h1.3M369.4 166.0h1.3M397.0 154.3h1.3M400.7 158.6h1.3M392.7 180.4h1.3M385.3 174.7h1.3M401.7 185.5h1.3M403.0 169.5h1.3M425.3 150.4h1.3M403.7 172.5h1.3M370.5 154.0h1.3M428.0 143.3h1.3M402.6 155.7h1.3M411.4 149.3h1.3M386.4 168.9h1.3M397.7 151.5h1.3M404.9 164.4h1.3M406.0 159.0h1.3M406.8 139.7h1.3M402.2 158.2h1.3M421.4 137.2h1.3M406.4 176.4h1.3M408.6 157.0h1.3M432.7 127.4h1.3M414.3 161.4h1.3M395.7 174.5h1.3M407.5 187.0h1.3M417.2 165.0h1.3M410.4 158.4h1.3M418.8 150.3h1.3M404.6 165.0h1.3M386.6 175.1h1.3M412.7 153.0h1.3M421.2 173.9h1.3M403.3 163.8h1.3M406.0 160.0h1.3M424.7 138.7h1.3M413.1 172.3h1.3M398.6 171.0h1.3M399.8 149.8h1.3M382.5 163.2h1.3M401.8 163.9h1.3M418.3 172.6h1.3M416.7 168.7h1.3M418.3 159.5h1.3M398.9 174.4h1.3M407.1 174.1h1.3M387.5 167.8h1.3M393.3 155.9h1.3M401.6 172.0h1.3M403.3 170.3h1.3M409.6 159.1h1.3M414.5 163.0h1.3M414.5 140.7h1.3M410.1 173.8h1.3M396.8 181.4h1.3M384.9 163.2h1.3M409.4 169.8h1.3M410.1 159.9h1.3M406.1 156.2h1.3M409.5 164.1h1.3M416.1 169.0h1.3M380.5 168.5h1.3M397.7 137.2h1.3M418.6 175.2h1.3M417.9 166.1h1.3M392.1 169.1h1.3M422.3 146.1h1.3M395.2 171.9h1.3M417.4 152.6h1.3M430.8 143.0h1.3M376.2 165.2h1.3M391.0 169.7h1.3M392.6 162.4h1.3M401.0 148.7h1.3M409.0 146.2h1.3M412.8 169.7h1.3M414.9 166.9h1.3M408.9 184.5h1.3M399.0 156.8h1.3M399.9 157.8h1.3M392.3 178.0h1.3M420.6 155.7h1.3M422.3 153.8h1.3M390.5 178.1h1.3M431.2 143.2h1.3M400.8 160.5h1.3M413.0 146.8h1.3M405.1 163.9h1.3M423.4 164.0h1.3M384.0 154.5h1.3M404.6 164.0h1.3M407.8 158.7h1.3M408.4 171.9h1.3M402.8 142.9h1.3M405.2 148.8h1.3M398.4 171.1h1.3M410.5 150.2h1.3M401.8 141.7h1.3M435.9 137.9h1.3M436.5 143.0h1.3M434.3 144.2h1.3M430.0 133.8h1.3M381.2 166.8h1.3M425.1 139.1h1.3M415.7 160.5h1.3M397.6 183.3h1.3M403.2 139.5h1.3M424.1 158.5h1.3M414.9 134.5h1.3M404.4 179.7h1.3M416.0 148.4h1.3M413.2 155.2h1.3M413.2 158.4h1.3M414.9 154.5h1.3M433.4 152.4h1.3M402.3 164.1h1.3M412.1 156.1h1.3M397.3 175.0h1.3M419.8 178.4h1.3M436.1 152.7h1.3M411.8 141.9h1.3M403.2 153.8h1.3M400.0 152.4h1.3M397.9 181.7h1.3M436.2 168.9h1.3M428.0 139.1h1.3M419.0 141.2h1.3M409.7 184.9h1.3M398.7 151.9h1.3M399.8 178.1h1.3M421.6 150.5h1.3M408.9 145.4h1.3M429.0 148.1h1.3M409.2 158.4h1.3M388.8 168.8h1.3M413.6 160.0h1.3M409.8 160.8h1.3M393.3 166.0h1.3M439.3 124.2h1.3M416.5 157.0h1.3M386.8 160.8h1.3M428.7 164.0h1.3M413.7 143.4h1.3M416.0 151.2h1.3M425.4 153.9h1.3M382.6 175.4h1.3M391.3 174.7h1.3M387.2 157.7h1.3M430.4 155.0h1.3M407.9 151.0h1.3M417.7 171.5h1.3M418.6 159.5h1.3M410.8 147.2h1.3M412.6 150.6h1.3M418.2 163.5h1.3M401.3 164.7h1.3M396.3 175.4h1.3M401.0 172.3h1.3M421.1 180.6h1.3M439.1 158.9h1.3M392.5 164.0h1.3M392.2 160.4h1.3M399.8 174.8h1.3M419.0 151.4h1.3M421.4 152.2h1.3M407.2 171.4h1.3M428.2 146.6h1.3M405.2 157.7h1.3M410.3 149.9h1.3M431.9 162.8h1.3M398.0 182.1h1.3M406.7 156.4h1.3M417.8 154.6h1.3M385.2 139.5h1.3M418.3 129.3h1.3M438.9 150.2h1.3M404.5 159.7h1.3M410.9 158.0h1.3M415.6 166.7h1.3M376.8 171.5h1.3M417.8 146.3h1.3M392.5 158.7h1.3M396.8 182.5h1.3M415.0 146.2h1.3M399.9 137.0h1.3M405.6 173.6h1.3M411.1 160.3h1.3M411.2 145.0h1.3M409.6 156.9h1.3M392.6 174.4h1.3M402.0 144.3h1.3M419.4 162.8h1.3M403.3 149.4h1.3M389.2 184.3h1.3M421.7 163.9h1.3M383.6 163.4h1.3M431.9 136.0h1.3M426.6 159.4h1.3M402.6 168.9h1.3M415.3 157.8h1.3M418.1 164.6h1.3M406.2 155.9h1.3M423.0 146.6h1.3M383.3 154.3h1.3M429.4 152.3h1.3M430.4 150.3h1.3M402.4 184.0h1.3M410.1 134.0h1.3M422.8 168.2h1.3M405.1 149.1h1.3M411.1 149.0h1.3M412.5 157.0h1.3M421.9 143.2h1.3M407.4 164.0h1.3M410.0 162.8h1.3M395.3 170.0h1.3M408.8 152.9h1.3M408.4 152.9h1.3M413.3 164.8h1.3M421.1 167.1h1.3M383.6 167.8h1.3M398.8 144.2h1.3M422.1 157.0h1.3M408.3 158.0h1.3M417.9 150.5h1.3M423.6 154.5h1.3M394.5 147.3h1.3M395.3 179.0h1.3M413.6 152.0h1.3M419.8 163.0h1.3M415.4 157.5h1.3M386.6 171.0h1.3M416.8 168.1h1.3M408.3 157.8h1.3M406.1 159.6h1.3M400.4 171.5h1.3M417.0 155.2h1.3M390.4 165.8h1.3M389.8 181.9h1.3M395.1 164.4h1.3M422.3 139.8h1.3M410.8 160.6h1.3M389.3 148.5h1.3M396.8 162.5h1.3M405.4 164.8h1.3M384.6 173.7h1.3M427.1 159.9h1.3M421.0 150.2h1.3M384.4 165.8h1.3M417.1 154.4h1.3M398.5 154.6h1.3M396.8 152.8h1.3M394.8 154.3h1.3M411.2 158.1h1.3M400.7 142.7h1.3M425.3 135.9h1.3M401.7 156.4h1.3M404.7 161.6h1.3M414.1 167.9h1.3M413.9 154.2h1.3M404.4 155.9h1.3M407.4 166.7h1.3M395.9 158.5h1.3M394.7 158.9h1.3M381.2 158.5h1.3M426.4 141.8h1.3M410.7 180.8h1.3M406.3 157.2h1.3M416.4 160.8h1.3M421.8 160.2h1.3M433.5 141.7h1.3M415.0 158.5h1.3M396.2 170.4h1.3M419.9 146.6h1.3M398.2 170.0h1.3M414.6 147.9h1.3M426.9 152.5h1.3M431.1 155.9h1.3M420.9 143.4h1.3M406.7 167.6h1.3M384.3 160.5h1.3M425.8 168.9h1.3M414.5 174.2h1.3M419.5 156.4h1.3M403.7 181.9h1.3M401.2 170.6h1.3M403.4 166.6h1.3M399.7 157.3h1.3M409.2 141.3h1.3M399.1 150.7h1.3M391.9 160.6h1.3M431.9 151.4h1.3M415.6 158.4h1.3M381.3 171.6h1.3M406.2 172.2h1.3M422.8 131.9h1.3M398.0 154.7h1.3M392.5 173.5h1.3M418.2 144.8h1.3M408.6 174.2h1.3M404.0 166.8h1.3M396.3 155.9h1.3M398.8 167.5h1.3M411.9 158.8h1.3M404.2 170.0h1.3M397.7 163.0h1.3M443.1 157.0h1.3M395.1 175.7h1.3M410.7 157.4h1.3M387.7 159.1h1.3M396.3 143.2h1.3M423.2 147.6h1.3M406.2 156.4h1.3M419.8 156.5h1.3M401.8 173.4h1.3M423.6 132.2h1.3M412.3 141.8h1.3M380.6 145.8h1.3M406.5 145.4h1.3M395.2 160.8h1.3M390.5 176.0h1.3M387.7 162.6h1.3M427.0 158.7h1.3M424.5 151.0h1.3M403.9 178.2h1.3M407.8 176.6h1.3M424.6 156.3h1.3M402.2 145.7h1.3M414.0 131.9h1.3M410.0 156.4h1.3M407.4 140.8h1.3M407.8 154.2h1.3M412.6 164.9h1.3M407.0 164.8h1.3M415.6 152.9h1.3M415.0 148.5h1.3M414.8 157.6h1.3M413.8 154.2h1.3M402.9 166.3h1.3M396.4 163.1h1.3M417.3 181.3h1.3M422.2 174.8h1.3M403.7 134.8h1.3M424.2 139.9h1.3M423.9 163.1h1.3M423.1 136.4h1.3M399.2 163.7h1.3M407.3 172.1h1.3M417.4 164.7h1.3M389.5 166.3h1.3M410.2 134.6h1.3M405.9 139.2h1.3M389.6 166.1h1.3M392.9 180.1h1.3M426.3 169.7h1.3M410.5 140.9h1.3M390.7 174.2h1.3M436.4 146.8h1.3M388.1 157.5h1.3M399.3 152.8h1.3M395.6 158.2h1.3M392.2 177.4h1.3M408.5 167.9h1.3M422.2 169.2h1.3M404.1 158.0h1.3M431.4 144.0h1.3M423.0 163.6h1.3M406.8 162.3h1.3M413.0 163.4h1.3M425.3 171.5h1.3M374.9 178.6h1.3M384.5 164.6h1.3M416.7 146.1h1.3M394.9 186.8h1.3M408.0 165.9h1.3M429.9 133.0h1.3M403.2 168.6h1.3M416.6 173.2h1.3M386.6 178.0h1.3M375.7 161.3h1.3M379.4 176.3h1.3M400.0 170.7h1.3M431.1 146.2h1.3M426.5 163.0h1.3M405.6 158.2h1.3M418.4 140.6h1.3M429.5 158.0h1.3M387.5 147.2h1.3M407.5 164.6h1.3M397.0 173.7h1.3M412.9 171.6h1.3M423.7 138.0h1.3M410.0 164.0h1.3M399.8 153.6h1.3M413.0 158.6h1.3M388.5 170.8h1.3M399.7 173.2h1.3M409.0 151.8h1.3M411.5 166.2h1.3M414.7 177.6h1.3M394.0 160.9h1.3M409.9 141.8h1.3M395.7 158.7h1.3M425.6 144.8h1.3M388.9 166.6h1.3M427.0 155.4h1.3M411.7 156.7h1.3M415.3 164.3h1.3M395.7 173.0h1.3M414.4 143.5h1.3M394.0 163.8h1.3M400.7 163.4h1.3M416.0 157.0h1.3M408.8 163.6h1.3M403.7 147.0h1.3M406.4 179.2h1.3M417.6 179.5h1.3M401.4 168.1h1.3M402.1 149.0h1.3M398.3 174.0h1.3M434.3 133.7h1.3M398.0 166.1h1.3M408.4 152.2h1.3M424.1 143.3h1.3M411.0 162.9h1.3M416.0 170.1h1.3M413.9 162.3h1.3M386.1 161.7h1.3M414.8 154.0h1.3M410.1 155.8h1.3M411.4 147.6h1.3M398.2 157.1h1.3M411.2 154.9h1.3M417.2 151.7h1.3M431.5 145.1h1.3M430.5 159.3h1.3M408.9 151.8h1.3M420.0 166.5h1.3M402.1 166.9h1.3M412.3 157.7h1.3M399.6 187.8h1.3M399.3 178.0h1.3M408.2 181.9h1.3M394.4 187.7h1.3M409.2 137.1h1.3M396.7 168.4h1.3M399.9 151.5h1.3M394.8 167.7h1.3M397.0 152.4h1.3M396.6 166.3h1.3M405.6 187.7h1.3M426.4 153.5h1.3M420.3 151.2h1.3M400.5 162.3h1.3M400.6 155.2h1.3M371.5 175.6h1.3M434.3 162.2h1.3M389.8 165.1h1.3M431.3 168.5h1.3M419.0 165.8h1.3M424.6 131.6h1.3M396.4 157.4h1.3M417.7 160.6h1.3M377.9 154.2h1.3M392.2 165.3h1.3M406.4 166.0h1.3M390.2 168.4h1.3M418.4 158.0h1.3M429.1 154.9h1.3M428.2 169.3h1.3M416.6 158.6h1.3M411.8 162.2h1.3M374.5 186.3h1.3M412.9 149.2h1.3M432.1 157.2h1.3M397.5 175.1h1.3M422.6 158.0h1.3M409.8 163.4h1.3M393.0 181.2h1.3M423.6 144.3h1.3M432.5 139.5h1.3M384.2 182.6h1.3M424.4 156.4h1.3M378.0 179.7h1.3M432.8 157.6h1.3M400.4 184.3h1.3M417.5 154.4h1.3M402.1 154.5h1.3M402.5 168.0h1.3M419.6 138.7h1.3M405.3 169.5h1.3M420.0 163.3h1.3M420.9 146.8h1.3M421.2 175.9h1.3M413.3 170.9h1.3M426.2 144.8h1.3M417.8 142.2h1.3M402.7 154.8h1.3M385.7 168.4h1.3M419.5 173.5h1.3M388.4 174.2h1.3M431.8 158.6h1.3M403.6 156.2h1.3M416.0 147.1h1.3M418.9 155.5h1.3M425.8 172.0h1.3M394.2 130.0h1.3M372.7 180.2h1.3M386.3 176.5h1.3M412.0 137.1h1.3M425.6 119.3h1.3M384.1 168.8h1.3M419.0 174.4h1.3M411.9 160.3h1.3M425.2 159.7h1.3M410.5 150.3h1.3M422.8 151.5h1.3M437.1 154.4h1.3M423.3 164.2h1.3M422.2 175.2h1.3M419.6 146.8h1.3M405.8 167.2h1.3M392.8 172.4h1.3M406.0 166.8h1.3M428.4 165.8h1.3M434.5 130.1h1.3M393.8 162.9h1.3M419.0 156.0h1.3M389.0 175.4h1.3M407.6 148.0h1.3M415.3 151.3h1.3M404.9 149.3h1.3M419.8 156.3h1.3M381.5 172.0h1.3M399.3 160.0h1.3M408.2 161.0h1.3M386.9 182.9h1.3M416.5 159.2h1.3M401.1 157.0h1.3M400.4 150.0h1.3M380.1 170.7h1.3M400.2 156.9h1.3M421.1 170.7h1.3M398.4 150.2h1.3M399.6 163.7h1.3M413.3 156.4h1.3M396.4 169.4h1.3M429.3 159.9h1.3M385.9 152.2h1.3M407.7 147.9h1.3M417.5 141.8h1.3M402.7 155.0h1.3M415.7 168.6h1.3M407.4 170.9h1.3M413.7 155.2h1.3M408.2 157.1h1.3M417.0 168.6h1.3M421.9 160.9h1.3M409.9 169.0h1.3M422.4 155.6h1.3M421.4 150.7h1.3M395.6 169.7h1.3M407.9 146.6h1.3M413.8 157.0h1.3M398.8 174.1h1.3M416.6 153.6h1.3M434.3 144.8h1.3M403.7 179.1h1.3M418.6 181.8h1.3M388.0 177.2h1.3M413.5 170.4h1.3M394.3 182.5h1.3M400.6 157.4h1.3M401.4 148.6h1.3M427.9 138.1h1.3M435.6 132.9h1.3M413.7 172.1h1.3M414.5 160.9h1.3M412.5 156.8h1.3M421.0 164.6h1.3M408.8 159.7h1.3M418.1 160.9h1.3M425.0 145.9h1.3M408.2 164.6h1.3M417.2 160.3h1.3M389.3 158.1h1.3M431.8 142.0h1.3M430.3 132.6h1.3M401.4 158.9h1.3M411.7 158.5h1.3M415.6 158.3h1.3M411.1 160.3h1.3M415.8 160.3h1.3M419.1 137.2h1.3M407.6 158.7h1.3M391.0 179.0h1.3M425.1 149.9h1.3M411.9 153.1h1.3M402.0 151.4h1.3M411.2 132.5h1.3M423.2 147.8h1.3M414.7 140.6h1.3M409.5 158.1h1.3M407.5 170.8h1.3M427.2 136.9h1.3M380.6 174.6h1.3M391.7 164.7h1.3M426.1 160.9h1.3M414.2 154.5h1.3M374.2 181.3h1.3M413.3 147.4h1.3M394.4 164.2h1.3M410.4 176.0h1.3M411.8 161.9h1.3M392.8 178.3h1.3M413.0 135.8h1.3M405.5 145.6h1.3M406.0 151.2h1.3M422.8 159.6h1.3M369.4 158.9h1.3M424.9 173.9h1.3M409.9 139.6h1.3M392.3 163.1h1.3M410.4 146.4h1.3M427.2 144.1h1.3M422.2 155.4h1.3M430.9 147.2h1.3M415.8 168.1h1.3M416.5 154.1h1.3M404.8 184.0h1.3M403.0 157.9h1.3M398.2 166.6h1.3M403.1 150.7h1.3M402.3 158.7h1.3M424.3 143.3h1.3M418.8 167.0h1.3M398.9 170.2h1.3M437.2 160.0h1.3M426.3 156.4h1.3M404.6 174.4h1.3M399.0 139.6h1.3M424.7 163.9h1.3M429.0 169.5h1.3M401.3 173.3h1.3M388.8 178.0h1.3M409.0 160.6h1.3M403.9 174.9h1.3M433.3 152.6h1.3M410.3 156.6h1.3M418.5 157.2h1.3M375.8 178.1h1.3M405.4 170.6h1.3M405.3 157.8h1.3M415.1 159.4h1.3M404.8 163.0h1.3M414.0 149.6h1.3M414.9 167.5h1.3M433.7 152.7h1.3M413.9 150.3h1.3M407.9 160.8h1.3M413.0 176.6h1.3M401.6 154.3h1.3M403.8 154.5h1.3M385.0 182.3h1.3M381.9 169.2h1.3M410.7 152.9h1.3M428.9 147.6h1.3M404.1 171.7h1.3M394.9 172.3h1.3M411.3 143.1h1.3M400.1 177.0h1.3M387.2 166.2h1.3M417.4 177.3h1.3M416.9 136.2h1.3M398.6 181.1h1.3M399.3 173.2h1.3M432.1 142.0h1.3M406.6 173.6h1.3M399.5 159.6h1.3M387.8 161.4h1.3M403.0 157.8h1.3M392.5 174.3h1.3M381.8 170.3h1.3M419.5 127.1h1.3M404.0 159.0h1.3M394.7 169.3h1.3M397.7 161.3h1.3M426.9 150.2h1.3M410.1 176.5h1.3M395.0 166.0h1.3M378.3 184.8h1.3M432.3 173.9h1.3M384.0 162.8h1.3M433.1 136.4h1.3M423.8 160.1h1.3M417.6 151.2h1.3M400.4 171.4h1.3M426.1 159.6h1.3M414.7 148.9h1.3M414.6 159.2h1.3M406.6 164.7h1.3M416.5 148.8h1.3M416.1 142.6h1.3M398.4 167.8h1.3M399.7 142.2h1.3M421.5 135.4h1.3M419.8 165.7h1.3M404.2 183.8h1.3M385.0 165.9h1.3M377.9 175.9h1.3M406.8 162.1h1.3M398.4 151.1h1.3M418.7 169.2h1.3M388.8 169.3h1.3M397.3 159.3h1.3M440.5 153.9h1.3M377.3 173.5h1.3M411.0 172.3h1.3M419.6 150.3h1.3M411.2 172.2h1.3M427.8 140.3h1.3M411.2 160.9h1.3M386.4 165.2h1.3M421.9 169.2h1.3M392.3 173.9h1.3M405.6 150.7h1.3M430.9 148.7h1.3M406.0 150.6h1.3M412.4 176.8h1.3M408.6 128.1h1.3M404.3 164.2h1.3M387.6 173.5h1.3M416.2 140.5h1.3M407.1 182.0h1.3M392.2 183.5h1.3M405.0 158.4h1.3M394.6 160.5h1.3M408.7 142.7h1.3M412.3 178.3h1.3M408.1 169.7h1.3M420.0 154.5h1.3M427.2 148.0h1.3M397.8 157.4h1.3M407.9 169.3h1.3M392.5 172.6h1.3M399.5 182.3h1.3M408.3 176.6h1.3M433.2 113.2h1.3M399.2 167.2h1.3M405.6 147.1h1.3M425.9 153.5h1.3M413.4 161.8h1.3M398.2 153.6h1.3M393.9 173.2h1.3M415.7 169.8h1.3M419.2 157.0h1.3M411.6 183.1h1.3M435.6 166.4h1.3M425.7 135.5h1.3M409.2 171.5h1.3M399.9 169.3h1.3M397.7 166.1h1.3M419.1 151.6h1.3M421.8 177.7h1.3M418.0 159.5h1.3M378.7 175.6h1.3M389.2 170.8h1.3M409.8 148.9h1.3M422.3 147.6h1.3M402.4 155.4h1.3M405.9 150.2h1.3M398.7 150.7h1.3M396.9 176.2h1.3M416.3 159.7h1.3M427.2 128.9h1.3M430.8 138.4h1.3M405.0 158.8h1.3M422.1 142.1h1.3M433.6 144.3h1.3M417.5 157.7h1.3M388.8 187.3h1.3M415.3 152.8h1.3M390.8 174.7h1.3M433.8 173.2h1.3M410.0 175.5h1.3M413.0 161.7h1.3M400.6 155.4h1.3M400.9 152.2h1.3M407.9 176.8h1.3M396.5 137.3h1.3M421.2 173.3h1.3M402.6 169.9h1.3M432.8 149.6h1.3M427.6 144.5h1.3M402.1 167.6h1.3M420.4 153.5h1.3M427.6 169.0h1.3M407.4 162.6h1.3M414.8 161.8h1.3M416.7 178.7h1.3M423.2 147.2h1.3M408.0 163.7h1.3M397.8 161.8h1.3M387.5 175.6h1.3M415.0 143.8h1.3M422.0 181.0h1.3M394.2 139.2h1.3M413.6 160.3h1.3M419.5 162.4h1.3M403.4 158.0h1.3M425.7 147.8h1.3M420.0 147.3h1.3M422.2 183.0h1.3M391.4 156.8h1.3M435.7 162.9h1.3M383.3 188.3h1.3M394.6 136.1h1.3M404.6 166.9h1.3M401.9 162.3h1.3M431.4 174.7h1.3M407.2 168.8h1.3M392.5 165.1h1.3M374.7 173.5h1.3M401.9 169.5h1.3M399.3 174.9h1.3M424.3 162.4h1.3M429.1 164.6h1.3M417.6 150.9h1.3M410.6 179.1h1.3M393.1 158.3h1.3M408.3 161.0h1.3M421.4 153.8h1.3M402.4 162.4h1.3M402.9 167.9h1.3M396.7 177.6h1.3M404.7 155.7h1.3M413.8 147.0h1.3M429.7 158.2h1.3M408.7 148.0h1.3M405.1 156.7h1.3M421.6 154.5h1.3M417.0 146.6h1.3M420.6 145.6h1.3M422.7 140.5h1.3M430.8 153.2h1.3M419.7 138.1h1.3M410.1 180.1h1.3M397.1 135.2h1.3M411.4 163.8h1.3M435.0 143.0h1.3M378.6 183.8h1.3M397.3 167.1h1.3M380.9 167.4h1.3M426.5 137.2h1.3M430.1 148.8h1.3M390.5 154.7h1.3M416.2 158.5h1.3M386.3 154.0h1.3M412.1 159.8h1.3M403.7 162.1h1.3M395.6 173.1h1.3M396.6 164.8h1.3M400.2 160.4h1.3M384.9 172.0h1.3M405.2 157.2h1.3M416.3 148.5h1.3M405.2 172.9h1.3M407.6 177.9h1.3M407.7 164.4h1.3M389.5 152.6h1.3M427.2 144.5h1.3M421.0 144.1h1.3M394.0 172.4h1.3M402.8 168.9h1.3M395.9 176.3h1.3M383.3 152.1h1.3M418.3 163.1h1.3M402.0 154.9h1.3M410.7 165.5h1.3M401.2 160.2h1.3M390.3 173.4h1.3M417.6 148.4h1.3M412.9 156.8h1.3M428.9 151.5h1.3M412.0 173.7h1.3M440.9 148.5h1.3M414.8 160.4h1.3M409.0 158.8h1.3M407.7 151.2h1.3M405.8 156.4h1.3M402.9 169.1h1.3M403.7 160.5h1.3M415.9 172.9h1.3M416.6 158.9h1.3M397.6 161.6h1.3M415.3 165.0h1.3M432.2 154.8h1.3M428.1 150.4h1.3M405.4 169.0h1.3M395.8 160.2h1.3M392.7 177.4h1.3M434.3 186.4h1.3M393.1 152.9h1.3M410.7 157.5h1.3M411.3 151.4h1.3M423.9 164.4h1.3M394.3 176.6h1.3M391.3 172.4h1.3M395.6 171.6h1.3M414.5 167.2h1.3M422.9 140.7h1.3M394.2 148.6h1.3M378.7 164.6h1.3M395.4 152.1h1.3M412.6 168.6h1.3M399.4 153.8h1.3M424.8 173.9h1.3M399.1 188.9h1.3M403.8 177.4h1.3M406.8 170.3h1.3M418.0 164.9h1.3M415.1 160.7h1.3M386.4 153.8h1.3M405.6 155.7h1.3M398.7 160.6h1.3M385.4 165.6h1.3M425.8 159.6h1.3M411.3 159.8h1.3M438.6 132.4h1.3M409.3 164.9h1.3M421.1 145.3h1.3M378.7 165.7h1.3M396.5 185.1h1.3M423.5 154.0h1.3M395.2 162.8h1.3M440.2 129.8h1.3M390.2 169.3h1.3M441.1 149.5h1.3M404.3 159.8h1.3M407.8 152.4h1.3M391.3 174.5h1.3M412.0 164.0h1.3M413.1 147.5h1.3M414.2 151.9h1.3M387.0 182.1h1.3M421.9 170.8h1.3M425.8 173.4h1.3M408.1 162.8h1.3M425.6 158.1h1.3M404.2 175.4h1.3M414.5 159.7h1.3M406.0 169.5h1.3M406.4 175.6h1.3M380.3 157.7h1.3M401.2 170.3h1.3M402.6 157.6h1.3M398.5 159.6h1.3M394.4 158.5h1.3M393.2 138.7h1.3M393.8 162.3h1.3M396.7 152.6h1.3M412.5 167.3h1.3M433.8 148.0h1.3M415.5 142.5h1.3M392.3 151.2h1.3M408.5 153.7h1.3M415.6 143.5h1.3M405.6 158.8h1.3M426.5 141.1h1.3M428.3 135.4h1.3M416.0 146.8h1.3M429.0 151.3h1.3M421.5 145.5h1.3M406.8 168.1h1.3M432.1 139.6h1.3M410.2 131.4h1.3M414.3 173.8h1.3M405.8 164.1h1.3M400.0 168.6h1.3M420.5 136.2h1.3M387.6 168.6h1.3M418.2 148.2h1.3M390.5 172.8h1.3M389.9 159.3h1.3M391.9 166.3h1.3M395.0 181.4h1.3M426.6 136.5h1.3M395.2 176.0h1.3M416.4 174.2h1.3M416.6 159.9h1.3M413.0 156.8h1.3M409.6 163.1h1.3M403.2 147.6h1.3M411.3 152.7h1.3M405.4 169.8h1.3M402.2 169.4h1.3M399.0 170.0h1.3M431.2 154.9h1.3M414.5 162.8h1.3M409.0 163.0h1.3M424.9 145.8h1.3M404.0 167.0h1.3M403.9 149.5h1.3M395.5 156.0h1.3M378.0 163.5h1.3M440.2 144.3h1.3M414.7 148.2h1.3M408.1 180.2h1.3M413.8 175.4h1.3M412.1 127.8h1.3M398.8 169.0h1.3M418.5 161.3h1.3M408.2 157.1h1.3M400.3 169.8h1.3M393.8 183.6h1.3M404.2 154.5h1.3M416.2 170.6h1.3M391.2 166.9h1.3M420.2 170.0h1.3M405.1 157.2h1.3M391.0 158.1h1.3M400.6 168.1h1.3M394.5 183.9h1.3M411.9 167.0h1.3M423.6 165.9h1.3M429.6 154.7h1.3M397.8 172.5h1.3M403.2 181.1h1.3M402.4 153.9h1.3M410.6 169.7h1.3M409.3 149.9h1.3M412.4 158.0h1.3M404.3 157.3h1.3M400.2 175.1h1.3M380.9 172.2h1.3M400.1 172.3h1.3M384.5 146.6h1.3M406.0 170.9h1.3M392.2 179.1h1.3M419.9 165.8h1.3M423.2 146.8h1.3M392.2 154.9h1.3M411.3 150.2h1.3M413.8 127.9h1.3M409.8 150.8h1.3M380.0 184.1h1.3M426.7 148.8h1.3M390.9 162.7h1.3M400.9 163.5h1.3M403.5 164.3h1.3M415.5 148.5h1.3M397.4 155.7h1.3M422.0 161.9h1.3M401.3 149.9h1.3M412.3 177.3h1.3M396.7 161.3h1.3M430.6 163.6h1.3M382.6 172.5h1.3M433.6 143.8h1.3M404.4 133.1h1.3M416.0 166.3h1.3M414.7 158.4h1.3M422.2 155.2h1.3M418.5 131.5h1.3M399.6 187.2h1.3M405.6 144.6h1.3M427.4 156.8h1.3M396.4 167.1h1.3M407.1 160.5h1.3M423.7 156.5h1.3M412.9 136.8h1.3M427.1 165.9h1.3M394.8 180.6h1.3M409.8 181.6h1.3M404.8 150.5h1.3M403.4 159.4h1.3M403.6 155.1h1.3M423.3 163.2h1.3M418.9 152.3h1.3M414.0 181.1h1.3M426.7 136.5h1.3M410.0 157.4h1.3M409.6 143.0h1.3M400.7 169.9h1.3M424.7 140.5h1.3M402.3 156.0h1.3M389.5 163.6h1.3M390.8 170.9h1.3M412.0 154.8h1.3M434.6 141.5h1.3M420.1 152.7h1.3M401.7 139.7h1.3M406.6 162.8h1.3M387.2 187.1h1.3M397.2 153.6h1.3M398.5 169.9h1.3M388.8 169.6h1.3M399.5 157.6h1.3M419.3 166.0h1.3M423.3 145.0h1.3M393.4 156.5h1.3M399.7 174.8h1.3M419.8 136.6h1.3M419.3 144.4h1.3M401.7 161.0h1.3M409.1 151.4h1.3M417.4 176.1h1.3M422.2 159.4h1.3M432.5 155.7h1.3M424.5 148.0h1.3M396.7 164.3h1.3M409.3 140.7h1.3M413.0 160.8h1.3M405.5 179.7h1.3M411.0 162.5h1.3M411.6 171.4h1.3M391.4 151.8h1.3M412.3 150.6h1.3M405.0 153.3h1.3M425.3 146.5h1.3M411.0 161.5h1.3M406.2 168.1h1.3M422.2 142.3h1.3M395.7 156.8h1.3M410.9 135.1h1.3M415.7 160.0h1.3M386.1 157.3h1.3M410.4 160.0h1.3M395.5 164.8h1.3M415.5 154.6h1.3M385.2 167.7h1.3M420.1 163.3h1.3M399.7 162.4h1.3M413.6 138.7h1.3M398.5 151.9h1.3M399.5 155.5h1.3M398.9 161.8h1.3M420.1 125.9h1.3M428.8 137.4h1.3M414.4 161.4h1.3M391.0 161.0h1.3M405.8 166.6h1.3M401.7 170.3h1.3M407.4 150.2h1.3M421.1 143.3h1.3M383.5 153.0h1.3M406.5 166.0h1.3M395.2 169.2h1.3M415.6 159.6h1.3M424.6 161.6h1.3M425.5 147.4h1.3M405.3 163.0h1.3M417.7 167.0h1.3M405.7 160.2h1.3M388.8 159.3h1.3M420.1 147.3h1.3M402.8 154.5h1.3M388.4 176.2h1.3M411.4 165.7h1.3M406.4 163.1h1.3M402.7 158.1h1.3M397.5 155.5h1.3M395.2 151.5h1.3M415.8 156.6h1.3M402.3 171.1h1.3M394.3 173.8h1.3M401.3 164.9h1.3M408.9 156.9h1.3M396.9 173.9h1.3M424.9 167.3h1.3M417.3 179.9h1.3M397.6 160.4h1.3M398.0 170.0h1.3M414.9 147.1h1.3M403.9 154.9h1.3M392.0 174.3h1.3M387.8 185.6h1.3M412.0 137.1h1.3M378.4 162.4h1.3M431.7 142.3h1.3M402.6 164.1h1.3M393.6 171.5h1.3M410.5 158.3h1.3M404.6 170.7h1.3M391.8 185.3h1.3M423.5 155.9h1.3M403.4 167.7h1.3M421.0 152.3h1.3M428.4 167.4h1.3M414.4 155.6h1.3M392.1 165.7h1.3M405.3 140.6h1.3M422.3 153.2h1.3M414.6 170.2h1.3M412.1 176.2h1.3M414.1 149.2h1.3M426.0 148.4h1.3M437.1 143.4h1.3M420.6 177.0h1.3M410.2 168.0h1.3M409.1 169.3h1.3M402.4 184.7h1.3M414.1 150.3h1.3M432.4 144.7h1.3M408.0 163.3h1.3M403.8 160.3h1.3M409.8 149.2h1.3M384.2 162.0h1.3M387.1 168.9h1.3M384.5 162.5h1.3M416.2 150.7h1.3M422.7 160.7h1.3M383.0 176.7h1.3M406.7 157.1h1.3M417.2 171.0h1.3M409.3 151.4h1.3M386.6 177.0h1.3M404.1 164.1h1.3M417.1 127.5h1.3M411.9 154.8h1.3M418.8 151.8h1.3M426.8 151.2h1.3M406.0 171.4h1.3M409.6 155.0h1.3M411.5 177.8h1.3M395.3 168.9h1.3M403.6 148.6h1.3M405.4 138.8h1.3M419.7 146.6h1.3M404.1 171.5h1.3M370.3 163.0h1.3M419.2 140.3h1.3M405.9 185.4h1.3M405.0 166.2h1.3M400.3 164.0h1.3M391.3 148.3h1.3M414.3 156.9h1.3M412.7 146.9h1.3M424.4 156.6h1.3M388.9 167.7h1.3M382.9 168.7h1.3M397.9 157.5h1.3M414.9 166.3h1.3M413.2 158.6h1.3M404.7 169.9h1.3M422.9 137.7h1.3M427.7 147.0h1.3M400.2 144.5h1.3M404.1 146.8h1.3M398.1 161.2h1.3M420.1 158.7h1.3M415.8 159.6h1.3M429.7 150.4h1.3M427.1 156.0h1.3M386.0 146.7h1.3M421.7 163.2h1.3M405.6 177.1h1.3M411.8 146.6h1.3M410.9 146.9h1.3M395.5 150.3h1.3M416.5 143.6h1.3M421.3 166.3h1.3M409.4 159.8h1.3M371.9 170.4h1.3M410.0 153.3h1.3M389.6 155.1h1.3M412.1 119.5h1.3M440.8 171.0h1.3M387.5 155.1h1.3M429.3 147.6h1.3M407.4 141.8h1.3M401.0 157.4h1.3M416.0 144.3h1.3M399.0 172.9h1.3M438.9 151.9h1.3M433.3 133.6h1.3M389.3 171.7h1.3M400.0 141.6h1.3M394.3 172.9h1.3M409.5 146.9h1.3M415.8 149.5h1.3M425.4 166.2h1.3M383.9 170.1h1.3M399.1 182.7h1.3M436.5 169.9h1.3M402.9 149.6h1.3M409.6 159.8h1.3M412.0 174.5h1.3M397.0 130.0h1.3M415.9 157.8h1.3M437.3 140.9h1.3M403.2 180.9h1.3M415.0 169.0h1.3M431.5 147.4h1.3M407.0 149.2h1.3M386.9 151.9h1.3M416.9 153.7h1.3M407.5 153.9h1.3M412.6 163.2h1.3M421.9 152.7h1.3M416.8 172.5h1.3M410.3 157.1h1.3M425.7 170.6h1.3M406.4 150.1h1.3M424.9 153.3h1.3M406.4 151.2h1.3M396.8 160.3h1.3M417.2 147.1h1.3M420.7 161.9h1.3M428.8 176.2h1.3M417.5 159.8h1.3M386.7 162.4h1.3M414.2 168.1h1.3M420.4 156.1h1.3M380.2 165.8h1.3M414.8 138.7h1.3M413.4 150.4h1.3M405.8 183.0h1.3M417.1 149.4h1.3M413.2 161.5h1.3M401.5 165.4h1.3M376.3 172.9h1.3M413.5 175.0h1.3M414.8 165.5h1.3M413.9 153.5h1.3M416.2 172.2h1.3M388.9 169.2h1.3M412.3 148.7h1.3M409.4 144.9h1.3M432.2 151.9h1.3M432.8 133.3h1.3M381.0 170.1h1.3M404.9 151.3h1.3M400.4 152.5h1.3M439.6 128.2h1.3M426.7 147.6h1.3M398.1 177.6h1.3M424.3 157.7h1.3M402.6 176.1h1.3M429.5 157.5h1.3M421.9 151.0h1.3M418.0 165.9h1.3M413.5 157.9h1.3M421.7 149.0h1.3M431.3 153.3h1.3M401.9 154.7h1.3M411.0 175.1h1.3M431.2 164.1h1.3M416.0 131.1h1.3M422.9 174.3h1.3M392.7 152.8h1.3M413.7 147.1h1.3M417.3 151.2h1.3M416.5 161.2h1.3M394.7 173.5h1.3M405.2 172.0h1.3M400.6 156.6h1.3M408.4 148.2h1.3M433.3 174.7h1.3M410.5 149.9h1.3M397.6 165.8h1.3M398.1 159.8h1.3M392.0 171.8h1.3M404.3 176.3h1.3M396.7 166.2h1.3M414.5 139.5h1.3M437.1 135.2h1.3M391.3 158.7h1.3M406.5 160.7h1.3M427.2 146.8h1.3M417.4 168.7h1.3M394.8 169.9h1.3M400.1 187.4h1.3M407.5 139.2h1.3M420.2 146.3h1.3M425.8 163.3h1.3M409.5 169.8h1.3M415.9 163.6h1.3M412.3 142.8h1.3M432.6 126.9h1.3M396.9 129.1h1.3M411.6 161.8h1.3M410.4 155.8h1.3M412.0 146.4h1.3M400.8 163.2h1.3M418.0 130.3h1.3M401.1 171.7h1.3M388.9 167.6h1.3M419.7 139.3h1.3M422.8 145.1h1.3M437.7 133.0h1.3M402.3 158.6h1.3M411.5 147.1h1.3M410.2 162.5h1.3M420.7 155.5h1.3M420.1 177.1h1.3M404.1 155.5h1.3M400.0 158.3h1.3M416.4 166.3h1.3M383.6 162.6h1.3M419.8 160.1h1.3M404.4 154.7h1.3M413.1 151.8h1.3M421.9 143.5h1.3M406.0 155.4h1.3M419.2 161.6h1.3M411.2 163.5h1.3M405.4 176.2h1.3M420.7 146.1h1.3M425.9 142.6h1.3M403.2 173.5h1.3M415.9 141.7h1.3M408.1 125.0h1.3M424.1 130.9h1.3M414.8 131.4h1.3M422.1 168.7h1.3M393.7 170.1h1.3M409.8 157.0h1.3M411.5 171.5h1.3M417.4 142.7h1.3M415.5 136.8h1.3M429.5 158.7h1.3M403.4 169.3h1.3M401.3 153.1h1.3M398.8 176.3h1.3M403.4 171.6h1.3M426.4 160.1h1.3M408.2 143.6h1.3M410.7 158.6h1.3M397.0 171.2h1.3M413.1 158.4h1.3M413.2 145.6h1.3M401.7 187.4h1.3M395.9 163.2h1.3M411.1 149.9h1.3M402.9 162.6h1.3M387.9 162.5h1.3M407.8 144.6h1.3M425.4 159.1h1.3M420.1 149.3h1.3M392.4 178.1h1.3M396.7 143.2h1.3M424.4 154.9h1.3M428.1 148.4h1.3M393.5 145.1h1.3M429.6 166.1h1.3M402.0 186.2h1.3M411.1 162.9h1.3M401.9 176.0h1.3M407.2 174.9h1.3M428.0 156.5h1.3M434.8 133.1h1.3M398.1 157.5h1.3M388.4 168.2h1.3M366.6 165.4h1.3M413.4 144.8h1.3M412.1 161.0h1.3M393.8 169.3h1.3M430.5 143.3h1.3M394.7 173.7h1.3M421.5 156.3h1.3M407.7 148.4h1.3M407.4 156.4h1.3M393.3 186.9h1.3M405.6 147.3h1.3M422.0 155.2h1.3M415.4 123.8h1.3M392.4 162.1h1.3M399.7 168.7h1.3M416.4 161.7h1.3M394.3 166.1h1.3M401.4 152.0h1.3M407.1 148.5h1.3M395.1 171.4h1.3M427.6 128.4h1.3M419.9 133.2h1.3M438.9 121.0h1.3M415.2 156.1h1.3M408.2 172.9h1.3M396.1 152.1h1.3M391.0 173.0h1.3M407.6 172.9h1.3M405.3 153.6h1.3M410.9 160.4h1.3M397.9 165.1h1.3M404.0 153.1h1.3M423.0 162.9h1.3M392.9 157.2h1.3M411.8 148.6h1.3M425.4 145.9h1.3M428.0 122.4h1.3M404.4 173.7h1.3M401.2 168.0h1.3M377.3 169.9h1.3M402.6 180.6h1.3M401.6 161.9h1.3M392.7 172.7h1.3M413.4 155.4h1.3M419.4 165.2h1.3M422.2 165.7h1.3M393.4 159.8h1.3M380.2 173.4h1.3M400.4 175.2h1.3M421.7 138.3h1.3M393.4 169.7h1.3M414.0 160.5h1.3M393.9 175.6h1.3M417.9 129.7h1.3M421.8 131.1h1.3M388.6 174.3h1.3M405.6 155.6h1.3M425.3 142.1h1.3M399.7 170.3h1.3M395.5 146.5h1.3M401.8 160.7h1.3M404.0 170.7h1.3M403.3 166.6h1.3M415.5 147.9h1.3M416.5 141.0h1.3M399.3 175.6h1.3M429.4 145.8h1.3M410.0 160.4h1.3M427.7 150.5h1.3M417.6 179.3h1.3M401.5 175.4h1.3M400.9 145.0h1.3M416.1 135.1h1.3M406.1 154.5h1.3M406.1 167.7h1.3M426.4 167.9h1.3M403.2 157.5h1.3M416.9 143.1h1.3M396.6 171.9h1.3M422.2 138.6h1.3M406.2 154.3h1.3M377.6 174.9h1.3M401.8 159.9h1.3M425.6 154.6h1.3M395.7 173.1h1.3M403.0 182.0h1.3M415.0 142.5h1.3M417.3 160.1h1.3M403.6 157.0h1.3M434.1 169.1h1.3M417.5 174.4h1.3M433.4 135.7h1.3M395.6 165.3h1.3M402.8 156.6h1.3M383.0 173.6h1.3M404.1 158.5h1.3M416.6 144.8h1.3M412.8 171.2h1.3M432.4 165.2h1.3M408.0 167.7h1.3M401.6 179.6h1.3M425.5 167.0h1.3M408.5 169.3h1.3M397.6 180.9h1.3M439.6 149.7h1.3M410.5 146.5h1.3M406.2 157.3h1.3M408.0 158.6h1.3M425.3 144.4h1.3M399.3 156.8h1.3M409.5 154.8h1.3M393.0 164.1h1.3M398.9 152.2h1.3M409.0 158.3h1.3M404.8 163.6h1.3M439.5 159.7h1.3M409.1 166.9h1.3M391.1 148.3h1.3M403.7 176.0h1.3M428.6 140.2h1.3M418.1 155.0h1.3M407.3 164.2h1.3M387.8 160.6h1.3M411.2 167.6h1.3M387.2 165.6h1.3M406.2 166.6h1.3M405.2 153.3h1.3M430.2 151.7h1.3M399.9 144.1h1.3M415.2 141.5h1.3M406.5 161.6h1.3M401.9 174.6h1.3M411.9 159.1h1.3M408.1 171.0h1.3M400.8 162.7h1.3M373.9 153.6h1.3M397.2 184.4h1.3M417.3 156.2h1.3M412.2 157.7h1.3M386.3 158.3h1.3M392.9 172.4h1.3M420.0 158.3h1.3M430.3 155.5h1.3M407.4 170.4h1.3M396.8 172.7h1.3M398.7 165.1h1.3M403.6 167.8h1.3M414.4 156.7h1.3M397.1 168.8h1.3M438.3 143.6h1.3M408.9 159.2h1.3M435.0 149.8h1.3M406.3 155.5h1.3M395.7 160.4h1.3M414.0 150.4h1.3M401.6 148.4h1.3M390.8 184.5h1.3M407.8 154.6h1.3M397.2 166.0h1.3M418.3 161.5h1.3M385.4 163.2h1.3M406.9 166.2h1.3M407.3 156.9h1.3M420.4 150.6h1.3M415.2 147.4h1.3M394.4 176.1h1.3M419.0 161.6h1.3M414.4 168.8h1.3M413.9 165.6h1.3M403.7 139.0h1.3M394.0 179.1h1.3M400.3 173.7h1.3M392.6 170.8h1.3M408.4 159.3h1.3M411.0 142.5h1.3M389.3 184.8h1.3M417.0 155.7h1.3M422.3 159.3h1.3M431.9 130.4h1.3M407.1 148.9h1.3M425.8 131.2h1.3M427.7 148.5h1.3M426.3 150.4h1.3M409.5 161.6h1.3M421.4 150.2h1.3M404.4 171.3h1.3M410.7 160.4h1.3M413.3 161.2h1.3M401.9 155.4h1.3M394.1 181.7h1.3M394.5 160.1h1.3M424.5 151.5h1.3M402.5 175.4h1.3M406.1 156.8h1.3M426.4 147.0h1.3M411.1 152.7h1.3M403.2 154.8h1.3M419.0 170.1h1.3M428.2 161.9h1.3M403.4 163.0h1.3M412.3 165.7h1.3M412.1 153.5h1.3M414.9 164.6h1.3M405.2 168.0h1.3M400.8 160.0h1.3M394.5 170.9h1.3M397.9 157.9h1.3M392.4 151.4h1.3M413.9 178.7h1.3M401.1 137.5h1.3M389.3 154.5h1.3M426.5 158.9h1.3M426.1 148.1h1.3M401.6 142.6h1.3M409.7 158.7h1.3M390.8 172.0h1.3M391.9 175.1h1.3M422.2 164.4h1.3M408.8 167.4h1.3M393.9 149.3h1.3M391.7 183.7h1.3M422.7 149.7h1.3M407.0 143.8h1.3M407.0 163.6h1.3M413.3 146.9h1.3M409.2 162.4h1.3M402.5 163.0h1.3M424.3 144.1h1.3M412.8 160.6h1.3M405.0 168.3h1.3M401.0 150.9h1.3M421.3 149.5h1.3M416.6 151.5h1.3M394.9 181.5h1.3M440.9 128.2h1.3M378.2 152.0h1.3M416.6 141.4h1.3M434.1 137.9h1.3M416.9 152.6h1.3M442.3 136.1h1.3M408.5 154.0h1.3M407.2 162.6h1.3M414.5 178.4h1.3M409.4 155.3h1.3M406.8 178.8h1.3M388.1 163.8h1.3M411.3 158.8h1.3M413.7 155.0h1.3M390.6 177.4h1.3M403.3 147.1h1.3M401.2 155.9h1.3M421.1 145.8h1.3M385.9 168.9h1.3M397.5 166.3h1.3M414.8 155.6h1.3M402.6 172.5h1.3M390.8 144.7h1.3M395.1 156.4h1.3M396.2 168.3h1.3M384.7 167.1h1.3M399.9 176.7h1.3M434.0 166.0h1.3M421.2 136.6h1.3M398.7 164.2h1.3M410.2 151.2h1.3M386.8 159.5h1.3M419.5 161.9h1.3M412.6 144.0h1.3M398.2 165.0h1.3M392.2 158.7h1.3M390.9 158.0h1.3M407.9 183.4h1.3M426.2 148.5h1.3M439.4 141.7h1.3M420.5 168.5h1.3M418.3 127.4h1.3M427.7 153.8h1.3M431.1 142.8h1.3M383.6 160.5h1.3M405.9 161.5h1.3M425.1 133.8h1.3M394.1 174.2h1.3M411.1 161.2h1.3M398.8 168.4h1.3M407.4 175.6h1.3M388.8 171.3h1.3M422.4 160.6h1.3M405.3 167.7h1.3M395.7 158.6h1.3M404.3 159.9h1.3M398.6 182.2h1.3M422.8 134.1h1.3M431.2 152.0h1.3M408.0 146.8h1.3M409.7 158.2h1.3M388.2 168.8h1.3M428.0 142.2h1.3M432.1 151.2h1.3M409.0 167.7h1.3M406.0 179.0h1.3M435.8 121.1h1.3M422.7 142.5h1.3M427.9 151.6h1.3M403.4 161.7h1.3M397.0 165.3h1.3M377.2 172.2h1.3M395.4 163.5h1.3M425.9 157.2h1.3M386.8 183.1h1.3M403.8 172.2h1.3M392.5 174.3h1.3M417.4 161.6h1.3M410.5 150.2h1.3M400.5 146.9h1.3M394.5 188.7h1.3M389.8 146.8h1.3M408.7 162.0h1.3M435.4 167.9h1.3M392.9 172.5h1.3M421.2 160.6h1.3M419.4 147.1h1.3M425.6 167.3h1.3M430.7 135.3h1.3M419.2 163.3h1.3M403.2 170.8h1.3M421.5 129.1h1.3M393.6 155.5h1.3M389.7 161.6h1.3M407.4 153.3h1.3M408.1 166.6h1.3M410.1 152.6h1.3M420.1 162.6h1.3M405.5 172.0h1.3M407.8 174.8h1.3M403.7 146.2h1.3M415.9 150.8h1.3M434.4 150.7h1.3M417.1 140.6h1.3M420.2 151.9h1.3M411.2 175.4h1.3M416.4 149.5h1.3M407.7 173.8h1.3M399.2 145.8h1.3M412.1 152.7h1.3M419.6 168.7h1.3M412.2 174.9h1.3M396.3 163.0h1.3M423.0 143.2h1.3M429.9 176.4h1.3M405.5 160.2h1.3M396.3 173.3h1.3M396.4 156.3h1.3M381.0 181.6h1.3M392.5 178.3h1.3M428.3 129.3h1.3M400.6 154.5h1.3M434.1 172.8h1.3M404.3 175.9h1.3M379.7 155.2h1.3M393.1 152.8h1.3M395.2 168.3h1.3M412.2 141.9h1.3M420.1 147.1h1.3M398.2 156.4h1.3M406.3 162.7h1.3M409.9 146.3h1.3M404.0 177.4h1.3M418.8 159.5h1.3M409.2 168.1h1.3M425.9 131.6h1.3M407.6 171.6h1.3M423.0 154.5h1.3M403.0 173.7h1.3M393.3 182.4h1.3M430.4 139.5h1.3M401.4 164.4h1.3M419.6 182.9h1.3M411.3 159.7h1.3M395.7 175.7h1.3M408.3 161.1h1.3M418.5 134.8h1.3M414.3 150.4h1.3M410.8 147.5h1.3M409.7 155.0h1.3M433.2 149.1h1.3M414.0 177.3h1.3M419.8 153.3h1.3M420.6 158.9h1.3M410.7 162.2h1.3M404.1 177.4h1.3M412.4 142.7h1.3M412.5 131.0h1.3M412.9 158.1h1.3M437.1 128.9h1.3M423.7 162.0h1.3M420.0 142.2h1.3M372.9 165.2h1.3M412.7 152.9h1.3M405.9 164.7h1.3M410.0 138.8h1.3M394.3 151.2h1.3M421.9 148.8h1.3M391.8 167.7h1.3M391.4 174.9h1.3M435.7 164.5h1.3M424.0 144.7h1.3M414.5 149.1h1.3M414.0 134.5h1.3M437.7 133.5h1.3M434.7 136.6h1.3M420.0 152.9h1.3M417.5 151.4h1.3M400.3 146.5h1.3M424.9 171.6h1.3M409.5 166.7h1.3M404.9 167.5h1.3M426.3 137.0h1.3M423.9 146.4h1.3M406.8 174.6h1.3M389.5 174.7h1.3M418.2 152.3h1.3M424.9 140.4h1.3M401.8 164.7h1.3M383.0 186.7h1.3M414.3 149.1h1.3M439.1 137.7h1.3M422.2 167.9h1.3M411.3 155.1h1.3M397.8 159.2h1.3M424.9 164.0h1.3M420.9 153.3h1.3M406.6 145.9h1.3M414.4 143.7h1.3M421.8 145.3h1.3M432.5 135.0h1.3M424.3 169.4h1.3M396.8 162.9h1.3M431.9 143.8h1.3M413.2 135.6h1.3M416.9 131.2h1.3M404.4 165.7h1.3M394.8 152.2h1.3M405.8 148.1h1.3M405.4 157.0h1.3M406.7 168.8h1.3M390.5 171.8h1.3M391.2 188.5h1.3M417.8 162.4h1.3M423.9 149.0h1.3M407.1 152.7h1.3M413.2 147.3h1.3M406.4 164.2h1.3M417.7 174.9h1.3M415.5 154.5h1.3M399.0 167.4h1.3M418.5 144.1h1.3M413.0 148.3h1.3M427.5 139.8h1.3M414.4 146.9h1.3M399.1 162.7h1.3M413.7 180.3h1.3M434.6 142.2h1.3M420.6 151.0h1.3M404.0 153.8h1.3M409.7 154.9h1.3M417.6 144.4h1.3M418.6 155.8h1.3M436.8 149.6h1.3M402.8 169.6h1.3M416.6 148.4h1.3M409.2 167.6h1.3M415.6 160.9h1.3M416.0 164.7h1.3M394.2 172.4h1.3M404.7 153.6h1.3M404.4 163.5h1.3M380.9 159.9h1.3M438.9 156.0h1.3M392.6 170.2h1.3M424.4 156.8h1.3M399.4 167.2h1.3M393.3 148.2h1.3M392.3 169.5h1.3M412.3 185.0h1.3M395.0 152.2h1.3M374.4 167.5h1.3M407.7 154.4h1.3M381.2 140.4h1.3M404.3 150.6h1.3M408.0 159.3h1.3M383.8 180.6h1.3M418.4 143.3h1.3M361.6 158.6h1.3M380.1 141.3h1.3M430.0 158.2h1.3M398.9 170.4h1.3M412.2 127.1h1.3M389.6 133.2h1.3M361.0 172.2h1.3M388.0 172.0h1.3M395.7 141.1h1.3M387.4 178.5h1.3M383.1 144.9h1.3M423.7 182.7h1.3M390.9 121.9h1.3M427.8 165.7h1.3M380.0 157.1h1.3M368.3 181.6h1.3M382.0 140.4h1.3M386.5 169.1h1.3M371.1 159.0h1.3M379.5 146.6h1.3M410.3 174.9h1.3M419.0 177.0h1.3M397.7 178.5h1.3M387.8 176.7h1.3M400.3 154.3h1.3M384.0 142.0h1.3M401.7 173.7h1.3M361.3 169.9h1.3M391.0 160.5h1.3M350.1 184.5h1.3M354.8 161.5h1.3M420.7 169.8h1.3M426.6 140.2h1.3M405.2 161.6h1.3M389.7 181.9h1.3M383.2 184.0h1.3M419.7 163.4h1.3M389.7 176.8h1.3M384.5 145.0h1.3M384.7 156.0h1.3M384.2 168.4h1.3M368.1 171.0h1.3M389.6 169.6h1.3M413.9 168.8h1.3M400.4 172.2h1.3M401.7 139.8h1.3M412.5 156.0h1.3M393.4 150.9h1.3M416.9 185.4h1.3M378.7 151.4h1.3M416.0 170.0h1.3M362.8 158.1h1.3M377.5 166.1h1.3M394.0 132.9h1.3M345.5 168.6h1.3M359.5 171.7h1.3M418.1 164.7h1.3M384.6 178.7h1.3M406.2 167.3h1.3M380.9 147.8h1.3M404.5 154.9h1.3M332.0 135.1h1.3M423.3 144.0h1.3M382.6 183.8h1.3M368.2 167.5h1.3M421.6 154.9h1.3M399.3 178.7h1.3M389.0 162.4h1.3M409.7 168.0h1.3M384.3 165.7h1.3M392.8 160.7h1.3M413.9 180.2h1.3M387.0 142.7h1.3M396.1 143.6h1.3M375.8 157.4h1.3M365.8 164.5h1.3M391.8 175.8h1.3M382.6 163.1h1.3M352.8 164.9h1.3M415.7 149.6h1.3M406.0 173.4h1.3M381.9 161.2h1.3M366.6 171.2h1.3M366.2 172.8h1.3M362.6 127.8h1.3M407.7 160.5h1.3M385.3 161.5h1.3M421.4 175.5h1.3M412.9 137.5h1.3M421.5 167.1h1.3M389.1 166.4h1.3M391.1 174.2h1.3M387.4 145.3h1.3M397.1 176.2h1.3M395.7 159.2h1.3M433.5 176.8h1.3M403.9 188.6h1.3M393.1 187.6h1.3M417.0 162.1h1.3M364.8 130.2h1.3M367.3 162.8h1.3M368.8 124.2h1.3M418.2 137.1h1.3M372.4 165.3h1.3M348.5 178.7h1.3M354.9 176.0h1.3M417.1 175.0h1.3M398.5 149.4h1.3M398.3 177.7h1.3M348.6 125.3h1.3M396.7 162.1h1.3M396.8 168.4h1.3M384.0 136.7h1.3M341.7 133.1h1.3M396.1 172.0h1.3M436.9 174.0h1.3M436.1 175.0h1.3M355.2 176.0h1.3M349.3 188.5h1.3M409.6 161.0h1.3M381.1 147.6h1.3M408.8 164.7h1.3M398.0 183.7h1.3M370.4 174.2h1.3M395.8 152.3h1.3M371.5 153.6h1.3M358.7 131.6h1.3M399.3 162.9h1.3M411.5 142.3h1.3M391.9 164.5h1.3M368.0 167.5h1.3M379.4 178.1h1.3M422.7 161.0h1.3M397.9 169.8h1.3M389.2 157.9h1.3M385.1 141.5h1.3M419.0 142.1h1.3M397.2 142.4h1.3M360.5 176.9h1.3M417.3 152.5h1.3M424.3 179.2h1.3M387.9 177.8h1.3M393.5 169.1h1.3M398.2 124.4h1.3M387.6 172.3h1.3M413.9 123.7h1.3M382.0 169.7h1.3M401.7 187.0h1.3M383.1 185.1h1.3M388.7 158.8h1.3M402.9 145.9h1.3M406.2 162.0h1.3M398.7 157.2h1.3M364.0 155.3h1.3M407.4 185.6h1.3M386.8 150.7h1.3M422.7 115.1h1.3M384.9 168.1h1.3M331.2 155.0h1.3M440.0 143.0h1.3M390.6 174.8h1.3M429.4 115.5h1.3M366.4 146.3h1.3M400.2 129.7h1.3M413.0 175.5h1.3M418.7 156.8h1.3M429.5 182.4h1.3M364.6 164.0h1.3M407.5 145.5h1.3M389.3 178.3h1.3M393.8 182.7h1.3M414.7 120.9h1.3M425.0 134.7h1.3M407.1 160.3h1.3M408.7 156.8h1.3M422.1 149.9h1.3M382.4 170.4h1.3M427.3 182.5h1.3M352.2 151.4h1.3M399.4 160.8h1.3M394.9 161.6h1.3M366.4 183.5h1.3M367.4 161.8h1.3M373.7 168.5h1.3M385.0 179.4h1.3M414.7 163.3h1.3M419.7 168.0h1.3M408.4 176.7h1.3M374.7 180.3h1.3M386.2 167.8h1.3M417.2 183.1h1.3M404.0 180.5h1.3M403.5 142.7h1.3M373.8 176.1h1.3M411.2 174.4h1.3M418.0 156.7h1.3M400.7 178.6h1.3M399.2 172.2h1.3M386.8 150.4h1.3M365.2 157.2h1.3M374.7 183.2h1.3M393.5 179.8h1.3M385.2 151.2h1.3M405.1 168.0h1.3M383.9 172.1h1.3M386.8 129.2h1.3M396.1 155.9h1.3M384.5 158.0h1.3M408.4 160.3h1.3M408.9 161.7h1.3M404.8 164.5h1.3M374.8 167.9h1.3M375.7 177.1h1.3M385.4 163.0h1.3M330.2 148.1h1.3M432.1 156.9h1.3M391.7 157.2h1.3M384.8 155.6h1.3M424.4 185.2h1.3M376.6 145.1h1.3M374.4 162.9h1.3M399.3 157.7h1.3M400.0 186.0h1.3M385.0 166.4h1.3M420.5 186.0h1.3M385.0 165.4h1.3M373.8 136.3h1.3M378.6 179.8h1.3M372.0 170.5h1.3M408.8 134.0h1.3M427.7 147.7h1.3M398.1 159.3h1.3M373.3 158.6h1.3M411.2 173.8h1.3M346.0 159.9h1.3M411.6 177.7h1.3M399.2 162.1h1.3M428.7 173.3h1.3M413.3 144.1h1.3M389.8 158.7h1.3M400.8 174.5h1.3M383.8 188.4h1.3M394.8 154.5h1.3M369.2 164.1h1.3M373.3 187.4h1.3M384.7 140.7h1.3M392.2 159.8h1.3M412.9 187.2h1.3M400.4 168.5h1.3M378.0 163.8h1.3M394.1 159.5h1.3M375.5 156.5h1.3M387.7 165.4h1.3M406.3 129.9h1.3M407.5 143.3h1.3M396.1 173.9h1.3M418.5 147.7h1.3M401.0 155.8h1.3M411.9 160.3h1.3M373.5 168.7h1.3M397.5 187.0h1.3M378.3 178.2h1.3M410.6 128.8h1.3M394.3 148.9h1.3M412.1 151.3h1.3M409.4 150.3h1.3M372.0 144.8h1.3M389.3 136.0h1.3M419.3 142.9h1.3M386.4 183.1h1.3M382.2 164.0h1.3M380.4 180.4h1.3M378.5 154.4h1.3M397.9 187.7h1.3M421.1 173.0h1.3M394.2 188.3h1.3M377.5 155.2h1.3M391.7 154.4h1.3M382.1 185.1h1.3M411.2 186.3h1.3M420.6 166.2h1.3M429.1 174.5h1.3M400.6 164.4h1.3M406.6 172.4h1.3M371.7 178.4h1.3M380.9 162.7h1.3M367.4 169.5h1.3M420.6 162.8h1.3M410.4 154.1h1.3M414.6 138.6h1.3M404.6 184.1h1.3M374.5 159.9h1.3M378.7 114.6h1.3M379.7 175.7h1.3M400.3 169.8h1.3M433.8 187.9h1.3M360.8 166.1h1.3M417.0 182.8h1.3M364.8 132.5h1.3M389.9 156.9h1.3M354.8 172.6h1.3M410.3 164.3h1.3M423.4 158.2h1.3M429.7 119.3h1.3M430.6 178.5h1.3M376.2 152.8h1.3M394.4 154.1h1.3M391.4 160.1h1.3M417.7 159.3h1.3M387.7 168.0h1.3M402.7 183.8h1.3M370.2 136.6h1.3M366.1 155.7h1.3M372.4 163.8h1.3M384.8 171.1h1.3M376.3 169.6h1.3M429.7 183.0h1.3M368.4 176.3h1.3M408.7 153.9h1.3M408.0 177.7h1.3M419.3 163.0h1.3M376.2 134.1h1.3M429.1 153.0h1.3M402.5 145.5h1.3M397.9 180.0h1.3M417.6 174.8h1.3M380.8 154.0h1.3M393.8 172.2h1.3M421.9 179.3h1.3M410.8 172.1h1.3M399.8 179.4h1.3M379.2 159.7h1.3M382.8 156.2h1.3M365.8 159.4h1.3M366.9 154.2h1.3M417.3 182.0h1.3M394.3 172.7h1.3M387.8 122.9h1.3M385.0 165.5h1.3M375.1 151.0h1.3M397.2 168.7h1.3M388.9 187.1h1.3M374.1 149.5h1.3M393.2 167.7h1.3M388.1 178.8h1.3M371.2 137.9h1.3M385.1 132.6h1.3M398.4 156.2h1.3M421.3 175.4h1.3M422.7 164.0h1.3M396.2 160.4h1.3M389.9 171.5h1.3M387.3 155.1h1.3M398.0 162.3h1.3M385.1 138.3h1.3M413.0 178.8h1.3M414.6 161.7h1.3M383.2 144.7h1.3M404.9 179.8h1.3M399.1 164.4h1.3M406.5 144.8h1.3M352.0 135.8h1.3M408.3 157.7h1.3M389.1 146.0h1.3M372.4 182.2h1.3M396.5 182.2h1.3M361.1 153.7h1.3M397.5 172.5h1.3M363.2 160.3h1.3M407.4 158.2h1.3M396.8 182.9h1.3M416.9 150.5h1.3M373.9 152.0h1.3M356.5 166.1h1.3M378.3 142.9h1.3M413.1 157.5h1.3M422.6 156.5h1.3M436.7 144.9h1.3M420.2 174.8h1.3M381.3 157.6h1.3M407.0 161.0h1.3M374.5 170.8h1.3M426.2 163.7h1.3M352.5 152.7h1.3M381.3 126.5h1.3M427.8 148.2h1.3M406.9 162.6h1.3M400.2 138.7h1.3M394.7 141.1h1.3M426.6 137.8h1.3M376.5 164.3h1.3M389.7 172.9h1.3M386.3 145.8h1.3M375.6 157.7h1.3M425.1 165.7h1.3M394.4 160.5h1.3M381.6 180.4h1.3M401.2 165.0h1.3M396.2 166.4h1.3M402.7 169.5h1.3M380.0 176.8h1.3M358.5 164.1h1.3M403.9 170.7h1.3M407.4 168.9h1.3M359.0 170.2h1.3M396.3 149.3h1.3M396.2 153.7h1.3M412.7 134.8h1.3M400.7 141.3h1.3M372.0 135.3h1.3M375.5 169.9h1.3M395.2 142.0h1.3M391.9 173.7h1.3M382.8 160.7h1.3M401.4 153.7h1.3M366.8 136.4h1.3M389.7 164.1h1.3M416.7 150.2h1.3M396.0 179.5h1.3M399.4 159.1h1.3M370.9 170.9h1.3M412.8 186.0h1.3M424.5 165.7h1.3M429.1 184.8h1.3M407.4 185.6h1.3M396.1 171.6h1.3M398.8 164.6h1.3M409.7 166.1h1.3M395.5 179.3h1.3M382.1 161.5h1.3M403.4 122.7h1.3M417.1 168.5h1.3M422.0 139.5h1.3M395.9 159.1h1.3M413.3 154.7h1.3M395.9 169.1h1.3M390.9 163.6h1.3M425.5 151.9h1.3M397.4 104.9h1.3M417.6 126.2h1.3M415.9 126.2h1.3M430.5 125.6h1.3M405.6 124.6h1.3M413.8 122.3h1.3M404.8 113.6h1.3M405.7 128.4h1.3M419.1 101.2h1.3M415.3 112.3h1.3M419.9 123.9h1.3M417.7 122.2h1.3M407.4 131.0h1.3M423.6 112.4h1.3M430.8 126.4h1.3M410.5 115.9h1.3M422.6 119.6h1.3M419.2 113.8h1.3M418.5 109.6h1.3M423.1 111.8h1.3M412.2 107.0h1.3M400.2 111.6h1.3M418.7 138.3h1.3M412.7 120.4h1.3M418.6 125.0h1.3M425.2 116.9h1.3M405.3 121.6h1.3M417.8 115.5h1.3M418.9 112.7h1.3M414.6 119.7h1.3M413.8 130.0h1.3M416.4 132.2h1.3M416.0 124.6h1.3M400.9 131.2h1.3M407.0 129.2h1.3M408.1 131.5h1.3M402.2 109.9h1.3M422.0 129.9h1.3M414.8 132.4h1.3M394.0 126.7h1.3M400.0 135.2h1.3M418.8 109.2h1.3M407.6 131.8h1.3M419.5 110.5h1.3M415.3 111.4h1.3M424.0 105.4h1.3M421.5 120.6h1.3M415.2 128.7h1.3M425.3 118.4h1.3M417.8 110.4h1.3M417.6 124.8h1.3M413.2 134.4h1.3M400.4 121.3h1.3M401.5 134.9h1.3M415.0 113.6h1.3M414.1 119.5h1.3M405.9 114.8h1.3M408.3 114.7h1.3M425.9 130.8h1.3M413.0 116.6h1.3M406.1 121.8h1.3M413.1 129.1h1.3M406.3 107.9h1.3M407.1 109.3h1.3M401.8 114.1h1.3M403.1 136.0h1.3M419.2 127.6h1.3M419.0 113.8h1.3M424.2 118.5h1.3M396.7 106.1h1.3M423.1 115.4h1.3M397.1 118.4h1.3M406.8 112.4h1.3M405.0 122.0h1.3M413.7 121.4h1.3M399.5 124.7h1.3M405.1 129.3h1.3M418.5 114.9h1.3M408.6 115.7h1.3M411.5 113.3h1.3M415.4 113.7h1.3M412.8 114.6h1.3M424.2 128.8h1.3M401.3 123.8h1.3M423.1 136.4h1.3M405.6 128.1h1.3M425.1 118.2h1.3M411.6 126.9h1.3M418.4 105.5h1.3M414.2 138.9h1.3M417.0 109.9h1.3M408.0 131.9h1.3M412.9 117.7h1.3M409.4 106.7h1.3M413.4 115.2h1.3M417.8 128.9h1.3M418.7 108.7h1.3M406.8 120.3h1.3M423.8 107.4h1.3M419.9 120.1h1.3M404.2 111.1h1.3M409.3 115.4h1.3M408.8 125.0h1.3M411.3 119.8h1.3M417.1 124.7h1.3M413.4 115.8h1.3M401.5 110.6h1.3M400.4 112.8h1.3M433.7 104.7h1.3M413.7 129.8h1.3" stroke="#000" stroke-width="1.3" fill="none"/>
<rect x="46.90" y="258.30" width="204.60" height="194.40" fill="none" stroke="#000" stroke-width="1.6"/>
<path d="M46.90 452.70h-3.5M46.90 433.26h-3.5M46.90 413.82h-3.5M46.90 394.38h-3.5M46.90 374.94h-3.5M46.90 355.50h-3.5M46.90 336.06h-3.5M46.90 316.62h-3.5M46.90 297.18h-3.5M46.90 277.74h-3.5M46.90 258.30h-3.5" stroke="#000" stroke-width="1.2" fill="none"/>
<line x1="42.90" y1="452.70" x2="46.90" y2="452.70" stroke="#000" stroke-width="1.6"/>
<line x1="42.90" y1="258.30" x2="46.90" y2="258.30" stroke="#000" stroke-width="1.6"/>
<path d="M62.30 452.70v2.2M71.30 452.70v2.2M77.70 452.70v2.2M82.65 452.70v2.2M86.70 452.70v2.2M90.13 452.70v2.2M93.09 452.70v2.2M95.71 452.70v2.2M98.05 452.70v3.0M113.45 452.70v2.2M122.45 452.70v2.2M128.85 452.70v2.2M133.80 452.70v2.2M137.85 452.70v2.2M141.28 452.70v2.2M144.24 452.70v2.2M146.86 452.70v2.2M149.20 452.70v3.0M164.60 452.70v2.2M173.60 452.70v2.2M180.00 452.70v2.2M184.95 452.70v2.2M189.00 452.70v2.2M192.43 452.70v2.2M195.39 452.70v2.2M198.01 452.70v2.2M200.35 452.70v3.0M215.75 452.70v2.2M224.75 452.70v2.2M231.15 452.70v2.2M236.10 452.70v2.2M240.15 452.70v2.2M243.58 452.70v2.2M246.54 452.70v2.2M249.16 452.70v2.2M251.50 452.70v3.0" stroke="#000" stroke-width="1.0" fill="none"/>
<text x="39.70" y="467.30" font-size="12.5" font-family='"Liberation Serif", serif' textLength="12.1" lengthAdjust="spacingAndGlyphs" stroke="#000" stroke-width="0.3">10</text>
<text x="51.80" y="464.50" font-size="10.625" font-family='"Liberation Serif", serif' textLength="5.4" lengthAdjust="spacingAndGlyphs" stroke="#000" stroke-width="0.3">0</text>
<text x="89.05" y="467.30" font-size="12.5" font-family='"Liberation Serif", serif' textLength="12.1" lengthAdjust="spacingAndGlyphs" stroke="#000" stroke-width="0.3">10</text>
<text x="101.15" y="464.50" font-size="10.625" font-family='"Liberation Serif", serif' textLength="5.4" lengthAdjust="spacingAndGlyphs" stroke="#000" stroke-width="0.3">1</text>
<text x="141.20" y="467.30" font-size="12.5" font-family='"Liberation Serif", serif' textLength="12.1" lengthAdjust="spacingAndGlyphs" stroke="#000" stroke-width="0.3">10</text>
<text x="153.30" y="464.50" font-size="10.625" font-family='"Liberation Serif", serif' textLength="5.4" lengthAdjust="spacingAndGlyphs" stroke="#000" stroke-width="0.3">2</text>
<text x="190.10" y="467.30" font-size="12.5" font-family='"Liberation Serif", serif' textLength="12.1" lengthAdjust="spacingAndGlyphs" stroke="#000" stroke-width="0.3">10</text>
<text x="202.20" y="464.50" font-size="10.625" font-family='"Liberation Serif", serif' textLength="5.4" lengthAdjust="spacingAndGlyphs" stroke="#000" stroke-width="0.3">3</text>
<text x="242.40" y="467.30" font-size="12.5" font-family='"Liberation Serif", serif' textLength="12.1" lengthAdjust="spacingAndGlyphs" stroke="#000" stroke-width="0.3">10</text>
<text x="254.50" y="464.50" font-size="10.625" font-family='"Liberation Serif", serif' textLength="5.4" lengthAdjust="spacingAndGlyphs" stroke="#000" stroke-width="0.3">4</text>
<text transform="translate(39.70,275.20) rotate(-90)" font-size="14.5" font-family='"Liberation Sans", sans-serif' textLength="20.6" lengthAdjust="spacingAndGlyphs" stroke="#000" stroke-width="0.3">350</text>
<text transform="translate(38.80,455.80) rotate(-90)" font-size="14.5" font-family='"Liberation Sans", sans-serif' textLength="5.4" lengthAdjust="spacingAndGlyphs" stroke="#000" stroke-width="0.3">0</text>
<text x="72.50" y="296.80" font-size="15" font-family='"Liberation Serif", serif' textLength="21.2" lengthAdjust="spacingAndGlyphs" stroke="#000" stroke-width="0.3">STI</text>
<text x="93.70" y="351.70" font-size="15" font-family='"Liberation Serif", serif' textLength="43.2" lengthAdjust="spacingAndGlyphs" stroke="#000" stroke-width="0.3">+ h'ase</text>
<text x="184.40" y="358.70" font-size="15" font-family='"Liberation Serif", serif' textLength="43.8" lengthAdjust="spacingAndGlyphs" stroke="#000" stroke-width="0.3">control</text>
<text x="228.50" y="278.00" font-size="17" font-family='"Liberation Serif", serif' font-weight="bold" textLength="11.5" lengthAdjust="spacingAndGlyphs" stroke="#000" stroke-width="0.3">C</text>
<text x="135.00" y="487.90" font-size="15" font-family='"Liberation Serif", serif' textLength="25.4" lengthAdjust="spacingAndGlyphs" stroke="#000" stroke-width="0.3">IL-7</text>
<rect x="300.00" y="259.90" width="205.80" height="193.90" fill="none" stroke="#000" stroke-width="1.6"/>
<path d="M300.00 453.80h-3.5M300.00 434.41h-3.5M300.00 415.02h-3.5M300.00 395.63h-3.5M300.00 376.24h-3.5M300.00 356.85h-3.5M300.00 337.46h-3.5M300.00 318.07h-3.5M300.00 298.68h-3.5M300.00 279.29h-3.5M300.00 259.90h-3.5" stroke="#000" stroke-width="1.2" fill="none"/>
<line x1="296.00" y1="453.80" x2="300.00" y2="453.80" stroke="#000" stroke-width="1.6"/>
<line x1="296.00" y1="259.90" x2="300.00" y2="259.90" stroke="#000" stroke-width="1.6"/>
<path d="M315.49 453.80v2.2M324.55 453.80v2.2M330.98 453.80v2.2M335.96 453.80v2.2M340.04 453.80v2.2M343.48 453.80v2.2M346.46 453.80v2.2M349.10 453.80v2.2M351.45 453.80v3.0M366.94 453.80v2.2M376.00 453.80v2.2M382.43 453.80v2.2M387.41 453.80v2.2M391.49 453.80v2.2M394.93 453.80v2.2M397.91 453.80v2.2M400.55 453.80v2.2M402.90 453.80v3.0M418.39 453.80v2.2M427.45 453.80v2.2M433.88 453.80v2.2M438.86 453.80v2.2M442.94 453.80v2.2M446.38 453.80v2.2M449.36 453.80v2.2M452.00 453.80v2.2M454.35 453.80v3.0M469.84 453.80v2.2M478.90 453.80v2.2M485.33 453.80v2.2M490.31 453.80v2.2M494.39 453.80v2.2M497.83 453.80v2.2M500.81 453.80v2.2M503.45 453.80v2.2M505.80 453.80v3.0" stroke="#000" stroke-width="1.0" fill="none"/>
<text x="292.50" y="467.70" font-size="12.5" font-family='"Liberation Serif", serif' textLength="11.8" lengthAdjust="spacingAndGlyphs" stroke="#000" stroke-width="0.3">10</text>
<text x="304.30" y="464.90" font-size="10.625" font-family='"Liberation Serif", serif' textLength="5.4" lengthAdjust="spacingAndGlyphs" stroke="#000" stroke-width="0.3">0</text>
<text x="341.25" y="467.70" font-size="12.5" font-family='"Liberation Serif", serif' textLength="11.8" lengthAdjust="spacingAndGlyphs" stroke="#000" stroke-width="0.3">10</text>
<text x="353.05" y="464.90" font-size="10.625" font-family='"Liberation Serif", serif' textLength="5.4" lengthAdjust="spacingAndGlyphs" stroke="#000" stroke-width="0.3">1</text>
<text x="394.30" y="467.70" font-size="12.5" font-family='"Liberation Serif", serif' textLength="11.8" lengthAdjust="spacingAndGlyphs" stroke="#000" stroke-width="0.3">10</text>
<text x="406.10" y="464.90" font-size="10.625" font-family='"Liberation Serif", serif' textLength="5.4" lengthAdjust="spacingAndGlyphs" stroke="#000" stroke-width="0.3">2</text>
<text x="445.25" y="467.70" font-size="12.5" font-family='"Liberation Serif", serif' textLength="11.8" lengthAdjust="spacingAndGlyphs" stroke="#000" stroke-width="0.3">10</text>
<text x="457.05" y="464.90" font-size="10.625" font-family='"Liberation Serif", serif' textLength="5.4" lengthAdjust="spacingAndGlyphs" stroke="#000" stroke-width="0.3">3</text>
<text x="498.30" y="467.70" font-size="12.5" font-family='"Liberation Serif", serif' textLength="11.8" lengthAdjust="spacingAndGlyphs" stroke="#000" stroke-width="0.3">10</text>
<text x="510.10" y="464.90" font-size="10.625" font-family='"Liberation Serif", serif' textLength="5.4" lengthAdjust="spacingAndGlyphs" stroke="#000" stroke-width="0.3">4</text>
<text transform="translate(294.00,277.70) rotate(-90)" font-size="15" font-family='"Liberation Serif", serif' textLength="20.8" lengthAdjust="spacingAndGlyphs" stroke="#000" stroke-width="0.3">400</text>
<text transform="translate(293.80,456.90) rotate(-90)" font-size="15" font-family='"Liberation Serif", serif' textLength="5.4" lengthAdjust="spacingAndGlyphs" stroke="#000" stroke-width="0.3">0</text>
<text x="336.90" y="294.10" font-size="15" font-family='"Liberation Serif", serif' textLength="21.0" lengthAdjust="spacingAndGlyphs" stroke="#000" stroke-width="0.3">STI</text>
<text x="359.00" y="363.60" font-size="15" font-family='"Liberation Serif", serif' textLength="43.3" lengthAdjust="spacingAndGlyphs" stroke="#000" stroke-width="0.3">+ h'ase</text>
<text x="394.00" y="402.50" font-size="15" font-family='"Liberation Serif", serif' textLength="44.7" lengthAdjust="spacingAndGlyphs" stroke="#000" stroke-width="0.3">control</text>
<text x="485.00" y="280.30" font-size="16.5" font-family='"Liberation Serif", serif' font-weight="bold" textLength="12.2" lengthAdjust="spacingAndGlyphs" stroke="#000" stroke-width="0.3">D</text>
<text x="387.30" y="488.50" font-size="15" font-family='"Liberation Serif", serif' textLength="24.8" lengthAdjust="spacingAndGlyphs" stroke="#000" stroke-width="0.3">IL-2</text>
<rect x="46.90" y="524.20" width="202.30" height="195.00" fill="none" stroke="#000" stroke-width="1.6"/>
<path d="M46.90 719.20h-3.5M46.90 699.70h-3.5M46.90 680.20h-3.5M46.90 660.70h-3.5M46.90 641.20h-3.5M46.90 621.70h-3.5M46.90 602.20h-3.5M46.90 582.70h-3.5M46.90 563.20h-3.5M46.90 543.70h-3.5M46.90 524.20h-3.5" stroke="#000" stroke-width="1.2" fill="none"/>
<line x1="42.90" y1="719.20" x2="46.90" y2="719.20" stroke="#000" stroke-width="1.6"/>
<line x1="42.90" y1="524.20" x2="46.90" y2="524.20" stroke="#000" stroke-width="1.6"/>
<path d="M62.12 719.20v2.2M71.03 719.20v2.2M77.35 719.20v2.2M82.25 719.20v2.2M86.25 719.20v2.2M89.64 719.20v2.2M92.57 719.20v2.2M95.16 719.20v2.2M97.47 719.20v3.0M112.70 719.20v2.2M121.61 719.20v2.2M127.92 719.20v2.2M132.83 719.20v2.2M136.83 719.20v2.2M140.22 719.20v2.2M143.15 719.20v2.2M145.74 719.20v2.2M148.05 719.20v3.0M163.27 719.20v2.2M172.18 719.20v2.2M178.50 719.20v2.2M183.40 719.20v2.2M187.40 719.20v2.2M190.79 719.20v2.2M193.72 719.20v2.2M196.31 719.20v2.2M198.62 719.20v3.0M213.85 719.20v2.2M222.76 719.20v2.2M229.07 719.20v2.2M233.98 719.20v2.2M237.98 719.20v2.2M241.37 719.20v2.2M244.30 719.20v2.2M246.89 719.20v2.2M249.20 719.20v3.0" stroke="#000" stroke-width="1.0" fill="none"/>
<text x="37.90" y="735.60" font-size="12.5" font-family='"Liberation Serif", serif' textLength="12.6" lengthAdjust="spacingAndGlyphs" stroke="#000" stroke-width="0.3">10</text>
<text x="50.50" y="732.80" font-size="10.625" font-family='"Liberation Serif", serif' textLength="5.4" lengthAdjust="spacingAndGlyphs" stroke="#000" stroke-width="0.3">0</text>
<text x="87.37" y="735.60" font-size="12.5" font-family='"Liberation Serif", serif' textLength="12.6" lengthAdjust="spacingAndGlyphs" stroke="#000" stroke-width="0.3">10</text>
<text x="99.97" y="732.80" font-size="10.625" font-family='"Liberation Serif", serif' textLength="5.4" lengthAdjust="spacingAndGlyphs" stroke="#000" stroke-width="0.3">1</text>
<text x="138.65" y="735.60" font-size="12.5" font-family='"Liberation Serif", serif' textLength="12.6" lengthAdjust="spacingAndGlyphs" stroke="#000" stroke-width="0.3">10</text>
<text x="151.25" y="732.80" font-size="10.625" font-family='"Liberation Serif", serif' textLength="5.4" lengthAdjust="spacingAndGlyphs" stroke="#000" stroke-width="0.3">2</text>
<text x="188.48" y="735.60" font-size="12.5" font-family='"Liberation Serif", serif' textLength="12.6" lengthAdjust="spacingAndGlyphs" stroke="#000" stroke-width="0.3">10</text>
<text x="201.08" y="732.80" font-size="10.625" font-family='"Liberation Serif", serif' textLength="5.4" lengthAdjust="spacingAndGlyphs" stroke="#000" stroke-width="0.3">3</text>
<text x="241.40" y="735.60" font-size="12.5" font-family='"Liberation Serif", serif' textLength="12.6" lengthAdjust="spacingAndGlyphs" stroke="#000" stroke-width="0.3">10</text>
<text x="254.00" y="732.80" font-size="10.625" font-family='"Liberation Serif", serif' textLength="5.4" lengthAdjust="spacingAndGlyphs" stroke="#000" stroke-width="0.3">4</text>
<text transform="translate(37.70,541.90) rotate(-90)" font-size="14.5" font-family='"Liberation Sans", sans-serif' textLength="20.9" lengthAdjust="spacingAndGlyphs" stroke="#000" stroke-width="0.3">350</text>
<text transform="translate(37.70,721.00) rotate(-90)" font-size="14.5" font-family='"Liberation Sans", sans-serif' textLength="5.4" lengthAdjust="spacingAndGlyphs" stroke="#000" stroke-width="0.3">0</text>
<text x="54.60" y="548.50" font-size="15" font-family='"Liberation Serif", serif' textLength="20.8" lengthAdjust="spacingAndGlyphs" stroke="#000" stroke-width="0.3">IgG</text>
<text x="75.40" y="552.70" font-size="11" font-family='"Liberation Serif", serif' textLength="14.6" lengthAdjust="spacingAndGlyphs" stroke="#000" stroke-width="0.3">2a</text>
<text x="111.90" y="542.50" font-size="15" font-family='"Liberation Serif", serif' textLength="43.3" lengthAdjust="spacingAndGlyphs" stroke="#000" stroke-width="0.3">+ h'ase</text>
<text x="137.80" y="622.30" font-size="15" font-family='"Liberation Serif", serif' textLength="45.0" lengthAdjust="spacingAndGlyphs" stroke="#000" stroke-width="0.3">control</text>
<text x="233.00" y="545.00" font-size="16.5" font-family='"Liberation Serif", serif' font-weight="bold" textLength="9.3" lengthAdjust="spacingAndGlyphs" stroke="#000" stroke-width="0.3">E</text>
<text x="95.30" y="754.90" font-size="15" font-family='"Liberation Serif", serif' textLength="95.2" lengthAdjust="spacingAndGlyphs" stroke="#000" stroke-width="0.3">IL-7R&#945; (SB/14)</text>
<text transform="translate(12.50,435.70) rotate(-90)" font-size="14.3" font-family='"Liberation Sans", sans-serif' textLength="52.1" lengthAdjust="spacingAndGlyphs" stroke="#000" stroke-width="0.3">relative</text>
<text transform="translate(12.50,368.00) rotate(-90)" font-size="14.3" font-family='"Liberation Sans", sans-serif' textLength="22.1" lengthAdjust="spacingAndGlyphs" stroke="#000" stroke-width="0.3">cell</text>
<text transform="translate(12.50,332.30) rotate(-90)" font-size="14.3" font-family='"Liberation Sans", sans-serif' textLength="50.2" lengthAdjust="spacingAndGlyphs" stroke="#000" stroke-width="0.3">number</text>
<text transform="translate(12.50,700.40) rotate(-90)" font-size="14.3" font-family='"Liberation Sans", sans-serif' textLength="52.1" lengthAdjust="spacingAndGlyphs" stroke="#000" stroke-width="0.3">relative</text>
<text transform="translate(12.50,632.70) rotate(-90)" font-size="14.3" font-family='"Liberation Sans", sans-serif' textLength="22.1" lengthAdjust="spacingAndGlyphs" stroke="#000" stroke-width="0.3">cell</text>
<text transform="translate(12.50,597.00) rotate(-90)" font-size="14.3" font-family='"Liberation Sans", sans-serif' textLength="50.2" lengthAdjust="spacingAndGlyphs" stroke="#000" stroke-width="0.3">number</text>
<path d="M47.2 378.6 48.0 369.2 48.8 366.4 49.6 359.6 50.4 355.4 51.2 346.7 52.0 341.7 52.8 332.9 53.6 319.9 54.4 300.9 55.2 298.2 56.0 293.5 56.8 295.9 57.6 289.1 58.4 283.0 59.2 287.8 60.0 284.4 60.8 283.4 61.6 279.3 62.4 281.5 63.2 291.4 64.0 296.2 64.8 301.8 65.6 309.0 66.4 329.5 67.2 336.1 68.0 339.2 68.8 348.4 69.6 355.4 70.4 366.7 71.2 375.2 72.0 381.2 72.8 386.3 73.6 394.3 74.4 397.0 75.2 403.3 76.0 406.4 76.8 413.7 77.6 420.2 78.4 425.2 79.2 430.1 80.0 433.5 80.8 435.3 81.6 439.1 82.4 439.7 83.2 443.1 84.0 444.6 84.8 445.6 85.6 446.5 86.4 448.4 87.2 450.1 88.0 451.2 89.3 451.6 90.1 451.6 90.9 451.8 91.7 451.6 92.5 451.9 93.3 452.1 94.1 452.1 94.9 451.1 95.7 452.0 96.5 451.9 97.3 450.7 98.1 451.3 98.9 452.1 99.7 451.2 100.5 451.9 101.3 451.9 102.1 452.0 102.9 451.1 103.7 452.0 104.5 451.3 105.3 451.6 106.1 451.3 106.9 451.3 107.7 451.0 108.5 451.9 109.3 451.5 110.1 452.0 110.9 451.3 111.7 451.9 112.5 452.1 113.3 452.0 114.1 451.7 114.9 452.0 115.7 451.8 116.5 452.2 117.3 451.7 118.1 452.1 118.9 451.5 119.7 451.2 120.5 451.7 121.3 452.0 122.1 451.5 122.9 451.5 123.7 451.8 124.5 452.0 125.3 452.1 126.1 451.7 126.9 451.7 127.7 451.3 128.5 451.8 129.3 452.1 130.1 451.2 130.9 451.7 131.7 452.2 132.5 451.9 133.3 450.5 134.1 450.6 134.9 451.7 135.7 451.2 136.5 450.9 137.3 451.8 138.1 451.5 138.9 451.9 139.7 452.2 140.5 451.7 141.3 451.8 142.1 451.8 142.9 451.5 143.7 451.5 144.5 452.0 145.3 451.1 146.1 452.1 146.9 451.6 147.7 452.0 148.5 451.8 149.3 451.8 150.1 451.9 150.9 451.5 151.7 452.0 152.5 452.2 153.3 452.1 154.1 451.5 154.9 451.7 155.7 451.4 156.5 451.7 157.3 451.9 158.1 452.0 158.9 451.8 159.7 452.0" fill="none" stroke="#000" stroke-width="1.5" stroke-linejoin="miter"/>
<path d="M47.2 448.4 48.0 448.0 48.8 449.5 49.6 447.3 50.4 445.9 51.2 445.1 52.0 445.8 52.8 446.4 53.6 440.3 54.4 442.5 55.2 440.0 56.0 432.3 56.8 433.1 57.6 429.3 58.4 420.3 59.2 425.7 60.0 418.6 60.8 413.4 61.6 414.5 62.4 408.3 63.2 419.5 64.0 408.2 64.8 409.5 65.6 405.1 66.4 408.9 67.2 404.5 68.0 401.7 68.8 407.4 69.6 387.0 70.4 387.9 71.2 391.3 72.0 376.1 72.8 378.2 73.6 381.7 74.4 384.2 75.2 367.5 76.0 371.3 76.8 375.8 77.6 368.9 78.4 367.8 79.2 369.4 80.0 371.8 80.8 369.8 81.6 369.8 82.4 371.7 83.2 370.7 84.0 364.6 84.8 359.6 85.6 363.0 86.4 358.7 87.2 366.6 88.0 358.2 88.8 366.6 89.6 371.4 90.4 372.2 91.2 369.6 92.0 375.1 92.8 369.8 93.6 377.2 94.4 367.4 95.2 371.9 96.0 365.3 96.8 374.1 97.6 361.3 98.4 362.9 99.2 371.9 100.0 380.1 100.8 378.6 101.6 385.9 102.4 384.7 103.2 382.5 104.0 384.9 104.8 393.9 105.6 395.5 106.4 393.7 107.2 396.8 108.0 402.6 108.8 408.3 109.6 407.5 110.4 415.1 111.2 418.1 112.0 422.7 112.8 423.3 113.6 419.6 114.4 421.3 115.2 416.4 116.0 430.3 116.8 419.9 117.6 429.0 118.4 426.4 119.2 433.5 120.0 435.9 120.8 430.9 121.6 434.2 122.4 437.7 123.2 437.8 124.0 440.7 124.8 440.6 125.6 443.6 126.4 445.3 127.2 447.1 128.0 446.8 128.8 449.4 129.6 447.1 130.4 451.8 131.2 450.9 132.0 450.0 132.8 450.7 133.6 450.8 134.4 452.1 135.8 451.8 136.6 451.7 137.4 451.7 138.2 451.6 139.0 452.2 139.8 451.7 140.6 451.4 141.4 452.0 142.2 452.1 143.0 452.1 143.8 451.5 144.6 451.7 145.4 452.2 146.2 451.9 147.0 451.8 147.8 452.2 148.6 451.8 149.4 451.1 150.2 451.4 151.0 451.7 151.8 451.2 152.6 451.7 153.4 451.7 154.2 451.8 155.0 451.0 155.8 451.7 156.6 452.0 157.4 451.8 158.2 451.4 159.0 451.7 159.8 452.0 160.6 451.6 161.4 452.0 162.2 452.1 163.0 451.6 163.8 451.7 164.6 451.2 165.4 451.8 166.2 451.3 167.0 451.8 167.8 450.8 168.6 451.3 169.4 451.7 170.2 451.8 171.0 451.9 171.8 451.8 172.6 451.9 173.4 451.7 174.2 451.6 175.0 451.9 175.8 451.7 176.6 451.9 177.4 451.2 178.2 451.2 179.0 451.2 179.8 451.6 180.6 451.6 181.4 452.1 182.2 451.3 183.0 450.8 183.8 452.0 184.6 451.7 185.4 451.7 186.2 451.8 187.0 451.6 187.8 452.2 188.6 451.9 189.4 451.5 190.2 451.9 191.0 451.8 191.8 450.9 192.6 452.2 193.4 451.7 194.2 452.0 195.0 451.3 195.8 451.6 196.6 452.1 197.4 451.9 198.2 452.0 199.0 451.3 199.8 452.0" fill="none" stroke="#000" stroke-width="1.5" stroke-linejoin="miter"/>
<path d="M80.0 452.4 80.8 452.4 81.6 451.4 82.4 452.0 83.2 452.3 84.0 451.0 84.8 451.7 85.6 451.6 86.4 451.6 87.2 451.7 88.0 451.6 88.8 451.0 89.6 450.9 90.4 450.8 91.2 449.4 92.0 449.3 92.8 449.0 93.6 449.8 94.4 448.9 95.2 449.5 96.0 447.2 96.8 449.2 97.6 446.6 98.4 450.4 99.2 447.9 100.0 449.2 100.8 445.9 101.6 446.9 102.4 443.6 103.2 446.8 104.0 441.2 104.8 445.5 105.6 440.0 106.4 444.3 107.2 441.0 108.0 443.8 108.8 441.2 109.6 441.3 110.4 439.1 111.2 436.6 112.0 438.1 112.8 440.6 113.6 438.2 114.4 435.2 115.2 438.3 116.0 430.4 116.8 435.2 117.6 432.0 118.4 434.2 119.2 430.6 120.0 426.7 120.8 428.7 121.6 427.8 122.4 424.4 123.2 424.4 124.0 426.8 124.8 421.6 125.6 418.3 126.4 419.4 127.2 419.4 128.0 415.3 128.8 414.3 129.6 419.2 130.4 413.7 131.2 412.5 132.0 416.5 132.8 414.5 133.6 402.2 134.4 402.3 135.2 405.6 136.0 402.8 136.8 400.0 137.6 399.6 138.4 405.2 139.2 394.6 140.0 403.2 140.8 401.5 141.6 393.4 142.4 391.7 143.2 399.6 144.0 389.5 144.8 386.6 145.6 384.1 146.4 383.4 147.2 382.8 148.0 388.2 148.8 390.4 149.6 395.2 150.4 384.1 151.2 380.8 152.0 390.6 152.8 388.5 153.6 371.0 154.4 377.5 155.2 371.4 156.0 366.1 156.8 366.1 157.6 373.4 158.4 366.9 159.2 372.9 160.0 361.7 160.8 353.3 161.6 368.9 162.4 362.1 163.2 351.9 164.0 350.2 164.8 359.9 165.6 356.1 166.4 353.8 167.2 350.5 168.0 358.9 168.8 353.7 169.6 351.8 170.4 357.3 171.2 355.6 172.0 355.5 172.8 349.1 173.6 358.4 174.4 372.9 175.2 369.9 176.0 372.9 176.8 390.7 177.6 386.7 178.4 399.2 179.2 412.4 180.0 415.1 180.8 418.3 181.6 421.0 182.4 433.1 183.2 430.0 184.0 434.8 184.8 434.6 185.6 442.6 186.4 447.6 187.2 446.7 188.0 446.3 188.8 450.2 189.6 452.2 190.6 452.2 191.4 451.7 192.2 452.2 193.0 451.6 193.8 451.3 194.6 452.0 195.4 451.6 196.2 451.6 197.0 451.6 197.8 451.5 198.6 451.5 199.4 451.3 200.2 451.6 201.0 450.6 201.8 451.3 202.6 452.2 203.4 451.6 204.2 451.5 205.0 450.9 205.8 452.0 206.6 452.1 207.4 452.0 208.2 451.1 209.0 451.7 209.8 451.7 210.6 451.8 211.4 452.0 212.2 451.9 213.0 451.5 213.8 452.0 214.6 452.2" fill="none" stroke="#000" stroke-width="1.5" stroke-linejoin="miter"/>
<path d="M301.0 442.2 301.8 438.4 302.6 436.4 303.4 433.7 304.2 429.5 305.0 426.1 305.8 423.6 306.6 415.7 307.4 407.0 308.2 401.2 309.0 391.6 309.8 383.4 310.6 371.8 311.4 364.7 312.2 350.7 313.0 333.9 313.8 316.2 314.6 301.1 315.4 291.7 316.2 287.8 317.0 285.5 317.8 282.7 318.6 275.2 319.4 271.5 320.2 268.9 321.0 271.4 321.8 272.9 322.6 278.9 323.4 283.7 324.2 293.4 325.0 290.5 325.8 299.1 326.6 311.9 327.4 319.2 328.2 330.0 329.0 338.3 329.8 354.4 330.6 365.3 331.4 378.2 332.2 388.1 333.0 392.4 333.8 398.6 334.6 406.2 335.4 412.4 336.2 418.4 337.0 423.1 337.8 427.2 338.6 430.2 339.4 433.6 340.2 437.5 341.0 440.7 341.8 442.6 342.6 445.5 343.4 446.9 344.2 448.4 345.0 450.4 345.8 452.9 346.7 452.9 347.5 452.0 348.3 452.3 349.1 452.9 349.9 453.2 350.7 453.1 351.5 452.9 352.3 452.6 353.1 453.0 353.9 452.5 354.7 452.3 355.5 453.3 356.3 452.9 357.1 453.2 357.9 453.0 358.7 452.6 359.5 452.6 360.3 452.9 361.1 453.2 361.9 452.5 362.7 453.2 363.5 453.2 364.3 453.3 365.1 451.7 365.9 453.2 366.7 452.8 367.5 452.9 368.3 452.3 369.1 453.3 369.9 452.8 370.7 452.7 371.5 453.2" fill="none" stroke="#000" stroke-width="1.5" stroke-linejoin="miter"/>
<path d="M308.6 453.5 309.4 452.8 310.2 452.2 311.0 450.5 311.8 449.5 312.6 446.2 313.4 446.7 314.2 447.8 315.0 444.1 315.8 446.3 316.6 444.3 317.4 442.8 318.2 438.6 319.0 440.3 319.8 441.9 320.6 439.1 321.4 439.3 322.2 437.6 323.0 436.5 323.8 433.3 324.6 428.6 325.4 429.0 326.2 430.9 327.0 435.7 327.8 436.6 328.6 431.0 329.4 435.1 330.2 425.7 331.0 419.3 331.8 426.4 332.6 420.7 333.4 421.8 334.2 424.8 335.0 413.6 335.8 418.0 336.6 419.4 337.4 418.7 338.2 416.1 339.0 414.1 339.8 408.9 340.6 416.4 341.4 398.8 342.2 406.2 343.0 403.0 343.8 405.2 344.6 406.2 345.4 397.1 346.2 389.2 347.0 393.2 347.8 389.8 348.6 399.2 349.4 380.1 350.2 391.7 351.0 388.2 351.8 392.1 352.6 383.9 353.4 395.5 354.2 384.9 355.0 393.9 355.8 392.0 356.6 384.7 357.4 390.6 358.2 395.8 359.0 381.3 359.8 397.8 360.6 389.1 361.4 388.3 362.2 395.8 363.0 389.3 363.8 389.9 364.6 385.7 365.4 379.5 366.2 384.7 367.0 378.0 367.8 383.4 368.6 388.1 369.4 379.4 370.2 384.2 371.0 382.7 371.8 385.5 372.6 384.4 373.4 380.0 374.2 385.4 375.0 387.3 375.8 396.8 376.6 386.6 377.4 389.5 378.2 388.7 379.0 384.8 379.8 391.9 380.6 390.9 381.4 394.3 382.2 390.0 383.0 393.3 383.8 392.0 384.6 406.9 385.4 405.8 386.2 417.4 387.0 416.6 387.8 415.9 388.6 419.6 389.4 422.0 390.2 425.8 391.0 430.2 391.8 430.0 392.6 432.5 393.4 436.9 394.2 438.9 395.0 441.5 395.8 441.5 396.6 446.9 397.4 445.4 398.2 446.4 399.0 450.4 399.8 451.2 400.6 451.2 401.4 451.3 402.2 452.5 403.0 453.0 403.8 453.5 404.6 453.5 405.4 453.1 406.2 452.3 407.0 453.1 407.8 453.2 408.6 453.0 409.4 452.6 410.2 452.7 411.0 452.2 411.8 452.4 412.6 452.9 413.4 452.7 414.2 452.7 415.0 452.6 415.8 452.2 416.6 453.2 417.4 453.2" fill="none" stroke="#000" stroke-width="1.5" stroke-linejoin="miter"/>
<path d="M311.2 453.3 312.0 452.2 312.8 451.3 313.6 450.7 314.4 450.7 315.2 450.4 316.0 445.9 316.8 447.5 317.6 449.5 318.4 443.9 319.2 444.1 320.0 442.7 320.8 446.9 321.6 440.4 322.4 436.1 323.2 441.7 324.0 436.5 324.8 437.4 325.6 437.5 326.4 435.1 327.2 432.2 328.0 431.3 328.8 433.3 329.6 432.2 330.4 429.3 331.2 430.9 332.0 430.0 332.8 420.8 333.6 427.9 334.4 421.5 335.2 424.3 336.0 425.3 336.8 418.0 337.6 419.6 338.4 414.0 339.2 416.4 340.0 408.8 340.8 411.5 341.6 409.9 342.4 409.8 343.2 398.5 344.0 408.7 344.8 409.1 345.6 402.3 346.4 392.6 347.2 402.1 348.0 391.0 348.8 395.7 349.6 391.4 350.4 392.5 351.2 386.6 352.0 394.9 352.8 394.5 353.6 392.0 354.4 394.7 355.2 393.5 356.0 389.1 356.8 389.0 357.6 397.3 358.4 389.9 359.2 394.8 360.0 387.4 360.8 395.2 361.6 378.4 362.4 383.8 363.2 391.3 364.0 391.8 364.8 391.1 365.6 389.2 366.4 391.9 367.2 379.5 368.0 380.7 368.8 387.3 369.6 388.7 370.4 386.0 371.2 387.6 372.0 387.6 372.8 388.9 373.6 385.0 374.4 387.4 375.2 388.2 376.0 390.7 376.8 389.4 377.6 392.2 378.4 391.0 379.2 398.2 380.0 384.9 380.8 386.7 381.6 393.3 382.4 391.3 383.2 392.3 384.0 397.7 384.8 393.4 385.6 396.9 386.4 403.1 387.2 401.8 388.0 410.3 388.8 412.5 389.6 414.0 390.4 423.5 391.2 420.0 392.0 422.9 392.8 425.4 393.6 427.9 394.4 433.6 395.2 434.4 396.0 432.5 396.8 438.7 397.6 443.3 398.4 444.1 399.2 446.0 400.0 447.4 400.8 448.1 401.6 446.6 402.4 449.8 403.2 451.9 404.0 451.8 404.8 453.5 405.6 453.1 406.4 453.0 407.2 453.0 408.0 452.7 408.8 452.4 409.6 453.2 410.4 452.5 411.2 452.9 412.0 452.7 412.8 452.3 413.6 452.6 414.4 453.2 415.2 453.0 416.0 452.1 416.8 453.0 417.6 453.1 418.4 453.1 419.2 453.1" fill="none" stroke="#000" stroke-width="1.5" stroke-linejoin="miter"/>
<path d="M47.2 699.4 48.0 697.3 48.8 694.4 49.6 690.9 50.4 689.1 51.2 688.3 52.0 683.0 52.8 675.8 53.6 671.2 54.4 669.1 55.2 668.1 56.0 659.4 56.8 644.3 57.6 639.9 58.4 636.6 59.2 614.9 60.0 619.3 60.8 605.8 61.6 599.5 62.4 592.9 63.2 592.5 64.0 589.2 64.8 580.6 65.6 575.1 66.4 570.3 67.2 569.1 68.0 565.4 68.8 565.0 69.6 555.2 70.4 560.5 71.2 569.3 72.0 565.8 72.8 573.6 73.6 574.6 74.4 584.0 75.2 583.8 76.0 586.4 76.8 591.3 77.6 595.0 78.4 603.3 79.2 610.4 80.0 611.8 80.8 622.5 81.6 634.5 82.4 648.7 83.2 646.3 84.0 653.9 84.8 664.3 85.6 670.6 86.4 668.4 87.2 677.3 88.0 679.2 88.8 686.0 89.6 695.2 90.4 698.1 91.2 702.0 92.0 702.9 92.8 706.5 93.6 709.2 94.4 707.6 95.2 709.8 96.0 713.2 96.8 713.2 97.6 714.5 98.4 714.8 99.2 716.4 100.0 716.2 100.8 716.2 101.6 716.7 102.4 717.8 103.2 718.4 104.0 717.5 104.8 718.1 105.6 718.0 106.4 718.5 107.2 718.4 108.0 718.9 109.4 718.6 110.2 718.3 111.0 717.1 111.8 718.3 112.6 718.4 113.4 718.6 114.2 717.1 115.0 718.6 115.8 718.4 116.6 718.6 117.4 718.6 118.2 717.6 119.0 717.9 119.8 718.7 120.6 717.9 121.4 718.0 122.2 717.8 123.0 718.3 123.8 718.7 124.6 718.1 125.4 717.8 126.2 717.9 127.0 718.1 127.8 718.3 128.6 718.6 129.4 718.6 130.2 718.7 131.0 718.4 131.8 718.1 132.6 718.3 133.4 718.4 134.2 718.5 135.0 718.5 135.8 717.5 136.6 718.4 137.4 718.4 138.2 718.4 139.0 717.9 139.8 718.7 140.6 718.4 141.4 718.3 142.2 718.1 143.0 718.6 143.8 718.3 144.6 718.1 145.4 718.2 146.2 718.3 147.0 718.3 147.8 718.4 148.6 718.6 149.4 718.5" fill="none" stroke="#000" stroke-width="1.5" stroke-linejoin="miter"/>
<path d="M69.6 718.5 70.4 718.4 71.2 717.5 72.0 716.3 72.8 716.9 73.6 716.3 74.4 716.1 75.2 714.3 76.0 712.4 76.8 711.1 77.6 709.3 78.4 707.5 79.2 706.5 80.0 706.7 80.8 705.2 81.6 698.2 82.4 698.0 83.2 689.5 84.0 683.3 84.8 677.3 85.6 674.4 86.4 663.9 87.2 649.7 88.0 648.9 88.8 653.2 89.6 631.8 90.4 638.5 91.2 627.3 92.0 615.4 92.8 608.2 93.6 595.6 94.4 589.8 95.2 577.1 96.0 565.6 96.8 546.8 97.6 547.7 98.4 550.1 99.2 541.1 100.0 543.5 100.8 543.9 101.6 546.7 102.4 547.5 103.2 553.6 104.0 552.9 104.8 560.1 105.6 555.4 106.4 574.9 107.2 584.6 108.0 585.5 108.8 596.7 109.6 599.8 110.4 611.0 111.2 617.2 112.0 620.9 112.8 631.3 113.6 649.1 114.4 647.9 115.2 658.5 116.0 661.1 116.8 668.5 117.6 677.6 118.4 680.1 119.2 686.8 120.0 685.2 120.8 694.6 121.6 694.8 122.4 699.1 123.2 701.9 124.0 702.6 124.8 705.2 125.6 709.6 126.4 712.0 127.2 713.3 128.0 717.5 129.4 717.7 130.2 718.1 131.0 718.1 131.8 717.2 132.6 718.5 133.4 718.0 134.2 717.8 135.0 718.3 135.8 718.5 136.6 717.7 137.4 718.6 138.2 718.2 139.0 718.4 139.8 717.7 140.6 718.4 141.4 718.7 142.2 718.6 143.0 718.5 143.8 718.3 144.6 718.3 145.4 718.5 146.2 718.5 147.0 718.1 147.8 717.6 148.6 718.3 149.4 717.9 150.2 718.5 151.0 717.8 151.8 718.6 152.6 718.2 153.4 718.4 154.2 718.1 155.0 717.9 155.8 718.7 156.6 718.7 157.4 718.5 158.2 718.6 159.0 718.3 159.8 718.6" fill="none" stroke="#000" stroke-width="1.5" stroke-linejoin="miter"/>
<path d="M77.6 718.6 78.4 718.2 79.2 717.7 80.0 717.5 80.8 716.8 81.6 716.5 82.4 716.0 83.2 716.7 84.0 713.7 84.8 712.7 85.6 714.0 86.4 710.6 87.2 712.2 88.0 708.4 88.8 707.5 89.6 702.2 90.4 704.6 91.2 698.9 92.0 693.3 92.8 685.1 93.6 678.4 94.4 671.8 95.2 663.2 96.0 653.6 96.8 657.0 97.6 646.7 98.4 633.4 99.2 635.9 100.0 619.6 100.8 608.3 101.6 604.5 102.4 603.9 103.2 598.0 104.0 596.6 104.8 581.2 105.6 587.4 106.4 581.4 107.2 573.6 108.0 578.0 108.8 574.1 109.6 565.3 110.4 570.2 111.2 567.1 112.0 575.9 112.8 573.8 113.6 567.4 114.4 568.6 115.2 572.4 116.0 572.3 116.8 578.5 117.6 578.5 118.4 584.3 119.2 591.5 120.0 606.8 120.8 606.9 121.6 613.6 122.4 624.1 123.2 636.3 124.0 627.3 124.8 638.8 125.6 649.0 126.4 661.2 127.2 668.5 128.0 673.8 128.8 677.4 129.6 684.2 130.4 692.0 131.2 695.4 132.0 699.3 132.8 703.5 133.6 707.1 134.4 708.7 135.2 713.9 136.0 716.3 136.8 716.0 137.6 718.4 138.8 718.2 139.6 718.1 140.4 718.0 141.2 718.3 142.0 718.0 142.8 717.9 143.6 718.5 144.4 718.3 145.2 718.4 146.0 718.1 146.8 717.9 147.6 718.0 148.4 718.6 149.2 717.9 150.0 718.6 150.8 718.5 151.6 718.2 152.4 718.2 153.2 718.6 154.0 718.5 154.8 717.4 155.6 718.1 156.4 718.5 157.2 718.4 158.0 718.5 158.8 717.9 159.6 718.7 160.4 718.6 161.2 718.6 162.0 717.9 162.8 717.8 163.6 718.6 164.4 718.6 165.2 718.1 166.0 718.6 166.8 717.9 167.6 717.8 168.4 718.3 169.2 718.0" fill="none" stroke="#000" stroke-width="1.5" stroke-linejoin="miter"/>
</svg></body></html>
